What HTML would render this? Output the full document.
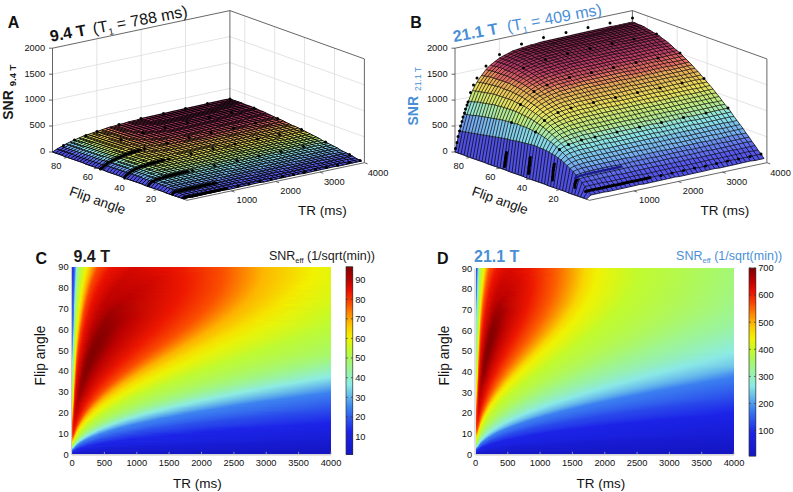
<!DOCTYPE html><html><head><meta charset="utf-8"><style>*{margin:0;padding:0}
body{width:793px;height:492px;overflow:hidden;background:#fff;position:relative;font-family:"Liberation Sans",sans-serif}
.hm,.cb{position:absolute;overflow:hidden}
.hm i{position:absolute;left:0;width:100%;height:1px;display:block}
svg{position:absolute;left:0;top:0}
text{font-family:"Liberation Sans",sans-serif}
</style></head><body><div class="hm" style="left:72px;top:267px;width:259px;height:187px"><i style="top:0px;background:linear-gradient(90deg,#1c24e8 0.2%,#253fea 0.6%,#356eee 1.0%,#5aaaec 1.4%,#8dece0 1.7%,#a4f872 2.5%,#c2fa2b 4.1%,#f2f100 5.6%,#fdad00 7.5%,#f94200 10.2%,#ea0f00 15.6%,#d60900 24.5%,#ed1700 41.9%,#fb4f00 58.1%,#fdb900 74.3%,#f0f202 94.0%,#e4f40c 99.8%)"></i><i style="top:1px;background:linear-gradient(90deg,#1d25e8 0.2%,#2640ea 0.6%,#3670ee 1.0%,#5daeec 1.4%,#8eecdb 1.7%,#a5f86e 2.5%,#d1f81c 4.4%,#f3ee00 5.6%,#fea700 7.5%,#fa4600 9.8%,#eb1100 14.9%,#d40800 23.7%,#ed1600 41.9%,#fb4f00 58.1%,#fdb900 74.3%,#f0f202 94.0%,#e4f40c 99.8%)"></i><i style="top:2px;background:linear-gradient(90deg,#1d26e8 0.2%,#2641eb 0.6%,#3671ef 1.0%,#60b2eb 1.4%,#8fedd7 1.7%,#a6f86b 2.5%,#d4f71a 4.4%,#f4eb00 5.6%,#fea100 7.5%,#f94200 9.8%,#ea0f00 14.9%,#d30800 23.4%,#ed1700 42.3%,#fb4e00 58.1%,#fdb900 74.3%,#f0f202 94.0%,#e4f40c 99.8%)"></i><i style="top:3px;background:linear-gradient(90deg,#1d26e8 0.2%,#2742eb 0.6%,#3773ef 1.0%,#64b6eb 1.4%,#90edd3 1.7%,#9cf497 2.1%,#a7f869 2.5%,#d6f718 4.4%,#f0f202 5.2%,#fdad00 7.1%,#fa4700 9.5%,#ec1200 14.1%,#d20800 22.6%,#e70e00 38.0%,#fb4e00 58.1%,#fdb700 73.9%,#f1f201 93.2%,#e4f40c 99.8%)"></i><i style="top:4px;background:linear-gradient(90deg,#1d27e8 0.2%,#2743eb 0.6%,#3774ef 1.0%,#67baeb 1.4%,#91eece 1.7%,#9df493 2.1%,#a8f867 2.5%,#d9f615 4.4%,#f2f100 5.2%,#fea800 7.1%,#f94300 9.5%,#eb0f00 14.1%,#d10700 22.2%,#e50d00 37.6%,#fb4e00 58.1%,#fdb700 73.9%,#f1f201 93.2%,#e4f40c 99.8%)"></i><i style="top:5px;background:linear-gradient(90deg,#1e28e8 0.2%,#2745eb 0.6%,#3876ef 1.0%,#6abeea 1.4%,#92eeca 1.7%,#9ef58e 2.1%,#a9f865 2.5%,#cdf820 4.1%,#f3ef00 5.2%,#fdb500 6.8%,#fa4900 9.1%,#ed1600 12.9%,#d10700 21.4%,#e10c00 36.1%,#f12600 47.3%,#fb4e00 58.1%,#fdb700 73.9%,#f1f201 93.2%,#e4f40c 99.8%)"></i><i style="top:6px;background:linear-gradient(90deg,#1e29e9 0.2%,#2846eb 0.6%,#3877ef 1.0%,#6dc2ea 1.4%,#93efc6 1.7%,#9ff589 2.1%,#aaf863 2.5%,#cff81d 4.1%,#f3ec00 5.2%,#fdaf00 6.8%,#f94400 9.1%,#ea0f00 13.7%,#cf0700 21.4%,#e00c00 36.1%,#f12600 47.3%,#fb4e00 58.1%,#fdb800 73.9%,#f1f201 93.2%,#e4f40c 99.8%)"></i><i style="top:7px;background:linear-gradient(90deg,#1e2ae9 0.2%,#2847eb 0.6%,#3979ef 1.0%,#70c7e9 1.4%,#94efc1 1.7%,#a0f684 2.1%,#abf861 2.5%,#d2f71b 4.1%,#f4e900 5.2%,#fea900 6.8%,#fa4c00 8.7%,#ef1d00 11.8%,#e10c00 14.9%,#cd0600 23.7%,#ed1600 42.7%,#fb4e00 58.1%,#fdb800 73.9%,#f1f201 93.2%,#e4f40c 99.8%)"></i><i style="top:8px;background:linear-gradient(90deg,#1f2be9 0.2%,#2848eb 0.6%,#397aef 1.0%,#74cbe9 1.4%,#95efbd 1.7%,#a1f680 2.1%,#acf85e 2.5%,#d5f719 4.1%,#f1f201 4.8%,#fdb800 6.4%,#fa4600 8.7%,#eb0f00 12.9%,#ce0600 20.3%,#da0a00 33.8%,#ee1b00 44.2%,#fb4e00 58.1%,#fdb800 73.9%,#f1f201 93.2%,#e4f40c 99.8%)"></i><i style="top:9px;background:linear-gradient(90deg,#1f2ce9 0.2%,#2949eb 0.6%,#3a7cef 1.0%,#77cfe9 1.4%,#96f0b8 1.7%,#a2f77b 2.1%,#b5f948 2.9%,#d7f717 4.1%,#f2f100 4.8%,#fdb200 6.4%,#f94200 8.7%,#e90f00 12.9%,#cd0600 20.3%,#da0a00 34.2%,#ef1c00 44.6%,#fb4e00 58.1%,#fdb600 73.6%,#f2f100 92.1%,#e3f40c 99.8%)"></i><i style="top:10px;background:linear-gradient(90deg,#1f2de9 0.2%,#294aeb 0.6%,#3a7df0 1.0%,#7ad4e8 1.4%,#96f0b4 1.7%,#a3f776 2.1%,#bffa32 3.3%,#f3ee00 4.8%,#fdac00 6.4%,#fa4a00 8.3%,#ed1600 11.8%,#cc0600 19.9%,#d80900 33.4%,#ee1b00 44.2%,#fb4f00 58.1%,#fdb700 73.6%,#f2f200 92.5%,#e3f50d 99.8%)"></i><i style="top:11px;background:linear-gradient(90deg,#202de9 0.2%,#2a4ceb 0.6%,#3b7ff0 1.0%,#7dd8e8 1.4%,#97f1af 1.7%,#a4f871 2.1%,#ccf820 3.7%,#f4eb00 4.8%,#fea600 6.4%,#f94400 8.3%,#eb1000 12.2%,#cc0600 19.1%,#d40800 31.9%,#ee1a00 43.8%,#fb4f00 58.1%,#fdb800 73.6%,#f1f200 92.5%,#e3f50d 99.8%)"></i><i style="top:12px;background:linear-gradient(90deg,#202ee9 0.2%,#2a4dec 0.6%,#3b80f0 1.0%,#81dce7 1.4%,#98f1ab 1.7%,#a5f86d 2.1%,#cff81e 3.7%,#eef304 4.4%,#fdb600 6.0%,#fb4e00 7.9%,#f22800 9.8%,#e30d00 12.9%,#c90500 20.3%,#da0a00 34.6%,#ef1c00 44.6%,#fb5000 58.1%,#fdb800 73.6%,#f0f201 92.9%,#e2f50d 99.8%)"></i><i style="top:13px;background:linear-gradient(90deg,#202fe9 0.2%,#2b4eec 0.6%,#3c82f0 1.0%,#84e1e7 1.4%,#a6f86b 2.1%,#d1f81c 3.7%,#f1f201 4.4%,#fdb000 6.0%,#fa4800 7.9%,#eb0f00 11.8%,#cb0500 18.3%,#d00700 30.3%,#ee1800 43.4%,#fb5000 58.1%,#fdb900 73.6%,#f0f202 92.9%,#e2f50e 99.8%)"></i><i style="top:14px;background:linear-gradient(90deg,#2030e9 0.2%,#2b4fec 0.6%,#3f86f0 1.0%,#88e5e7 1.4%,#9af2a1 1.7%,#a7f869 2.1%,#c3fa29 3.3%,#f2f100 4.4%,#fdaa00 6.0%,#f94300 7.9%,#e90e00 11.8%,#c90500 18.3%,#d00700 30.3%,#ee1800 43.4%,#fb4e00 57.7%,#fdb500 72.8%,#f3ee00 89.8%,#e2f50e 99.8%)"></i><i style="top:15px;background:linear-gradient(90deg,#2131e9 0.2%,#2b51ec 0.6%,#4289ef 1.0%,#8beae6 1.4%,#9bf39d 1.7%,#a8f867 2.1%,#c5fa27 3.3%,#f3ee00 4.4%,#fea500 6.0%,#fb4e00 7.5%,#f02100 9.8%,#e00c00 12.5%,#c60400 19.9%,#d90900 34.2%,#ee1b00 44.2%,#fb4f00 57.7%,#fdb600 72.8%,#f2f000 90.5%,#e1f50e 99.8%)"></i><i style="top:16px;background:linear-gradient(90deg,#2132e9 0.2%,#2c52ec 0.6%,#458def 1.0%,#8debe3 1.4%,#9cf398 1.7%,#a9f864 2.1%,#d9f615 3.7%,#f4eb00 4.4%,#fe9f00 6.0%,#fa4700 7.5%,#eb1000 11.0%,#c80500 17.6%,#cd0600 29.2%,#ee1800 43.4%,#fb5000 57.7%,#fdb700 72.8%,#f2f200 91.3%,#e1f50f 99.8%)"></i><i style="top:17px;background:linear-gradient(90deg,#2133e9 0.2%,#2c53ec 0.6%,#4891ef 1.0%,#8eecdf 1.4%,#9df493 1.7%,#aaf862 2.1%,#dcf613 3.7%,#f4e800 4.4%,#fdb000 5.6%,#f94300 7.5%,#ea0f00 11.0%,#c80400 17.2%,#cb0500 28.4%,#ee1900 43.4%,#fb4d00 57.3%,#fdb600 72.4%,#f3f000 89.8%,#e0f50f 99.8%)"></i><i style="top:18px;background:linear-gradient(90deg,#2234e9 0.2%,#2d54ec 0.6%,#4b95ee 1.0%,#8eecda 1.4%,#9ef48e 1.7%,#abf860 2.1%,#ccf820 3.3%,#eff303 4.1%,#fdaa00 5.6%,#fb4e00 7.1%,#f12400 9.1%,#e40d00 11.4%,#c50400 18.0%,#ce0600 29.9%,#ee1900 43.4%,#fb4f00 57.3%,#fdb500 72.0%,#f4eb00 87.8%,#e0f50f 99.8%)"></i><i style="top:19px;background:linear-gradient(90deg,#2235ea 0.2%,#2d56ec 0.6%,#4e99ee 1.0%,#8fedd6 1.4%,#9ff58a 1.7%,#acf85e 2.1%,#cff81e 3.3%,#f2f200 4.1%,#fea400 5.6%,#fa4700 7.1%,#ec1200 10.2%,#c70400 16.4%,#c70400 26.8%,#ed1800 43.1%,#fb5000 57.3%,#fdb600 72.0%,#f3f000 89.4%,#dff510 99.8%)"></i><i style="top:20px;background:linear-gradient(90deg,#2236ea 0.2%,#2d57ec 0.6%,#519ded 1.0%,#90edd2 1.4%,#a0f685 1.7%,#adf95c 2.1%,#d2f81c 3.3%,#f2f000 4.1%,#fe9f00 5.6%,#f94300 7.1%,#eb0f00 10.2%,#c70400 16.0%,#c60400 26.4%,#ed1800 43.1%,#fb4e00 56.9%,#fdb500 71.6%,#f4ec00 87.5%,#dff510 99.8%)"></i><i style="top:21px;background:linear-gradient(90deg,#2337ea 0.2%,#2e58ec 0.6%,#54a1ed 1.0%,#91eecd 1.4%,#a1f680 1.7%,#aef959 2.1%,#d4f719 3.3%,#f3ed00 4.1%,#fdb200 5.2%,#fb4f00 6.8%,#f22900 8.3%,#e50d00 10.6%,#c40300 16.8%,#c80500 28.0%,#ee1800 43.1%,#fb4f00 56.9%,#fdb600 71.6%,#f2f000 89.0%,#def511 99.8%)"></i><i style="top:22px;background:linear-gradient(90deg,#2338ea 0.2%,#2e59ed 0.6%,#57a5ed 1.0%,#92eec9 1.4%,#a2f77b 1.7%,#b9f93e 2.5%,#d7f717 3.3%,#f4ea00 4.1%,#fdac00 5.2%,#fa4900 6.8%,#eb1000 9.8%,#c50400 15.6%,#c40300 25.7%,#ed1700 42.7%,#fb4d00 56.6%,#fdb500 71.2%,#f3ee00 87.8%,#def511 99.8%)"></i><i style="top:23px;background:linear-gradient(90deg,#2339ea 0.2%,#2f5bed 0.6%,#5aa9ec 1.0%,#93efc4 1.4%,#a3f776 1.7%,#baf93c 2.5%,#ecf305 3.7%,#fcc000 4.8%,#f94300 6.8%,#e90e00 9.8%,#c50400 15.3%,#c20300 24.9%,#ed1800 42.7%,#fb4f00 56.6%,#fdb400 70.8%,#f4e900 85.5%,#ddf612 99.8%)"></i><i style="top:24px;background:linear-gradient(90deg,#243aea 0.2%,#2f5ced 0.6%,#5dadec 1.0%,#94efc0 1.4%,#a4f871 1.7%,#c8f924 2.9%,#eff303 3.7%,#fdbc00 4.8%,#fb5200 6.4%,#f63800 7.1%,#e70e00 9.8%,#c30300 15.6%,#c30300 25.7%,#ed1800 42.7%,#fb4d00 56.2%,#fdb400 70.5%,#f5e700 84.7%,#e1f50f 97.5%,#dcf612 99.8%)"></i><i style="top:25px;background:linear-gradient(90deg,#243bea 0.2%,#305eed 0.6%,#60b2eb 1.0%,#95f0bb 1.4%,#a5f86d 1.7%,#caf922 2.9%,#f1f201 3.7%,#fdb600 4.8%,#fa4c00 6.4%,#ee1900 8.7%,#d40800 11.8%,#bd0100 18.7%,#d50800 33.0%,#ee1a00 43.1%,#fb4f00 56.2%,#fdb500 70.5%,#f3ee00 86.7%,#dcf613 99.8%)"></i><i style="top:26px;background:linear-gradient(90deg,#253cea 0.2%,#305fed 0.6%,#64b6eb 1.0%,#96f0b7 1.4%,#a6f86b 1.7%,#cdf820 2.9%,#f2f000 3.7%,#fdb000 4.8%,#fa4500 6.4%,#eb1100 9.1%,#c40300 14.5%,#bf0200 23.7%,#ed1800 42.3%,#fb4e00 55.8%,#fdb400 70.1%,#f4ea00 85.1%,#dbf614 99.8%)"></i><i style="top:27px;background:linear-gradient(90deg,#253dea 0.2%,#3160ed 0.6%,#67baeb 1.0%,#97f1b2 1.4%,#a7f869 1.7%,#d0f81d 2.9%,#f3ee00 3.7%,#feaa00 4.8%,#f94200 6.4%,#ea0f00 9.1%,#c40300 14.1%,#bd0100 23.0%,#ed1700 41.9%,#fb5000 55.8%,#fdb600 70.1%,#f2f000 87.1%,#daf614 99.8%)"></i><i style="top:28px;background:linear-gradient(90deg,#253fea 0.2%,#3162ed 0.6%,#6abeea 1.0%,#98f1ad 1.4%,#a8f867 1.7%,#d2f71b 2.9%,#f4ea00 3.7%,#fea400 4.8%,#fb5000 6.0%,#f32d00 7.1%,#e80e00 9.1%,#c20300 14.1%,#bd0100 23.0%,#ed1700 41.9%,#fb4e00 55.4%,#fdb300 69.3%,#f5e700 83.2%,#e2f50d 95.2%,#d9f615 99.8%)"></i><i style="top:29px;background:linear-gradient(90deg,#2640ea 0.2%,#3263ed 0.6%,#6dc3ea 1.0%,#99f2a9 1.4%,#a9f864 1.7%,#d5f719 2.9%,#f5e700 3.7%,#fe9e00 4.8%,#fa4900 6.0%,#eb0f00 8.7%,#c30300 13.7%,#bc0100 22.6%,#ed1700 41.5%,#fb4d00 55.0%,#fdb300 68.9%,#f5e400 82.0%,#e6f40a 92.9%,#d9f616 99.8%)"></i><i style="top:30px;background:linear-gradient(90deg,#2641eb 0.2%,#3264ee 0.6%,#71c7e9 1.0%,#9af2a4 1.4%,#aaf862 1.7%,#c2fa2b 2.5%,#ecf305 3.3%,#fdb600 4.4%,#f94400 6.0%,#e90e00 8.7%,#c10200 13.7%,#bc0100 22.6%,#ed1700 41.5%,#fb4f00 55.0%,#fdb500 68.9%,#f3ec00 84.4%,#d8f616 99.8%)"></i><i style="top:31px;background:linear-gradient(90deg,#2642eb 0.2%,#36e 0.6%,#74cbe9 1.0%,#9bf39f 1.4%,#abf860 1.7%,#c3fa28 2.5%,#eff303 3.3%,#fdb000 4.4%,#fb5600 5.6%,#f63700 6.4%,#e70e00 8.7%,#c00200 13.7%,#bb0100 22.6%,#ed1600 41.1%,#fb4e00 54.6%,#fdb400 68.5%,#f4ea00 83.2%,#d7f717 99.8%)"></i><i style="top:32px;background:linear-gradient(90deg,#2743eb 0.2%,#3367ee 0.6%,#77d0e9 1.0%,#9cf39a 1.4%,#acf85e 1.7%,#c5fa26 2.5%,#f2f200 3.3%,#fcc800 4.1%,#fb4f00 5.6%,#f32b00 6.8%,#e50d00 8.7%,#bf0200 13.7%,#ba0000 22.2%,#ed1700 41.1%,#fb4d00 54.2%,#fdb400 68.1%,#f4e900 82.4%,#d9f615 98.3%,#d6f718 99.8%)"></i><i style="top:33px;background:linear-gradient(90deg,#2744eb 0.2%,#3469ee 0.6%,#7bd4e8 1.0%,#9df495 1.4%,#adf95b 1.7%,#c8f924 2.5%,#f3f000 3.3%,#fea400 4.4%,#fa4900 5.6%,#ec1200 7.9%,#c00200 12.9%,#b80000 20.7%,#ed1600 40.7%,#fb5000 54.2%,#fdb400 67.8%,#f4e800 81.7%,#dff510 94.8%,#d5f719 99.8%)"></i><i style="top:34px;background:linear-gradient(90deg,#2846eb 0.2%,#346aee 0.6%,#7ed9e8 1.0%,#9ef491 1.4%,#aef959 1.7%,#cbf922 2.5%,#f3ed00 3.3%,#fe9e00 4.4%,#f94300 5.6%,#eb0f00 7.9%,#c10200 12.5%,#b50000 19.5%,#ed1700 40.7%,#fb4f00 53.9%,#fdb400 67.4%,#f5e700 80.9%,#e3f50d 92.5%,#d4f719 99.8%)"></i><i style="top:35px;background:linear-gradient(90deg,#2847eb 0.2%,#356cee 0.6%,#82dde7 1.0%,#9ff58c 1.4%,#aff957 1.7%,#e5f40b 2.9%,#f4e900 3.3%,#fe9800 4.4%,#f84000 5.6%,#e90e00 7.9%,#c00200 12.5%,#b30000 19.1%,#ed1700 40.3%,#fb4e00 53.5%,#fdb400 67.0%,#f5e600 80.1%,#e5f40b 90.9%,#d3f71a 99.8%)"></i><i style="top:36px;background:linear-gradient(90deg,#2848eb 0.2%,#356dee 0.6%,#85e2e7 1.0%,#a0f587 1.4%,#b0f954 1.7%,#e8f409 2.9%,#facf00 3.7%,#fb5100 5.2%,#f22900 6.4%,#e70e00 7.9%,#be0200 12.5%,#b00000 18.7%,#ed1600 40.0%,#fb4d00 53.1%,#fdb400 66.6%,#f5e600 79.7%,#e4f40b 90.5%,#d2f71b 99.8%)"></i><i style="top:37px;background:linear-gradient(90deg,#2949eb 0.2%,#366fee 0.6%,#89e7e6 1.0%,#a1f682 1.4%,#b1f952 1.7%,#d3f71b 2.5%,#ebf306 2.9%,#fbcb00 3.7%,#fa4a00 5.2%,#eb0f00 7.5%,#c10200 11.8%,#ae0000 18.3%,#ed1700 40.0%,#fb5000 53.1%,#fdb600 66.6%,#f3f000 82.8%,#d1f81c 99.8%)"></i><i style="top:38px;background:linear-gradient(90deg,#294aeb 0.2%,#3670ef 0.6%,#8cebe6 1.0%,#a2f67d 1.4%,#b2f950 1.7%,#d5f718 2.5%,#edf304 2.9%,#fcc800 3.7%,#f94400 5.2%,#e90e00 7.5%,#bf0200 11.8%,#ac0000 18.0%,#ed1600 39.6%,#fb5000 52.7%,#fdb600 66.2%,#f2f000 82.4%,#d0f81d 99.8%)"></i><i style="top:39px;background:linear-gradient(90deg,#2a4ceb 0.2%,#3772ef 0.6%,#8dece1 1.0%,#a3f778 1.4%,#c0fa2e 2.1%,#f0f202 2.9%,#fcc300 3.7%,#fc5b00 4.8%,#f94100 5.2%,#e60e00 7.5%,#be0100 11.8%,#a00 17.6%,#ed1600 39.2%,#fb4f00 52.3%,#fdb400 65.4%,#f4e800 79.0%,#e0f510 91.3%,#cff81e 99.8%)"></i><i style="top:40px;background:linear-gradient(90deg,#2a4dec 0.2%,#3773ef 0.6%,#8eecdd 1.0%,#a4f872 1.4%,#c1fa2c 2.1%,#f2f100 2.9%,#fdbe00 3.7%,#fb5400 4.8%,#f53300 5.6%,#e40d00 7.5%,#bd0100 11.8%,#a80000 17.2%,#ed1500 38.8%,#fb4f00 51.9%,#fdb400 65.1%,#f4e800 78.6%,#def511 91.3%,#cef81f 99.8%)"></i><i style="top:41px;background:linear-gradient(90deg,#2b4eec 0.2%,#3875ef 0.6%,#8fecd8 1.0%,#a5f86e 1.4%,#c2fa29 2.1%,#f3ef00 2.9%,#fdb800 3.7%,#fb4d00 4.8%,#ef1c00 6.4%,#dc0b00 7.9%,#ad0000 14.1%,#a00 18.7%,#ed1600 38.8%,#fb4e00 51.5%,#fdb400 64.7%,#f4ea00 78.6%,#d0f81d 98.3%,#cdf820 99.8%)"></i><i style="top:42px;background:linear-gradient(90deg,#2b4fec 0.2%,#3877ef 0.6%,#90edd4 1.0%,#a6f86b 1.4%,#c4fa27 2.1%,#f4eb00 2.9%,#ff8e00 4.1%,#fa4600 4.8%,#ec1100 6.8%,#be0200 11.0%,#a40000 16.4%,#ec1400 38.0%,#fb4e00 51.2%,#fdb500 64.3%,#f4ea00 78.2%,#ccf921 99.8%)"></i><i style="top:43px;background:linear-gradient(90deg,#2b51ec 0.2%,#3978ef 0.6%,#91edcf 1.0%,#a7f869 1.4%,#c7f925 2.1%,#f4e800 2.9%,#fdac00 3.7%,#f94200 4.8%,#eb0f00 6.8%,#bf0200 10.6%,#a20000 16.0%,#ec1400 37.6%,#fb4e00 50.8%,#fdb200 63.5%,#f6e200 75.1%,#e8f408 85.1%,#caf922 99.8%)"></i><i style="top:44px;background:linear-gradient(90deg,#2c52ec 0.2%,#397aef 0.6%,#92eeca 1.0%,#a8f867 1.4%,#caf922 2.1%,#e6f40a 2.5%,#fbca00 3.3%,#fb5a00 4.4%,#f83f00 4.8%,#e90e00 6.8%,#be0100 10.6%,#a10000 15.6%,#ec1300 37.3%,#fb4e00 50.4%,#fdb300 63.1%,#f5e400 75.1%,#e7f40a 85.1%,#c9f923 99.8%)"></i><i style="top:45px;background:linear-gradient(90deg,#2c53ec 0.2%,#3a7bef 0.6%,#93eec6 1.0%,#a9f865 1.4%,#cdf820 2.1%,#e9f408 2.5%,#fcc600 3.3%,#fb5300 4.4%,#f43000 5.2%,#e60e00 6.8%,#bc0100 10.6%,#9f0000 15.3%,#b50000 20.7%,#ed1800 38.0%,#fb4e00 50.0%,#fdb300 62.7%,#f5e700 75.5%,#e3f50d 86.3%,#c8f924 99.8%)"></i><i style="top:46px;background:linear-gradient(90deg,#2d55ec 0.2%,#3a7df0 0.6%,#94efc1 1.0%,#aaf862 1.4%,#cff81e 2.1%,#ebf306 2.5%,#fcc100 3.3%,#fa4c00 4.4%,#ee1800 6.0%,#ce0600 8.3%,#9e0000 14.9%,#b20000 20.3%,#ed1700 37.6%,#fb4e00 49.6%,#fdb100 62.0%,#f6e000 72.8%,#e9f307 82.8%,#c7f925 99.8%)"></i><i style="top:47px;background:linear-gradient(90deg,#2d56ec 0.2%,#3b7ff0 0.6%,#95f0bc 1.0%,#abf860 1.4%,#d2f71b 2.1%,#eef303 2.5%,#fdbc00 3.3%,#fa4500 4.4%,#e90e00 6.4%,#be0200 9.8%,#9c0000 14.9%,#b30000 20.3%,#ed1700 37.3%,#fb4e00 49.2%,#fdb200 61.6%,#f6e100 72.8%,#e9f408 82.4%,#c5fa26 99.8%)"></i><i style="top:48px;background:linear-gradient(90deg,#2e58ec 0.2%,#3b81f0 0.6%,#96f0b7 1.0%,#acf85e 1.4%,#d5f719 2.1%,#f1f201 2.5%,#fdb600 3.3%,#f94200 4.4%,#e70e00 6.4%,#bd0100 9.8%,#9b0000 14.5%,#ad0000 19.5%,#ed1700 36.9%,#fb4e00 48.8%,#fdb300 61.2%,#f6e300 72.8%,#e7f409 82.4%,#c4fa27 99.8%)"></i><i style="top:49px;background:linear-gradient(90deg,#2e59ed 0.2%,#3c83f0 0.6%,#97f1b2 1.0%,#adf95b 1.4%,#d8f616 2.1%,#f2f000 2.5%,#ff8600 3.7%,#fc5c00 4.1%,#f83f00 4.4%,#eb1100 6.0%,#be0200 9.5%,#9a0000 14.1%,#ab0000 19.1%,#ec1300 35.7%,#fb4e00 48.5%,#fdb300 60.8%,#f5e500 72.8%,#e5f40b 82.8%,#c3fa28 99.8%)"></i><i style="top:50px;background:linear-gradient(90deg,#2f5aed 0.2%,#4087f0 0.6%,#98f1ae 1.0%,#aef959 1.4%,#daf614 2.1%,#f3ed00 2.5%,#fea900 3.3%,#fb5500 4.1%,#f42e00 4.8%,#ea0f00 6.0%,#bd0100 9.5%,#900 13.7%,#a60000 18.3%,#c30300 24.1%,#ed1800 36.5%,#fb4f00 48.1%,#fdb400 60.4%,#f4e800 73.2%,#ddf612 85.9%,#c2fa2a 99.8%)"></i><i style="top:51px;background:linear-gradient(90deg,#2f5ced 0.2%,#438bef 0.6%,#99f2a9 1.0%,#aff956 1.4%,#c0fa2f 1.7%,#f4ea00 2.5%,#fea300 3.3%,#fb4e00 4.1%,#f02000 5.2%,#e00c00 6.4%,#9a0000 12.9%,#9f0000 17.2%,#be0200 22.6%,#ed1800 36.1%,#fb4f00 47.7%,#fdb200 59.7%,#f6e300 70.8%,#e7f409 80.5%,#c2fa2b 99.8%)"></i><i style="top:52px;background:linear-gradient(90deg,#305ded 0.2%,#468fef 0.6%,#9af2a4 1.0%,#b0f954 1.4%,#c1fa2d 1.7%,#e0f50f 2.1%,#f5e600 2.5%,#fcc800 2.9%,#fa4700 4.1%,#ec1200 5.6%,#bd0100 9.1%,#970000 13.3%,#a40000 18.0%,#c00200 23.0%,#ed1700 35.7%,#fb4f00 47.3%,#fdb300 59.3%,#f5e500 70.8%,#e6f40a 80.5%,#c1fa2c 99.8%)"></i><i style="top:53px;background:linear-gradient(90deg,#305fed 0.2%,#4993ee 0.6%,#9bf39e 1.0%,#b1f951 1.4%,#c2fa2a 1.7%,#e3f50d 2.1%,#f6e300 2.5%,#fcc300 2.9%,#f94200 4.1%,#eb1000 5.6%,#bf0200 8.7%,#960000 12.9%,#a20000 17.6%,#bf0200 22.6%,#ed1700 35.3%,#fb5000 46.9%,#fdb400 58.9%,#f4e900 71.6%,#d4f719 87.8%,#c1fa2e 99.8%)"></i><i style="top:54px;background:linear-gradient(90deg,#3160ed 0.2%,#4c98ee 0.6%,#9cf399 1.0%,#b2f94f 1.4%,#c4fa27 1.7%,#e6f40a 2.1%,#f7df00 2.5%,#fdbd00 2.9%,#fc6100 3.7%,#f83f00 4.1%,#e90f00 5.6%,#bd0100 8.7%,#950000 12.5%,#9d0000 16.8%,#bd0100 21.8%,#ee1900 35.3%,#fb5000 46.5%,#fdb500 58.5%,#f3ee00 72.4%,#c0fa2f 99.8%)"></i><i style="top:55px;background:linear-gradient(90deg,#3162ed 0.2%,#509cee 0.6%,#9df494 1.0%,#b3f94c 1.4%,#c7f925 1.7%,#e9f408 2.1%,#fdb700 2.9%,#fb5a00 3.7%,#f73c00 4.1%,#e70e00 5.6%,#bc0100 8.7%,#940000 12.5%,#9e0000 16.8%,#be0200 21.8%,#ee1900 34.9%,#fb4d00 45.8%,#fdb100 57.3%,#f7df00 67.4%,#e9f408 77.0%,#bffa31 99.8%)"></i><i style="top:56px;background:linear-gradient(90deg,#3263ed 0.2%,#53a0ed 0.6%,#9ef48f 1.0%,#b5f94a 1.4%,#c9f923 1.7%,#ecf305 2.1%,#fdb100 2.9%,#fb5300 3.7%,#f32b00 4.4%,#e50d00 5.6%,#ba0000 8.7%,#930000 12.2%,#9c0000 16.4%,#bd0100 21.4%,#ee1800 34.6%,#fb4e00 45.4%,#fdb200 56.9%,#f6e100 67.4%,#e8f408 76.6%,#bffa31 99.4%,#bffa32 99.8%)"></i><i style="top:57px;background:linear-gradient(90deg,#3265ee 0.2%,#57a5ed 0.6%,#9ff58a 1.0%,#b6f947 1.4%,#eff303 2.1%,#fdab00 2.9%,#fa4b00 3.7%,#eb1000 5.2%,#bc0100 8.3%,#930000 11.8%,#970000 15.6%,#be0200 21.4%,#ee1800 34.2%,#fb4f00 45.0%,#fdb300 56.6%,#f5e500 67.8%,#e6f40a 77.0%,#bffa32 99.0%,#befa34 99.8%)"></i><i style="top:58px;background:linear-gradient(90deg,#36e 0.2%,#5aa9ec 0.6%,#a0f684 1.0%,#b7f945 1.4%,#f1f200 2.1%,#fea400 2.9%,#fa4500 3.7%,#e90e00 5.2%,#bb0100 8.3%,#910000 11.8%,#970000 15.6%,#be0100 21.0%,#ee1800 33.8%,#fb4f00 44.6%,#fdb200 55.8%,#f6e000 65.8%,#e9f408 75.1%,#bffa32 97.9%,#bdfa35 99.8%)"></i><i style="top:59px;background:linear-gradient(90deg,#3368ee 0.2%,#5daeec 0.6%,#a1f67f 1.0%,#b8f942 1.4%,#f3f000 2.1%,#fe9e00 2.9%,#f94100 3.7%,#e70e00 5.2%,#b90000 8.3%,#910000 11.4%,#960000 15.3%,#bd0100 20.7%,#ed1800 33.4%,#fb5000 44.2%,#fdb300 55.4%,#f5e400 66.2%,#e7f409 75.1%,#bffa32 97.1%,#bdfa37 99.8%)"></i><i style="top:60px;background:linear-gradient(90deg,#3469ee 0.2%,#61b3eb 0.6%,#a3f779 1.0%,#b9f93f 1.4%,#d5f719 1.7%,#f3ed00 2.1%,#fcc900 2.5%,#fc6400 3.3%,#f83e00 3.7%,#ec1300 4.8%,#bb0100 7.9%,#920000 11.0%,#940000 14.9%,#be0100 20.7%,#ed1800 33.0%,#fb4d00 43.4%,#fdb100 54.6%,#f6df00 64.3%,#eaf307 73.2%,#bffa32 95.9%,#bcfa38 99.8%)"></i><i style="top:61px;background:linear-gradient(90deg,#346bee 0.2%,#65b7eb 0.6%,#a4f774 1.0%,#baf93d 1.4%,#d8f616 1.7%,#f4e900 2.1%,#fcc400 2.5%,#fc5c00 3.3%,#f73b00 3.7%,#eb1000 4.8%,#be0100 7.5%,#900000 11.0%,#940000 14.9%,#bd0100 20.3%,#ed1800 32.6%,#fb4e00 43.1%,#fdb300 54.2%,#f5e500 65.1%,#e6f40a 73.9%,#bffa32 95.2%,#bbf93a 99.8%)"></i><i style="top:62px;background:linear-gradient(90deg,#356dee 0.2%,#68bcea 0.6%,#a5f86e 1.0%,#bbf93a 1.4%,#dbf614 1.7%,#f5e500 2.1%,#fcbf00 2.5%,#fb5500 3.3%,#f63800 3.7%,#ea0f00 4.8%,#bc0100 7.5%,#900000 10.6%,#900000 14.1%,#bd0100 19.9%,#ed1800 32.2%,#fb4f00 42.7%,#fdb100 53.5%,#f6e000 63.1%,#e9f408 72.0%,#bffa32 94.0%,#bbf93b 99.8%)"></i><i style="top:63px;background:linear-gradient(90deg,#356eee 0.2%,#6cc1ea 0.6%,#a6f86c 1.0%,#bcfa37 1.4%,#def511 1.7%,#f6e100 2.1%,#fdb900 2.5%,#fb4d00 3.3%,#ed1700 4.4%,#c30300 6.8%,#8e0000 10.6%,#900000 14.1%,#bd0100 19.9%,#ed1800 31.9%,#fb5000 42.3%,#fdb300 53.1%,#f5e500 63.9%,#e5f40b 72.8%,#bffa32 93.2%,#baf93d 99.8%)"></i><i style="top:64px;background:linear-gradient(90deg,#3670ee 0.2%,#6fc6ea 0.6%,#a7f869 1.0%,#befa35 1.4%,#e1f50f 1.7%,#f7de00 2.1%,#fe7a00 2.9%,#fa4600 3.3%,#ec1400 4.4%,#bd0100 7.1%,#8f0000 10.2%,#8f0000 13.7%,#bd0100 19.5%,#ed1800 31.5%,#fb4d00 41.5%,#fdb200 52.3%,#f6e100 62.0%,#e9f307 70.5%,#bffa31 92.1%,#b9f93f 99.8%)"></i><i style="top:65px;background:linear-gradient(90deg,#3772ef 0.2%,#73cae9 0.6%,#a8f867 1.0%,#bffa32 1.4%,#e4f40c 1.7%,#f8da00 2.1%,#f94200 3.3%,#ec1200 4.4%,#bc0100 7.1%,#8d0000 10.2%,#8f0000 13.7%,#bc0100 19.1%,#ed1800 31.1%,#fb4e00 41.1%,#fdb300 51.9%,#f5e500 62.4%,#e5f40b 71.2%,#bffa32 91.3%,#b9f940 99.8%)"></i><i style="top:66px;background:linear-gradient(90deg,#3773ef 0.2%,#77cfe9 0.6%,#a9f864 1.0%,#c0fa2f 1.4%,#e7f40a 1.7%,#f9d600 2.1%,#fd6b00 2.9%,#f83f00 3.3%,#eb0f00 4.4%,#be0200 6.8%,#8e0000 9.8%,#8d0000 13.3%,#bc0100 18.7%,#ed1800 30.7%,#fb5000 40.7%,#fdb200 51.2%,#f6e300 61.2%,#e7f409 69.7%,#bffa31 90.2%,#b8f942 99.8%)"></i><i style="top:67px;background:linear-gradient(90deg,#3875ef 0.2%,#7bd4e8 0.6%,#aaf862 1.0%,#c1fa2c 1.4%,#eaf307 1.7%,#fad200 2.1%,#fc6300 2.9%,#f73c00 3.3%,#e90e00 4.4%,#bd0100 6.8%,#8c0000 9.8%,#8e0000 13.3%,#bd0100 18.7%,#ed1800 30.3%,#fb5100 40.3%,#fdb400 50.8%,#f5e700 61.6%,#e1f50e 71.2%,#befa33 90.2%,#b7f944 99.8%)"></i><i style="top:68px;background:linear-gradient(90deg,#3877ef 0.2%,#7fdae8 0.6%,#abf85f 1.0%,#c2fa2a 1.4%,#edf304 1.7%,#face00 2.1%,#fc5c00 2.9%,#f63900 3.3%,#e60e00 4.4%,#bb0100 6.8%,#8d0000 9.5%,#8a0000 12.5%,#bc0100 18.3%,#ed1800 29.9%,#fb4e00 39.6%,#fdaf00 49.6%,#f7dd00 58.1%,#eaf307 67.0%,#bffa32 88.2%,#b6f946 99.8%)"></i><i style="top:69px;background:linear-gradient(90deg,#3979ef 0.2%,#83dfe7 0.6%,#acf85d 1.0%,#c4fa27 1.4%,#f0f202 1.7%,#fbcb00 2.1%,#fb5400 2.9%,#f63600 3.3%,#ec1400 4.1%,#b40000 7.1%,#8f0000 9.1%,#890000 12.2%,#bd0100 18.3%,#ee1800 29.5%,#fb4f00 39.2%,#fdb100 49.2%,#f6e100 58.5%,#e9f408 66.6%,#bffa31 87.1%,#b6f947 99.8%)"></i><i style="top:70px;background:linear-gradient(90deg,#397bef 0.2%,#87e4e7 0.6%,#aef95a 1.0%,#c7f924 1.4%,#f2f100 1.7%,#fcc600 2.1%,#fa4c00 2.9%,#f02100 3.7%,#e10c00 4.4%,#910000 8.7%,#860000 11.4%,#ae0000 16.0%,#ed1600 28.8%,#fa4c00 38.4%,#fdb000 48.5%,#f7de00 56.9%,#eaf307 65.4%,#bffa32 86.3%,#b5f949 99.8%)"></i><i style="top:71px;background:linear-gradient(90deg,#3a7cf0 0.2%,#8be9e6 0.6%,#aff957 1.0%,#caf922 1.4%,#f3ee00 1.7%,#fcc000 2.1%,#fa4500 2.9%,#eb0f00 4.1%,#bb0100 6.4%,#8b0000 9.1%,#8a0000 12.2%,#bc0100 17.6%,#ee1800 28.8%,#fb4e00 38.0%,#fdb200 48.1%,#f6e000 56.9%,#e9f408 65.1%,#bffa31 85.1%,#b4f94b 99.8%)"></i><i style="top:72px;background:linear-gradient(90deg,#3b7ef0 0.2%,#8debe3 0.6%,#b0f955 1.0%,#cdf81f 1.4%,#f4ea00 1.7%,#fdbb00 2.1%,#f94100 2.9%,#e80e00 4.1%,#970000 7.9%,#840000 10.2%,#9c0000 14.1%,#bd0100 17.6%,#ee1900 28.4%,#fb5000 37.6%,#fdb100 47.3%,#f7df00 55.8%,#eaf307 63.9%,#bffa31 84.0%,#b3f94d 99.8%)"></i><i style="top:73px;background:linear-gradient(90deg,#3b80f0 0.2%,#8eecde 0.6%,#b1f952 1.0%,#d0f81d 1.4%,#f5e600 1.7%,#fdb400 2.1%,#fd7100 2.5%,#f83e00 2.9%,#e60d00 4.1%,#940000 7.9%,#830000 10.2%,#9e0000 14.1%,#bc0100 17.2%,#ee1900 28.0%,#fa4d00 36.9%,#fdb000 46.5%,#f7dd00 54.6%,#eaf307 63.1%,#bffa32 83.2%,#b2f94f 99.8%)"></i><i style="top:74px;background:linear-gradient(90deg,#3c82f0 0.2%,#8fecd8 0.6%,#b2f94f 1.0%,#d3f71a 1.4%,#f6e200 1.7%,#fdad00 2.1%,#fd6a00 2.5%,#f73b00 2.9%,#ed1500 3.7%,#bc0100 6.0%,#8c0000 8.3%,#850000 11.0%,#be0100 17.2%,#ee1900 27.6%,#fb4e00 36.5%,#fdb200 46.1%,#f6e100 55.0%,#e9f408 62.7%,#bffa31 82.0%,#b2f951 99.8%)"></i><i style="top:75px;background:linear-gradient(90deg,#4087f0 0.2%,#90edd3 0.6%,#b3f94d 1.0%,#d7f717 1.4%,#f7de00 1.7%,#fc6200 2.5%,#f63800 2.9%,#ec1200 3.7%,#a70000 6.8%,#870000 8.7%,#8b0000 11.8%,#bd0100 16.8%,#ee1900 27.2%,#fb5000 36.1%,#fdb400 45.8%,#f4e800 55.8%,#e0f510 65.1%,#befa34 82.0%,#b1f953 99.8%)"></i><i style="top:76px;background:linear-gradient(90deg,#438cef 0.2%,#91eece 0.6%,#b5f94a 1.0%,#daf615 1.4%,#f8da00 1.7%,#fb5a00 2.5%,#f53500 2.9%,#eb0f00 3.7%,#be0100 5.6%,#800 8.3%,#860000 11.0%,#bc0100 16.4%,#ed1700 26.4%,#fa4d00 35.3%,#fdaf00 44.6%,#f7dc00 52.3%,#ebf306 60.4%,#bffa31 79.7%,#b0f955 99.8%)"></i><i style="top:77px;background:linear-gradient(90deg,#4790ef 0.2%,#92eec8 0.6%,#b6f947 1.0%,#ddf612 1.4%,#f9d600 1.7%,#fb5200 2.5%,#f43100 2.9%,#e90e00 3.7%,#bc0100 5.6%,#8a0000 7.9%,#850000 10.6%,#be0100 16.4%,#ed1700 26.1%,#fb4f00 34.9%,#fdb200 44.2%,#f6e100 52.7%,#e9f408 60.0%,#bffa32 79.0%,#aff957 99.8%)"></i><i style="top:78px;background:linear-gradient(90deg,#4b95ee 0.2%,#93efc3 0.6%,#b7f944 1.0%,#e0f50f 1.4%,#fad200 1.7%,#fa4a00 2.5%,#ee1a00 3.3%,#da0a00 4.1%,#800 7.9%,#860000 10.6%,#bd0100 16.0%,#ed1700 25.7%,#fb5100 34.6%,#fdb100 43.4%,#f7de00 51.2%,#eaf307 58.9%,#bffa31 77.8%,#aef959 99.8%)"></i><i style="top:79px;background:linear-gradient(90deg,#4e9aee 0.2%,#94efbe 0.6%,#b8f941 1.0%,#e3f50d 1.4%,#face00 1.7%,#f94300 2.5%,#ed1700 3.3%,#c60400 4.8%,#870000 7.9%,#870000 10.6%,#bd0100 15.6%,#ed1700 25.3%,#fb4d00 33.8%,#fdb000 42.7%,#f7dc00 50.0%,#ebf306 57.7%,#bffa31 76.6%,#adf95b 99.8%)"></i><i style="top:80px;background:linear-gradient(90deg,#529fed 0.2%,#96f0b8 0.6%,#b9f93e 1.0%,#e7f40a 1.4%,#fbca00 1.7%,#f84000 2.5%,#ec1400 3.3%,#bd0100 5.2%,#890000 7.5%,#830000 9.8%,#be0100 15.6%,#ed1800 24.9%,#fb4f00 33.4%,#fdb200 42.3%,#f6e100 50.4%,#e9f408 57.7%,#bffa32 75.9%,#acf85d 99.8%)"></i><i style="top:81px;background:linear-gradient(90deg,#56a4ed 0.2%,#97f1b2 0.6%,#bbf93b 1.0%,#eaf307 1.4%,#fcc500 1.7%,#fe7900 2.1%,#f73d00 2.5%,#ec1200 3.3%,#bc0100 5.2%,#870000 7.5%,#860000 10.2%,#bb0100 14.9%,#ed1800 24.5%,#fa4c00 32.6%,#fdb100 41.5%,#f7df00 49.2%,#eaf307 56.6%,#bffa32 74.7%,#acf85f 99.8%)"></i><i style="top:82px;background:linear-gradient(90deg,#5aa9ec 0.2%,#98f1ac 0.6%,#bcfa38 1.0%,#edf304 1.4%,#fcbf00 1.7%,#fd7000 2.1%,#f73900 2.5%,#eb0f00 3.3%,#980000 6.4%,#810000 8.3%,#930000 11.4%,#b00 14.5%,#ed1800 24.1%,#fb4e00 32.2%,#fdb000 40.7%,#f7dd00 48.1%,#ebf306 55.4%,#bffa31 73.6%,#abf861 99.8%)"></i><i style="top:83px;background:linear-gradient(90deg,#5eaeec 0.2%,#99f2a7 0.6%,#bdfa35 1.0%,#f0f201 1.4%,#fdb900 1.7%,#fc6800 2.1%,#f63600 2.5%,#e80e00 3.3%,#950000 6.4%,#800000 8.3%,#960000 11.4%,#bc0100 14.5%,#ed1800 23.7%,#fb5000 31.9%,#fdb200 40.3%,#f6e200 48.5%,#e8f409 55.4%,#bffa32 72.8%,#aaf863 99.8%)"></i><i style="top:84px;background:linear-gradient(90deg,#62b3eb 0.2%,#9af3a1 0.6%,#bffa32 1.0%,#f2f000 1.4%,#fdb200 1.7%,#fc6000 2.1%,#f53300 2.5%,#e50d00 3.3%,#920000 6.4%,#800000 8.3%,#900 11.4%,#bb0100 14.1%,#ee1800 23.4%,#fb4d00 31.1%,#fdb100 39.6%,#f7df00 46.9%,#eaf307 53.9%,#bffa31 71.2%,#a9f865 99.8%)"></i><i style="top:85px;background:linear-gradient(90deg,#66b9eb 0.2%,#9cf39b 0.6%,#c0fa2f 1.0%,#f3ed00 1.4%,#fdaa00 1.7%,#fb5700 2.1%,#f42f00 2.5%,#e30d00 3.3%,#900000 6.4%,#800000 8.3%,#9c0000 11.4%,#bd0100 14.1%,#ee1900 23.0%,#fb4f00 30.7%,#fdb000 38.8%,#f7dd00 45.8%,#ebf306 52.7%,#bffa31 70.1%,#a8f867 99.8%)"></i><i style="top:86px;background:linear-gradient(90deg,#6abeea 0.2%,#9df495 0.6%,#c1fa2c 1.0%,#f4e900 1.4%,#fea300 1.7%,#fb4f00 2.1%,#f32c00 2.5%,#ed1600 2.9%,#ba0000 4.8%,#8d0000 6.4%,#800000 8.3%,#a50000 11.8%,#be0200 14.1%,#ee1900 22.6%,#fb5100 30.3%,#fdb300 38.4%,#f5e400 46.5%,#e6f40b 53.5%,#bffa32 69.3%,#a7f869 99.8%)"></i><i style="top:87px;background:linear-gradient(90deg,#6ec4ea 0.2%,#9ef48f 0.6%,#c3fa29 1.0%,#f5e400 1.4%,#fe9b00 1.7%,#fa4700 2.1%,#ec1200 2.9%,#bf0200 4.4%,#8b0000 6.4%,#810000 8.3%,#a90000 11.8%,#c00200 14.1%,#ee1900 22.2%,#fb4e00 29.5%,#fdb200 37.6%,#f6e100 45.0%,#e9f408 51.5%,#bffa31 68.1%,#a6f86b 99.8%)"></i><i style="top:88px;background:linear-gradient(90deg,#72c9e9 0.2%,#a0f588 0.6%,#c5fa26 1.0%,#f6e000 1.4%,#ff9400 1.7%,#f94200 2.1%,#eb0f00 2.9%,#bd0100 4.4%,#890000 6.4%,#810000 8.3%,#ad0000 11.8%,#eb1100 20.7%,#fb5000 29.2%,#fdb000 36.9%,#f7dd00 43.4%,#eaf307 50.4%,#bffa31 67.0%,#a5f86e 99.8%)"></i><i style="top:89px;background:linear-gradient(90deg,#77cfe9 0.2%,#a1f682 0.6%,#c8f923 1.0%,#f7dc00 1.4%,#ff8c00 1.7%,#f83e00 2.1%,#e90e00 2.9%,#960000 5.6%,#810000 7.1%,#920000 9.8%,#bc0100 12.9%,#ed1700 21.0%,#fa4c00 28.4%,#fdaf00 36.1%,#f8db00 42.3%,#ebf306 49.2%,#bffa31 65.8%,#a4f872 99.8%)"></i><i style="top:90px;background:linear-gradient(90deg,#7bd5e8 0.2%,#a2f77c 0.6%,#ccf820 1.0%,#f8d800 1.4%,#fe8400 1.7%,#f73b00 2.1%,#e60e00 2.9%,#930000 5.6%,#800000 7.1%,#950000 9.8%,#bb0100 12.5%,#ed1700 20.7%,#fb4f00 28.0%,#fdae00 35.3%,#f8da00 41.5%,#ebf306 48.5%,#bffa31 64.7%,#a3f777 99.8%)"></i><i style="top:91px;background:linear-gradient(90deg,#80dbe8 0.2%,#a4f775 0.6%,#cff81e 1.0%,#f9d300 1.4%,#fe7b00 1.7%,#f63700 2.1%,#e30d00 2.9%,#910000 5.6%,#810000 7.5%,#a50000 10.6%,#c00200 12.9%,#ed1700 20.3%,#fb5100 27.6%,#fdb100 34.9%,#f6e000 41.9%,#e9f307 48.1%,#bffa32 63.9%,#a2f67d 99.8%)"></i><i style="top:92px;background:linear-gradient(90deg,#84e1e7 0.2%,#a5f86e 0.6%,#d3f71b 1.0%,#facf00 1.4%,#fd7200 1.7%,#f53400 2.1%,#ee1900 2.5%,#d20800 3.3%,#a50000 4.8%,#830000 6.4%,#8b0000 8.7%,#bc0100 12.2%,#ed1700 19.9%,#fb4d00 26.8%,#fdaf00 34.2%,#f7dc00 40.3%,#eaf306 46.9%,#bffa32 62.7%,#a2f67e 98.6%,#a1f682 99.8%)"></i><i style="top:93px;background:linear-gradient(90deg,#89e7e6 0.2%,#a6f86b 0.6%,#d6f718 1.0%,#fbca00 1.4%,#fd6900 1.7%,#f43100 2.1%,#ed1600 2.5%,#bc0100 4.1%,#8c0000 5.6%,#820000 7.5%,#ad0000 10.6%,#ec1100 18.7%,#fb4f00 26.4%,#fdae00 33.4%,#f8da00 39.2%,#ecf306 45.8%,#bffa32 61.6%,#a2f67f 97.1%,#a0f587 99.8%)"></i><i style="top:94px;background:linear-gradient(90deg,#8cebe4 0.2%,#a7f868 0.6%,#daf615 1.0%,#fcc500 1.4%,#fc6000 1.7%,#f32d00 2.1%,#ec1300 2.5%,#ad0000 4.4%,#8a0000 5.6%,#830000 7.5%,#bd0100 11.8%,#ed1700 19.1%,#fb5200 26.1%,#fdb100 33.0%,#f7de00 39.2%,#eaf307 45.4%,#bffa31 60.4%,#a2f67e 95.2%,#9ff58d 99.8%)"></i><i style="top:95px;background:linear-gradient(90deg,#8eecde 0.2%,#a9f865 0.6%,#ddf612 1.0%,#fcbf00 1.4%,#fb5700 1.7%,#f22a00 2.1%,#eb0f00 2.5%,#c10200 3.7%,#800 5.6%,#850000 7.5%,#bc0100 11.4%,#ed1700 18.7%,#fb4e00 25.3%,#fdb000 32.2%,#f7dc00 38.0%,#ebf306 44.2%,#bffa31 59.3%,#a2f67e 93.6%,#9df492 99.8%)"></i><i style="top:96px;background:linear-gradient(90deg,#8fecd8 0.2%,#aaf862 0.6%,#e1f50f 1.0%,#fdb700 1.4%,#fb4f00 1.7%,#f12600 2.1%,#e90e00 2.5%,#bf0200 3.7%,#8d0000 5.2%,#810000 6.8%,#a40000 9.5%,#be0200 11.4%,#ed1700 18.3%,#fb5000 24.9%,#fdae00 31.5%,#f7dc00 37.3%,#ebf306 43.4%,#bffa31 58.1%,#a2f67f 92.1%,#9cf398 99.8%)"></i><i style="top:97px;background:linear-gradient(90deg,#90edd2 0.2%,#abf85f 0.6%,#e4f40c 1.0%,#fdaf00 1.4%,#fa4600 1.7%,#f02300 2.1%,#e60d00 2.5%,#940000 4.8%,#810000 6.4%,#900 8.7%,#ba0000 10.6%,#ed1700 18.0%,#fa4b00 24.1%,#fdad00 30.7%,#f8d900 36.1%,#ecf305 42.3%,#bffa31 56.9%,#a2f67e 90.2%,#9bf39d 99.8%)"></i><i style="top:98px;background:linear-gradient(90deg,#91eecc 0.2%,#adf95c 0.6%,#e8f408 1.0%,#fea700 1.4%,#f94100 1.7%,#f02000 2.1%,#e30d00 2.5%,#920000 4.8%,#820000 6.4%,#9d0000 8.7%,#bc0100 10.6%,#ed1800 17.6%,#fb4e00 23.7%,#fdb000 30.3%,#f7db00 35.7%,#ecf305 41.5%,#bffa31 55.8%,#a2f67e 88.6%,#9af2a3 99.8%)"></i><i style="top:99px;background:linear-gradient(90deg,#93eec6 0.2%,#aef959 0.6%,#ecf305 1.0%,#fe9f00 1.4%,#f83d00 1.7%,#ef1c00 2.1%,#d00700 2.9%,#800 5.2%,#850000 6.8%,#be0100 10.6%,#ed1800 17.2%,#fb5000 23.4%,#fdae00 29.5%,#f8d900 34.6%,#ebf306 40.7%,#bffa32 55.0%,#a2f67e 87.1%,#99f2a8 99.8%)"></i><i style="top:100px;background:linear-gradient(90deg,#94efbf 0.2%,#aff956 0.6%,#f0f202 1.0%,#fe9700 1.4%,#f73a00 1.7%,#ee1900 2.1%,#ce0600 2.9%,#8d0000 4.8%,#840000 6.4%,#ae0000 9.1%,#ed1800 16.8%,#fa4b00 22.6%,#fdac00 28.8%,#f8d800 33.8%,#ebf306 40.0%,#bffa31 53.9%,#a1f67f 85.5%,#98f1ae 99.8%)"></i><i style="top:101px;background:linear-gradient(90deg,#95f0b9 0.2%,#b1f953 0.6%,#f2f100 1.0%,#ff8f00 1.4%,#f63600 1.7%,#ed1500 2.1%,#c00200 3.3%,#8c0000 4.8%,#850000 6.4%,#bf0200 10.2%,#ed1800 16.4%,#fb4d00 22.2%,#fdaf00 28.4%,#f7dd00 33.8%,#ebf306 39.2%,#bffa31 52.7%,#a2f67e 83.6%,#96f0b4 99.8%)"></i><i style="top:102px;background:linear-gradient(90deg,#97f1b2 0.2%,#b2f94f 0.6%,#f3ed00 1.0%,#ff8600 1.4%,#f53200 1.7%,#ec1200 2.1%,#b30000 3.7%,#8a0000 4.8%,#870000 6.4%,#be0100 9.8%,#ed1800 16.0%,#fb5000 21.8%,#fdad00 27.6%,#f8d800 32.2%,#ecf305 38.0%,#bffa31 51.5%,#a2f67e 82.0%,#95f0ba 99.8%)"></i><i style="top:103px;background:linear-gradient(90deg,#98f1ac 0.2%,#b4f94c 0.6%,#f4e800 1.0%,#fe7c00 1.4%,#f42f00 1.7%,#eb0f00 2.1%,#9c0000 4.1%,#850000 5.2%,#940000 7.1%,#bd0100 9.5%,#ed1700 15.6%,#fa4a00 21.0%,#fdab00 26.8%,#f8d700 31.5%,#ecf305 37.3%,#bffa31 50.4%,#a2f67f 80.5%,#94efbf 99.8%)"></i><i style="top:104px;background:linear-gradient(90deg,#9af2a5 0.2%,#b5f949 0.6%,#f5e300 1.0%,#fd7300 1.4%,#f32b00 1.7%,#e80e00 2.1%,#900 4.1%,#850000 5.2%,#970000 7.1%,#bb0100 9.1%,#ed1700 15.3%,#fa4c00 20.7%,#fdae00 26.4%,#f7dc00 31.5%,#ecf305 36.5%,#bffa30 49.2%,#a2f67d 78.6%,#93efc5 99.8%)"></i><i style="top:105px;background:linear-gradient(90deg,#9bf39e 0.2%,#b6f945 0.6%,#f7df00 1.0%,#fd6900 1.4%,#f22800 1.7%,#e50d00 2.1%,#970000 4.1%,#850000 5.2%,#9b0000 7.1%,#ba0000 8.7%,#ed1700 14.9%,#fb4f00 20.3%,#fdac00 25.7%,#f8d900 30.3%,#ebf306 35.7%,#bffa31 48.5%,#a2f67e 77.0%,#92eecb 99.8%)"></i><i style="top:106px;background:linear-gradient(90deg,#9df497 0.2%,#b8f942 0.6%,#f8da00 1.0%,#fc5f00 1.4%,#f12400 1.7%,#e20c00 2.1%,#940000 4.1%,#860000 5.2%,#a00000 7.1%,#bf0200 9.1%,#ed1700 14.5%,#fb5100 19.9%,#fdaf00 25.3%,#f7db00 29.9%,#ebf306 34.9%,#bffa31 47.3%,#a2f67e 75.5%,#90edd1 99.8%)"></i><i style="top:107px;background:linear-gradient(90deg,#9ef490 0.2%,#baf93e 0.6%,#f9d500 1.0%,#fb5600 1.4%,#f02000 1.7%,#df0c00 2.1%,#920000 4.1%,#870000 5.2%,#a40000 7.1%,#be0200 8.7%,#ed1700 14.1%,#fa4b00 19.1%,#fdad00 24.5%,#f8d800 28.8%,#ebf306 34.2%,#bffa31 46.1%,#a2f67f 73.9%,#8fedd7 99.8%)"></i><i style="top:108px;background:linear-gradient(90deg,#a0f588 0.2%,#bbf93b 0.6%,#fad000 1.0%,#fa4c00 1.4%,#ef1d00 1.7%,#dd0b00 2.1%,#900000 4.1%,#800 5.2%,#c00200 8.7%,#ed1600 13.7%,#fa4d00 18.7%,#fdaa00 23.7%,#f8d800 28.0%,#edf304 33.0%,#bffa31 45.0%,#a1f67f 72.4%,#8eecdd 99.8%)"></i><i style="top:109px;background:linear-gradient(90deg,#a1f681 0.2%,#bdfa37 0.6%,#fbcb00 1.0%,#f94300 1.4%,#ee1900 1.7%,#c80500 2.5%,#8f0000 4.1%,#890000 5.2%,#bb0100 7.9%,#ed1600 13.3%,#fb4e00 18.3%,#fdad00 23.4%,#f8da00 27.6%,#ebf306 32.6%,#bffa31 44.2%,#a2f67d 70.5%,#8dece1 99.0%,#8debe3 99.8%)"></i><i style="top:110px;background:linear-gradient(90deg,#a3f779 0.2%,#befa33 0.6%,#fcc500 1.0%,#f83f00 1.4%,#ed1600 1.7%,#ba0000 2.9%,#8e0000 4.1%,#8b0000 5.2%,#bd0100 7.9%,#ed1600 12.9%,#fb5000 18.0%,#fdb100 23.0%,#f7df00 27.6%,#ebf306 31.9%,#bffa31 43.1%,#a2f67e 68.9%,#8debe2 97.1%,#89e8e6 99.8%)"></i><i style="top:111px;background:linear-gradient(90deg,#a4f871 0.2%,#c0fa2f 0.6%,#fdbe00 1.0%,#f73b00 1.4%,#ec1200 1.7%,#a40000 3.3%,#8d0000 4.1%,#8e0000 5.2%,#bc0100 7.5%,#ed1500 12.5%,#fa4900 17.2%,#fdae00 22.2%,#f8d800 26.1%,#edf305 30.7%,#bffa31 41.9%,#a2f67e 67.4%,#8dece1 94.8%,#85e1e7 99.8%)"></i><i style="top:112px;background:linear-gradient(90deg,#a6f86c 0.2%,#c1fa2c 0.6%,#fdb500 1.0%,#f63800 1.4%,#eb0f00 1.7%,#c20300 2.5%,#930000 3.7%,#8c0000 4.8%,#be0200 7.5%,#ee1900 12.5%,#fa4b00 16.8%,#fdaa00 21.4%,#f8d800 25.3%,#edf305 29.9%,#bffa30 40.7%,#a2f67e 65.8%,#8debe2 92.9%,#80dbe8 99.8%)"></i><i style="top:113px;background:linear-gradient(90deg,#a7f869 0.2%,#c3fa28 0.6%,#fdac00 1.0%,#f53400 1.4%,#e80e00 1.7%,#c00200 2.5%,#920000 3.7%,#8e0000 4.8%,#bc0100 7.1%,#ee1900 12.2%,#fa4d00 16.4%,#fdad00 21.0%,#f8da00 24.9%,#edf305 29.2%,#bffa31 40.0%,#a2f67e 64.3%,#8debe2 90.5%,#7bd4e8 99.8%)"></i><i style="top:114px;background:linear-gradient(90deg,#a9f865 0.2%,#c7f924 0.6%,#fea300 1.0%,#f43000 1.4%,#e50d00 1.7%,#9c0000 3.3%,#8d0000 4.4%,#bf0200 7.1%,#ee1800 11.8%,#fb4e00 16.0%,#fdb000 20.7%,#f7dc00 24.5%,#eaf306 28.8%,#bffa31 38.8%,#a2f67f 62.7%,#8debe2 88.6%,#75cde9 99.8%)"></i><i style="top:115px;background:linear-gradient(90deg,#aaf862 0.2%,#cbf921 0.6%,#fe9a00 1.0%,#f32c00 1.4%,#e20c00 1.7%,#9a0000 3.3%,#8f0000 4.4%,#bd0100 6.8%,#ed1800 11.4%,#fb5000 15.6%,#fdad00 19.9%,#f8d800 23.4%,#edf305 27.6%,#c0fa30 37.6%,#a2f67f 61.2%,#8debe2 86.3%,#70c7e9 99.8%)"></i><i style="top:116px;background:linear-gradient(90deg,#acf85e 0.2%,#d0f81d 0.6%,#ff9100 1.0%,#f22800 1.4%,#df0b00 1.7%,#980000 3.3%,#910000 4.4%,#bb0100 6.4%,#ed1700 11.0%,#fb5100 15.3%,#fdb000 19.5%,#f8da00 23.0%,#edf304 26.8%,#bffa31 36.9%,#a2f67f 59.7%,#8debe3 84.4%,#6bc0ea 99.8%)"></i><i style="top:117px;background:linear-gradient(90deg,#adf95a 0.2%,#d4f71a 0.6%,#ff8700 1.0%,#f12400 1.4%,#dc0a00 1.7%,#970000 3.3%,#940000 4.4%,#bd0100 6.4%,#ed1600 10.6%,#fa4800 14.5%,#fdac00 18.7%,#f8d900 22.2%,#edf304 26.1%,#bffa30 35.7%,#a2f67f 58.1%,#8debe2 82.0%,#66b9eb 99.8%)"></i><i style="top:118px;background:linear-gradient(90deg,#aff956 0.2%,#d8f616 0.6%,#fe7c00 1.0%,#f02000 1.4%,#d90a00 1.7%,#960000 3.3%,#970000 4.4%,#bb0100 6.0%,#ed1500 10.2%,#fa4900 14.1%,#fea700 18.0%,#f9d400 21.0%,#edf304 25.3%,#bffa31 34.9%,#a2f67f 56.6%,#8debe3 80.1%,#61b3eb 99.8%)"></i><i style="top:119px;background:linear-gradient(90deg,#b1f953 0.2%,#ddf612 0.6%,#fd7100 1.0%,#ef1c00 1.4%,#d70900 1.7%,#950000 3.3%,#9b0000 4.4%,#bd0100 6.0%,#ec1400 9.8%,#fa4a00 13.7%,#feaa00 17.6%,#f9d600 20.7%,#eef304 24.5%,#bffa30 33.8%,#a2f67f 55.0%,#8debe2 77.8%,#5cacec 99.8%)"></i><i style="top:120px;background:linear-gradient(90deg,#b2f94f 0.2%,#e1f50e 0.6%,#fc6600 1.0%,#ee1800 1.4%,#c10200 2.1%,#950000 3.3%,#9f0000 4.4%,#bb0100 5.6%,#ee1800 9.8%,#fa4b00 13.3%,#fdad00 17.2%,#f8d800 20.3%,#ebf306 24.1%,#bffa31 33.0%,#a2f67e 53.5%,#8debe3 75.9%,#57a5ed 99.8%)"></i><i style="top:121px;background:linear-gradient(90deg,#b4f94b 0.2%,#e5f40b 0.6%,#fc5b00 1.0%,#ed1500 1.4%,#bf0200 2.1%,#9d0000 2.9%,#960000 3.7%,#c30300 6.0%,#ed1700 9.5%,#fa4c00 12.9%,#fea700 16.4%,#f9d300 19.1%,#ecf305 23.4%,#bffa30 31.9%,#a2f67e 51.9%,#8debe2 73.6%,#519eed 99.8%)"></i><i style="top:122px;background:linear-gradient(90deg,#b6f947 0.2%,#eaf307 0.6%,#fb5000 1.0%,#ec1100 1.4%,#be0100 2.1%,#9c0000 2.9%,#980000 3.7%,#c00200 5.6%,#ed1600 9.1%,#fa4c00 12.5%,#feaa00 16.0%,#f9d500 18.7%,#ecf305 22.6%,#bffa31 31.1%,#a2f67e 50.4%,#8dece1 71.2%,#4c97ee 99.8%)"></i><i style="top:123px;background:linear-gradient(90deg,#b8f942 0.2%,#eff303 0.6%,#fa4600 1.0%,#e90f00 1.4%,#cd0600 1.7%,#9c0000 2.9%,#9b0000 3.7%,#c30300 5.6%,#ed1500 8.7%,#fa4d00 12.2%,#fdad00 15.6%,#f7db00 18.7%,#edf304 21.8%,#c0fa30 29.9%,#a2f67d 48.8%,#8dece1 69.3%,#4790ef 99.8%)"></i><i style="top:124px;background:linear-gradient(90deg,#b9f93e 0.2%,#f2f100 0.6%,#f84000 1.0%,#e60e00 1.4%,#bb0100 2.1%,#9c0000 2.9%,#9e0000 3.7%,#c00200 5.2%,#ee1900 8.7%,#fa4d00 11.8%,#fea600 14.9%,#f9d500 17.6%,#eef304 21.0%,#bffa31 29.2%,#a1f67f 47.7%,#8debe3 67.8%,#4189ef 99.8%)"></i><i style="top:125px;background:linear-gradient(90deg,#bbf93a 0.2%,#f3ec00 0.6%,#f73c00 1.0%,#e30d00 1.4%,#ba0000 2.1%,#9c0000 2.9%,#ae0000 4.1%,#ed1800 8.3%,#fa4d00 11.4%,#fea800 14.5%,#f8d700 17.2%,#ebf306 20.7%,#bffa31 28.4%,#a2f67e 46.1%,#8debe2 65.4%,#3d83f0 99.4%,#3c82f0 99.8%)"></i><i style="top:126px;background:linear-gradient(90deg,#bdfa36 0.2%,#f5e600 0.6%,#f63700 1.0%,#e00c00 1.4%,#a50000 2.5%,#9f0000 3.3%,#d20800 6.0%,#ed1600 7.9%,#fa4d00 11.0%,#fdab00 14.1%,#f8d900 16.8%,#ecf305 19.9%,#c0fa30 27.2%,#a2f67e 44.6%,#8debe2 63.5%,#3d83f0 96.3%,#3b7ff0 99.8%)"></i><i style="top:127px;background:linear-gradient(90deg,#bffa31 0.2%,#f6e000 0.6%,#f53300 1.0%,#dd0b00 1.4%,#a40000 2.5%,#a30000 3.3%,#c30300 4.8%,#ec1400 7.5%,#fa4c00 10.6%,#fdad00 13.7%,#f9d600 16.0%,#edf304 19.1%,#bffa31 26.4%,#a1f67f 43.4%,#8debe2 61.6%,#3d84f0 93.2%,#3a7cef 99.8%)"></i><i style="top:128px;background:linear-gradient(90deg,#c1fa2d 0.2%,#f8da00 0.6%,#f42f00 1.0%,#da0a00 1.4%,#a40000 2.5%,#a70000 3.3%,#ec1200 7.1%,#fa4c00 10.2%,#fdaf00 13.3%,#f8d800 15.6%,#eef303 18.3%,#c0fa2f 25.3%,#a2f67e 41.9%,#8debe2 59.7%,#3e84f0 90.2%,#3979ef 99.8%)"></i><i style="top:129px;background:linear-gradient(90deg,#c3fa28 0.2%,#f9d400 0.6%,#f22a00 1.0%,#d80900 1.4%,#a50000 2.5%,#ab0000 3.3%,#ed1700 7.1%,#fa4b00 9.8%,#fea700 12.5%,#f9d500 14.9%,#ecf305 18.0%,#c0fa2f 24.5%,#a2f67d 40.3%,#8dece0 57.3%,#3c82f0 88.2%,#3876ef 99.8%)"></i><i style="top:130px;background:linear-gradient(90deg,#c8f924 0.2%,#fbce00 0.6%,#f12600 1.0%,#d50800 1.4%,#a60000 2.5%,#ec1400 6.8%,#fa4a00 9.5%,#fea900 12.2%,#fad200 14.1%,#edf304 17.2%,#c0fa30 23.7%,#a2f67e 39.2%,#8debe2 55.8%,#3d84f0 84.7%,#3773ef 99.8%)"></i><i style="top:131px;background:linear-gradient(90deg,#cdf820 0.2%,#fcc800 0.6%,#f02200 1.0%,#d30800 1.4%,#a70000 2.5%,#ec1200 6.4%,#fa4800 9.1%,#fdaa00 11.8%,#f9d300 13.7%,#eff303 16.4%,#bffa30 23.0%,#a2f67d 37.6%,#8dece0 53.5%,#3c82f0 82.8%,#3670ee 99.8%)"></i><i style="top:132px;background:linear-gradient(90deg,#d2f81c 0.2%,#fcbf00 0.6%,#ef1e00 1.0%,#d00700 1.4%,#b00000 2.1%,#a00 2.5%,#ed1700 6.4%,#fa4600 8.7%,#fdac00 11.4%,#f9d500 13.3%,#edf304 16.0%,#bffa31 22.2%,#a2f67e 36.5%,#8dece1 51.9%,#3c82f0 79.7%,#356dee 99.8%)"></i><i style="top:133px;background:linear-gradient(90deg,#d7f717 0.2%,#fdb500 0.6%,#ee1a00 1.0%,#ce0600 1.4%,#b00000 2.1%,#b50000 2.9%,#ec1400 6.0%,#f94400 8.3%,#fdad00 11.0%,#f7dd00 13.3%,#ebf306 15.6%,#bffa31 21.4%,#a1f67f 35.3%,#8debe3 50.4%,#3f85f0 75.9%,#346aee 99.8%)"></i><i style="top:134px;background:linear-gradient(90deg,#dcf613 0.2%,#feaa00 0.6%,#ed1600 1.0%,#cc0600 1.4%,#b10000 2.1%,#cc0600 4.1%,#ee1a00 6.0%,#f94300 7.9%,#fdae00 10.6%,#f8d900 12.5%,#edf305 14.9%,#bffa31 20.7%,#a2f67d 33.8%,#8dece0 48.1%,#3c82f0 74.3%,#3367ee 99.8%)"></i><i style="top:135px;background:linear-gradient(90deg,#e1f50e 0.2%,#fe9f00 0.6%,#ec1200 1.0%,#ca0500 1.4%,#b20000 2.1%,#e10c00 4.8%,#f94100 7.5%,#fdaf00 10.2%,#f8da00 12.2%,#ebf306 14.5%,#bffa31 19.9%,#a2f67e 32.6%,#8dece1 46.5%,#3c82f0 71.6%,#3264ed 99.8%)"></i><i style="top:136px;background:linear-gradient(90deg,#e6f40a 0.2%,#ff9400 0.6%,#ea0f00 1.0%,#c80500 1.4%,#b50000 2.1%,#ec1300 5.2%,#fa4d00 7.5%,#fdb000 9.8%,#f7dc00 11.8%,#edf304 13.7%,#bffa31 19.1%,#a2f67f 31.5%,#8debe2 45.0%,#3e85f0 68.1%,#3160ed 99.8%)"></i><i style="top:137px;background:linear-gradient(90deg,#ecf305 0.2%,#f80 0.6%,#e70e00 1.0%,#c70400 1.4%,#b70000 2.1%,#ea0f00 4.8%,#fa4900 7.1%,#fea200 9.1%,#fad000 10.6%,#f0f202 12.9%,#c0fa2e 18.0%,#a1f67f 30.3%,#8dece1 43.1%,#3d83f0 66.2%,#305ded 99.8%)"></i><i style="top:138px;background:linear-gradient(90deg,#f1f201 0.2%,#fe7b00 0.6%,#e40d00 1.0%,#c50400 1.4%,#b90000 2.1%,#ec1400 4.8%,#fa4500 6.8%,#fea200 8.7%,#fad100 10.2%,#eef304 12.5%,#bffa31 17.6%,#a1f680 29.2%,#8debe2 41.5%,#3d83f0 63.5%,#2f5aed 99.8%)"></i><i style="top:139px;background:linear-gradient(90deg,#f3ed00 0.2%,#fd6e00 0.6%,#e10c00 1.0%,#c40300 1.4%,#ba0000 2.1%,#eb0f00 4.4%,#f94200 6.4%,#fdb100 8.7%,#f6e000 10.6%,#ecf305 12.2%,#bffa30 16.8%,#a1f680 28.0%,#8debe2 40.0%,#3f86f0 60.4%,#2e57ec 99.8%)"></i><i style="top:140px;background:linear-gradient(90deg,#f5e600 0.2%,#fc6100 0.6%,#de0b00 1.0%,#c30300 1.4%,#bc0100 2.1%,#ed1500 4.4%,#fb5000 6.4%,#fdb100 8.3%,#f8da00 9.8%,#eff202 11.4%,#c0fa30 16.0%,#a2f67c 26.4%,#8eecde 37.6%,#6ec4ea 45.0%,#3b7ff0 60.4%,#2c54ec 99.8%)"></i><i style="top:141px;background:linear-gradient(90deg,#f6e000 0.2%,#fb5500 0.6%,#db0a00 1.0%,#c30300 1.4%,#be0100 2.1%,#eb1000 4.1%,#fa4a00 6.0%,#fe9f00 7.5%,#fbcb00 8.7%,#eef304 11.0%,#c0fa2f 15.3%,#a2f77c 25.3%,#8eecde 36.1%,#70c7e9 42.7%,#3b80f0 57.7%,#2b51ec 99.8%)"></i><i style="top:142px;background:linear-gradient(90deg,#f8d900 0.2%,#fa4800 0.6%,#d90a00 1.0%,#c20300 1.4%,#c00200 2.1%,#ed1600 4.1%,#f94400 5.6%,#fe9d00 7.1%,#fbcb00 8.3%,#f2f200 10.2%,#c0fa2e 14.5%,#a1f67f 24.5%,#8dece1 34.9%,#3d83f0 53.9%,#2b4eec 98.6%,#2a4eec 99.8%)"></i><i style="top:143px;background:linear-gradient(90deg,#fad200 0.2%,#f94100 0.6%,#d70900 1.0%,#c20300 1.4%,#c30300 2.1%,#eb1000 3.7%,#f84000 5.2%,#fdad00 7.1%,#f7dd00 8.7%,#ebf306 10.2%,#bffa31 14.1%,#a2f67f 23.4%,#8dece1 33.4%,#3d83f0 51.5%,#2b4eec 94.8%,#294aeb 99.8%)"></i><i style="top:144px;background:linear-gradient(90deg,#fbca00 0.2%,#f73c00 0.6%,#d50800 1.0%,#c20300 1.4%,#c60400 2.1%,#ed1700 3.7%,#fb4d00 5.2%,#fdab00 6.8%,#f9d400 7.9%,#eff202 9.5%,#c0fa30 13.3%,#a2f67d 22.2%,#8dece1 31.9%,#3d83f0 49.2%,#2b4eec 90.5%,#2847eb 99.8%)"></i><i style="top:145px;background:linear-gradient(90deg,#fcc100 0.2%,#f63700 0.6%,#d30800 1.0%,#c30300 1.4%,#d40800 2.5%,#eb1000 3.3%,#fa4400 4.8%,#fea800 6.4%,#f9d400 7.5%,#eef303 9.1%,#c0fa2e 12.5%,#a1f681 21.4%,#8debe3 30.7%,#4087f0 46.1%,#2d57ec 77.4%,#2744eb 99.8%)"></i><i style="top:146px;background:linear-gradient(90deg,#fdb600 0.2%,#f53200 0.6%,#d20700 1.0%,#c40300 1.4%,#d80900 2.5%,#f12500 3.7%,#f84000 4.4%,#fdb900 6.4%,#f2f000 8.3%,#bffa31 12.2%,#a3f77a 19.9%,#8eecdc 28.4%,#7fdae8 31.5%,#3c82f0 45.0%,#2a4dec 84.0%,#2641ea 99.8%)"></i><i style="top:147px;background:linear-gradient(90deg,#feaa00 0.2%,#f32e00 0.6%,#d10700 1.0%,#c50400 1.4%,#dd0b00 2.5%,#ef1e00 3.3%,#fa4d00 4.4%,#fea000 5.6%,#f9d300 6.8%,#ecf305 8.3%,#c0fa2f 11.4%,#a2f67d 19.1%,#8eecde 27.2%,#6cc1ea 33.0%,#3b7ff0 44.2%,#294aeb 82.8%,#253dea 99.8%)"></i><i style="top:148px;background:linear-gradient(90deg,#fe9e00 0.2%,#f22900 0.6%,#d00700 1.0%,#c60400 1.4%,#ed1600 2.9%,#f94300 4.1%,#fdb200 5.6%,#f7de00 6.8%,#ebf306 7.9%,#bffa31 11.0%,#a3f77a 18.0%,#8eecdc 25.7%,#7dd7e8 28.8%,#3c82f0 40.7%,#2a4dec 76.3%,#243aea 99.8%)"></i><i style="top:149px;background:linear-gradient(90deg,#ff9100 0.2%,#f12500 0.6%,#d00700 1.0%,#c80500 1.4%,#e90e00 2.5%,#f73d00 3.7%,#fdad00 5.2%,#f7dd00 6.4%,#eaf307 7.5%,#c0fa2f 10.2%,#a2f67d 17.2%,#8eecde 24.5%,#70c6ea 29.2%,#3b80f0 39.6%,#294beb 74.3%,#2337ea 99.8%)"></i><i style="top:150px;background:linear-gradient(90deg,#fe8400 0.2%,#f02100 0.6%,#d00700 1.0%,#cb0500 1.4%,#ec1400 2.5%,#fa4600 3.7%,#fea700 4.8%,#facf00 5.6%,#f2f200 6.8%,#c1fa2c 9.5%,#a1f67f 16.4%,#8decdf 23.4%,#3c83f0 36.5%,#2a4eec 67.8%,#2234e9 99.8%)"></i><i style="top:151px;background:linear-gradient(90deg,#fd7700 0.2%,#ef1e00 0.6%,#d00700 1.0%,#ce0600 1.4%,#e60e00 2.1%,#f83e00 3.3%,#fdba00 4.8%,#f2f200 6.4%,#c1fa2e 9.1%,#a1f681 15.6%,#8dece1 22.2%,#3c82f0 34.6%,#2a4eec 64.3%,#2131e9 99.8%)"></i><i style="top:152px;background:linear-gradient(90deg,#fd6900 0.2%,#ee1a00 0.6%,#d10700 1.0%,#dd0b00 1.7%,#ec1100 2.1%,#fa4b00 3.3%,#fdb300 4.4%,#f5e600 5.6%,#e9f408 6.4%,#c0fa30 8.7%,#a2f67c 14.5%,#8eecdd 20.7%,#7ad4e8 23.4%,#3c81f0 33.0%,#2a4ceb 62.0%,#202ee9 99.8%)"></i><i style="top:153px;background:linear-gradient(90deg,#fc5c00 0.2%,#ed1700 0.6%,#d20800 1.0%,#e30c00 1.7%,#f83f00 2.9%,#fdaa00 4.1%,#f9d600 4.8%,#f2f100 5.6%,#c1fa2c 7.9%,#a2f67e 13.7%,#8eecdd 19.5%,#75cde9 22.6%,#3b80f0 31.5%,#2a4beb 59.3%,#1f2ae9 99.8%)"></i><i style="top:154px;background:linear-gradient(90deg,#fb5000 0.2%,#ed1500 0.6%,#d40800 1.0%,#e90e00 1.7%,#fb4f00 2.9%,#fea000 3.7%,#fad200 4.4%,#f3f000 5.2%,#c1fa2d 7.5%,#a2f67f 12.9%,#8eecdd 18.3%,#74cbe9 21.4%,#3b80f0 29.5%,#2a4ceb 55.4%,#1d27e8 99.8%)"></i><i style="top:155px;background:linear-gradient(90deg,#fa4500 0.2%,#ec1300 0.6%,#d70900 1.0%,#ed1500 1.7%,#f83f00 2.5%,#fdb500 3.7%,#f3ee00 4.8%,#c0fa2f 7.1%,#a1f67f 12.2%,#8eecdd 17.2%,#76cee9 19.9%,#3c81f0 27.6%,#2a4ceb 51.9%,#1c24e8 99.8%)"></i><i style="top:156px;background:linear-gradient(90deg,#f84000 0.2%,#ec1200 0.6%,#da0a00 1.0%,#e40d00 1.4%,#f53300 2.1%,#fb4f00 2.5%,#fea900 3.3%,#fcc900 3.7%,#f4ec00 4.4%,#bffa31 6.8%,#a1f67f 11.4%,#8debe2 16.4%,#3e84f0 25.3%,#2c51ec 45.4%,#1d26e8 90.5%,#1c23e7 99.8%)"></i><i style="top:157px;background:linear-gradient(90deg,#f73c00 0.2%,#eb1100 0.6%,#dd0b00 1.0%,#eb0f00 1.4%,#f83d00 2.1%,#fcbf00 3.3%,#f4e800 4.1%,#d6f718 5.2%,#bffa32 6.4%,#a1f67f 10.6%,#8dece0 15.3%,#3d83f0 23.7%,#2b50ec 43.4%,#1d25e8 87.1%,#1c22e6 99.8%)"></i><i style="top:158px;background:linear-gradient(90deg,#f63800 0.2%,#eb1000 0.6%,#e20c00 1.0%,#ed1700 1.4%,#fa4d00 2.1%,#fdb000 2.9%,#f5e300 3.7%,#f0f202 4.1%,#c2fa2a 5.6%,#a2f67e 9.8%,#8eecde 14.1%,#5fb0ec 18.3%,#3b7ff0 23.0%,#294beb 43.4%,#1c23e8 85.9%,#1b22e5 99.8%)"></i><i style="top:159px;background:linear-gradient(90deg,#f53500 0.2%,#ec1100 0.6%,#e70e00 1.0%,#f73a00 1.7%,#fcc700 2.9%,#f2f100 3.7%,#c2fa2b 5.2%,#a2f77b 9.1%,#8eecdb 12.9%,#7ed9e8 14.5%,#3d83f0 20.7%,#2b4fec 38.0%,#1c24e8 76.3%,#1b21e4 99.8%)"></i><i style="top:160px;background:linear-gradient(90deg,#f53200 0.2%,#ec1200 0.6%,#ec1100 1.0%,#fa4500 1.7%,#fe8400 2.1%,#fdb700 2.5%,#f3ec00 3.3%,#c2fa2b 4.8%,#a3f778 8.3%,#8fedd6 11.8%,#86e3e7 12.9%,#4188ef 18.7%,#2e5aed 30.7%,#1f2ce9 60.8%,#1b21e2 99.8%)"></i><i style="top:161px;background:linear-gradient(90deg,#f43100 0.2%,#ed1500 0.6%,#ee1900 1.0%,#f53400 1.4%,#fc6100 1.7%,#fe9f00 2.1%,#fbcc00 2.5%,#ecf305 3.3%,#c2fa2b 4.4%,#a1f681 7.9%,#8debe2 11.4%,#3e85f0 17.6%,#2c53ec 31.1%,#1d27e8 62.0%,#1b21e1 99.8%)"></i><i style="top:162px;background:linear-gradient(90deg,#f43000 0.2%,#ed1800 0.6%,#f02200 1.0%,#f83f00 1.4%,#fdba00 2.1%,#f1f201 2.9%,#c2fa2a 4.1%,#a2f77b 7.1%,#8eecdb 10.2%,#7fdae8 11.4%,#3c82f0 16.4%,#2a4eec 30.7%,#1c23e8 62.0%,#1a20e0 99.8%)"></i><i style="top:163px;background:linear-gradient(90deg,#f43000 0.2%,#ef1c00 0.6%,#f32b00 1.0%,#fb5400 1.4%,#fe9d00 1.7%,#facf00 2.1%,#f4eb00 2.5%,#c3fa28 3.7%,#a0f684 6.8%,#8eecdd 9.5%,#7cd6e8 10.6%,#3e85f0 14.9%,#2c54ec 26.1%,#1e28e8 51.9%,#1a20df 99.8%)"></i><i style="top:164px;background:linear-gradient(90deg,#f43000 0.2%,#f02200 0.6%,#f63600 1.0%,#fdba00 1.7%,#f6e000 2.1%,#ebf306 2.5%,#c5fa26 3.3%,#a2f77b 6.0%,#8eecde 8.7%,#6bc0ea 10.6%,#3b80f0 14.1%,#2a4ceb 26.4%,#1c23e8 53.1%,#1a1fdd 99.8%)"></i><i style="top:165px;background:linear-gradient(90deg,#f53300 0.2%,#f22900 0.6%,#f94200 1.0%,#ff9400 1.4%,#fad000 1.7%,#f2f000 2.1%,#c9f923 2.9%,#a5f86f 5.2%,#90edd2 7.5%,#89e7e6 8.3%,#4791ef 11.8%,#3878ef 14.1%,#2745eb 26.8%,#1c23e7 51.2%,#191fdc 99.8%)"></i><i style="top:166px;background:linear-gradient(90deg,#f63600 0.2%,#f43100 0.6%,#fc5f00 1.0%,#fdb300 1.4%,#f6e200 1.7%,#e5f40b 2.1%,#bffa30 2.9%,#a3f775 4.8%,#91edcf 6.8%,#89e7e6 7.5%,#428aef 11.0%,#3160ed 16.8%,#2132e9 33.0%,#1b22e5 52.3%,#191edb 99.8%)"></i><i style="top:167px;background:linear-gradient(90deg,#f73b00 0.2%,#f73a00 0.6%,#fbcd00 1.4%,#f0f201 1.7%,#c1fa2c 2.5%,#a2f77b 4.4%,#8eecda 6.4%,#7fdae8 7.1%,#3d84f0 10.2%,#2b50ec 18.7%,#1d25e8 37.6%,#191eda 99.8%)"></i><i style="top:168px;background:linear-gradient(90deg,#f94100 0.2%,#fa4700 0.6%,#fea400 1.0%,#f6e100 1.4%,#e0f50f 1.7%,#c6fa26 2.1%,#a1f681 4.1%,#8fedd6 5.6%,#8cebe6 6.0%,#4790ef 8.7%,#3875ef 10.6%,#2743eb 20.3%,#1c23e7 38.0%,#191ed8 99.8%)"></i><i style="top:169px;background:linear-gradient(90deg,#fb5100 0.2%,#fc6700 0.6%,#fcc500 1.0%,#f0f202 1.4%,#cff81d 1.7%,#b4f94a 2.5%,#a6f86b 3.3%,#91eecd 4.8%,#8dece1 5.2%,#438bef 7.9%,#3266ee 11.4%,#2235ea 22.6%,#1b22e5 36.9%,#181dd7 99.8%)"></i><i style="top:170px;background:linear-gradient(90deg,#fd6a00 0.2%,#ff8a00 0.6%,#f7db00 1.0%,#def511 1.4%,#c1fa2d 1.7%,#a6f86b 2.9%,#8fedd7 4.4%,#87e5e7 4.8%,#4a94ee 6.8%,#3877ef 8.3%,#2743eb 16.0%,#1c23e7 30.3%,#181dd6 99.8%)"></i><i style="top:171px;background:linear-gradient(90deg,#f80 0.2%,#fdad00 0.6%,#f2f100 1.0%,#cbf921 1.4%,#a6f86b 2.5%,#92eec9 3.7%,#8debe1 4.1%,#3e84f0 6.4%,#2c53ec 11.4%,#1d27e8 23.0%,#181cd5 99.8%)"></i><i style="top:172px;background:linear-gradient(90deg,#fea700 0.2%,#fbcd00 0.6%,#dff510 1.0%,#befa33 1.4%,#a7f868 2.1%,#90edd0 3.3%,#88e5e7 3.7%,#4892ee 5.2%,#3a7cef 6.0%,#2949eb 11.4%,#1c23e8 22.2%,#181cd3 99.8%)"></i><i style="top:173px;background:linear-gradient(90deg,#fcc800 0.2%,#f5e500 0.6%,#caf922 1.0%,#a9f864 1.7%,#8fedd7 2.9%,#80dbe7 3.3%,#3c82f0 4.8%,#2b4fec 9.1%,#1c24e8 18.3%,#171cd3 91.7%,#171bd2 99.8%)"></i><i style="top:174px;background:linear-gradient(90deg,#f7df00 0.2%,#e8f409 0.6%,#bdfa37 1.0%,#a1f683 1.7%,#8eecdd 2.5%,#4f9bee 3.7%,#3e85f0 4.1%,#2d54ec 7.1%,#1e28e8 14.5%,#171cd3 79.3%,#171bd1 99.8%)"></i><i style="top:175px;background:linear-gradient(90deg,#edf304 0.2%,#d1f81c 0.6%,#b3f94d 1.0%,#a4f774 1.4%,#97f1b1 1.7%,#8dece1 2.1%,#448cef 3.3%,#356cee 4.4%,#243bea 8.7%,#1c22e6 15.3%,#171bd1 78.6%,#171ad0 99.8%)"></i><i style="top:176px;background:linear-gradient(90deg,#d5f719 0.2%,#befa33 0.6%,#a9f865 1.0%,#8dece1 1.7%,#509cee 2.5%,#3b80f0 2.9%,#2a4ceb 5.6%,#1c23e8 11.4%,#171cd3 55.8%,#161ace 99.8%)"></i><i style="top:177px;background:linear-gradient(90deg,#bffa30 0.2%,#b3f94e 0.6%,#8eecdc 1.4%,#4791ef 2.1%,#356eee 2.9%,#253eea 5.6%,#1c22e6 10.2%,#171bd2 52.7%,#161acd 99.8%)"></i><i style="top:178px;background:linear-gradient(90deg,#b3f94c 0.2%,#a7f86a 0.6%,#91eecd 1.0%,#68bceb 1.4%,#4087f0 1.7%,#2f5bed 2.9%,#1f2de9 6.0%,#1b21e2 10.2%,#171acf 58.9%,#1619cc 99.8%)"></i><i style="top:179px;background:linear-gradient(90deg,#a6f86b 0.2%,#99f2a9 0.6%,#6ec3ea 1.0%,#3c81f0 1.4%,#2c52ec 2.5%,#1d27e8 5.2%,#171cd3 28.4%,#1619cb 99.8%)"></i><i style="top:180px;background:linear-gradient(90deg,#96f0b4 0.2%,#82dee7 0.6%,#3c81f0 1.0%,#2d56ec 1.7%,#1e2ae9 3.7%,#181dd7 13.3%,#1518c9 99.8%)"></i><i style="top:181px;background:linear-gradient(90deg,#72c9e9 0.2%,#458def 0.6%,#3264ed 1.0%,#2133e9 2.1%,#1c22e6 3.3%,#171bd2 17.2%,#1518c8 99.8%)"></i><i style="top:182px;background:linear-gradient(90deg,#3979ef 0.2%,#2133e9 1.4%,#1c22e6 2.1%,#171bd2 11.4%,#1517c7 99.8%)"></i><i style="top:183px;background:linear-gradient(90deg,#2b50ec 0.2%,#1e28e8 1.0%,#171cd3 6.0%,#1517c6 89.4%,#1517c5 99.8%)"></i><i style="top:184px;background:linear-gradient(90deg,#1d27e8 0.2%,#171bd2 3.3%,#1417c5 55.4%,#1416c4 99.8%)"></i><i style="top:185px;background:linear-gradient(90deg,#191ed9 0.2%,#1518c9 5.2%,#1416c3 99.8%)"></i><i style="top:186px;background:linear-gradient(90deg,#1518c9 0.2%,#1416c3 99.8%)"></i></div><div class="hm" style="left:475.5px;top:268px;width:258px;height:186px"><i style="top:0px;background:linear-gradient(90deg,#2e59ed 0.2%,#4892ee 0.6%,#95f0b9 1.0%,#a3f777 1.4%,#b3f94c 1.7%,#cff81e 2.5%,#f4e800 3.3%,#fd6b00 4.8%,#fa4500 5.6%,#ec1200 8.3%,#d90900 13.4%,#ed1600 20.7%,#fc5c00 30.8%,#f9d700 42.1%,#eff303 47.1%,#c1fa2d 62.2%,#a3f777 99.8%)"></i><i style="top:1px;background:linear-gradient(90deg,#2f5aed 0.2%,#4c98ee 0.6%,#96f0b5 1.0%,#a4f775 1.4%,#b4f94a 1.7%,#d1f81c 2.5%,#e8f408 2.9%,#f5e400 3.3%,#fe8000 4.5%,#fb4f00 5.2%,#ee1a00 7.6%,#df0b00 9.9%,#da0a00 15.3%,#ed1800 21.1%,#fc5c00 30.8%,#f9d700 42.1%,#eff303 47.1%,#c1fa2d 62.2%,#a3f777 99.8%)"></i><i style="top:2px;background:linear-gradient(90deg,#2f5ced 0.2%,#519ded 0.6%,#97f1b2 1.0%,#a4f872 1.4%,#b5f949 1.7%,#d4f71a 2.5%,#ebf306 2.9%,#f6df00 3.3%,#fe7b00 4.5%,#fa4c00 5.2%,#ed1800 7.6%,#d80900 11.0%,#e10c00 17.6%,#f12600 23.4%,#fc6000 31.2%,#f9d700 42.1%,#eef303 47.1%,#c1fa2d 62.2%,#a3f777 99.8%)"></i><i style="top:3px;background:linear-gradient(90deg,#305ded 0.2%,#55a2ed 0.6%,#98f1ae 1.0%,#a5f870 1.4%,#b6f947 1.7%,#d6f718 2.5%,#edf304 2.9%,#fdb700 3.7%,#fd7500 4.5%,#fa4800 5.2%,#ed1500 7.6%,#d50800 12.2%,#ed1700 21.1%,#fc5b00 30.8%,#f8d700 42.1%,#eef303 47.1%,#c1fa2d 62.2%,#a3f777 99.8%)"></i><i style="top:4px;background:linear-gradient(90deg,#305fed 0.2%,#59a8ec 0.6%,#98f1ab 1.0%,#a6f86d 1.4%,#b7f945 1.7%,#d9f615 2.5%,#f0f202 2.9%,#ff8d00 4.1%,#fb5500 4.8%,#f02000 6.8%,#e20c00 8.7%,#d40800 13.4%,#ed1600 21.1%,#fc5b00 30.8%,#f8d700 42.1%,#eef303 47.1%,#c1fa2d 62.2%,#a3f778 99.8%)"></i><i style="top:5px;background:linear-gradient(90deg,#3160ed 0.2%,#5dadec 0.6%,#99f2a7 1.0%,#a7f86a 1.4%,#b8f943 1.7%,#c3fa29 2.1%,#f2f200 2.9%,#f80 4.1%,#fb5100 4.8%,#ef1d00 6.8%,#e00c00 8.7%,#d30800 13.4%,#ed1600 21.1%,#fc5b00 30.8%,#f8d700 42.1%,#f0f202 46.7%,#c1fa2d 62.2%,#a3f778 99.8%)"></i><i style="top:6px;background:linear-gradient(90deg,#3162ed 0.2%,#61b3eb 0.6%,#9af2a4 1.0%,#a8f867 1.4%,#b8f941 1.7%,#c4fa27 2.1%,#f3ef00 2.9%,#fe8200 4.1%,#fb4d00 4.8%,#ec1400 7.2%,#d20700 11.4%,#e40d00 18.8%,#fb4f00 29.7%,#f8d700 42.1%,#f0f202 46.7%,#c1fa2d 62.2%,#a3f778 99.8%)"></i><i style="top:7px;background:linear-gradient(90deg,#3263ed 0.2%,#65b8eb 0.6%,#9bf3a0 1.0%,#aaf863 1.4%,#c5fa26 2.1%,#f4ec00 2.9%,#fe7d00 4.1%,#fa4a00 4.8%,#ec1200 7.2%,#d00700 11.4%,#e40d00 18.8%,#fa4900 28.9%,#f8d700 42.1%,#eff202 46.7%,#c1fa2d 62.2%,#a3f778 99.8%)"></i><i style="top:8px;background:linear-gradient(90deg,#3265ee 0.2%,#69beea 0.6%,#9bf39d 1.0%,#abf860 1.4%,#c8f924 2.1%,#f5e700 2.9%,#fe7700 4.1%,#fa4600 4.8%,#eb0f00 7.2%,#d00700 11.0%,#df0c00 18.0%,#f02100 23.1%,#fc6000 31.2%,#f9d500 41.7%,#eff202 46.7%,#c1fa2d 62.2%,#a3f778 99.8%)"></i><i style="top:9px;background:linear-gradient(90deg,#36e 0.2%,#6ec3ea 0.6%,#9cf39b 1.0%,#acf85d 1.4%,#caf922 2.1%,#e6f40b 2.5%,#f6e300 2.9%,#fd7100 4.1%,#fb5400 4.5%,#ee1b00 6.4%,#dc0a00 8.3%,#ce0600 13.0%,#ed1700 21.5%,#fc5c00 30.8%,#f9d500 41.7%,#eff303 46.7%,#c1fa2d 61.8%,#a3f778 99.8%)"></i><i style="top:10px;background:linear-gradient(90deg,#3368ee 0.2%,#70c7e9 0.6%,#9cf398 1.0%,#aef95a 1.4%,#cdf820 2.1%,#e8f408 2.5%,#f7de00 2.9%,#fd6c00 4.1%,#f84000 4.8%,#eb1100 6.8%,#ce0600 10.7%,#db0a00 17.2%,#ee1c00 22.3%,#fc6100 31.2%,#f9d600 41.7%,#eff303 46.7%,#c1fa2d 61.8%,#a3f779 99.8%)"></i><i style="top:11px;background:linear-gradient(90deg,#346aee 0.2%,#72c9e9 0.6%,#9df496 1.0%,#aff957 1.4%,#cff81d 2.1%,#ebf306 2.5%,#f8da00 2.9%,#fc6600 4.1%,#f83e00 4.8%,#ea0f00 6.8%,#cd0600 10.3%,#d70900 16.5%,#ee1900 21.9%,#fc5c00 30.8%,#f9d600 41.7%,#eef303 46.7%,#c1fa2d 61.8%,#a3f779 99.8%)"></i><i style="top:12px;background:linear-gradient(90deg,#346bee 0.2%,#74cce9 0.6%,#9df493 1.0%,#b0f955 1.4%,#d2f71b 2.1%,#edf304 2.5%,#f9d500 2.9%,#fc6100 4.1%,#f73b00 4.8%,#e80e00 6.8%,#cc0600 10.3%,#d60900 16.5%,#ee1900 21.9%,#fc5d00 30.8%,#f9d700 41.7%,#f0f202 46.3%,#c1fa2d 61.8%,#a3f779 99.8%)"></i><i style="top:13px;background:linear-gradient(90deg,#356dee 0.2%,#76cfe9 0.6%,#9ef491 1.0%,#b0f953 1.4%,#d5f719 2.1%,#f0f202 2.5%,#fad100 2.9%,#fe7d00 3.7%,#fa4500 4.5%,#eb1100 6.4%,#cc0600 9.9%,#d20800 15.7%,#ee1900 21.9%,#fc5d00 30.8%,#f9d400 41.3%,#eff202 46.3%,#c1fa2d 61.4%,#a3f77a 99.8%)"></i><i style="top:14px;background:linear-gradient(90deg,#356eee 0.2%,#78d1e8 0.6%,#9ef48e 1.0%,#b1f952 1.4%,#d7f717 2.1%,#f2f200 2.5%,#fe7700 3.7%,#fb5600 4.1%,#ef1f00 5.6%,#e40d00 6.8%,#c90500 10.3%,#d70900 16.9%,#ee1900 21.9%,#fc5e00 30.8%,#f9d500 41.3%,#eff303 46.3%,#c1fa2d 61.4%,#a3f77a 99.8%)"></i><i style="top:15px;background:linear-gradient(90deg,#3670ee 0.2%,#7ad4e8 0.6%,#9ff58c 1.0%,#b2f950 1.4%,#daf615 2.1%,#f3ef00 2.5%,#fd7100 3.7%,#fb5100 4.1%,#ef1d00 5.6%,#dd0b00 7.2%,#c70400 11.0%,#df0b00 18.4%,#f12400 23.4%,#fc6400 31.2%,#f9d500 41.3%,#eff303 46.3%,#c1fa2d 61.4%,#a2f77a 99.8%)"></i><i style="top:16px;background:linear-gradient(90deg,#3672ef 0.2%,#7cd6e8 0.6%,#9ff58a 1.0%,#b3f94e 1.4%,#c1fa2d 1.7%,#f4ec00 2.5%,#fd6c00 3.7%,#fb4e00 4.1%,#ec1100 6.0%,#c90500 9.5%,#cf0700 15.3%,#ee1900 21.9%,#fc6000 30.8%,#f9d600 41.3%,#f0f202 45.9%,#c1fa2d 61.0%,#a2f77b 99.8%)"></i><i style="top:17px;background:linear-gradient(90deg,#3773ef 0.2%,#7ed9e8 0.6%,#a0f587 1.0%,#b4f94c 1.4%,#c2fa2b 1.7%,#f5e700 2.5%,#fc6600 3.7%,#fa4a00 4.1%,#eb0f00 6.0%,#c90500 9.1%,#cc0600 14.5%,#ed1700 21.5%,#fc6000 30.8%,#f9d400 40.9%,#eff202 45.9%,#c1fa2d 61.0%,#a2f77b 99.8%)"></i><i style="top:18px;background:linear-gradient(90deg,#3875ef 0.2%,#80dce7 0.6%,#a0f684 1.0%,#b4f94a 1.4%,#c3fa29 1.7%,#e1f50e 2.1%,#f6e300 2.5%,#fc6100 3.7%,#f63700 4.5%,#e90e00 6.0%,#c80400 9.1%,#cb0500 14.5%,#ed1700 21.5%,#fc6100 30.8%,#f9d500 40.9%,#eff303 45.9%,#c1fa2d 60.7%,#a2f77c 99.8%)"></i><i style="top:19px;background:linear-gradient(90deg,#3877ef 0.2%,#83dfe7 0.6%,#a1f682 1.0%,#b5f948 1.4%,#c4fa27 1.7%,#e4f40c 2.1%,#f7de00 2.5%,#fc5b00 3.7%,#f53500 4.5%,#e70e00 6.0%,#c70400 9.1%,#cb0500 14.5%,#ed1700 21.5%,#fc5d00 30.4%,#f9d600 40.9%,#f0f202 45.5%,#c1fa2d 60.7%,#a2f67c 99.8%)"></i><i style="top:20px;background:linear-gradient(90deg,#3978ef 0.2%,#85e1e7 0.6%,#a1f67f 1.0%,#b6f946 1.4%,#c5fa26 1.7%,#e6f40a 2.1%,#f8da00 2.5%,#fe7b00 3.3%,#fb5600 3.7%,#ee1a00 5.2%,#d80900 6.8%,#c20300 10.3%,#d80900 17.2%,#ee1a00 21.9%,#fc5e00 30.4%,#f9d700 40.9%,#eff202 45.5%,#c1fa2d 60.7%,#a2f67d 99.8%)"></i><i style="top:21px;background:linear-gradient(90deg,#397aef 0.2%,#87e4e7 0.6%,#a2f67d 1.0%,#b7f944 1.4%,#c8f924 1.7%,#e9f408 2.1%,#f9d500 2.5%,#fd7600 3.3%,#fb5100 3.7%,#ed1700 5.2%,#ce0600 7.6%,#c10300 11.8%,#ed1700 21.5%,#fc6000 30.4%,#f9d500 40.5%,#eff303 45.5%,#c1fa2d 60.3%,#a2f67d 99.8%)"></i><i style="top:22px;background:linear-gradient(90deg,#3a7cef 0.2%,#89e7e6 0.6%,#a2f77a 1.0%,#b8f942 1.4%,#caf922 1.7%,#ecf305 2.1%,#fad100 2.5%,#fd7000 3.3%,#fb4e00 3.7%,#ed1500 5.2%,#c60400 8.3%,#c50400 13.4%,#ed1800 21.5%,#fc6100 30.4%,#f9d600 40.5%,#f0f202 45.2%,#c1fa2d 60.3%,#a2f67e 99.8%)"></i><i style="top:23px;background:linear-gradient(90deg,#3a7df0 0.2%,#8beae6 0.6%,#a3f778 1.0%,#b9f940 1.4%,#cdf820 1.7%,#eef303 2.1%,#fbcc00 2.5%,#ff9500 2.9%,#fa4a00 3.7%,#ec1200 5.2%,#c50400 8.3%,#c50300 13.4%,#ee1800 21.5%,#fc5d00 30.0%,#f9d400 40.1%,#eff303 45.2%,#c1fa2d 59.9%,#a2f67e 99.8%)"></i><i style="top:24px;background:linear-gradient(90deg,#3b7ff0 0.2%,#8cebe4 0.6%,#a4f775 1.0%,#b9f93e 1.4%,#f1f201 2.1%,#fcc700 2.5%,#ff9000 2.9%,#fc6500 3.3%,#fa4600 3.7%,#eb1000 5.2%,#c60400 7.9%,#c10300 12.6%,#ed1600 21.1%,#fc5f00 30.0%,#f9d500 40.1%,#eef303 45.2%,#c1fa2d 59.9%,#a2f67f 99.8%)"></i><i style="top:25px;background:linear-gradient(90deg,#3c81f0 0.2%,#8dece1 0.6%,#a4f872 1.0%,#baf93c 1.4%,#f2f100 2.1%,#ff8b00 2.9%,#fc5f00 3.3%,#f53300 4.1%,#ea0f00 5.2%,#c50300 7.9%,#c10200 12.6%,#ed1600 21.1%,#fc6000 30.0%,#f9d600 40.1%,#eff202 44.8%,#c1fa2d 59.5%,#a1f67f 99.8%)"></i><i style="top:26px;background:linear-gradient(90deg,#3d84f0 0.2%,#8eecde 0.6%,#a5f870 1.0%,#bbf93a 1.4%,#f3ee00 2.1%,#fe8500 2.9%,#fb5900 3.3%,#f43000 4.1%,#e70e00 5.2%,#c30300 7.9%,#c10200 12.6%,#ed1700 21.1%,#fc6200 30.0%,#f9d400 39.7%,#eff303 44.8%,#c1fa2d 59.1%,#a1f680 99.8%)"></i><i style="top:27px;background:linear-gradient(90deg,#4189ef 0.2%,#8eecda 0.6%,#a6f86d 1.0%,#bcfa38 1.4%,#f4ea00 2.1%,#fe7f00 2.9%,#fb5400 3.3%,#ef1f00 4.5%,#dd0b00 5.6%,#be0200 8.7%,#c70400 14.1%,#ed1700 21.1%,#fc5e00 29.7%,#f9d600 39.7%,#eff202 44.4%,#c1fa2d 59.1%,#a1f681 99.8%)"></i><i style="top:28px;background:linear-gradient(90deg,#458eef 0.2%,#8fedd7 0.6%,#a7f86a 1.0%,#bdfa36 1.4%,#daf615 1.7%,#f5e500 2.1%,#fe7900 2.9%,#fb5000 3.3%,#eb1000 4.8%,#c30300 7.6%,#bd0100 11.8%,#ed1500 20.7%,#fc6000 29.7%,#f9d400 39.3%,#eff303 44.4%,#c1fa2d 58.7%,#a1f681 99.8%)"></i><i style="top:29px;background:linear-gradient(90deg,#4a94ee 0.2%,#90edd4 0.6%,#a8f867 1.0%,#befa34 1.4%,#dcf612 1.7%,#f6e100 2.1%,#fd7400 2.9%,#fa4d00 3.3%,#ea0f00 4.8%,#c50400 7.2%,#b90000 10.7%,#ed1500 20.7%,#fc6200 29.7%,#f9d500 39.3%,#eff202 44.0%,#c1fa2d 58.3%,#a1f682 99.8%)"></i><i style="top:30px;background:linear-gradient(90deg,#4e99ee 0.2%,#91edd0 0.6%,#aaf863 1.0%,#bffa32 1.4%,#dff510 1.7%,#f7dc00 2.1%,#fd6e00 2.9%,#fa4900 3.3%,#ed1700 4.5%,#cc0600 6.4%,#b60000 10.3%,#ed1600 20.7%,#fc5e00 29.3%,#f8d700 39.3%,#eff303 44.0%,#c1fa2d 58.3%,#a1f683 99.8%)"></i><i style="top:31px;background:linear-gradient(90deg,#529fed 0.2%,#91eecd 0.6%,#abf860 1.0%,#c0fa30 1.4%,#e1f50e 1.7%,#f8d800 2.1%,#fe9a00 2.5%,#fc6800 2.9%,#fa4500 3.3%,#ed1500 4.5%,#c20300 7.2%,#b40000 10.3%,#ed1700 20.7%,#fc6000 29.3%,#f9d500 39.0%,#eff202 43.6%,#c1fa2d 57.9%,#a1f684 99.8%)"></i><i style="top:32px;background:linear-gradient(90deg,#56a4ed 0.2%,#92eec9 0.6%,#acf85d 1.0%,#c0fa2e 1.4%,#e4f40c 1.7%,#f9d300 2.1%,#ff9400 2.5%,#fc6300 2.9%,#f94200 3.3%,#ec1200 4.5%,#c00200 7.2%,#b20000 10.3%,#ed1500 20.3%,#fc6200 29.3%,#f9d700 39.0%,#eef303 43.6%,#c1fa2d 57.6%,#a0f684 99.8%)"></i><i style="top:33px;background:linear-gradient(90deg,#5aaaec 0.2%,#93eec6 0.6%,#aef95a 1.0%,#c1fa2c 1.4%,#e7f40a 1.7%,#face00 2.1%,#ff8f00 2.5%,#fc5d00 2.9%,#f32d00 3.7%,#eb1000 4.5%,#c20300 6.8%,#af0000 9.9%,#ed1500 20.3%,#fc5f00 28.9%,#f9d500 38.6%,#eff202 43.2%,#c1fa2d 57.6%,#a0f585 99.8%)"></i><i style="top:34px;background:linear-gradient(90deg,#5fafec 0.2%,#93efc2 0.6%,#aff957 1.0%,#c2fa2a 1.4%,#e9f307 1.7%,#fcca00 2.1%,#ff8a00 2.5%,#fb5700 2.9%,#f22a00 3.7%,#e90f00 4.5%,#c10200 6.8%,#ad0000 9.5%,#ed1600 20.3%,#fc6100 28.9%,#f8d700 38.6%,#eef303 43.2%,#c1fa2d 57.2%,#a0f586 99.8%)"></i><i style="top:35px;background:linear-gradient(90deg,#63b5eb 0.2%,#94efbf 0.6%,#b0f955 1.0%,#c3fa28 1.4%,#ecf305 1.7%,#fcc400 2.1%,#fe8400 2.5%,#fb5200 2.9%,#ed1800 4.1%,#ce0600 5.6%,#ab0000 9.1%,#ec1400 20.0%,#fc5e00 28.5%,#f9d500 38.2%,#eff303 42.8%,#c1fa2d 56.8%,#a0f587 99.8%)"></i><i style="top:36px;background:linear-gradient(90deg,#67bbeb 0.2%,#95f0bb 0.6%,#b1f953 1.0%,#c5fa27 1.4%,#eff303 1.7%,#fdbd00 2.1%,#fe7e00 2.5%,#fb4f00 2.9%,#ed1500 4.1%,#be0200 6.8%,#a80000 9.1%,#ed1500 20.0%,#fc6000 28.5%,#f9d400 37.8%,#eff202 42.4%,#c1fa2d 56.4%,#a0f588 99.8%)"></i><i style="top:37px;background:linear-gradient(90deg,#6cc1ea 0.2%,#96f0b8 0.6%,#b1f951 1.0%,#c7f925 1.4%,#f1f201 1.7%,#fe7800 2.5%,#fa4b00 2.9%,#ec1300 4.1%,#c00200 6.4%,#a60000 9.1%,#ed1600 20.0%,#fc6300 28.5%,#f9d600 37.8%,#eef303 42.4%,#c1fa2d 56.4%,#9ff589 99.8%)"></i><i style="top:38px;background:linear-gradient(90deg,#70c6ea 0.2%,#96f0b4 0.6%,#b2f94f 1.0%,#c9f923 1.4%,#f2f000 1.7%,#fd7200 2.5%,#fa4700 2.9%,#eb1000 4.1%,#bf0200 6.4%,#a50000 8.7%,#b70000 11.4%,#ed1700 20.0%,#fc6000 28.1%,#f9d400 37.4%,#eff303 42.1%,#c1fa2d 56.0%,#9ff58a 99.8%)"></i><i style="top:39px;background:linear-gradient(90deg,#72c8e9 0.2%,#97f1b0 0.6%,#b3f94d 1.0%,#ccf820 1.4%,#f3ed00 1.7%,#fd6d00 2.5%,#f94400 2.9%,#ea0f00 4.1%,#c20300 6.0%,#a30000 8.7%,#ed1500 19.6%,#fc6200 28.1%,#f9d600 37.4%,#f0f202 41.7%,#c1fa2d 55.6%,#9ff58b 99.8%)"></i><i style="top:40px;background:linear-gradient(90deg,#74cbe9 0.2%,#98f1ad 0.6%,#b4f94b 1.0%,#cff81e 1.4%,#f4e800 1.7%,#fc6700 2.5%,#f94100 2.9%,#e70e00 4.1%,#c00200 6.0%,#a20000 8.3%,#b10000 11.0%,#ed1600 19.6%,#fc6000 27.7%,#f9d500 37.0%,#f0f202 41.3%,#c1fa2d 55.2%,#9ff58c 99.8%)"></i><i style="top:41px;background:linear-gradient(90deg,#76cee9 0.2%,#99f2a9 0.6%,#b5f949 1.0%,#d1f81c 1.4%,#f5e400 1.7%,#fe9c00 2.1%,#fc6100 2.5%,#f83e00 2.9%,#ed1700 3.7%,#ca0500 5.2%,#9f0000 8.3%,#b10000 11.0%,#ed1700 19.6%,#fc6200 27.7%,#f9d400 36.6%,#eff303 41.3%,#c1fa2d 54.8%,#9ff58c 99.4%,#9ff58d 99.8%)"></i><i style="top:42px;background:linear-gradient(90deg,#78d1e9 0.2%,#9af2a5 0.6%,#b6f947 1.0%,#d4f71a 1.4%,#f6df00 1.7%,#ff9600 2.1%,#fc5b00 2.5%,#f12600 3.3%,#e30d00 4.1%,#a20000 7.6%,#a40000 9.9%,#c50400 13.4%,#ed1800 19.6%,#fc5f00 27.3%,#f9d600 36.6%,#eff202 40.9%,#c1fa2d 54.5%,#9ff58c 99.0%,#9ef58e 99.8%)"></i><i style="top:43px;background:linear-gradient(90deg,#7ad3e8 0.2%,#9af2a1 0.6%,#b6f945 1.0%,#d7f717 1.4%,#f8da00 1.7%,#ff9100 2.1%,#fb5600 2.5%,#f12300 3.3%,#e10c00 4.1%,#a00000 7.6%,#a30000 9.9%,#c60400 13.4%,#ed1600 19.2%,#fc6200 27.3%,#f9d500 36.2%,#f0f202 40.5%,#c1fa2d 54.1%,#9ff58c 98.3%,#9ef48f 99.8%)"></i><i style="top:44px;background:linear-gradient(90deg,#7cd6e8 0.2%,#9bf39e 0.6%,#b7f943 1.0%,#d9f615 1.4%,#f9d600 1.7%,#ff8b00 2.1%,#fb5100 2.5%,#eb1000 3.7%,#bf0200 5.6%,#9b0000 7.9%,#a70000 10.3%,#c60400 13.4%,#ed1700 19.2%,#fc6000 26.9%,#f9d400 35.9%,#f0f201 40.1%,#c1fa2d 53.7%,#9ff58c 97.5%,#9ef490 99.8%)"></i><i style="top:45px;background:linear-gradient(90deg,#7ed9e8 0.2%,#9cf39b 0.6%,#b8f941 1.0%,#dcf613 1.4%,#fad100 1.7%,#ff8500 2.1%,#fb4d00 2.5%,#e90e00 3.7%,#a40000 6.8%,#900 8.7%,#c70400 13.4%,#ee1900 19.2%,#fc6300 26.9%,#f9d600 35.9%,#eff202 40.1%,#c1fa2d 53.3%,#9ff58c 97.1%,#9ef491 99.8%)"></i><i style="top:46px;background:linear-gradient(90deg,#80dce7 0.2%,#9cf399 0.6%,#b9f93f 1.0%,#dff511 1.4%,#fbcc00 1.7%,#fe8000 2.1%,#fa4a00 2.5%,#ee1b00 3.3%,#db0a00 4.1%,#9c0000 7.2%,#9e0000 9.5%,#c20300 12.6%,#ed1600 18.8%,#fc6000 26.6%,#f9d500 35.5%,#f0f202 39.7%,#c1fa2d 52.9%,#9ff58c 96.3%,#9ef492 99.8%)"></i><i style="top:47px;background:linear-gradient(90deg,#83dfe7 0.2%,#9df496 0.6%,#baf93d 1.0%,#e1f50e 1.4%,#fcc700 1.7%,#fe7a00 2.1%,#fa4600 2.5%,#ee1900 3.3%,#cf0700 4.5%,#900 7.2%,#9e0000 9.5%,#c00200 12.2%,#ed1800 18.8%,#fc6300 26.6%,#f9d400 35.1%,#f0f202 39.3%,#c1fa2d 52.5%,#9ff58c 95.5%,#9df493 99.8%)"></i><i style="top:48px;background:linear-gradient(90deg,#85e2e7 0.2%,#9df493 0.6%,#bbf93b 1.0%,#e4f40c 1.4%,#fcc100 1.7%,#fd7400 2.1%,#f94300 2.5%,#ed1600 3.3%,#b70000 5.6%,#970000 7.2%,#9e0000 9.5%,#c10200 12.2%,#ed1600 18.4%,#fc6100 26.2%,#f9d600 35.1%,#eff303 39.3%,#c1fa2d 52.1%,#9ff58c 94.8%,#9df494 99.8%)"></i><i style="top:49px;background:linear-gradient(90deg,#87e5e7 0.2%,#bcfa39 1.0%,#e7f40a 1.4%,#fdba00 1.7%,#fd6e00 2.1%,#f84000 2.5%,#ec1300 3.3%,#a80000 6.0%,#930000 7.6%,#a30000 9.9%,#c10200 12.2%,#ed1700 18.4%,#fc5e00 25.8%,#f9d500 34.7%,#eff303 39.0%,#c1fa2d 51.7%,#9ff58c 94.4%,#9df495 99.8%)"></i><i style="top:50px;background:linear-gradient(90deg,#89e8e6 0.2%,#bdfa37 1.0%,#e9f307 1.4%,#fdb300 1.7%,#fc6800 2.1%,#f83d00 2.5%,#eb1100 3.3%,#9c0000 6.4%,#930000 8.3%,#c50400 12.6%,#ee1900 18.4%,#fc6200 25.8%,#f9d400 34.3%,#eff202 38.6%,#c1fa2d 51.4%,#9ff58c 93.2%,#9df497 99.8%)"></i><i style="top:51px;background:linear-gradient(90deg,#8cebe6 0.2%,#befa35 1.0%,#ecf305 1.4%,#fdac00 1.7%,#fc6200 2.1%,#f73a00 2.5%,#ea0f00 3.3%,#c00200 4.8%,#940000 6.8%,#960000 8.7%,#c00200 11.8%,#ed1700 18.0%,#fc5f00 25.4%,#f9d400 33.9%,#f0f202 38.2%,#c1fa2d 51.0%,#9ff58c 92.8%,#9cf398 99.8%)"></i><i style="top:52px;background:linear-gradient(90deg,#8debe3 0.2%,#9ff589 0.6%,#bffa32 1.0%,#eff303 1.4%,#fea500 1.7%,#fc5c00 2.1%,#f63700 2.5%,#e80e00 3.3%,#970000 6.4%,#920000 8.3%,#c10200 11.8%,#ee1800 18.0%,#fc6300 25.4%,#f9d600 33.9%,#f0f202 37.8%,#c1fa2d 50.6%,#9ff58c 92.1%,#9cf399 99.8%)"></i><i style="top:53px;background:linear-gradient(90deg,#8dece0 0.2%,#a0f586 0.6%,#bffa30 1.0%,#f2f200 1.4%,#fe9f00 1.7%,#fb5600 2.1%,#ef1c00 2.9%,#d80900 3.7%,#940000 6.4%,#920000 8.3%,#c10300 11.8%,#ed1600 17.6%,#fc6000 25.0%,#f9d600 33.5%,#f0f202 37.4%,#c1fa2d 50.2%,#9ff58c 91.3%,#9cf39a 99.8%)"></i><i style="top:54px;background:linear-gradient(90deg,#8eecdc 0.2%,#a1f683 0.6%,#c0fa2e 1.0%,#f3f000 1.4%,#fe9800 1.7%,#fb5100 2.1%,#ee1900 2.9%,#d60900 3.7%,#920000 6.4%,#920000 8.3%,#c20300 11.8%,#ed1800 17.6%,#fc5e00 24.6%,#f9d500 33.1%,#eff303 37.4%,#c1fa2d 49.8%,#9ff58c 90.5%,#9bf39c 99.8%)"></i><i style="top:55px;background:linear-gradient(90deg,#8fecd8 0.2%,#a1f681 0.6%,#c1fa2c 1.0%,#f3ec00 1.4%,#ff9200 1.7%,#fb4e00 2.1%,#ed1700 2.9%,#c10200 4.5%,#900000 6.4%,#920000 8.3%,#c00200 11.4%,#ed1600 17.2%,#fc6200 24.6%,#f9d400 32.8%,#eff303 37.0%,#c1fa2d 49.4%,#9ff58c 89.7%,#9bf39d 99.8%)"></i><i style="top:56px;background:linear-gradient(90deg,#90edd5 0.2%,#a2f67e 0.6%,#c2fa2a 1.0%,#f5e700 1.4%,#ff8d00 1.7%,#fa4a00 2.1%,#ec1400 2.9%,#a60000 5.2%,#8b0000 6.8%,#9d0000 9.1%,#be0200 11.0%,#ed1800 17.2%,#fc6000 24.2%,#f9d300 32.4%,#eff303 36.6%,#c1fa2d 49.0%,#9ff58c 89.0%,#9bf39f 99.8%)"></i><i style="top:57px;background:linear-gradient(90deg,#90edd1 0.2%,#a2f77b 0.6%,#c3fa28 1.0%,#f6e200 1.4%,#ff8700 1.7%,#fa4600 2.1%,#ec1100 2.9%,#a20000 5.2%,#8a0000 6.8%,#9f0000 9.1%,#c20300 11.4%,#ed1600 16.9%,#fc6400 24.2%,#f9d600 32.4%,#eff202 36.2%,#c1fa2d 48.6%,#9ff58d 88.6%,#9af3a1 99.8%)"></i><i style="top:58px;background:linear-gradient(90deg,#91eecd 0.2%,#a3f778 0.6%,#c5fa26 1.0%,#f7de00 1.4%,#fe8100 1.7%,#f94300 2.1%,#eb0f00 2.9%,#950000 5.6%,#890000 7.2%,#a70000 9.5%,#c30300 11.4%,#ed1800 16.9%,#fc6100 23.8%,#f9d600 32.0%,#eff202 35.9%,#c1fa2c 47.9%,#9ff58c 87.4%,#9af2a3 99.8%)"></i><i style="top:59px;background:linear-gradient(90deg,#92eeca 0.2%,#a3f775 0.6%,#c8f924 1.0%,#f8d900 1.4%,#fe7b00 1.7%,#f84000 2.1%,#e80e00 2.9%,#920000 5.6%,#890000 7.2%,#b20000 9.9%,#ed1600 16.5%,#fc5f00 23.4%,#f9d500 31.6%,#f0f202 35.5%,#c1fa2d 47.5%,#9ff58c 86.6%,#9af2a5 99.8%)"></i><i style="top:60px;background:linear-gradient(90deg,#93eec6 0.2%,#a4f872 0.6%,#caf922 1.0%,#f9d400 1.4%,#fd7400 1.7%,#f73d00 2.1%,#e60d00 2.9%,#900000 5.6%,#800 7.2%,#b40000 9.9%,#ed1800 16.5%,#fc6300 23.4%,#f9d400 31.2%,#f0f202 35.1%,#c1fa2d 47.1%,#9ff58c 85.9%,#99f2a7 99.8%)"></i><i style="top:61px;background:linear-gradient(90deg,#93efc2 0.2%,#a5f870 0.6%,#cdf81f 1.0%,#facf00 1.4%,#fd6e00 1.7%,#f73a00 2.1%,#ef1d00 2.5%,#d40800 3.3%,#8e0000 5.6%,#800 7.2%,#c30300 11.0%,#ed1600 16.1%,#fc6100 23.1%,#f9d400 30.8%,#f0f202 34.7%,#c1fa2d 46.7%,#9ff58c 85.1%,#99f2aa 99.8%)"></i><i style="top:62px;background:linear-gradient(90deg,#94efbe 0.2%,#a6f86c 0.6%,#d0f81d 1.0%,#fcca00 1.4%,#fc6800 1.7%,#f63600 2.1%,#ee1a00 2.5%,#d20800 3.3%,#8b0000 5.6%,#800 7.2%,#c10200 10.7%,#ed1800 16.1%,#fc5f00 22.7%,#f9d300 30.4%,#f0f202 34.3%,#c1fa2c 45.9%,#9ff58c 84.3%,#98f1ac 99.8%)"></i><i style="top:63px;background:linear-gradient(90deg,#95f0ba 0.2%,#a7f869 0.6%,#d3f71b 1.0%,#fcc400 1.4%,#fc6200 1.7%,#f53300 2.1%,#ed1700 2.5%,#c50400 3.7%,#900000 5.2%,#860000 6.8%,#a00 9.1%,#c20300 10.7%,#ed1600 15.7%,#fc6400 22.7%,#f9d700 30.4%,#f0f202 33.9%,#c1fa2c 45.5%,#9ff58d 83.5%,#98f1ae 99.8%)"></i><i style="top:64px;background:linear-gradient(90deg,#96f0b6 0.2%,#a9f865 0.6%,#d6f718 1.0%,#fdbc00 1.4%,#fc5c00 1.7%,#f43000 2.1%,#ed1500 2.5%,#a60000 4.5%,#800 5.6%,#890000 7.2%,#c00200 10.3%,#ed1800 15.7%,#fc6200 22.3%,#f9d600 30.0%,#f0f202 33.5%,#c1fa2d 45.2%,#9ff58c 82.4%,#97f1b0 99.8%)"></i><i style="top:65px;background:linear-gradient(90deg,#97f1b2 0.2%,#aaf862 0.6%,#d8f616 1.0%,#fdb500 1.4%,#fb5600 1.7%,#f32d00 2.1%,#ec1200 2.5%,#a20000 4.5%,#860000 5.6%,#8f0000 7.6%,#bd0100 9.9%,#ed1600 15.3%,#fc6000 21.9%,#f9d600 29.7%,#f0f202 33.1%,#c1fa2d 44.8%,#9ff58c 81.6%,#97f1b3 99.8%)"></i><i style="top:66px;background:linear-gradient(90deg,#98f1ae 0.2%,#acf85e 0.6%,#dbf613 1.0%,#fdae00 1.4%,#fb5100 1.7%,#eb0f00 2.5%,#920000 4.8%,#830000 6.0%,#980000 7.9%,#bf0200 9.9%,#ed1800 15.3%,#fc6400 21.9%,#f9d500 29.3%,#f0f201 32.8%,#c1fa2c 44.0%,#9ff58c 80.8%,#96f0b5 99.8%)"></i><i style="top:67px;background:linear-gradient(90deg,#98f1aa 0.2%,#adf95b 0.6%,#def511 1.0%,#fea700 1.4%,#fa4d00 1.7%,#f22700 2.1%,#e90e00 2.5%,#900000 4.8%,#840000 6.4%,#ab0000 8.7%,#c30300 10.3%,#ed1600 14.9%,#fc6200 21.5%,#f9d500 28.9%,#f0f201 32.4%,#c1fa2c 43.6%,#9ff58c 80.0%,#96f0b8 99.8%)"></i><i style="top:68px;background:linear-gradient(90deg,#99f2a6 0.2%,#aff957 0.6%,#e1f50e 1.0%,#fea000 1.4%,#fa4900 1.7%,#f12500 2.1%,#e60e00 2.5%,#8d0000 4.8%,#840000 6.4%,#ae0000 8.7%,#d40800 11.8%,#ed1800 14.9%,#fc6000 21.1%,#f9d400 28.5%,#f0f201 32.0%,#c1fa2d 43.2%,#9ff58d 79.3%,#95f0ba 99.8%)"></i><i style="top:69px;background:linear-gradient(90deg,#9af2a2 0.2%,#b0f955 0.6%,#e4f40c 1.0%,#fe9800 1.4%,#fa4500 1.7%,#f02200 2.1%,#e40d00 2.5%,#bb0100 3.7%,#8b0000 4.8%,#840000 6.4%,#bf0200 9.5%,#ed1600 14.5%,#fc5e00 20.7%,#f9d400 28.1%,#f0f201 31.6%,#c1fa2d 42.8%,#9ff58d 78.5%,#95efbd 99.8%)"></i><i style="top:70px;background:linear-gradient(90deg,#9bf39e 0.2%,#b1f953 0.6%,#e7f409 1.0%,#ff9200 1.4%,#f94200 1.7%,#ef1f00 2.1%,#e20c00 2.5%,#930000 4.5%,#810000 5.6%,#980000 7.6%,#c00200 9.5%,#ee1800 14.5%,#fc6300 20.7%,#f9d400 27.7%,#f0f201 31.2%,#c1fa2c 42.1%,#9ff58c 77.3%,#94efbf 99.8%)"></i><i style="top:71px;background:linear-gradient(90deg,#9cf39b 0.2%,#b2f951 0.6%,#eaf307 1.0%,#ff8d00 1.4%,#f83f00 1.7%,#ee1c00 2.1%,#ce0600 2.9%,#870000 4.8%,#860000 6.4%,#c10300 9.5%,#ed1600 14.1%,#fc6100 20.3%,#f9d300 27.3%,#f0f201 30.8%,#c1fa2d 41.7%,#9ff58c 76.6%,#94efc2 99.8%)"></i><i style="top:72px;background:linear-gradient(90deg,#9cf398 0.2%,#b2f94f 0.6%,#edf304 1.0%,#ff8600 1.4%,#f73c00 1.7%,#ee1900 2.1%,#cc0600 2.9%,#8e0000 4.5%,#810000 5.6%,#9d0000 7.6%,#bf0200 9.1%,#ee1900 14.1%,#fc5f00 20.0%,#f9d300 26.9%,#f0f202 30.4%,#c1fa2d 41.3%,#9ff58d 75.8%,#93efc4 99.8%)"></i><i style="top:73px;background:linear-gradient(90deg,#9df495 0.2%,#b3f94c 0.6%,#f0f202 1.0%,#fe8000 1.4%,#f63800 1.7%,#ed1600 2.1%,#be0200 3.3%,#8b0000 4.5%,#810000 5.6%,#a00000 7.6%,#c00200 9.1%,#ed1700 13.8%,#fc5d00 19.6%,#f9d300 26.6%,#f0f202 30.0%,#c1fa2c 40.5%,#9ff58c 74.6%,#92eec7 99.8%)"></i><i style="top:74px;background:linear-gradient(90deg,#9df492 0.2%,#b4f94a 0.6%,#f2f100 1.0%,#fe7900 1.4%,#f53500 1.7%,#ec1300 2.1%,#a70000 3.7%,#830000 4.8%,#8a0000 6.4%,#be0100 8.7%,#ee1900 13.8%,#fc6300 19.6%,#f8d700 26.6%,#f0f202 29.7%,#c1fa2d 40.1%,#9ff58c 73.8%,#92eeca 99.8%)"></i><i style="top:75px;background:linear-gradient(90deg,#9ef48f 0.2%,#b5f948 0.6%,#f3ee00 1.0%,#fd7300 1.4%,#f53200 1.7%,#eb1000 2.1%,#bb0100 3.3%,#920000 4.1%,#800000 5.2%,#9c0000 7.2%,#bf0200 8.7%,#ed1700 13.4%,#fc6100 19.2%,#f9d700 26.2%,#f0f202 29.3%,#c1fa2d 39.7%,#9ff58d 73.1%,#91eecc 99.8%)"></i><i style="top:76px;background:linear-gradient(90deg,#9ff58d 0.2%,#b6f946 0.6%,#f4e900 1.0%,#fd6c00 1.4%,#f42f00 1.7%,#ea0f00 2.1%,#900000 4.1%,#800000 5.2%,#9f0000 7.2%,#c10200 8.7%,#ee1a00 13.4%,#fc5f00 18.8%,#f9d600 25.8%,#f0f202 28.9%,#c1fa2c 39.0%,#9ff58c 71.9%,#91edcf 99.8%)"></i><i style="top:77px;background:linear-gradient(90deg,#9ff58a 0.2%,#b7f943 0.6%,#f5e400 1.0%,#fc6600 1.4%,#f32c00 1.7%,#e70e00 2.1%,#8d0000 4.1%,#800000 5.2%,#a20000 7.2%,#be0200 8.3%,#ed1700 13.0%,#fc6400 18.8%,#f9d600 25.4%,#f0f202 28.5%,#c1fa2d 38.6%,#9ff58d 71.1%,#90edd2 99.8%)"></i><i style="top:78px;background:linear-gradient(90deg,#a0f587 0.2%,#b8f941 0.6%,#f7df00 1.0%,#fc5f00 1.4%,#f22900 1.7%,#e50d00 2.1%,#8b0000 4.1%,#810000 5.2%,#a60000 7.2%,#c00200 8.3%,#ed1500 12.6%,#fc6200 18.4%,#f9d600 25.0%,#f0f202 28.1%,#c1fa2d 38.2%,#9ff58d 70.3%,#90edd5 99.8%)"></i><i style="top:79px;background:linear-gradient(90deg,#a1f683 0.2%,#b9f93e 0.6%,#f8d900 1.0%,#fb5900 1.4%,#f12600 1.7%,#e20c00 2.1%,#890000 4.1%,#810000 5.2%,#a00 7.2%,#c60400 8.7%,#ed1800 12.6%,#fc6000 18.0%,#f9d600 24.6%,#eff202 27.7%,#c1fa2c 37.4%,#9ff58c 69.2%,#8fedd8 99.8%)"></i><i style="top:80px;background:linear-gradient(90deg,#a1f680 0.2%,#baf93c 0.6%,#f9d400 1.0%,#fb5300 1.4%,#f02300 1.7%,#e00c00 2.1%,#800 4.1%,#820000 5.2%,#ae0000 7.2%,#c70400 8.7%,#ee1b00 12.6%,#fc5e00 17.6%,#f9d600 24.2%,#eff202 27.3%,#c1fa2d 37.0%,#9ff58d 68.4%,#8eecda 99.8%)"></i><i style="top:81px;background:linear-gradient(90deg,#a2f67d 0.2%,#bbf93a 0.6%,#facf00 1.0%,#fb4f00 1.4%,#f02000 1.7%,#de0b00 2.1%,#910000 3.7%,#800000 4.8%,#9b0000 6.4%,#c00200 7.9%,#ee1800 12.2%,#fc6400 17.6%,#f9d500 23.8%,#eff202 26.9%,#c1fa2d 36.6%,#9ef58d 67.6%,#8eecdd 99.8%)"></i><i style="top:82px;background:linear-gradient(90deg,#a2f77a 0.2%,#bcfa37 0.6%,#fcc900 1.0%,#fa4a00 1.4%,#ef1d00 1.7%,#db0a00 2.1%,#bb0100 2.9%,#8f0000 3.7%,#810000 4.8%,#a00 6.8%,#c70400 8.3%,#ed1600 11.8%,#fc6200 17.2%,#f9d500 23.4%,#eff303 26.6%,#c1fa2d 35.9%,#9ff58d 66.5%,#8dece0 99.8%)"></i><i style="top:83px;background:linear-gradient(90deg,#a3f777 0.2%,#bdfa35 0.6%,#fcc200 1.0%,#fa4600 1.4%,#ee1a00 1.7%,#c70400 2.5%,#8d0000 3.7%,#820000 4.8%,#ae0000 6.8%,#c40300 7.9%,#ee1900 11.8%,#fc6000 16.9%,#f9d500 23.1%,#eff303 26.2%,#c1fa2d 35.5%,#9ff58d 65.7%,#8debe3 99.8%)"></i><i style="top:84px;background:linear-gradient(90deg,#a4f774 0.2%,#bffa32 0.6%,#fdba00 1.0%,#f94300 1.4%,#ed1700 1.7%,#c50400 2.5%,#8b0000 3.7%,#830000 4.8%,#c10200 7.6%,#ed1600 11.4%,#fc5e00 16.5%,#f9d500 22.7%,#eff303 25.8%,#c1fa2c 34.7%,#9ff58d 64.5%,#8cebe6 99.8%)"></i><i style="top:85px;background:linear-gradient(90deg,#a5f870 0.2%,#c0fa30 0.6%,#fdb200 1.0%,#f83f00 1.4%,#ec1400 1.7%,#af0000 2.9%,#890000 3.7%,#840000 4.8%,#be0200 7.2%,#ec1400 11.0%,#fc6500 16.5%,#f9d500 22.3%,#f1f201 25.0%,#c1fa2d 34.3%,#9ff58d 63.8%,#8ae8e6 99.8%)"></i><i style="top:86px;background:linear-gradient(90deg,#a6f86d 0.2%,#c1fa2d 0.6%,#fdab00 1.0%,#f73c00 1.4%,#eb1100 1.7%,#950000 3.3%,#820000 4.1%,#8d0000 5.2%,#c00200 7.2%,#ed1700 11.0%,#fc6200 16.1%,#f9d500 21.9%,#f1f201 24.6%,#c1fa2c 33.5%,#9ff58d 62.6%,#8ae8e6 98.3%,#88e6e7 99.8%)"></i><i style="top:87px;background:linear-gradient(90deg,#a7f869 0.2%,#c2fa2b 0.6%,#fea300 1.0%,#f63900 1.4%,#ea0f00 1.7%,#920000 3.3%,#820000 4.1%,#8f0000 5.2%,#c20300 7.2%,#ec1400 10.7%,#fc6000 15.7%,#f9d500 21.5%,#f1f201 24.2%,#c1fa2d 33.1%,#9ff58d 61.8%,#8ae9e6 96.7%,#86e3e7 99.8%)"></i><i style="top:88px;background:linear-gradient(90deg,#a9f865 0.2%,#c3fa28 0.6%,#fe9b00 1.0%,#f53500 1.4%,#e70e00 1.7%,#900000 3.3%,#820000 4.1%,#920000 5.2%,#bf0200 6.8%,#ed1700 10.7%,#fc5e00 15.3%,#f9d400 21.1%,#f0f201 23.8%,#c1fa2d 32.8%,#9ff58c 60.7%,#8ae9e6 95.2%,#84e0e7 99.8%)"></i><i style="top:89px;background:linear-gradient(90deg,#abf861 0.2%,#c5fa27 0.6%,#ff9400 1.0%,#f53200 1.4%,#e50d00 1.7%,#8e0000 3.3%,#830000 4.1%,#a10000 5.6%,#c00200 6.8%,#ed1500 10.3%,#fc6500 15.3%,#f9d400 20.7%,#f0f202 23.4%,#c1fa2c 32.0%,#9ff58c 59.5%,#8ae9e6 93.6%,#82dee7 99.8%)"></i><i style="top:90px;background:linear-gradient(90deg,#acf85d 0.2%,#c8f924 0.6%,#ff8e00 1.0%,#f42f00 1.4%,#e20c00 1.7%,#bb0100 2.5%,#9e0000 2.9%,#850000 3.7%,#8f0000 4.8%,#c20300 6.8%,#ed1800 10.3%,#fc6200 14.9%,#f9d400 20.3%,#f0f202 23.1%,#c1fa2d 31.6%,#9ff58c 58.7%,#8ae8e6 92.4%,#80dbe8 99.8%)"></i><i style="top:91px;background:linear-gradient(90deg,#aef959 0.2%,#cbf921 0.6%,#ff8700 1.0%,#f32b00 1.4%,#e00c00 1.7%,#8b0000 3.3%,#850000 4.1%,#a00 5.6%,#c40300 6.8%,#ed1500 9.9%,#fc6000 14.5%,#f9d400 20.0%,#f0f202 22.7%,#c1fa2c 30.8%,#9ff58c 57.6%,#8ae8e6 90.9%,#7ed8e8 99.8%)"></i><i style="top:92px;background:linear-gradient(90deg,#aff956 0.2%,#cef81f 0.6%,#fe8000 1.0%,#f22800 1.4%,#de0b00 1.7%,#900 2.9%,#850000 3.7%,#950000 4.8%,#c10200 6.4%,#ee1800 9.9%,#fc5d00 14.1%,#f9d400 19.6%,#eff202 22.3%,#c1fa2d 30.4%,#9ff58c 56.8%,#8ae8e6 89.3%,#7bd5e8 99.8%)"></i><i style="top:93px;background:linear-gradient(90deg,#b0f953 0.2%,#d1f81c 0.6%,#fe7900 1.0%,#f12500 1.4%,#db0a00 1.7%,#960000 2.9%,#850000 3.7%,#900 4.8%,#be0100 6.0%,#ed1500 9.5%,#fc6500 14.1%,#f9d400 19.2%,#eff202 21.9%,#c1fa2d 30.0%,#9ff58d 56.0%,#8ae8e6 87.8%,#79d2e8 99.8%)"></i><i style="top:94px;background:linear-gradient(90deg,#b2f951 0.2%,#d5f719 0.6%,#fd7100 1.0%,#f02200 1.4%,#d90a00 1.7%,#940000 2.9%,#860000 3.7%,#9c0000 4.8%,#c00200 6.0%,#ee1900 9.5%,#fc6200 13.8%,#f9d300 18.8%,#eff303 21.5%,#c1fa2c 29.3%,#9ff58c 54.8%,#8ae8e6 86.2%,#77d0e9 99.8%)"></i><i style="top:95px;background:linear-gradient(90deg,#b3f94e 0.2%,#d8f616 0.6%,#fd6a00 1.0%,#ef1f00 1.4%,#d70900 1.7%,#930000 2.9%,#870000 3.7%,#a10000 4.8%,#c20300 6.0%,#ed1600 9.1%,#fc5f00 13.4%,#f9d300 18.4%,#eff303 21.1%,#c1fa2d 28.9%,#9ff58d 54.1%,#8ae9e6 84.7%,#75cde9 99.8%)"></i><i style="top:96px;background:linear-gradient(90deg,#b4f94c 0.2%,#dbf613 0.6%,#fc6300 1.0%,#ee1b00 1.4%,#d50800 1.7%,#910000 2.9%,#800 3.7%,#a50000 4.8%,#c40300 6.0%,#ee1900 9.1%,#fc5c00 13.0%,#f9d300 18.0%,#eef303 20.7%,#c1fa2c 28.1%,#9ff58c 52.9%,#8ae9e6 83.1%,#73cae9 99.8%)"></i><i style="top:97px;background:linear-gradient(90deg,#b5f949 0.2%,#dff511 0.6%,#fc5c00 1.0%,#ee1800 1.4%,#bf0200 2.1%,#900000 2.9%,#8a0000 3.7%,#c00200 5.6%,#ed1600 8.7%,#fc6400 13.0%,#f9d300 17.6%,#f1f200 20.0%,#c1fa2d 27.7%,#9ff58d 52.1%,#8ae9e6 81.6%,#70c7e9 99.8%)"></i><i style="top:98px;background:linear-gradient(90deg,#b6f947 0.2%,#e2f50e 0.6%,#fb5500 1.0%,#ed1500 1.4%,#bd0100 2.1%,#8f0000 2.9%,#8c0000 3.7%,#c20300 5.6%,#ee1900 8.7%,#fc6100 12.6%,#fad200 17.2%,#f1f201 19.6%,#c1fa2c 26.9%,#9ff58c 51.0%,#8ae8e6 80.4%,#6dc2ea 99.8%)"></i><i style="top:99px;background:linear-gradient(90deg,#b7f944 0.2%,#e5f40b 0.6%,#fb5000 1.0%,#ec1200 1.4%,#9e0000 2.5%,#8a0000 3.3%,#a50000 4.5%,#c40300 5.6%,#ed1600 8.3%,#fc5e00 12.2%,#fad200 16.9%,#f1f201 19.2%,#c1fa2c 26.6%,#9ff58d 50.2%,#8ae8e6 78.9%,#68bcea 99.8%)"></i><i style="top:100px;background:linear-gradient(90deg,#b8f941 0.2%,#e9f408 0.6%,#fa4b00 1.0%,#eb0f00 1.4%,#cc0600 1.7%,#9c0000 2.5%,#8c0000 3.3%,#a90000 4.5%,#c00200 5.2%,#ee1a00 8.3%,#fc6600 12.2%,#fad200 16.5%,#f1f201 18.8%,#c1fa2d 26.2%,#9ff58c 49.0%,#8ae8e6 77.3%,#63b5eb 99.8%)"></i><i style="top:101px;background:linear-gradient(90deg,#b9f93e 0.2%,#ecf305 0.6%,#fa4700 1.0%,#e80e00 1.4%,#9a0000 2.5%,#8d0000 3.3%,#c30300 5.2%,#ed1600 7.9%,#fc6300 11.8%,#fad100 16.1%,#f1f201 18.4%,#c1fa2c 25.4%,#9ff58d 48.3%,#8ae9e6 75.8%,#63b5eb 97.9%,#5eaeec 99.8%)"></i><i style="top:102px;background:linear-gradient(90deg,#bbf93c 0.2%,#f0f202 0.6%,#f94300 1.0%,#e60d00 1.4%,#900 2.5%,#8f0000 3.3%,#c50400 5.2%,#ee1a00 7.9%,#fc5f00 11.4%,#fad100 15.7%,#f1f201 18.0%,#c1fa2d 25.0%,#9ff58c 47.1%,#8ae9e6 74.2%,#63b5eb 95.9%,#59a8ec 99.8%)"></i><i style="top:103px;background:linear-gradient(90deg,#bcfa39 0.2%,#f2f100 0.6%,#f83f00 1.0%,#e30d00 1.4%,#980000 2.5%,#920000 3.3%,#c10200 4.8%,#ed1600 7.6%,#fc5c00 11.0%,#fad000 15.3%,#f0f201 17.6%,#c2fa2b 24.2%,#9ff58d 46.3%,#8ae9e6 72.7%,#63b5eb 94.0%,#54a1ed 99.8%)"></i><i style="top:104px;background:linear-gradient(90deg,#bdfa36 0.2%,#f3ed00 0.6%,#f73c00 1.0%,#e10c00 1.4%,#970000 2.5%,#940000 3.3%,#c30300 4.8%,#ee1a00 7.6%,#fc6400 11.0%,#facf00 14.9%,#f0f201 17.2%,#c1fa2c 23.8%,#9ef58d 45.5%,#8ae8e6 71.5%,#62b4eb 92.4%,#4e9aee 99.8%)"></i><i style="top:105px;background:linear-gradient(90deg,#befa33 0.2%,#f5e600 0.6%,#f63800 1.0%,#de0b00 1.4%,#960000 2.5%,#970000 3.3%,#c50400 4.8%,#ed1600 7.2%,#fc6000 10.7%,#facf00 14.5%,#f0f202 16.9%,#c1fa2d 23.4%,#9ff58d 44.4%,#8ae8e6 70.0%,#63b6eb 90.1%,#4993ee 99.8%)"></i><i style="top:106px;background:linear-gradient(90deg,#bffa30 0.2%,#f6e000 0.6%,#f53400 1.0%,#dc0b00 1.4%,#960000 2.5%,#9b0000 3.3%,#c10200 4.5%,#ee1a00 7.2%,#fc5c00 10.3%,#f9d500 14.5%,#f0f202 16.5%,#c1fa2c 22.7%,#9ef58d 43.6%,#8ae8e6 68.4%,#62b4eb 88.6%,#448cef 99.8%)"></i><i style="top:107px;background:linear-gradient(90deg,#c1fa2e 0.2%,#f8da00 0.6%,#f43100 1.0%,#da0a00 1.4%,#a60000 2.1%,#970000 2.5%,#9e0000 3.3%,#c30300 4.5%,#ed1500 6.8%,#fc6500 10.3%,#f9d500 14.1%,#f0f202 16.1%,#c1fa2c 22.3%,#9ff58d 42.4%,#8ae9e6 66.9%,#63b5eb 86.6%,#3f85f0 99.8%)"></i><i style="top:108px;background:linear-gradient(90deg,#c2fa2b 0.2%,#f9d400 0.6%,#f32d00 1.0%,#d80900 1.4%,#a50000 2.1%,#970000 2.5%,#a30000 3.3%,#c60400 4.5%,#ee1900 6.8%,#fc6000 9.9%,#f9d400 13.8%,#f0f202 15.7%,#c1fa2d 21.9%,#9ff58d 41.7%,#8ae8e6 65.7%,#63b5eb 84.7%,#3c81f0 99.8%)"></i><i style="top:109px;background:linear-gradient(90deg,#c3fa28 0.2%,#fbcd00 0.6%,#f22a00 1.0%,#d50900 1.4%,#a30000 2.1%,#980000 2.5%,#a70000 3.3%,#c10200 4.1%,#ed1500 6.4%,#fc5c00 9.5%,#f9d300 13.4%,#f0f202 15.3%,#c1fa2c 21.1%,#9ff58c 40.5%,#8ae8e6 64.1%,#63b5eb 82.8%,#3b7ff0 99.0%,#3b7ef0 99.8%)"></i><i style="top:110px;background:linear-gradient(90deg,#c6fa26 0.2%,#fcc600 0.6%,#f12600 1.0%,#d30800 1.4%,#a20000 2.1%,#9a0000 2.5%,#ac0000 3.3%,#cb0500 4.5%,#ee1900 6.4%,#fc6500 9.5%,#fad200 13.0%,#f0f202 14.9%,#c1fa2d 20.7%,#9ff58d 39.7%,#8ae9e6 62.6%,#63b6eb 80.8%,#3b7ff0 96.7%,#3a7cef 99.8%)"></i><i style="top:111px;background:linear-gradient(90deg,#c9f923 0.2%,#fdbd00 0.6%,#f02300 1.0%,#d10700 1.4%,#a20000 2.1%,#9c0000 2.5%,#d60900 4.8%,#ef1d00 6.4%,#fc6000 9.1%,#fad100 12.6%,#f0f202 14.5%,#c2fa2b 20.0%,#9ff58c 38.6%,#8ae9e6 61.0%,#64b6eb 78.9%,#3b7ff0 94.8%,#397aef 99.8%)"></i><i style="top:112px;background:linear-gradient(90deg,#cdf81f 0.2%,#fdb400 0.6%,#f02000 1.0%,#cf0700 1.4%,#a20000 2.1%,#9e0000 2.5%,#d90a00 4.8%,#ee1800 6.0%,#fb5b00 8.7%,#fad000 12.2%,#f0f202 14.1%,#c1fa2c 19.6%,#9ff58d 37.8%,#8ae8e6 59.9%,#63b5eb 77.3%,#3b7ff0 92.4%,#3877ef 99.8%)"></i><i style="top:113px;background:linear-gradient(90deg,#d1f81c 0.2%,#fdab00 0.6%,#ef1c00 1.0%,#ce0600 1.4%,#a20000 2.1%,#a10000 2.5%,#cb0500 4.1%,#ef1d00 6.0%,#fc6400 8.7%,#face00 11.8%,#f0f201 13.8%,#c1fa2c 19.2%,#9ff58d 37.0%,#8ae8e6 58.3%,#63b5eb 75.4%,#3b7ff0 90.1%,#3775ef 99.8%)"></i><i style="top:114px;background:linear-gradient(90deg,#d5f719 0.2%,#fea200 0.6%,#ee1900 1.0%,#cc0600 1.4%,#a30000 2.1%,#a40000 2.5%,#d70900 4.5%,#ed1700 5.6%,#fc5e00 8.3%,#fbcd00 11.4%,#f0f201 13.4%,#c1fa2d 18.8%,#9ef58e 36.2%,#8ae9e6 56.8%,#63b6eb 73.4%,#3b7ff0 88.2%,#3772ef 99.8%)"></i><i style="top:115px;background:linear-gradient(90deg,#d8f616 0.2%,#fe9900 0.6%,#ed1600 1.0%,#ca0500 1.4%,#a40000 2.1%,#b60000 2.9%,#ec1100 5.2%,#fb5800 7.9%,#f9d500 11.4%,#f1f201 13.0%,#c2fa2b 18.0%,#9ff58d 35.1%,#8ae8e6 55.6%,#63b5eb 71.9%,#3b7ff0 85.9%,#3670ee 99.8%)"></i><i style="top:116px;background:linear-gradient(90deg,#dcf612 0.2%,#ff9100 0.6%,#ec1300 1.0%,#c90500 1.4%,#a60000 2.1%,#ed1600 5.2%,#fc6200 7.9%,#f9d300 11.0%,#f1f201 12.6%,#c1fa2c 17.6%,#9ef58d 34.3%,#8ae9e6 54.1%,#63b5eb 70.0%,#3b7ff0 83.9%,#356dee 99.8%)"></i><i style="top:117px;background:linear-gradient(90deg,#e0f50f 0.2%,#ff8a00 0.6%,#eb1000 1.0%,#c70400 1.4%,#a80000 2.1%,#eb1000 4.8%,#fc5b00 7.6%,#fad100 10.7%,#f1f201 12.2%,#c1fa2d 17.2%,#9ef58e 33.5%,#8ae8e6 52.9%,#62b4eb 68.4%,#3b7ff0 81.6%,#346bee 99.8%)"></i><i style="top:118px;background:linear-gradient(90deg,#e4f40c 0.2%,#fe8100 0.6%,#e90e00 1.0%,#c60400 1.4%,#ab0000 2.1%,#ec1400 4.8%,#fc6600 7.6%,#facf00 10.3%,#f2f200 11.8%,#c2fa2b 16.5%,#9ff58d 32.4%,#8ae8e6 51.4%,#63b5eb 66.5%,#3b7ff0 79.7%,#3368ee 99.8%)"></i><i style="top:119px;background:linear-gradient(90deg,#e8f408 0.2%,#fe7900 0.6%,#e70e00 1.0%,#c50400 1.4%,#b30000 1.7%,#ae0000 2.1%,#e90e00 4.5%,#fc5f00 7.2%,#fbcd00 9.9%,#f2f200 11.4%,#c2fa2b 16.1%,#9ff58d 31.6%,#8be9e6 49.8%,#64b6eb 64.5%,#3b7ff0 77.3%,#3266ee 99.8%)"></i><i style="top:120px;background:linear-gradient(90deg,#ecf305 0.2%,#fd7100 0.6%,#e40d00 1.0%,#c40300 1.4%,#b40000 1.7%,#b20000 2.1%,#ec1200 4.5%,#fb5700 6.8%,#fbcb00 9.5%,#f2f100 11.0%,#c1fa2c 15.7%,#9ff58c 30.4%,#8ae8e6 48.6%,#63b5eb 63.0%,#3b7ff0 75.4%,#3263ed 99.8%)"></i><i style="top:121px;background:linear-gradient(90deg,#f0f202 0.2%,#fc6900 0.6%,#e20c00 1.0%,#c30300 1.4%,#b50000 1.7%,#c70400 2.9%,#ed1600 4.5%,#fc6100 6.8%,#f9d300 9.5%,#eef303 11.0%,#c1fa2d 15.3%,#9ff58c 29.7%,#8be9e6 47.1%,#64b6eb 61.0%,#3b80f0 73.1%,#3160ed 99.8%)"></i><i style="top:122px;background:linear-gradient(90deg,#f2f000 0.2%,#fc6100 0.6%,#e00c00 1.0%,#c20300 1.4%,#b70000 1.7%,#e00c00 3.7%,#f22700 4.8%,#fb5900 6.4%,#fad100 9.1%,#eff303 10.7%,#c1fa2d 14.9%,#9ff58d 28.9%,#8ae9e6 45.9%,#63b5eb 59.5%,#3b7ff0 71.1%,#305eed 99.8%)"></i><i style="top:123px;background:linear-gradient(90deg,#f4ea00 0.2%,#fb5900 0.6%,#dd0b00 1.0%,#c20300 1.4%,#b90000 1.7%,#d80900 3.3%,#f02000 4.5%,#fc6400 6.4%,#fbce00 8.7%,#eff202 10.3%,#c2fa2b 14.1%,#9ff58b 27.7%,#8ae8e6 44.8%,#64b7eb 57.6%,#3b7ff0 69.2%,#2f5bed 99.8%)"></i><i style="top:124px;background:linear-gradient(90deg,#f6e300 0.2%,#fb5200 0.6%,#db0a00 1.0%,#c10200 1.4%,#be0200 2.1%,#ee1900 4.1%,#fb5b00 6.0%,#fbca00 8.3%,#f0f201 9.9%,#c2fa2b 13.8%,#9ff58b 26.9%,#8ae9e6 43.2%,#64b6eb 56.0%,#3b7ff0 67.2%,#2e59ed 99.8%)"></i><i style="top:125px;background:linear-gradient(90deg,#f7dc00 0.2%,#fa4d00 0.6%,#da0a00 1.0%,#c10200 1.4%,#c00200 2.1%,#eb1000 3.7%,#fc6600 6.0%,#f9d300 8.3%,#f1f201 9.5%,#c1fa2c 13.4%,#9ff58b 26.2%,#8ae8e6 42.1%,#63b5eb 54.5%,#3b7ff0 65.3%,#2d56ec 99.8%)"></i><i style="top:126px;background:linear-gradient(90deg,#f9d500 0.2%,#fa4800 0.6%,#d80900 1.0%,#c10200 1.4%,#c30300 2.1%,#ed1500 3.7%,#fc5c00 5.6%,#fad000 7.9%,#f2f200 9.1%,#c1fa2c 13.0%,#9ff58c 25.4%,#8ae8e6 40.9%,#63b5eb 52.9%,#3b7ff0 63.4%,#2c53ec 99.8%)"></i><i style="top:127px;background:linear-gradient(90deg,#fbce00 0.2%,#f94300 0.6%,#d60900 1.0%,#c10200 1.4%,#c50400 2.1%,#e80e00 3.3%,#fb5200 5.2%,#fbcc00 7.6%,#f2f000 8.7%,#c1fa2d 12.6%,#9ff58c 24.6%,#8be9e6 39.3%,#62b4eb 51.4%,#3b7ff0 61.4%,#2b51ec 99.8%)"></i><i style="top:128px;background:linear-gradient(90deg,#fcc600 0.2%,#f83f00 0.6%,#d50800 1.0%,#c10300 1.4%,#c80400 2.1%,#ec1100 3.3%,#fc5d00 5.2%,#fcc800 7.2%,#f3ef00 8.3%,#c1fa2d 12.2%,#9ff58c 23.8%,#8ae9e6 38.2%,#64b6eb 49.4%,#3b7ff0 59.5%,#2b4eec 99.8%)"></i><i style="top:129px;background:linear-gradient(90deg,#fdbc00 0.2%,#f73b00 0.6%,#d30800 1.0%,#c20300 1.4%,#cb0500 2.1%,#ed1600 3.3%,#fb5200 4.8%,#fad100 7.2%,#f0f202 8.3%,#c2fa29 11.4%,#9ff58c 23.1%,#8ae8e6 37.0%,#64b6eb 47.9%,#3b7ff0 57.6%,#2a4beb 99.8%)"></i><i style="top:130px;background:linear-gradient(90deg,#fdb100 0.2%,#f63800 0.6%,#d20800 1.0%,#c30300 1.4%,#ce0600 2.1%,#e80e00 2.9%,#fc5c00 4.8%,#fbcd00 6.8%,#f1f201 7.9%,#c2fa29 11.0%,#9ff58a 21.9%,#8ae8e6 35.9%,#63b6eb 46.3%,#3b7ff0 55.6%,#2949eb 99.8%)"></i><i style="top:131px;background:linear-gradient(90deg,#fea700 0.2%,#f53400 0.6%,#d10700 1.0%,#c40300 1.4%,#df0b00 2.5%,#f02100 3.3%,#fb5100 4.5%,#fcc700 6.4%,#f2f100 7.6%,#c2fa2a 10.7%,#9ff58a 21.1%,#8beae6 34.3%,#63b6eb 44.8%,#3b7ff0 53.7%,#2949eb 96.7%,#2846eb 99.8%)"></i><i style="top:132px;background:linear-gradient(90deg,#fe9d00 0.2%,#f43100 0.6%,#d10700 1.0%,#c50400 1.4%,#ed1700 2.9%,#fc5b00 4.5%,#fad100 6.4%,#f3ef00 7.2%,#c2fa2a 10.3%,#9ff58c 20.7%,#8beae6 33.1%,#64b6eb 43.2%,#3b80f0 51.7%,#2949eb 93.2%,#2743eb 99.8%)"></i><i style="top:133px;background:linear-gradient(90deg,#ff9400 0.2%,#f32d00 0.6%,#d00700 1.0%,#c60400 1.4%,#e70e00 2.5%,#fb4f00 4.1%,#fbcb00 6.0%,#eff202 7.2%,#c2fa2a 9.9%,#9ff589 19.6%,#8be9e6 32.0%,#64b6eb 41.7%,#3b7ff0 50.2%,#2948eb 90.5%,#2641ea 99.8%)"></i><i style="top:134px;background:linear-gradient(90deg,#ff8c00 0.2%,#f22a00 0.6%,#d00700 1.0%,#c80400 1.4%,#eb1000 2.5%,#fb5900 4.1%,#fcc300 5.6%,#f2f200 6.8%,#c2fa2a 9.5%,#9ff58c 19.2%,#8be9e6 30.8%,#64b7eb 40.1%,#3b7ff0 48.3%,#2949eb 87.0%,#253eea 99.8%)"></i><i style="top:135px;background:linear-gradient(90deg,#fe8300 0.2%,#f12700 0.6%,#d00700 1.0%,#ca0500 1.4%,#ed1600 2.5%,#fa4c00 3.7%,#facf00 5.6%,#f3f000 6.4%,#c2fa29 9.1%,#9ff58c 18.4%,#8beae6 29.7%,#65b7eb 38.6%,#3b80f0 46.3%,#2949eb 83.5%,#243bea 99.8%)"></i><i style="top:136px;background:linear-gradient(90deg,#fe7b00 0.2%,#f12400 0.6%,#d00700 1.0%,#cc0600 1.4%,#e60d00 2.1%,#fb5500 3.7%,#fcc800 5.2%,#f4ec00 6.0%,#c2fa29 8.7%,#9ff58b 17.6%,#8beae6 28.5%,#63b5eb 37.4%,#3b7ff0 44.8%,#2949eb 80.8%,#2338ea 99.8%)"></i><i style="top:137px;background:linear-gradient(90deg,#fd7200 0.2%,#f02100 0.6%,#d00700 1.0%,#cf0700 1.4%,#eb0f00 2.1%,#fc6300 3.7%,#f9d300 5.2%,#f1f201 6.0%,#c3fa29 8.3%,#9ff58a 16.9%,#8beae6 27.3%,#63b6eb 35.9%,#3b80f0 42.8%,#2949eb 77.3%,#2236ea 99.8%)"></i><i style="top:138px;background:linear-gradient(90deg,#fd6a00 0.2%,#ef1e00 0.6%,#d10700 1.0%,#d20700 1.4%,#ec1400 2.1%,#fb5100 3.3%,#fbcb00 4.8%,#f3f000 5.6%,#c3fa28 7.9%,#9ff58a 16.1%,#8ae8e6 26.6%,#65b7eb 34.3%,#3b80f0 41.3%,#2949eb 74.6%,#2133e9 99.8%)"></i><i style="top:139px;background:linear-gradient(90deg,#fc6200 0.2%,#ef1c00 0.6%,#d20800 1.0%,#e30d00 1.7%,#f94300 2.9%,#f9d700 4.8%,#eef304 5.6%,#c1fa2e 7.9%,#9ff58c 15.7%,#8ae9e6 25.4%,#63b5eb 33.1%,#3b7ff0 39.7%,#2948eb 71.9%,#2030e9 99.8%)"></i><i style="top:140px;background:linear-gradient(90deg,#fb5a00 0.2%,#ee1a00 0.6%,#d40800 1.0%,#e80e00 1.7%,#fa4c00 2.9%,#fbcd00 4.5%,#f1f200 5.2%,#c1fa2d 7.6%,#9ff58b 14.9%,#8be9e6 24.2%,#64b7eb 31.6%,#3b7ff0 38.2%,#2948eb 69.2%,#1f2de9 99.8%)"></i><i style="top:141px;background:linear-gradient(90deg,#fb5300 0.2%,#ed1800 0.6%,#d50800 1.0%,#ec1100 1.7%,#fb5600 2.9%,#fcc000 4.1%,#f3ee00 4.8%,#c1fa2c 7.2%,#9ff58a 14.1%,#8ceae6 23.1%,#63b5eb 30.4%,#3b80f0 36.2%,#2949eb 65.7%,#1f2be9 99.8%)"></i><i style="top:142px;background:linear-gradient(90deg,#fb4e00 0.2%,#ed1600 0.6%,#d70900 1.0%,#ed1700 1.7%,#fa4500 2.5%,#facf00 4.1%,#eff303 4.8%,#c2fa2b 6.8%,#9ff58d 13.8%,#8ae9e6 22.3%,#65b8eb 28.9%,#3b80f0 34.7%,#2949eb 62.6%,#1e28e8 99.8%)"></i><i style="top:143px;background:linear-gradient(90deg,#fa4900 0.2%,#ed1500 0.6%,#da0a00 1.0%,#e40d00 1.4%,#fb4e00 2.5%,#fcc000 3.7%,#f2f100 4.5%,#c2fa2a 6.4%,#9ff58b 13.0%,#8beae6 21.1%,#64b6eb 27.7%,#3b80f0 33.1%,#2949eb 59.9%,#1d25e8 99.8%)"></i><i style="top:144px;background:linear-gradient(90deg,#fa4500 0.2%,#ec1400 0.6%,#dc0b00 1.0%,#e90e00 1.4%,#fb5b00 2.5%,#facf00 3.7%,#f4e800 4.1%,#d5f719 5.2%,#bdfa37 6.8%,#9ef58e 12.6%,#8ae8e6 20.3%,#63b5eb 26.6%,#3b7ff0 32.0%,#2948eb 57.9%,#1c23e8 99.8%)"></i><i style="top:145px;background:linear-gradient(90deg,#f94200 0.2%,#ec1400 0.6%,#df0b00 1.0%,#ec1300 1.4%,#fa4500 2.1%,#fcbe00 3.3%,#f2f200 4.1%,#c4fa27 5.6%,#9ff58b 11.8%,#8beae6 19.2%,#62b4eb 25.4%,#3b7ff0 30.4%,#2948eb 55.2%,#1c23e7 99.4%,#1c22e7 99.8%)"></i><i style="top:146px;background:linear-gradient(90deg,#f83f00 0.2%,#ec1300 0.6%,#e30d00 1.0%,#ee1900 1.4%,#fb4f00 2.1%,#facf00 3.3%,#f4ea00 3.7%,#c6fa26 5.2%,#9ff589 11.0%,#8ae8e6 18.4%,#61b3eb 24.2%,#3b7ff0 28.9%,#2948eb 52.5%,#1c23e7 94.8%,#1b22e6 99.8%)"></i><i style="top:147px;background:linear-gradient(90deg,#f73d00 0.2%,#ec1400 0.6%,#e70e00 1.0%,#f73b00 1.7%,#fc5d00 2.1%,#fdba00 2.9%,#f7dc00 3.3%,#f0f201 3.7%,#c2fa2b 5.2%,#9ff58b 10.7%,#8cebe6 17.2%,#65b8eb 22.7%,#3b80f0 27.3%,#2949eb 49.4%,#1c23e7 89.7%,#1b22e5 99.8%)"></i><i style="top:148px;background:linear-gradient(90deg,#f73a00 0.2%,#ec1400 0.6%,#eb0f00 1.0%,#f94300 1.7%,#fbcc00 2.9%,#f4eb00 3.3%,#c3fa28 4.8%,#a0f588 9.9%,#8beae6 16.5%,#65b8eb 21.5%,#3b7ff0 26.2%,#2948eb 47.5%,#1c23e7 85.9%,#1b22e4 99.8%)"></i><i style="top:149px;background:linear-gradient(90deg,#f63800 0.2%,#ed1600 0.6%,#ed1500 1.0%,#fb4e00 1.7%,#fdb200 2.5%,#f8db00 2.9%,#f0f202 3.3%,#c5fa26 4.5%,#a0f684 9.1%,#8ae9e6 15.7%,#66b9eb 20.3%,#3b80f0 24.6%,#2949eb 44.8%,#1c23e7 81.2%,#1b21e3 99.8%)"></i><i style="top:150px;background:linear-gradient(90deg,#f63700 0.2%,#ed1700 0.6%,#ee1b00 1.0%,#fc5c00 1.7%,#fcc700 2.5%,#f4e900 2.9%,#c9f923 4.1%,#a0f586 8.7%,#8cebe5 14.5%,#67baeb 19.2%,#3b7ff0 23.4%,#2948eb 42.8%,#1c23e7 76.9%,#1b21e2 99.8%)"></i><i style="top:151px;background:linear-gradient(90deg,#f63600 0.2%,#ee1900 0.6%,#f02100 1.0%,#f83f00 1.4%,#f9d700 2.5%,#f0f202 2.9%,#c3fa29 4.1%,#a0f588 8.3%,#8cebe5 13.8%,#63b5eb 18.4%,#3b80f0 21.9%,#294aeb 39.7%,#1c23e7 72.3%,#1b21e1 99.8%)"></i><i style="top:152px;background:linear-gradient(90deg,#f53500 0.2%,#ef1c00 0.6%,#f22800 1.0%,#fa4900 1.4%,#fdbc00 2.1%,#f5e600 2.5%,#d5f718 3.3%,#c0fa30 4.1%,#9ef491 8.3%,#8cebe6 13.0%,#64b7eb 17.2%,#3b80f0 20.7%,#2949eb 37.8%,#1c23e7 68.4%,#1a20e0 99.8%)"></i><i style="top:153px;background:linear-gradient(90deg,#f53500 0.2%,#f02000 0.6%,#f43000 1.0%,#fb5500 1.4%,#facf00 2.1%,#f1f201 2.5%,#c1fa2c 3.7%,#9ff58c 7.6%,#8cebe5 12.2%,#66baeb 16.1%,#3b80f0 19.6%,#2948eb 35.9%,#1c23e7 64.9%,#1a20df 99.8%)"></i><i style="top:154px;background:linear-gradient(90deg,#f63600 0.2%,#f12400 0.6%,#f63800 1.0%,#fc6800 1.4%,#f6e000 2.1%,#e8f409 2.5%,#c4fa27 3.3%,#9ef58e 7.2%,#8cebe5 11.4%,#63b5eb 15.3%,#3b7ff0 18.4%,#2949eb 33.5%,#1c23e7 60.7%,#1a20de 99.8%)"></i><i style="top:155px;background:linear-gradient(90deg,#f63700 0.2%,#f22900 0.6%,#f94100 1.0%,#fcc200 1.7%,#f3f000 2.1%,#caf922 2.9%,#a2f67e 6.0%,#8cebe4 10.7%,#66baeb 14.1%,#3b80f0 17.2%,#2949eb 31.6%,#1c23e7 57.2%,#1a1fde 99.8%)"></i><i style="top:156px;background:linear-gradient(90deg,#f63900 0.2%,#f42e00 0.6%,#fa4c00 1.0%,#f9d500 1.7%,#eaf307 2.1%,#c3fa29 2.9%,#a0f588 6.0%,#8debe3 9.9%,#64b6eb 13.4%,#3b80f0 16.1%,#2949eb 29.3%,#1c23e7 53.3%,#1a1fdd 99.8%)"></i><i style="top:157px;background:linear-gradient(90deg,#f73b00 0.2%,#f53500 0.6%,#fc5b00 1.0%,#fea800 1.4%,#f5e700 1.7%,#c9f923 2.5%,#a2f67e 5.2%,#8ae9e6 9.5%,#69bdea 12.2%,#3b80f0 14.9%,#2949eb 27.3%,#1c23e7 49.8%,#191fdc 99.8%)"></i><i style="top:158px;background:linear-gradient(90deg,#f83f00 0.2%,#f73c00 0.6%,#fd7000 1.0%,#fcc200 1.4%,#eff202 1.7%,#c2fa2a 2.5%,#9ff589 5.2%,#8cebe6 8.7%,#67bbeb 11.4%,#3c81f0 13.8%,#294beb 25.0%,#1c23e7 45.9%,#191edb 99.8%)"></i><i style="top:159px;background:linear-gradient(90deg,#f94300 0.2%,#f94400 0.6%,#ff8600 1.0%,#f8d700 1.4%,#e4f40c 1.7%,#caf922 2.1%,#a2f67d 4.5%,#8debe3 7.9%,#66b9eb 10.7%,#3b80f0 13.0%,#2949eb 23.8%,#1c23e7 43.2%,#191eda 99.8%)"></i><i style="top:160px;background:linear-gradient(90deg,#fa4900 0.2%,#fb4f00 0.6%,#fe9d00 1.0%,#f4eb00 1.4%,#c2fa2a 2.1%,#9ff589 4.5%,#8ae9e6 7.6%,#65b8eb 9.9%,#3c81f0 11.8%,#294beb 21.5%,#1c23e7 39.7%,#191ed9 99.8%)"></i><i style="top:161px;background:linear-gradient(90deg,#fb5100 0.2%,#fc5f00 0.6%,#fdb900 1.0%,#ecf305 1.4%,#cdf820 1.7%,#a7f868 3.3%,#8cebe4 6.8%,#65b8eb 9.1%,#3b80f0 11.0%,#2949eb 20.3%,#1c23e7 37.0%,#191dd8 99.8%)"></i><i style="top:162px;background:linear-gradient(90deg,#fc5d00 0.2%,#fd7400 0.6%,#fad200 1.0%,#e0f510 1.4%,#c3fa29 1.7%,#a0f586 3.7%,#8ae8e6 6.4%,#66b9eb 8.3%,#3d83f0 9.9%,#2a4dec 17.6%,#1c23e7 33.1%,#181dd7 99.8%)"></i><i style="top:163px;background:linear-gradient(90deg,#fd6e00 0.2%,#ff8b00 0.6%,#f4e800 1.0%,#d3f71a 1.4%,#b5f948 2.1%,#9df493 3.7%,#8debe2 5.6%,#68bceb 7.6%,#3c82f0 9.1%,#2a4ceb 16.5%,#1c23e7 30.8%,#181dd6 99.8%)"></i><i style="top:164px;background:linear-gradient(90deg,#fe8000 0.2%,#fea300 0.6%,#edf305 1.0%,#c6fa26 1.4%,#a1f680 2.9%,#8cebe6 5.2%,#5eaeec 7.2%,#3c81f0 8.3%,#294aeb 15.3%,#1c23e7 28.1%,#181cd5 99.8%)"></i><i style="top:165px;background:linear-gradient(90deg,#ff9400 0.2%,#fcc100 0.6%,#dff510 1.0%,#c0fa30 1.4%,#9ef58e 2.9%,#8eecdb 4.5%,#80dbe7 5.2%,#62b4eb 6.4%,#3c81f0 7.6%,#2a4beb 13.8%,#1c23e7 25.4%,#181cd4 99.8%)"></i><i style="top:166px;background:linear-gradient(90deg,#fdad00 0.2%,#f8da00 0.6%,#d0f81d 1.0%,#b0f954 1.7%,#96f0b5 3.3%,#8eecdd 4.1%,#68bcea 5.6%,#3c82f0 6.8%,#2a4dec 12.2%,#1c23e7 23.1%,#181cd4 99.8%)"></i><i style="top:167px;background:linear-gradient(90deg,#fcca00 0.2%,#f2f100 0.6%,#c3fa28 1.0%,#a1f682 2.1%,#8dece0 3.7%,#70c7e9 4.8%,#3e85f0 6.0%,#2c52ec 10.3%,#1c23e8 20.0%,#171cd3 94.8%,#171bd3 99.8%)"></i><i style="top:168px;background:linear-gradient(90deg,#f6e100 0.2%,#e4f40c 0.6%,#bdfa35 1.0%,#9df493 2.1%,#8dece1 3.3%,#69beea 4.5%,#448cef 5.2%,#356cee 6.8%,#243aea 12.6%,#1b22e6 20.0%,#171bd2 99.8%)"></i><i style="top:169px;background:linear-gradient(90deg,#eff202 0.2%,#d4f719 0.6%,#b8f942 1.0%,#99f2a7 2.1%,#8dece1 2.9%,#62b3eb 4.1%,#3c81f0 4.8%,#2a4ceb 8.7%,#1c23e7 16.5%,#171bd2 81.6%,#171bd1 99.8%)"></i><i style="top:170px;background:linear-gradient(90deg,#e0f510 0.2%,#c4fa27 0.6%,#a2f67c 1.4%,#8dece0 2.5%,#72c8e9 3.3%,#438bef 4.1%,#36e 5.6%,#2234e9 10.7%,#1b22e5 16.1%,#171bd1 84.7%,#171ad0 99.8%)"></i><i style="top:171px;background:linear-gradient(90deg,#cef81e 0.2%,#bdfa36 0.6%,#9ef490 1.4%,#8eecdc 2.1%,#70c6ea 2.9%,#3c81f0 3.7%,#2a4beb 6.8%,#1c23e7 12.6%,#171bd2 62.2%,#171acf 99.8%)"></i><i style="top:172px;background:linear-gradient(90deg,#c1fa2d 0.2%,#b6f945 0.6%,#99f2a7 1.4%,#90edd5 1.7%,#81dce7 2.1%,#6ec3ea 2.5%,#4d98ee 2.9%,#3a7df0 3.3%,#2949eb 6.0%,#1c23e7 11.0%,#171bd2 55.2%,#161ace 99.8%)"></i><i style="top:173px;background:linear-gradient(90deg,#baf93d 0.2%,#aff956 0.6%,#92eec7 1.4%,#84e0e7 1.7%,#6dc3ea 2.1%,#4791ef 2.5%,#3979ef 2.9%,#2848eb 5.2%,#1c23e7 9.5%,#171bd2 47.9%,#161acd 99.8%)"></i><i style="top:174px;background:linear-gradient(90deg,#b2f94f 0.2%,#a4f872 0.6%,#8be9e6 1.4%,#70c6ea 1.7%,#448def 2.1%,#3469ee 2.9%,#2236ea 5.6%,#1c22e6 8.3%,#171bd2 43.2%,#1619cc 99.8%)"></i><i style="top:175px;background:linear-gradient(90deg,#a8f868 0.2%,#9ff58d 0.6%,#90edd5 1.0%,#74cce9 1.4%,#448cef 1.7%,#3265ee 2.5%,#2233e9 4.8%,#1b22e5 7.2%,#171bd1 38.2%,#1619cb 99.8%)"></i><i style="top:176px;background:linear-gradient(90deg,#a0f586 0.2%,#98f1ae 0.6%,#7ed9e8 1.0%,#4993ee 1.4%,#3671ef 1.7%,#263fea 3.3%,#1c22e6 5.6%,#171bd2 29.3%,#1619ca 99.8%)"></i><i style="top:177px;background:linear-gradient(90deg,#99f2a9 0.2%,#8eecdb 0.6%,#58a6ed 1.0%,#3671ef 1.4%,#2641eb 2.5%,#1c22e6 4.5%,#171bd2 23.4%,#1518c9 99.8%)"></i><i style="top:178px;background:linear-gradient(90deg,#8eecda 0.2%,#75cde9 0.6%,#3774ef 1.0%,#2848eb 1.7%,#1c23e7 3.3%,#171bd2 17.2%,#1518c8 99.8%)"></i><i style="top:179px;background:linear-gradient(90deg,#71c8e9 0.2%,#3b7ff0 0.6%,#2f5aed 1.0%,#2133e9 1.7%,#1c22e6 2.5%,#171bd2 13.4%,#1518c7 99.8%)"></i><i style="top:180px;background:linear-gradient(90deg,#3978ef 0.2%,#1f2be9 1.4%,#1a20e0 2.5%,#161ace 16.1%,#1517c6 99.8%)"></i><i style="top:181px;background:linear-gradient(90deg,#2c53ec 0.2%,#1c24e8 1.0%,#181cd3 5.2%,#1517c6 75.8%,#1517c6 99.8%)"></i><i style="top:182px;background:linear-gradient(90deg,#202ee9 0.2%,#1a20e0 1.0%,#161acd 7.2%,#1417c5 99.8%)"></i><i style="top:183px;background:linear-gradient(90deg,#1a20df 0.2%,#1619cd 4.1%,#1416c4 99.8%)"></i><i style="top:184px;background:linear-gradient(90deg,#181cd3 0.2%,#1517c6 8.7%,#1416c3 99.8%)"></i><i style="top:185px;background:linear-gradient(90deg,#1518c7 0.2%,#1416c3 99.8%)"></i></div><div class="cb" style="left:346px;top:266.5px;width:6.7px;height:188px;background:linear-gradient(0deg,#1416c3 0.0%,#1518c8 1.6%,#1619cc 3.1%,#171bd1 4.7%,#181cd6 6.2%,#191eda 7.8%,#1a20df 9.4%,#1b21e3 10.9%,#1c23e8 12.5%,#202fe9 14.1%,#243bea 15.6%,#2847eb 17.2%,#2c52ec 18.8%,#305eed 20.3%,#346aee 21.9%,#3876ef 23.4%,#3c82f0 25.0%,#468fef 26.6%,#509cee 28.1%,#5aa9ec 29.7%,#64b6eb 31.2%,#6ec4ea 32.8%,#78d1e8 34.4%,#82dee7 35.9%,#8cebe6 37.5%,#8fedd7 39.1%,#92eec8 40.6%,#95f0b9 42.2%,#98f2aa 43.8%,#9cf39b 45.3%,#9ff58c 46.9%,#a2f67d 48.4%,#a5f86e 50.0%,#acf85c 51.6%,#b4f94b 53.1%,#bcfa3a 54.7%,#c3fa28 56.2%,#cff81e 57.8%,#daf614 59.4%,#e6f40a 60.9%,#f2f200 62.5%,#f4e800 64.1%,#f7dd00 65.6%,#fad200 67.2%,#fcc800 68.8%,#fdb900 70.3%,#feaa00 71.9%,#fe9b00 73.4%,#ff8c00 75.0%,#fe7a00 76.6%,#fc6900 78.1%,#fb5800 79.7%,#fa4600 81.2%,#f63800 82.8%,#f22a00 84.4%,#ef1d00 85.9%,#eb0f00 87.5%,#de0b00 89.1%,#d20800 90.6%,#c60400 92.2%,#b90000 93.8%,#ab0000 95.3%,#9c0000 96.9%,#8e0000 98.4%,#800000 100.0%)"></div><div class="cb" style="left:749px;top:268px;width:6.8px;height:188.3px;background:linear-gradient(0deg,#1416c3 0.0%,#1518c8 1.6%,#1619cc 3.1%,#171bd1 4.7%,#181cd6 6.2%,#191eda 7.8%,#1a20df 9.4%,#1b21e3 10.9%,#1c23e8 12.5%,#202fe9 14.1%,#243bea 15.6%,#2847eb 17.2%,#2c52ec 18.8%,#305eed 20.3%,#346aee 21.9%,#3876ef 23.4%,#3c82f0 25.0%,#468fef 26.6%,#509cee 28.1%,#5aa9ec 29.7%,#64b6eb 31.2%,#6ec4ea 32.8%,#78d1e8 34.4%,#82dee7 35.9%,#8cebe6 37.5%,#8fedd7 39.1%,#92eec8 40.6%,#95f0b9 42.2%,#98f2aa 43.8%,#9cf39b 45.3%,#9ff58c 46.9%,#a2f67d 48.4%,#a5f86e 50.0%,#acf85c 51.6%,#b4f94b 53.1%,#bcfa3a 54.7%,#c3fa28 56.2%,#cff81e 57.8%,#daf614 59.4%,#e6f40a 60.9%,#f2f200 62.5%,#f4e800 64.1%,#f7dd00 65.6%,#fad200 67.2%,#fcc800 68.8%,#fdb900 70.3%,#feaa00 71.9%,#fe9b00 73.4%,#ff8c00 75.0%,#fe7a00 76.6%,#fc6900 78.1%,#fb5800 79.7%,#fa4600 81.2%,#f63800 82.8%,#f22a00 84.4%,#ef1d00 85.9%,#eb0f00 87.5%,#de0b00 89.1%,#d20800 90.6%,#c60400 92.2%,#b90000 93.8%,#ab0000 95.3%,#9c0000 96.9%,#8e0000 98.4%,#800000 100.0%)"></div><svg width="793" height="492" viewBox="0 0 793 492"><path fill="none" stroke="#dcdcdc" stroke-width=".8" d="M96.8 142.6L96.8 38.8M141.2 133.2L141.2 29.4M185.5 123.8L185.5 20M52.5 126L229.9 88.4L364.4 136.8M52.5 100.1L229.9 62.5L364.4 110.8M52.5 74.2L229.9 36.5L364.4 84.8M334.5 152L334.5 48.2M304.6 141.2L304.6 37.4M274.7 130.5L274.7 26.7M244.8 119.8L244.8 16"/><path fill="none" stroke="#404040" stroke-width=".8" d="M52.5 48.2 229.9 10.6 364.4 58.9M52.5 152L52.5 48.2M229.9 114.4L229.9 10.6M364.4 162.7L364.4 58.9M52.5 152 187 200.3 364.4 162.7"/><path fill="none" stroke="#dcdcdc" stroke-width=".8" d="M499.4 142.6L499.4 38.8M543.7 133.2L543.7 29.4M588 123.8L588 20M455 126L632.4 88.4L766.9 136.8M455 100.1L632.4 62.5L766.9 110.8M455 74.2L632.4 36.5L766.9 84.8M737 152L737 48.2M707.1 141.2L707.1 37.4M677.2 130.5L677.2 26.7M647.3 119.8L647.3 16"/><path fill="none" stroke="#404040" stroke-width=".8" d="M455 48.2 632.4 10.6 766.9 58.9M455 152L455 48.2M632.4 114.4L632.4 10.6M766.9 162.7L766.9 58.9M455 152 589.5 200.3 766.9 162.7"/><g transform="scale(.5)" stroke-width=".6"><path fill="#5050e1" stroke="#5050e1" d="M368 398l9-3-6-3-9+4zM362 396l9-4-6-3-9+5zM356 394l9-5-6-3-9+6zM350 392l9-6-6-3-9+7zM344 390l9-7-6-3-9+8zM338 388l9-8-6-3-9+9zM332 386l9-9-6-2-9+8zM326 383l9-8-6-3-9+9zM320 381l9-9-6-2-9+9zM314 379l9-9-6-3-9+10zM308 377l9-10-6-2-9+10zM302 375l9-10-6-2-9+10zM296 373l9-10-6-2-9+10zM290 371l9-10-6-2-9+9zM284 368l9-9-6-2-9+9zM278 366l9-9-6-3-9+10zM272 364l9-10-6-2-9+10zM266 362l9-10-6-2-9+10zM260 360l9-10-6-2-9+10zM254 358l9-10-6-2-9+10zM248 356l9-10-6-2-9+9zM242 353l9-9-6-2-8+9zM237 351l8-9-6-2-8+9zM231 349l8-9-6-2-8+9zM225 347l8-9-6-2-8+9zM219 345l8-9-6-2-8+9zM213 343l8-9-6-2-8+8zM207 340l8-8-5-1-9+7zM201 338l9-7-6-2-9+7zM195 336l9-7-6-2-9+7zM189 334l9-7-6-2-9+7zM183 332l9-7-6-2-9+7zM177 330l9-7-6-2-9+7zM171 328l9-7-6-2-9+6zM165 325l9-6-6-2-9+6zM159 323l9-6-6-2-9+6zM153 321l9-6-6-2-9+6zM147 319l9-6-6-2-9+6zM141 317l9-6-6-3-9+7zM135 315l9-7-6-2-9+7zM129 313l9-7-6-2-9+6zM123 310l9-6-6-2-9+6zM117 308l9-6-6-2-9+6zM111 306l9-6-6-2-9+6z"/><path fill="#5252e3" stroke="#5252e3" d="M377 395l9-1-6-4-9+2zM386 394l9-2-6-4-9+2zM395 392l9-2-6-3-9+1zM404 390l8-2-6-3-8+2zM412 388l9-2-6-3-9+2zM421 386l9-2-6-3-9+2zM430 384l9-2-6-3-9+2zM439 382l9-2-6-3-9+2zM448 380l9-1-6-4-9+2zM457 379l9-2-6-4-9+2zM466 377l8-2-6-3-8+1zM474 375l9-2-6-3-9+2zM483 373l9-2-6-3-9+2zM492 371l9-2-6-3-9+2zM501 369l9-2-6-3-9+2zM510 367l9-2-6-3-9+2zM519 365l9-1-6-4-9+2zM528 364l9-2-6-4-9+2zM537 362l8-2-6-3-8+1zM545 360l9-2-6-3-9+2zM554 358l9-2-6-3-9+2zM563 356l9-2-6-3-9+2zM572 354l9-2-6-3-9+2zM581 352l9-2-6-3-9+2zM590 350l9-2-6-3-9+2zM599 348l9-1-6-4-9+2zM608 347l8-2-6-4-8+2zM616 345l9-2-6-3-9+1zM625 343l9-2-6-3-9+2zM634 341l9-2-6-3-9+2zM643 339l9-2-6-3-9+2zM652 337l9-2-6-3-9+2zM661 335l9-2-6-3-9+2zM670 333l8-1-6-4-8+2zM678 332l9-2-6-4-9+2zM687 330l9-2-6-3-9+1zM696 328l9-2-6-3-9+2zM705 326l9-2-6-3-9+2zM714 324l9-2-6-3-9+2z"/><path fill="#5657e7" stroke="#5657e7" d="M371 392l9-2-6-3-9+2zM380 390l9-2-6-3-9+2zM389 388l9-1-6-4-9+2zM398 387l8-2-6-4-8+2zM406 385l9-2-6-3-9+1zM415 383l9-2-6-3-9+2zM424 381l9-2-6-3-9+2zM433 379l9-2-6-3-9+2zM442 377l9-2-6-3-9+2zM451 375l9-2-6-3-9+2zM460 373l8-1-5-4-9+2zM468 372l9-2-6-4-8+2zM477 370l9-2-6-3-9+1zM486 368l9-2-6-3-9+2zM495 366l9-2-6-3-9+2zM504 364l9-2-6-3-9+2zM513 362l9-2-6-3-9+2zM522 360l9-2-6-3-9+2zM531 358l8-1-6-4-8+2zM539 357l9-2-6-4-9+2zM548 355l9-2-6-3-9+1zM557 353l9-2-6-3-9+2zM566 351l9-2-6-3-9+2zM575 349l9-2-6-3-9+2zM584 347l9-2-6-3-9+2zM593 345l9-2-6-3-9+2zM602 343l8-2-6-3-8+2zM610 341l9-1-6-4-9+2zM619 340l9-2-6-4-9+2zM628 338l9-2-6-3-9+1zM637 336l9-2-6-3-9+2zM646 334l9-2-6-3-9+2zM655 332l9-2-6-3-9+2zM664 330l8-2-5-3-9+2zM672 328l9-2-6-3-8+2zM681 326l9-1-6-4-9+2zM690 325l9-2-6-4-9+2zM699 323l9-2-6-3-9+1zM708 321l9-2-6-3-9+2z"/><path fill="#585ae9" stroke="#585ae9" d="M365 389l9-2-6-3-9+2zM374 387l9-2-6-3-9+2zM383 385l9-2-6-3-9+2zM392 383l8-2-6-3-8+2zM400 381l9-1-6-4-9+2zM409 380l9-2-6-3-9+1zM418 378l9-2-6-3-9+2zM427 376l9-2-6-3-9+2zM436 374l9-2-6-3-9+2zM445 372l9-2-6-3-9+2zM454 370l9-2-6-3-9+2zM463 368l8-2-6-3-8+2zM471 366l9-1-6-4-9+2zM480 365l9-2-6-4-9+2zM489 363l9-2-6-3-9+1zM498 361l9-2-6-3-9+2zM507 359l9-2-6-3-9+2zM516 357l9-2-6-3-9+2zM525 355l8-2-6-3-8+2zM533 353l9-2-6-3-9+2zM542 351l9-1-6-4-9+2zM551 350l9-2-6-4-9+2zM560 348l9-2-6-3-9+1zM569 346l9-2-6-3-9+2zM578 344l9-2-6-3-9+2zM587 342l9-2-6-3-9+2zM596 340l8-2-6-3-8+2zM604 338l9-2-6-3-9+2zM613 336l9-2-6-3-9+2zM622 334l9-1-6-4-9+2zM631 333l9-2-6-4-9+2zM640 331l9-2-6-3-9+1zM649 329l9-2-6-3-9+2zM658 327l9-2-6-3-9+2zM667 325l8-2-6-3-8+2zM675 323l9-2-6-3-9+2zM684 321l9-2-6-3-9+2zM693 319l9-1-6-4-9+2zM702 318l9-2-6-4-9+2z"/><path fill="#5a5ceb" stroke="#5a5ceb" d="M359 386l9-2-6-3-9+2zM138 306l9-5-6-2-9+5zM132 304l9-5-6-2-9+5zM126 302l9-5-6-2-9+5zM120 300l9-5-6-2-9+5zM368 384l9-2-6-3-9+2zM377 382l9-2-6-3-9+2z"/><path fill="#606dec" stroke="#606dec" d="M353 383l9-2-6-3-9+2zM174 319l9-6-6-2-9+6zM168 317l9-6-6-2-9+6zM162 315l9-6-6-2-9+6zM156 313l9-6-6-2-9+6zM150 311l9-6-6-2-9+5zM144 308l9-5-6-2-9+5zM386 380l8-2-6-3-8+2zM394 378l9-2-6-3-9+2zM403 376l9-1-6-4-9+2zM412 375l9-2-6-4-9+2zM421 373l9-2-6-3-9+1zM430 371l9-2-6-3-9+2zM439 369l9-2-6-3-9+2zM448 367l9-2-6-3-9+2zM457 365l8-2-6-3-8+2zM465 363l9-2-6-3-9+2zM474 361l9-2-6-3-9+2zM483 359l9-1-6-4-9+2zM492 358l9-2-6-4-9+2zM501 356l9-2-6-3-9+1zM510 354l9-2-6-3-9+2zM519 352l8-2-5-3-9+2zM527 350l9-2-6-3-8+2zM536 348l9-2-6-3-9+2zM545 346l9-2-6-3-9+2zM554 344l9-1-6-4-9+2zM563 343l9-2-6-4-9+2zM572 341l9-2-6-3-9+1zM581 339l9-2-6-3-9+2zM590 337l8-2-6-3-8+2zM598 335l9-2-6-3-9+2zM607 333l9-2-6-3-9+2zM616 331l9-2-6-3-9+2zM625 329l9-2-6-3-9+2zM634 327l9-1-6-4-9+2zM643 326l9-2-6-4-9+2zM652 324l9-2-6-3-9+1zM661 322l8-2-6-3-8+2zM669 320l9-2-6-3-9+2zM678 318l9-2-6-3-9+2zM687 316l9-2-6-3-9+2zM696 314l9-2-6-3-9+2z"/><path fill="#657ded" stroke="#657ded" d="M347 380l9-2-6-3-9+2zM204 329l8-7-6-1-8+6zM198 327l8-6-6-2-8+6zM192 325l8-6-6-2-8+6zM186 323l8-6-6-2-8+6zM180 321l8-6-5-2-9+6zM362 381l9-2-6-3-9+2zM371 379l9-2-6-3-9+2zM380 377l8-2-6-3-8+2zM388 375l9-2-6-3-9+2zM397 373l9-2-6-3-9+2zM406 371l9-2-6-3-9+2zM415 369l9-1-6-4-9+2zM424 368l9-2-6-4-9+2zM433 366l9-2-6-3-9+1zM442 364l9-2-6-3-9+2zM451 362l8-2-6-3-8+2zM459 360l9-2-6-3-9+2zM468 358l9-2-6-3-9+2zM477 356l9-2-6-3-9+2zM486 354l9-2-6-3-9+2zM495 352l9-1-6-4-9+2zM504 351l9-2-6-4-9+2zM513 349l9-2-6-3-9+1zM522 347l8-2-6-3-8+2zM530 345l9-2-6-3-9+2zM539 343l9-2-6-3-9+2zM548 341l9-2-6-3-9+2zM557 339l9-2-6-3-9+2zM566 337l9-1-6-4-9+2zM575 336l9-2-6-4-9+2zM584 334l8-2-6-3-8+1zM592 332l9-2-6-3-9+2zM601 330l9-2-6-3-9+2zM610 328l9-2-6-3-9+2zM619 326l9-2-6-3-9+2zM628 324l9-2-6-3-9+2zM637 322l9-2-6-3-9+2zM646 320l9-1-6-4-9+2zM655 319l8-2-6-3-8+1zM663 317l9-2-6-3-9+2zM672 315l9-2-6-3-9+2zM681 313l9-2-6-3-9+2zM690 311l9-2-6-3-9+2z"/><path fill="#6b8eee" stroke="#6b8eee" d="M341 377l9-2-6-3-9+3zM233 338l9-6-6-2-9+6zM227 336l9-6-6-2-9+6zM221 334l9-6-6-2-9+6zM215 332l9-6-6-2-8+7zM210 331l8-7-6-2-8+7zM356 378l9-2-6-3-9+2zM365 376l9-2-6-3-9+2zM374 374l8-2-5-3-9+2zM382 372l9-2-6-3-8+2zM391 370l9-2-6-3-9+2zM400 368l9-2-6-3-9+2zM409 366l9-2-6-3-9+2zM418 364l9-2-6-3-9+2zM427 362l9-1-6-4-9+2zM436 361l9-2-6-4-9+2zM445 359l8-2-6-3-8+1zM453 357l9-2-6-3-9+2zM462 355l9-2-6-3-9+2zM471 353l9-2-6-3-9+2zM480 351l9-2-6-3-9+2zM489 349l9-2-6-3-9+2zM498 347l9-2-6-3-9+2zM507 345l9-1-6-4-9+2zM516 344l8-2-6-3-8+1zM524 342l9-2-6-3-9+2zM533 340l9-2-6-3-9+2zM542 338l9-2-6-3-9+2zM551 336l9-2-6-3-9+2zM560 334l9-2-6-3-9+2zM569 332l9-2-6-3-9+2zM578 330l8-1-5-4-9+2zM586 329l9-2-6-4-8+2zM595 327l9-2-6-3-9+1zM604 325l9-2-6-3-9+2zM613 323l9-2-6-3-9+2zM622 321l9-2-6-3-9+2zM631 319l9-2-6-3-9+2zM640 317l9-2-6-3-9+2zM649 315l8-1-6-4-8+2zM657 314l9-2-6-4-9+2zM666 312l9-2-6-3-9+1zM675 310l9-2-6-3-9+2zM684 308l9-2-6-3-9+2z"/><path fill="#709eef" stroke="#709eef" d="M335 375l9-3-6-3-9+3zM329 372l9-3-6-3-9+4zM263 348l9-5-6-2-9+5zM257 346l9-5-6-2-9+5zM251 344l9-5-6-3-9+6zM245 342l9-6-6-2-9+6zM239 340l9-6-6-2-9+6zM350 375l9-2-6-3-9+2zM129 295l9-5-6-2-9+5zM359 373l9-2-6-3-9+2zM368 371l9-2-6-3-9+2zM377 369l8-2-6-3-8+2zM385 367l9-2-6-3-9+2z"/><path fill="#76aff0" stroke="#76aff0" d="M323 370l9-4-6-2-9+3zM317 367l9-3-6-3-9+4zM311 365l9-4-6-2-9+4zM305 363l9-4-6-3-9+5zM299 361l9-5-6-2-9+5zM293 359l9-5-6-2-9+5zM287 357l9-5-6-3-9+5zM281 354l9-5-6-2-9+5zM275 352l9-5-6-2-9+5zM269 350l9-5-6-2-9+5zM344 372l9-2-6-3-9+2zM153 303l8-5-5-2-9+5zM147 301l9-5-6-2-9+5zM141 299l9-5-6-2-9+5zM135 297l9-5-6-2-9+5zM353 370l9-2-6-3-9+2zM362 368l9-2-6-3-9+2zM394 365l9-2-6-3-9+2zM403 363l9-2-6-3-9+2zM412 361l9-2-6-3-9+2zM421 359l9-2-6-3-9+2zM430 357l9-2-6-3-9+2zM439 355l8-1-6-4-8+2zM447 354l9-2-6-3-9+1zM456 352l9-2-6-3-9+2zM465 350l9-2-6-3-9+2zM474 348l9-2-6-3-9+2zM483 346l9-2-6-3-9+2zM492 344l9-2-6-3-9+2zM501 342l9-2-6-3-9+2zM510 340l8-1-6-4-8+2zM518 339l9-2-6-4-9+2zM527 337l9-2-6-3-9+1zM536 335l9-2-6-3-9+2zM545 333l9-2-6-3-9+2zM554 331l9-2-6-3-9+2zM563 329l9-2-6-3-9+2zM572 327l9-2-6-3-9+2zM581 325l8-2-6-3-8+2zM589 323l9-1-6-4-9+2zM598 322l9-2-6-4-9+2zM607 320l9-2-6-3-9+1zM616 318l9-2-6-3-9+2zM625 316l9-2-6-3-9+2zM634 314l9-2-6-3-9+2zM643 312l8-2-6-3-8+2zM651 310l9-2-6-3-9+2zM660 308l9-1-6-4-9+2zM669 307l9-2-6-4-9+2zM678 305l9-2-6-3-9+1z"/><path fill="#7abaee" stroke="#7abaee" d="M338 369l9-2-6-3-9+2zM332 366l9-2-6-3-9+3zM177 311l8-5-6-2-8+5zM171 309l8-5-6-2-8+5zM165 307l8-5-6-2-8+5zM159 305l8-5-6-2-8+5zM347 367l9-2-6-3-9+2zM371 366l8-2-6-3-8+2zM379 364l9-2-6-3-9+2zM388 362l9-2-6-3-9+2zM397 360l9-2-6-3-9+2zM406 358l9-2-6-3-9+2zM415 356l9-2-6-3-9+2zM424 354l9-2-6-3-9+2zM433 352l8-2-5-3-9+2zM441 350l9-1-6-4-8+2zM450 349l9-2-6-4-9+2zM459 347l9-2-6-3-9+1zM468 345l9-2-6-3-9+2zM477 343l9-2-6-3-9+2zM486 341l9-2-6-3-9+2zM495 339l9-2-6-3-9+2zM504 337l8-2-6-3-8+2zM512 335l9-2-6-3-9+2zM521 333l9-1-6-4-9+2zM530 332l9-2-6-4-9+2zM539 330l9-2-6-3-9+1zM548 328l9-2-6-3-9+2zM557 326l9-2-6-3-9+2zM566 324l9-2-6-3-9+2zM575 322l8-2-6-3-8+2zM583 320l9-2-6-3-9+2zM592 318l9-2-6-3-9+2zM601 316l9-1-6-4-9+2zM610 315l9-2-6-3-9+1zM619 313l9-2-6-3-9+2zM628 311l9-2-6-3-9+2zM637 309l8-2-5-3-9+2zM645 307l9-2-6-3-8+2zM654 305l9-2-6-3-9+2zM663 303l9-2-6-3-9+2zM672 301l9-1-6-4-9+2z"/><path fill="#7fc4ec" stroke="#7fc4ec" d="M326 364l9-3-6-3-9+3zM200 319l9-6-6-1-9+5zM194 317l9-5-6-2-9+5zM188 315l9-5-6-2-8+5zM183 313l8-5-6-2-8+5zM341 364l9-2-6-3-9+2zM356 365l9-2-6-3-9+2zM365 363l8-2-6-3-8+2zM373 361l9-2-6-3-9+2zM382 359l9-2-6-3-9+2zM391 357l9-2-6-3-9+2zM400 355l9-2-6-3-9+2zM409 353l9-2-6-3-9+2zM418 351l9-2-6-3-9+2zM427 349l9-2-6-3-9+2zM436 347l8-2-6-3-8+2zM444 345l9-2-6-3-9+2zM453 343l9-1-6-4-9+2zM462 342l9-2-6-3-9+1zM471 340l9-2-6-3-9+2zM480 338l9-2-6-3-9+2zM489 336l9-2-6-3-9+2zM498 334l8-2-6-3-8+2zM506 332l9-2-6-3-9+2zM515 330l9-2-6-3-9+2zM524 328l9-2-6-3-9+2zM533 326l9-1-6-4-9+2zM542 325l9-2-6-3-9+1zM551 323l9-2-6-3-9+2zM560 321l9-2-6-3-9+2zM569 319l8-2-6-3-8+2zM577 317l9-2-6-3-9+2zM586 315l9-2-6-3-9+2zM595 313l9-2-6-3-9+2zM604 311l9-1-6-4-9+2zM613 310l9-2-6-4-9+2zM622 308l9-2-6-3-9+1zM631 306l9-2-6-3-9+2zM640 304l8-2-6-3-8+2zM648 302l9-2-6-3-9+2zM657 300l9-2-6-3-9+2zM666 298l9-2-6-3-9+2z"/><path fill="#83cfea" stroke="#83cfea" d="M320 361l9-3-6-2-9+3zM314 359l9-3-6-3-9+3zM308 356l9-3-6-2-9+3zM230 328l9-4-6-3-9+5zM224 326l9-5-6-2-9+5zM218 324l9-5-6-2-9+5zM212 322l9-5-6-2-9+6zM206 321l9-6-6-2-9+6zM335 361l9-2-6-3-9+2zM144 292l8-4-6-2-8+4zM138 290l8-4-6-2-8+4zM350 362l9-2-6-3-9+2zM359 360l8-2-6-3-8+2zM367 358l9-2-6-3-9+2zM376 356l9-2-6-3-9+2zM385 354l9-2-6-3-9+2zM394 352l9-2-6-3-9+2zM403 350l9-2-6-3-9+2zM412 348l9-2-6-3-9+2z"/><path fill="#88d9e8" stroke="#88d9e8" d="M302 354l9-3-6-3-9+4zM296 352l9-4-6-2-9+3zM290 349l9-3-6-3-9+4zM284 347l9-4-6-2-9+4zM278 345l9-4-6-2-9+4zM272 343l9-4-6-3-9+5zM266 341l9-5-6-2-9+5zM260 339l9-5-6-2-9+4zM254 336l9-4-6-2-9+4zM248 334l9-4-6-2-9+4zM242 332l9-4-6-2-9+4zM236 330l9-4-6-2-9+4zM329 358l9-2-6-3-9+3zM323 356l9-3-6-3-9+3zM161 298l9-5-6-1-8+4zM156 296l8-4-6-2-8+4zM150 294l8-4-6-2-8+4zM344 359l9-2-6-3-9+2zM338 356l9-2-6-3-9+2zM353 357l8-2-6-3-8+2zM361 355l9-2-6-3-9+2zM370 353l9-2-6-3-9+2zM379 351l9-2-6-3-9+2zM421 346l9-2-6-3-9+2zM430 344l8-2-6-3-8+2zM438 342l9-2-6-3-9+2zM447 340l9-2-6-3-9+2zM456 338l9-1-6-4-9+2zM465 337l9-2-6-4-9+2zM474 335l9-2-6-3-9+1zM483 333l9-2-6-3-9+2zM492 331l8-2-5-3-9+2zM500 329l9-2-6-3-8+2zM509 327l9-2-6-3-9+2zM518 325l9-2-6-3-9+2zM527 323l9-2-6-3-9+2zM536 321l9-1-6-4-9+2zM545 320l9-2-6-4-9+2zM554 318l9-2-6-3-9+1zM563 316l8-2-6-3-8+2zM571 314l9-2-6-3-9+2zM580 312l9-2-6-3-9+2zM589 310l9-2-6-3-9+2zM598 308l9-2-6-3-9+2zM607 306l9-2-6-3-9+2zM616 304l9-1-6-4-9+2zM625 303l9-2-6-3-9+1zM634 301l8-2-6-3-8+2zM642 299l9-2-6-3-9+2zM651 297l9-2-6-3-9+2zM660 295l9-2-6-3-9+2z"/><path fill="#8ce4e6" stroke="#8ce4e6" d="M317 353l9-3-6-2-9+3zM185 306l9-5-6-2-9+5zM179 304l9-5-6-2-9+5zM173 302l9-5-6-2-9+5zM167 300l9-5-6-2-9+5zM332 353l9-2-6-3-9+2zM347 354l8-2-5-3-9+2zM355 352l9-2-6-3-8+2zM364 350l9-2-6-3-9+2zM388 349l9-2-6-3-9+2zM397 347l9-2-6-3-9+2zM406 345l9-2-6-3-9+2zM415 343l9-2-6-3-9+2zM424 341l8-2-6-3-8+2zM432 339l9-2-6-3-9+2zM441 337l9-2-6-3-9+2zM450 335l9-2-6-3-9+2zM459 333l9-2-6-3-9+2zM468 331l9-1-6-4-9+2zM477 330l9-2-6-3-9+1zM486 328l9-2-6-3-9+2zM495 326l8-2-6-3-8+2zM503 324l9-2-6-3-9+2zM512 322l9-2-6-3-9+2zM521 320l9-2-6-3-9+2zM530 318l9-2-6-3-9+2zM539 316l9-2-6-3-9+2zM548 314l9-1-6-4-9+2zM557 313l8-2-6-3-8+1zM565 311l9-2-6-3-9+2zM574 309l9-2-6-3-9+2zM583 307l9-2-6-3-9+2zM592 305l9-2-6-3-9+2zM601 303l9-2-6-3-9+2zM610 301l9-2-6-3-9+2zM619 299l9-1-6-4-9+2zM628 298l8-2-6-4-8+2zM636 296l9-2-6-3-9+1zM645 294l9-2-6-3-9+2zM654 292l9-2-6-3-9+2z"/><path fill="#96e5d2" stroke="#96e5d2" d="M311 351l9-3-6-3-9+3zM305 348l9-3-6-2-9+3zM299 346l9-3-6-3-9+3zM209 313l9-4-6-2-9+5zM203 312l9-5-6-2-9+5zM197 310l9-5-6-2-9+5zM191 308l9-5-6-2-9+5zM326 350l9-2-6-3-9+3zM146 286l9-4-6-2-9+4zM341 351l9-2-6-3-9+2zM350 349l8-2-6-3-8+2zM358 347l9-2-6-3-9+2zM373 348l9-2-6-3-9+2zM382 346l9-2-6-3-9+2zM391 344l9-2-6-3-9+2zM400 342l9-2-6-3-9+2zM409 340l9-2-6-3-9+2zM418 338l8-2-6-3-8+2zM426 336l9-2-6-3-9+2zM435 334l9-2-6-3-9+2zM444 332l9-2-6-3-9+2zM453 330l9-2-6-3-9+2zM462 328l9-2-6-3-9+2zM471 326l9-1-6-4-9+2zM480 325l9-2-6-3-9+1zM489 323l8-2-6-3-8+2zM497 321l9-2-6-3-9+2zM506 319l9-2-6-3-9+2zM515 317l9-2-6-3-9+2zM524 315l9-2-6-3-9+2zM533 313l9-2-6-3-9+2zM542 311l9-2-6-3-9+2zM551 309l8-1-5-4-9+2zM559 308l9-2-6-3-8+1zM568 306l9-2-6-3-9+2zM577 304l9-2-6-3-9+2zM586 302l9-2-6-3-9+2zM595 300l9-2-6-3-9+2zM604 298l9-2-6-3-9+2zM613 296l9-2-6-3-9+2zM622 294l8-2-6-3-8+2zM630 292l9-1-6-4-9+2zM639 291l9-2-6-3-9+1zM648 289l9-2-6-3-9+2z"/><path fill="#a0e7be" stroke="#a0e7be" d="M293 343l9-3-6-2-9+3zM287 341l9-3-6-3-9+4zM281 339l9-4-6-2-9+3zM275 336l9-3-6-2-9+3zM269 334l9-3-6-3-9+4zM263 332l9-4-6-2-9+4zM257 330l9-4-6-2-9+4zM251 328l9-4-6-2-9+4zM245 326l9-4-6-3-9+5zM239 324l9-5-6-2-9+4zM233 321l9-4-6-2-9+4zM227 319l9-4-6-2-9+4zM221 317l9-4-6-2-9+4zM215 315l9-4-6-2-9+4zM320 348l9-3-6-2-9+2zM314 345l9-2-6-3-9+3zM164 292l9-5-6-2-9+5zM158 290l9-5-6-1-9+4zM152 288l9-4-6-2-9+4zM335 348l9-2-6-3-9+2zM329 345l9-2-6-3-9+3zM344 346l8-2-6-3-8+2zM352 344l9-2-6-3-9+2zM367 345l9-2-6-3-9+2zM376 343l9-2-6-3-9+2zM385 341l9-2-6-3-9+2zM394 339l9-2-6-3-9+2zM403 337l9-2-6-3-9+2zM412 335l8-2-6-3-8+2zM420 333l9-2-6-3-9+2zM429 331l9-2-6-3-9+2zM438 329l9-2-6-3-9+2zM447 327l9-2-6-3-9+2zM456 325l9-2-6-3-9+2zM465 323l9-2-6-3-9+2zM474 321l9-1-6-4-9+2z"/><path fill="#aae8aa" stroke="#aae8aa" d="M308 343l9-3-6-3-9+3zM302 340l9-3-6-2-9+3zM188 299l9-4-6-2-9+4zM182 297l9-4-6-2-9+4zM176 295l9-4-6-2-9+4zM170 293l9-4-6-2-9+5zM323 343l9-3-6-2-9+2zM338 343l8-2-6-3-8+2zM346 341l9-2-6-3-9+2zM361 342l9-2-6-3-9+2zM370 340l9-2-6-3-9+2zM379 338l9-2-6-3-9+2zM388 336l9-2-6-3-9+2zM397 334l9-2-6-3-9+2zM406 332l8-2-5-3-9+2zM414 330l9-2-6-3-8+2zM483 320l8-2-6-3-8+1zM491 318l9-2-6-3-9+2zM500 316l9-2-6-3-9+2zM509 314l9-2-6-3-9+2zM518 312l9-2-6-3-9+2zM527 310l9-2-6-3-9+2zM536 308l9-2-6-3-9+2zM545 306l9-2-6-3-9+2zM554 304l8-1-6-4-8+2zM562 303l9-2-6-3-9+1zM571 301l9-2-6-3-9+2zM580 299l9-2-6-3-9+2zM589 297l9-2-6-3-9+2zM598 295l9-2-6-3-9+2zM607 293l9-2-6-3-9+2zM616 291l8-2-5-3-9+2zM624 289l9-2-6-3-8+2zM633 287l9-1-6-4-9+2zM642 286l9-2-6-3-9+1z"/><path fill="#b4ea96" stroke="#b4ea96" d="M296 338l9-3-6-3-9+3zM290 335l9-3-6-2-9+3zM284 333l9-3-6-3-9+4zM212 307l9-4-6-2-9+4zM206 305l9-4-6-2-9+4zM200 303l9-4-6-2-9+4zM194 301l9-4-6-2-9+4zM317 340l9-2-6-3-9+2zM311 337l9-2-6-3-9+3zM155 282l9-4-6-2-9+4zM332 340l8-2-6-3-8+3zM340 338l9-2-6-3-9+2zM355 339l9-2-6-3-9+2zM364 337l9-2-6-3-9+2zM373 335l9-2-6-3-9+2zM382 333l9-2-6-3-9+2zM391 331l9-2-6-3-9+2zM423 328l9-2-6-3-9+2zM432 326l9-2-6-3-9+2zM441 324l9-2-6-3-9+2zM450 322l9-2-6-3-9+2zM459 320l9-2-6-3-9+2zM468 318l9-2-6-3-9+2zM477 316l8-1-6-4-8+2zM485 315l9-2-6-3-9+1zM494 313l9-2-6-3-9+2zM503 311l9-2-6-3-9+2zM512 309l9-2-6-3-9+2zM521 307l9-2-6-3-9+2zM530 305l9-2-6-3-9+2zM539 303l9-2-6-3-9+2zM548 301l8-2-6-3-8+2zM556 299l9-1-6-4-9+2zM565 298l9-2-6-3-9+1zM574 296l9-2-6-3-9+2zM583 294l9-2-6-3-9+2zM592 292l9-2-6-3-9+2zM601 290l9-2-6-3-9+2zM610 288l9-2-6-3-9+2zM619 286l8-2-6-3-8+2zM627 284l9-2-6-3-9+2zM636 282l9-1-6-4-9+2z"/><path fill="#beeb82" stroke="#beeb82" d="M278 331l9-4-6-2-9+3zM272 328l9-3-6-2-9+3zM266 326l9-3-6-3-9+4zM260 324l9-4-6-2-9+4zM254 322l9-4-6-2-9+3zM248 319l9-3-6-2-9+3zM242 317l9-3-6-2-9+3zM236 315l9-3-6-3-9+4zM230 313l9-4-6-2-9+4zM224 311l9-4-6-2-9+4zM218 309l9-4-6-2-9+4zM305 335l9-3-6-2-9+2zM299 332l9-2-6-3-9+3zM173 287l9-3-6-2-9+3zM167 285l9-3-6-2-9+4zM161 284l9-4-6-2-9+4zM326 338l8-3-6-3-8+3zM320 335l8-3-5-2-9+2zM334 335l9-2-6-3-9+2zM349 336l9-2-6-3-9+2zM358 334l9-2-6-3-9+2zM367 332l9-2-6-3-9+2zM376 330l9-2-6-3-9+2zM385 328l9-2-6-3-9+2zM400 329l9-2-6-3-9+2zM409 327l8-2-6-3-8+2zM417 325l9-2-6-3-9+2zM426 323l9-2-6-3-9+2zM435 321l9-2-6-3-9+2zM444 319l9-2-6-3-9+2zM453 317l9-2-6-3-9+2zM462 315l9-2-6-3-9+2zM471 313l8-2-6-3-8+2zM479 311l9-1-6-4-9+2zM488 310l9-2-6-3-9+1zM497 308l9-2-6-3-9+2zM506 306l9-2-6-3-9+2zM515 304l9-2-6-3-9+2zM524 302l9-2-6-3-9+2zM533 300l9-2-6-3-9+2zM542 298l8-2-6-3-8+2zM550 296l9-2-6-3-9+2zM559 294l9-1-6-4-9+2zM568 293l9-2-6-3-9+1zM577 291l9-2-6-3-9+2zM586 289l9-2-6-3-9+2zM595 287l9-2-6-3-9+2zM604 285l9-2-6-3-9+2zM613 283l8-2-6-3-8+2zM621 281l9-2-6-3-9+2zM630 279l9-2-6-3-9+2z"/><path fill="#c7e97a" stroke="#c7e97a" d="M293 330l9-3-6-2-9+2zM287 327l9-2-6-3-9+3zM197 295l9-4-6-2-9+4zM191 293l9-4-6-2-9+4zM185 291l9-4-6-2-9+4zM179 289l9-4-6-1-9+3zM314 332l9-2-6-3-9+3zM308 330l9-3-6-2-9+2zM328 332l9-2-6-3-8+3zM343 333l9-2-6-3-9+2zM337 330l9-2-6-3-9+2zM352 331l9-2-6-3-9+2zM361 329l9-2-6-3-9+2zM370 327l9-2-6-3-9+2zM379 325l9-2-6-3-9+2zM394 326l9-2-6-3-9+2zM403 324l8-2-6-3-8+2zM411 322l9-2-6-3-9+2zM420 320l9-2-6-3-9+2zM429 318l9-2-6-3-9+2zM438 316l9-2-6-3-9+2zM447 314l9-2-6-3-9+2zM456 312l9-2-6-3-9+2zM465 310l8-2-5-3-9+2zM473 308l9-2-6-3-8+2zM482 306l9-1-6-3-9+1zM491 305l9-2-6-3-9+2zM500 303l9-2-6-3-9+2zM509 301l9-2-6-3-9+2zM518 299l9-2-6-3-9+2zM527 297l9-2-6-3-9+2zM536 295l8-2-6-3-8+2zM544 293l9-2-6-3-9+2zM553 291l9-2-6-3-9+2zM562 289l9-1-6-3-9+1zM571 288l9-2-6-3-9+2zM580 286l9-2-6-3-9+2zM589 284l9-2-6-3-9+2zM598 282l9-2-6-3-9+2zM607 280l8-2-6-3-8+2zM615 278l9-2-6-3-9+2zM624 276l9-2-6-3-9+2z"/><path fill="#d0e773" stroke="#d0e773" d="M281 325l9-3-6-2-9+3zM275 323l9-3-6-3-9+3zM269 320l9-3-6-2-9+3zM263 318l9-3-6-2-9+3zM257 316l9-3-6-3-9+4zM251 314l9-4-6-2-9+4zM245 312l9-4-6-2-9+3zM239 309l9-3-6-2-9+3zM233 307l9-3-6-2-9+3zM227 305l9-3-6-2-9+3zM221 303l9-3-6-3-9+4zM215 301l9-4-6-2-9+4zM209 299l9-4-6-2-9+4zM203 297l9-4-6-2-9+4zM302 327l9-2-6-3-9+3zM296 325l9-3-6-3-9+3zM176 282l9-4-6-2-9+4zM170 280l9-4-6-2-9+4zM164 278l9-4-6-2-9+4zM323 330l8-3-6-2-8+2zM317 327l8-2-6-3-8+3zM331 327l9-2-6-2-9+2zM346 328l9-2-6-3-9+2zM355 326l9-2-6-3-9+2zM364 324l9-2-6-3-9+2zM373 322l9-2-6-3-9+2zM388 323l9-2-6-3-9+2zM397 321l8-2-6-3-8+2zM405 319l9-2-6-3-9+2zM414 317l9-2-6-3-9+2zM423 315l9-2-6-3-9+2zM432 313l9-2-6-3-9+2zM441 311l9-2-6-3-9+2zM450 309l9-2-6-3-9+2zM459 307l9-2-6-3-9+2zM468 305l8-2-6-3-8+2zM476 303l9-1-6-3-9+1zM485 302l9-2-6-3-9+2zM494 300l9-2-6-3-9+2zM503 298l9-2-6-3-9+2zM512 296l9-2-6-3-9+2zM521 294l9-2-6-3-9+2zM530 292l8-2-6-3-8+2zM538 290l9-2-6-3-9+2zM547 288l9-2-6-3-9+2zM556 286l9-1-6-4-9+2zM565 285l9-2-6-3-9+1zM574 283l9-2-6-3-9+2zM583 281l9-2-6-3-9+2zM592 279l9-2-6-3-9+2zM601 277l8-2-6-3-8+2zM609 275l9-2-6-3-9+2zM618 273l9-2-6-3-9+2z"/><path fill="#dae46b" stroke="#dae46b" d="M290 322l9-3-6-2-9+3zM284 320l9-3-6-3-9+3zM278 317l9-3-6-2-9+3zM200 289l9-3-6-2-9+3zM194 287l9-3-6-2-9+3zM188 285l9-3-6-2-9+4zM182 284l9-4-6-2-9+4zM311 325l8-3-6-3-8+3zM305 322l8-3-6-2-8+2zM325 325l9-2-6-3-9+2zM340 325l9-2-6-3-9+3zM334 323l9-3-6-2-9+2zM349 323l9-2-6-3-9+2zM358 321l9-2-6-3-9+2zM367 319l9-2-6-3-9+2zM382 320l9-2-6-3-9+2zM391 318l8-2-6-3-8+2zM399 316l9-2-6-3-9+2zM408 314l9-2-6-3-9+2zM417 312l9-2-6-3-9+2zM426 310l9-2-6-3-9+2zM435 308l9-2-6-3-9+2zM444 306l9-2-6-3-9+2zM453 304l9-2-6-3-9+2zM462 302l8-2-6-3-8+2zM470 300l9-1-6-3-9+1zM479 299l9-2-6-3-9+2zM488 297l9-2-6-3-9+2zM497 295l9-2-6-3-9+2z"/><path fill="#e3e264" stroke="#e3e264" d="M272 315l9-3-6-2-9+3zM266 313l9-3-6-3-9+3zM260 310l9-3-6-2-9+3zM254 308l9-3-6-2-9+3zM248 306l9-3-6-2-9+3zM242 304l9-3-6-3-9+4zM236 302l9-4-6-2-9+4zM230 300l9-4-6-2-9+3zM224 297l9-3-6-2-9+3zM218 295l9-3-6-2-9+3zM212 293l9-3-6-2-9+3zM206 291l9-3-6-2-9+3zM299 319l8-2-6-3-8+3zM293 317l8-3-5-2-9+2zM179 276l9-3-6-2-9+3zM173 274l9-3-6-2-9+3zM319 322l9-2-6-3-9+2zM313 319l9-2-6-2-9+2zM328 320l9-2-6-3-9+2zM343 320l9-2-6-3-9+3zM337 318l9-3-6-2-9+2zM352 318l9-2-6-3-9+2zM361 316l9-2-6-3-9+2zM376 317l9-2-6-3-9+2zM385 315l8-2-6-3-8+2zM393 313l9-2-6-3-9+2zM402 311l9-2-6-3-9+2zM411 309l9-2-6-3-9+2zM420 307l9-2-6-3-9+2zM429 305l9-2-6-3-9+2zM438 303l9-2-6-3-9+2zM447 301l9-2-6-3-9+2zM456 299l8-2-6-3-8+2zM464 297l9-1-6-3-9+1zM506 293l9-2-6-3-9+2zM515 291l9-2-6-3-9+2zM524 289l8-2-5-3-9+2zM532 287l9-2-6-3-8+2zM541 285l9-2-6-3-9+2zM550 283l9-2-6-3-9+2zM559 281l9-1-6-3-9+1zM568 280l9-2-6-3-9+2zM577 278l9-2-6-3-9+2zM586 276l9-2-6-3-9+2zM595 274l8-2-6-3-8+2zM603 272l9-2-6-3-9+2zM612 270l9-2-6-3-9+2z"/><path fill="#ece05c" stroke="#ece05c" d="M287 314l9-2-6-3-9+3zM281 312l9-3-6-2-9+3zM275 310l9-3-6-2-9+2zM203 284l9-3-6-2-9+3zM197 282l9-3-6-2-9+3zM191 280l9-3-6-2-9+3zM185 278l9-3-6-2-9+3zM307 317l9-2-6-3-9+2zM301 314l9-2-6-3-8+3zM322 317l9-2-6-3-9+3zM316 315l9-3-6-2-9+2zM331 315l9-2-6-3-9+2zM346 315l9-2-6-2-9+2zM355 313l9-2-6-3-9+3zM370 314l9-2-6-3-9+2zM364 311l9-2-6-3-9+2zM379 312l8-2-5-3-9+2zM387 310l9-2-6-3-8+2zM396 308l9-2-6-3-9+2zM405 306l9-2-6-3-9+2zM414 304l9-2-6-3-9+2zM423 302l9-2-6-3-9+2zM432 300l9-2-6-3-9+2zM441 298l9-2-6-3-9+2zM450 296l8-2-6-2-8+1zM473 296l9-2-6-3-9+2zM482 294l9-2-6-3-9+2zM491 292l9-2-6-3-9+2zM500 290l9-2-6-3-9+2zM509 288l9-2-6-3-9+2zM518 286l9-2-6-3-9+2zM527 284l8-2-6-3-8+2zM535 282l9-2-6-3-9+2zM544 280l9-2-6-3-9+2zM553 278l9-1-6-3-9+1zM562 277l9-2-6-3-9+2zM571 275l9-2-6-3-9+2zM580 273l9-2-6-3-9+2zM589 271l8-2-5-3-9+2zM597 269l9-2-6-3-8+2zM606 267l9-2-6-3-9+2z"/><path fill="#ebd55c" stroke="#ebd55c" d="M269 307l9-2-6-3-9+3zM263 305l9-3-6-2-9+3zM257 303l9-3-6-2-9+3zM251 301l9-3-6-3-9+3zM245 298l9-3-6-2-9+3zM239 296l9-3-6-2-9+3zM233 294l9-3-6-2-9+3zM227 292l9-3-6-2-9+3zM221 290l9-3-6-2-9+3zM215 288l9-3-6-2-9+3zM209 286l9-3-6-2-9+3zM296 312l8-3-6-2-8+2zM290 309l8-2-6-3-8+3zM284 307l8-3-6-2-8+3zM188 273l9-3-6-2-9+3zM182 271l9-3-6-2-9+3zM310 312l9-2-6-3-9+2zM304 309l9-2-6-3-9+3zM325 312l9-2-6-3-9+3zM319 310l9-3-6-2-9+2zM340 313l9-2-6-3-9+2zM334 310l9-2-6-3-9+2zM349 311l9-3-6-2-9+2zM358 308l9-2-6-2-9+2zM373 309l9-2-6-3-9+2zM367 306l9-2-6-2-9+2zM382 307l8-2-6-3-8+2zM390 305l9-2-6-3-9+2zM399 303l9-2-6-3-9+2zM408 301l9-2-6-3-9+2zM417 299l9-2-6-3-9+2zM426 297l9-2-6-3-9+2zM435 295l9-2-6-2-9+1zM444 293l8-1-6-3-8+2zM458 294l9-1-6-3-9+2zM467 293l9-2-6-3-9+2zM476 291l9-2-6-3-9+2zM485 289l9-2-6-3-9+2zM494 287l9-2-6-3-9+2zM503 285l9-2-6-3-9+2zM512 283l9-2-6-3-9+2zM521 281l8-2-6-3-8+2zM529 279l9-2-6-3-9+2zM538 277l9-2-6-2-9+1zM547 275l9-1-6-3-9+2zM556 274l9-2-6-3-9+2zM565 272l9-2-6-3-9+2zM574 270l9-2-6-3-9+2zM583 268l9-2-6-3-9+2zM592 266l8-2-6-3-8+2zM600 264l9-2-6-3-9+2z"/><path fill="#eaca5b" stroke="#eaca5b" d="M278 305l8-3-6-2-8+2zM272 302l8-2-6-3-8+3zM266 300l8-3-5-2-9+3zM260 298l9-3-6-2-9+2zM254 295l9-2-6-3-9+3zM230 287l9-3-6-2-9+3zM224 285l9-3-6-2-9+3zM218 283l9-3-6-2-9+3zM212 281l9-3-6-3-9+4zM206 279l9-4-6-2-9+4zM200 277l9-4-6-2-9+4zM194 275l9-4-6-1-9+3zM298 307l9-3-6-2-9+2zM292 304l9-2-6-3-9+3zM313 307l9-2-6-3-9+2zM328 307l9-2-6-3-9+3zM343 308l9-2-6-3-9+2zM337 305l9-2-6-3-9+2zM352 306l9-2-6-3-9+2zM361 304l9-2-6-3-9+2zM376 304l8-2-6-2-8+2zM370 302l8-2-6-3-8+2zM384 302l9-2-6-2-9+2zM393 300l9-2-6-2-9+2zM402 298l9-2-6-2-9+2zM411 296l9-2-6-2-9+2zM420 294l9-2-6-2-9+2zM429 292l9-1-6-3-9+2zM438 291l8-2-5-3-9+2zM452 292l9-2-6-3-9+2zM461 290l9-2-6-3-9+2zM470 288l9-2-6-3-9+2zM479 286l9-2-6-3-9+2zM488 284l9-2-6-3-9+2zM497 282l9-2-6-3-9+2zM506 280l9-2-6-3-9+2zM515 278l8-2-6-3-8+2zM523 276l9-2-6-3-9+2zM532 274l9-1-6-3-9+1zM541 273l9-2-6-3-9+2zM550 271l9-2-6-3-9+2zM559 269l9-2-6-3-9+2zM568 267l9-2-6-3-9+2zM577 265l9-2-6-3-9+2zM586 263l8-2-6-3-8+2zM594 261l9-2-6-3-9+2z"/><path fill="#e8be5b" stroke="#e8be5b" d="M248 293l9-3-6-2-9+3zM242 291l9-3-6-2-9+3zM236 289l9-3-6-2-9+3zM286 302l9-3-6-2-9+3zM280 300l9-3-6-2-9+2zM274 297l9-2-6-3-8+3zM269 295l8-3-6-2-8+3zM209 273l9-3-6-2-9+3zM203 271l9-3-6-2-9+4zM197 270l9-4-6-1-9+3zM191 268l9-3-6-2-9+3zM307 304l9-2-6-2-9+2zM301 302l9-2-6-3-9+2zM295 299l9-2-6-2-9+2zM322 305l9-3-6-2-9+2zM316 302l9-2-6-3-9+3zM331 302l9-2-6-2-9+2zM346 303l9-2-6-3-9+2zM340 300l9-2-6-3-9+3zM355 301l9-2-6-3-9+2zM364 299l8-2-6-3-8+2zM378 300l9-2-6-3-9+2zM372 297l9-2-6-3-9+2zM387 298l9-2-6-3-9+2zM396 296l9-2-6-3-9+2zM405 294l9-2-6-3-9+2zM414 292l9-2-6-3-9+2zM423 290l9-2-6-3-9+2zM432 288l9-2-6-3-9+2zM446 289l9-2-6-3-8+2zM441 286l8-2-6-3-8+2zM455 287l9-2-6-3-9+2zM464 285l9-2-6-3-9+2zM473 283l9-2-6-3-9+2zM482 281l9-2-6-3-9+2zM491 279l9-2-6-3-9+2zM500 277l9-2-6-3-9+2zM509 275l8-2-6-3-8+2zM517 273l9-2-6-2-9+1zM526 271l9-1-6-3-9+2zM535 270l9-2-6-3-9+2zM544 268l9-2-6-3-9+2zM553 266l9-2-6-3-9+2zM562 264l9-2-6-3-9+2zM571 262l9-2-6-3-9+2zM580 260l8-2-6-3-8+2zM588 258l9-2-6-3-9+2z"/><path fill="#e7b35a" stroke="#e7b35a" d="M263 293l8-3-6-2-8+2zM257 290l8-2-6-3-8+3zM251 288l8-3-6-2-8+3zM245 286l8-3-6-2-8+3zM239 284l8-3-5-2-9+3zM233 282l9-3-6-2-9+3zM227 280l9-3-6-2-9+3zM221 278l9-3-6-2-9+2zM215 275l9-2-6-3-9+3zM289 297l9-2-6-3-9+3zM283 295l9-3-6-2-9+2zM277 292l9-2-6-3-9+3zM206 266l9-2-6-2-9+3zM200 265l9-3-6-2-9+3zM310 300l9-3-6-2-9+2zM304 297l9-2-6-3-9+3zM325 300l9-2-6-3-9+2zM319 297l9-2-6-3-9+3zM334 298l9-3-6-2-9+2zM349 298l9-2-6-3-9+2zM343 295l9-2-6-2-9+2zM358 296l8-2-6-3-8+2zM366 294l9-2-6-3-9+2zM381 295l9-2-6-3-9+2zM375 292l9-2-6-3-9+2zM390 293l9-2-6-3-9+2zM399 291l9-2-6-3-9+2zM408 289l9-2-6-3-9+2zM417 287l9-2-6-3-9+2zM426 285l9-2-6-3-9+2zM435 283l8-2-6-3-8+2zM449 284l9-2-6-3-9+2zM443 281l9-2-6-3-9+2zM458 282l9-2-6-3-9+2zM452 279l9-2-6-3-9+2zM467 280l9-2-6-3-9+2zM476 278l9-2-6-3-9+2zM485 276l9-2-6-3-9+2zM494 274l9-2-6-3-9+2zM503 272l8-2-5-2-9+1zM511 270l9-1-6-3-8+2zM520 269l9-2-6-3-9+2zM529 267l9-2-6-3-9+2zM538 265l9-2-6-3-9+2zM547 263l9-2-6-3-9+2zM556 261l9-2-6-3-9+2zM565 259l9-2-6-3-9+2zM574 257l8-2-6-3-8+2zM582 255l9-2-6-2-9+1z"/><path fill="#e6a85a" stroke="#e6a85a" d="M271 290l9-3-6-2-9+3zM265 288l9-3-6-2-9+2zM259 285l9-2-6-3-9+3zM253 283l9-3-6-2-9+3zM247 281l9-3-6-2-8+3zM242 279l8-3-6-2-8+3zM236 277l8-3-6-2-8+3zM230 275l8-3-6-2-8+3zM224 273l8-3-6-2-8+2zM218 270l8-2-5-2-9+2zM212 268l9-2-6-2-9+2zM298 295l9-3-6-2-9+2zM292 292l9-2-6-3-9+3zM286 290l9-3-6-2-9+2zM313 295l9-3-6-2-9+2zM307 292l9-2-6-3-9+3zM328 295l9-2-6-3-9+2zM322 292l9-2-6-2-9+2zM337 293l9-2-6-3-9+2zM352 293l8-2-5-2-9+2zM346 291l9-2-6-3-9+2zM360 291l9-2-6-2-8+2zM369 289l9-2-6-3-9+3zM384 290l9-2-6-3-9+2zM378 287l9-2-6-3-9+2zM393 288l9-2-6-3-9+2zM402 286l9-2-6-3-9+2zM411 284l9-2-6-3-9+2zM420 282l9-2-6-3-9+2zM429 280l8-2-6-3-8+2zM437 278l9-2-6-3-9+2zM446 276l9-2-6-3-9+2zM461 277l9-2-6-3-9+2zM455 274l9-2-6-2-9+1zM470 275l9-2-6-3-9+2zM464 272l9-2-6-2-9+2zM479 273l9-2-6-2-9+1zM488 271l9-2-6-2-9+2zM497 269l9-1-6-3-9+2zM506 268l8-2-6-3-8+2zM514 266l9-2-6-3-9+2zM523 264l9-2-6-3-9+2zM532 262l9-2-6-3-9+2zM541 260l9-2-6-3-9+2zM550 258l9-2-6-3-9+2zM559 256l9-2-6-3-9+2zM568 254l8-2-6-2-8+1zM576 252l9-1-6-3-9+2z"/><path fill="#e28a5e" stroke="#e28a5e" d="M280 287l9-2-6-2-9+2zM274 285l9-2-6-3-9+3zM268 283l9-3-6-2-9+2zM262 280l9-2-6-2-9+2zM256 278l9-2-6-3-9+3zM250 276l9-3-6-2-9+3zM244 274l9-3-6-2-9+3zM238 272l9-3-6-2-9+3zM232 270l9-3-6-2-9+3zM226 268l9-3-6-2-8+3zM221 266l8-3-6-2-8+3zM215 264l8-3-6-2-8+3zM209 262l8-3-6-2-8+3zM301 290l9-3-6-2-9+2zM295 287l9-2-6-2-9+2zM289 285l9-2-6-3-9+3zM316 290l9-2-6-3-9+2zM310 287l9-2-6-2-9+2zM331 290l9-2-6-2-9+2zM325 288l9-2-6-3-9+2zM340 288l9-2-6-3-9+3zM355 289l8-2-6-3-8+2zM349 286l8-2-6-3-8+2zM363 287l9-3-6-2-9+2zM372 284l9-2-6-2-9+2zM387 285l9-2-6-3-9+2zM381 282l9-2-6-2-9+2zM396 283l9-2-6-3-9+2zM390 280l9-2-6-2-9+2zM405 281l9-2-6-2-9+1zM414 279l9-2-6-2-9+2zM423 277l8-2-6-2-8+2zM431 275l9-2-6-2-9+2zM440 273l9-2-6-2-9+2zM449 271l9-1-6-3-9+2zM458 270l9-2-6-3-9+2zM473 270l9-1-6-3-9+2zM467 268l9-2-6-3-9+2zM482 269l9-2-6-3-9+2zM476 266l9-2-6-3-9+2zM491 267l9-2-6-3-9+2zM485 264l9-2-6-3-9+2zM500 265l8-2-6-3-8+2zM494 262l8-2-6-3-8+2zM508 263l9-2-6-3-9+2zM517 261l9-2-6-3-9+2zM526 259l9-2-6-3-9+2zM535 257l9-2-6-3-9+2zM544 255l9-2-6-2-9+1zM553 253l9-2-6-2-9+2zM562 251l8-1-5-3-9+2zM570 250l9-2-6-3-8+2z"/><path fill="#de6c62" stroke="#de6c62" d="M283 283l9-3-6-2-9+2zM277 280l9-2-6-3-9+3zM271 278l9-3-6-2-9+3zM265 276l9-3-6-2-9+2zM259 273l9-2-6-2-9+2zM253 271l9-2-6-2-9+2zM247 269l9-2-6-3-9+3zM241 267l9-3-6-2-9+3zM235 265l9-3-6-2-9+3zM229 263l9-3-6-2-9+3zM223 261l9-3-6-2-9+3zM217 259l9-3-6-2-9+3zM304 285l9-2-6-3-9+3zM298 283l9-3-6-2-9+2zM292 280l9-2-6-3-9+3zM286 278l9-3-6-2-9+2zM319 285l9-2-6-3-9+3zM313 283l9-3-6-2-9+2zM307 280l9-2-6-2-9+2zM334 286l9-3-6-2-9+2zM328 283l9-2-6-3-9+2zM343 283l8-2-6-2-8+2zM337 281l8-2-6-3-8+2zM357 284l9-2-6-3-9+2zM351 281l9-2-6-2-9+2zM366 282l9-2-6-3-9+2zM360 279l9-2-6-2-9+2zM375 280l9-2-6-3-9+2zM384 278l9-2-6-3-9+2zM399 278l9-1-6-3-9+2zM393 276l9-2-6-3-9+2zM408 277l9-2-6-3-9+2zM402 274l9-2-6-3-9+2zM417 275l8-2-5-3-9+2zM425 273l9-2-6-3-8+2zM434 271l9-2-6-3-9+2zM443 269l9-2-6-3-9+2zM452 267l9-2-6-3-9+2zM461 265l9-2-6-3-9+2zM470 263l9-2-6-3-9+2zM479 261l9-2-6-3-9+2zM488 259l8-2-6-3-8+2zM502 260l9-2-6-3-9+2zM496 257l9-2-6-2-9+1zM511 258l9-2-6-3-9+2zM505 255l9-2-6-2-9+2zM520 256l9-2-6-2-9+1zM514 253l9-1-6-3-9+2zM529 254l9-2-6-2-9+2zM523 252l9-2-6-3-9+2zM538 252l9-1-6-3-9+2zM532 250l9-2-6-3-9+2zM547 251l9-2-6-3-9+2zM541 248l9-2-6-3-9+2zM556 249l9-2-6-3-9+2zM550 246l9-2-6-3-9+2zM565 247l8-2-6-3-8+2zM559 244l8-2-6-3-8+2z"/><path fill="#d25d63" stroke="#d25d63" d="M280 275l9-2-6-2-9+2zM274 273l9-2-6-2-9+2zM268 271l9-2-6-3-9+3zM262 269l9-3-6-2-9+3zM256 267l9-3-6-2-9+2zM250 264l9-2-6-2-9+2zM244 262l9-2-6-2-9+2zM238 260l9-2-6-2-9+2zM232 258l9-2-6-2-9+2zM226 256l9-2-6-2-9+2zM301 278l9-2-6-3-9+2zM295 275l9-2-6-2-9+2zM289 273l9-2-6-3-9+3zM322 280l9-2-6-2-9+2zM316 278l9-2-6-3-9+3zM310 276l9-3-6-2-9+2zM331 278l8-2-5-2-9+2zM325 276l9-2-6-3-9+2zM345 279l9-2-6-3-9+2zM339 276l9-2-6-3-8+3zM354 277l9-2-6-3-9+2zM369 277l9-2-6-3-9+3zM363 275l9-3-6-2-9+2zM378 275l9-2-6-3-9+2zM372 272l9-2-6-2-9+2zM387 273l9-2-6-3-9+2zM396 271l9-2-6-3-9+2zM411 272l9-2-6-3-9+2zM405 269l9-2-6-2-9+1zM420 270l8-2-6-3-8+2zM414 267l8-2-6-2-8+2zM428 268l9-2-6-3-9+2zM422 265l9-2-6-2-9+2zM437 266l9-2-6-3-9+2zM446 264l9-2-6-3-9+2zM455 262l9-2-6-3-9+2zM464 260l9-2-6-2-9+1zM473 258l9-2-6-2-9+2zM482 256l8-2-6-2-8+2zM490 254l9-1-6-3-9+2zM499 253l9-2-6-3-9+2zM508 251l9-2-6-3-9+2zM517 249l9-2-6-3-9+2zM526 247l9-2-6-3-9+2zM535 245l9-2-6-3-9+2zM544 243l9-2-6-3-9+2zM553 241l8-2-6-2-8+1z"/><path fill="#c74e64" stroke="#c74e64" d="M283 271l9-3-6-2-9+3zM277 269l9-3-6-2-9+2zM271 266l9-2-6-2-9+2zM265 264l9-2-6-3-9+3zM259 262l9-3-6-2-9+3zM253 260l9-3-6-2-9+3zM247 258l9-3-6-2-9+3zM241 256l9-3-6-2-9+3zM235 254l9-3-6-2-9+3zM304 273l9-2-6-2-9+2zM298 271l9-2-6-3-9+2zM292 268l9-2-6-2-9+2zM286 266l9-2-6-2-9+2zM280 264l9-2-6-3-9+3zM244 251l9-2-6-2-9+2zM319 273l9-2-6-2-9+2zM313 271l9-2-6-3-9+3zM307 269l9-3-6-2-9+2zM334 274l8-3-6-2-8+2zM328 271l8-2-6-2-8+2zM322 269l8-2-6-3-8+2zM348 274l9-2-6-3-9+2zM342 271l9-2-6-2-9+2zM336 269l9-2-6-3-9+3zM357 272l9-2-6-3-9+2zM351 269l9-2-6-2-9+2zM366 270l9-2-6-3-9+2zM381 270l9-2-6-2-9+2zM375 268l9-2-6-3-9+2zM390 268l9-2-6-2-9+2zM384 266l9-2-6-3-9+2zM399 266l9-1-6-3-9+2zM393 264l9-2-6-3-9+2zM408 265l8-2-6-3-8+2zM416 263l9-2-6-3-9+2zM431 263l9-2-6-2-9+2zM425 261l9-2-6-3-9+2zM440 261l9-2-6-2-9+2zM434 259l9-2-6-3-9+2zM449 259l9-2-6-2-9+2zM443 257l9-2-6-3-9+2zM458 257l9-1-6-3-9+2zM452 255l9-2-6-3-9+2zM467 256l9-2-6-3-9+2zM461 253l9-2-6-3-9+2zM476 254l8-2-5-3-9+2zM484 252l9-2-6-3-8+2zM493 250l9-2-6-3-9+2zM502 248l9-2-6-3-9+2zM511 246l9-2-6-3-9+2zM520 244l9-2-6-2-9+1zM529 242l9-2-6-2-9+2zM538 240l9-2-6-2-9+2zM547 238l8-1-6-3-8+2z"/><path fill="#bb3f66" stroke="#bb3f66" d="M274 262l9-3-6-2-9+2zM268 259l9-2-6-2-9+2zM262 257l9-2-6-2-9+2zM256 255l9-2-6-2-9+2zM250 253l9-2-6-2-9+2zM301 266l9-2-6-2-9+2zM295 264l9-2-6-3-9+3zM289 262l9-3-6-2-9+2zM283 259l9-2-6-2-9+2zM277 257l9-2-6-2-9+2zM271 255l9-2-6-3-9+3zM265 253l9-3-6-2-9+3zM259 251l9-3-6-2-9+3zM253 249l9-3-6-2-9+3zM316 266l8-2-6-2-8+2zM310 264l8-2-6-3-8+3zM304 262l8-3-5-2-9+2zM330 267l9-3-6-2-9+2zM324 264l9-2-6-2-9+2zM318 262l9-2-6-3-9+2zM345 267l9-2-6-3-9+2zM339 264l9-2-6-2-9+2zM360 267l9-2-6-2-9+2zM354 265l9-2-6-3-9+2zM348 262l9-2-6-2-9+2zM369 265l9-2-6-2-9+2zM363 263l9-2-6-3-9+2zM378 263l9-2-6-2-9+2zM372 261l9-2-6-3-9+2zM387 261l9-2-6-2-9+2zM402 262l8-2-6-3-8+2zM396 259l8-2-6-2-8+2zM410 260l9-2-6-3-9+2zM404 257l9-2-6-2-9+2zM419 258l9-2-6-3-9+2zM413 255l9-2-6-2-9+2zM428 256l9-2-6-3-9+2zM437 254l9-2-6-2-9+1zM446 252l9-2-6-2-9+2zM455 250l9-2-6-2-9+2zM470 251l9-2-6-3-9+2zM464 248l9-2-6-2-9+2zM479 249l8-2-6-3-8+2zM473 246l8-2-6-2-8+2zM487 247l9-2-6-2-9+1zM481 244l9-1-6-3-9+2zM496 245l9-2-6-2-9+2zM490 243l9-2-6-3-9+2zM505 243l9-2-6-2-9+2zM499 241l9-2-6-3-9+2zM514 241l9-1-6-3-9+2zM508 239l9-2-6-3-9+2zM523 240l9-2-6-3-9+2zM517 237l9-2-6-3-9+2zM532 238l9-2-6-3-9+2zM526 235l9-2-6-3-9+2zM541 236l8-2-6-3-8+2zM535 233l8-2-5-2-9+1z"/><path fill="#af3862" stroke="#af3862" d="M298 259l9-2-6-2-9+2zM292 257l9-2-6-2-9+2zM286 255l9-2-6-3-9+3zM280 253l9-3-6-2-9+2zM274 250l9-2-6-2-9+2zM268 248l9-2-6-2-9+2zM262 246l9-2-6-2-9+2zM312 259l9-2-6-2-8+2zM307 257l8-2-6-2-8+2zM301 255l8-2-6-3-8+3zM295 253l8-3-6-2-8+2zM289 250l8-2-6-2-8+2zM283 248l8-2-6-2-8+2zM277 246l8-2-5-2-9+2zM271 244l9-2-6-2-9+2zM333 262l9-2-6-3-9+3zM327 260l9-3-6-2-9+2zM321 257l9-2-6-2-9+2zM315 255l9-2-6-3-9+3zM342 260l9-2-6-3-9+2zM336 257l9-2-6-2-9+2zM330 255l9-2-6-2-9+2zM357 260l9-2-6-2-9+2zM351 258l9-2-6-3-9+2zM345 255l9-2-6-2-9+2zM366 258l9-2-6-2-9+2zM360 256l9-2-6-3-9+2zM381 259l9-2-6-3-9+2zM375 256l9-2-6-2-9+2zM369 254l9-2-6-3-9+2zM390 257l8-2-5-3-9+2zM384 254l9-2-6-2-9+2zM398 255l9-2-6-3-8+2zM393 252l8-2-6-2-8+2zM407 253l9-2-6-3-9+2zM401 250l9-2-6-2-9+2zM422 253l9-2-6-2-9+2zM416 251l9-2-6-3-9+2zM431 251l9-1-6-3-9+2zM425 249l9-2-6-3-9+2zM440 250l9-2-6-3-9+2zM434 247l9-2-6-3-9+2zM449 248l9-2-6-3-9+2zM443 245l9-2-6-2-9+1zM458 246l9-2-6-3-9+2zM452 243l9-2-6-2-9+2zM467 244l8-2-6-3-8+2zM461 241l8-2-6-2-8+2zM475 242l9-2-6-3-9+2zM469 239l9-2-6-2-9+2zM484 240l9-2-6-3-9+2zM478 237l9-2-6-2-9+2zM493 238l9-2-6-2-9+1zM502 236l9-2-6-2-9+2zM511 234l9-2-6-2-9+2zM520 232l9-2-6-2-9+2zM529 230l9-1-6-3-9+2z"/><path fill="#a2335d" stroke="#a2335d" d="M309 253l9-3-6-2-9+2zM303 250l9-2-6-2-9+2zM297 248l9-2-6-2-9+2zM291 246l9-2-6-2-9+2zM285 244l9-2-6-2-8+2zM280 242l8-2-6-3-8+3zM324 253l9-2-6-3-9+2zM318 250l9-2-6-2-9+2zM312 248l9-2-6-2-9+2zM306 246l9-2-6-2-9+2zM300 244l9-2-6-3-9+3zM294 242l9-3-6-2-9+3zM288 240l9-3-6-2-9+2zM339 253l9-2-6-2-9+2zM333 251l9-2-6-3-9+2zM327 248l9-2-6-2-9+2zM321 246l9-2-6-2-9+2zM315 244l9-2-6-2-9+2zM354 253l9-2-6-2-9+2zM348 251l9-2-6-2-9+2zM342 249l9-2-6-3-9+2zM336 246l9-2-6-2-9+2zM363 251l9-2-6-2-9+2zM357 249l9-2-6-2-9+2zM351 247l9-2-6-3-9+2zM378 252l9-2-6-3-9+2zM372 249l9-2-6-2-9+2zM366 247l9-2-6-3-9+3zM387 250l8-2-6-3-8+2zM381 247l8-2-6-2-8+2zM395 248l9-2-6-3-9+2zM389 245l9-2-6-2-9+2zM410 248l9-2-6-2-9+2zM404 246l9-2-6-3-9+2zM398 243l9-2-6-2-9+2zM419 246l9-2-6-2-9+2zM413 244l9-2-6-3-9+2zM428 244l9-2-6-2-9+2zM422 242l9-2-6-3-9+2zM437 242l9-1-6-3-9+2zM431 240l9-2-6-2-9+1zM446 241l9-2-6-3-9+2zM440 238l9-2-6-2-9+2zM455 239l8-2-6-3-8+2zM449 236l8-2-5-2-9+2zM463 237l9-2-6-3-9+2zM457 234l9-2-6-2-8+2zM472 235l9-2-6-3-9+2zM466 232l9-2-6-2-9+2zM487 235l9-1-6-3-9+2zM481 233l9-2-6-3-9+2zM496 234l9-2-6-3-9+2zM490 231l9-2-6-2-9+1zM505 232l9-2-6-3-9+2zM499 229l9-2-6-2-9+2zM514 230l9-2-6-3-9+2zM508 227l9-2-6-2-9+2zM523 228l9-2-6-3-9+2zM517 225l9-2-6-2-9+2z"/><path fill="#962e58" stroke="#962e58" d="M309 242l9-2-6-3-9+2zM303 239l9-2-6-2-9+2zM297 237l9-2-6-2-9+2zM330 244l9-2-6-2-9+2zM324 242l9-2-6-3-9+3zM318 240l9-3-6-2-9+2zM312 237l9-2-6-2-9+2zM306 235l9-2-6-2-9+2zM345 244l9-2-6-2-9+2zM339 242l9-2-6-2-9+2zM333 240l9-2-6-3-9+2zM327 237l9-2-6-2-9+2zM321 235l9-2-6-2-9+2zM315 233l9-2-6-2-9+2zM360 245l9-3-6-2-9+2zM354 242l9-2-6-2-9+2zM348 240l9-2-6-2-9+2zM342 238l9-2-6-3-9+2zM336 235l9-2-6-2-9+2zM330 233l9-2-6-2-9+2zM324 231l9-2-6-2-9+2zM375 245l8-2-6-3-8+2zM369 242l8-2-6-2-8+2zM363 240l8-2-5-2-9+2zM357 238l9-2-6-2-9+2zM351 236l9-2-6-3-9+2zM383 243l9-2-6-2-9+1zM377 240l9-1-6-3-9+2zM371 238l9-2-6-2-8+2zM366 236l8-2-6-2-8+2zM392 241l9-2-6-2-9+2zM386 239l9-2-6-3-9+2zM380 236l9-2-6-2-9+2zM407 241l9-2-6-2-9+2zM401 239l9-2-6-2-9+2zM395 237l9-2-6-3-9+2zM389 234l9-2-6-2-9+2zM416 239l9-2-6-2-9+2zM410 237l9-2-6-2-9+2zM404 235l9-2-6-3-9+2zM425 237l9-1-6-3-9+2zM419 235l9-2-6-2-9+2zM413 233l9-2-6-3-9+2zM434 236l9-2-6-3-9+2zM428 233l9-2-6-2-9+2zM422 231l9-2-6-3-9+2zM443 234l9-2-6-3-9+2zM437 231l9-2-6-2-9+2zM452 232l8-2-6-3-8+2zM446 229l8-2-6-2-8+2zM460 230l9-2-6-3-9+2zM454 227l9-2-6-2-9+2zM475 230l9-2-6-2-9+2zM469 228l9-2-6-3-9+2zM463 225l9-2-6-2-9+2zM484 228l9-1-6-3-9+2zM478 226l9-2-6-2-9+1zM472 223l9-1-6-3-9+2zM493 227l9-2-6-3-9+2zM487 224l9-2-6-2-9+2zM481 222l9-2-6-3-9+2zM502 225l9-2-6-3-9+2zM496 222l9-2-6-2-9+2zM490 220l9-2-6-3-9+2zM511 223l9-2-6-3-9+2zM505 220l9-2-6-2-9+2zM499 218l9-2-6-3-9+2z"/><path fill="#8a2953" stroke="#8a2953" d="M345 233l9-2-6-2-9+2zM339 231l9-2-6-2-9+2zM333 229l9-2-6-2-9+2zM360 234l8-2-6-3-8+2zM354 231l8-2-6-2-8+2zM348 229l8-2-6-2-8+2zM342 227l8-2-6-2-8+2zM374 234l9-2-6-2-9+2zM368 232l9-2-6-3-9+2zM362 229l9-2-6-2-9+2zM356 227l9-2-6-2-9+2zM350 225l9-2-6-2-9+2zM383 232l9-2-6-2-9+2zM377 230l9-2-6-3-9+2zM371 227l9-2-6-2-9+2zM365 225l9-2-6-2-9+2zM359 223l9-2-6-2-9+2zM398 232l9-2-6-2-9+2zM392 230l9-2-6-2-9+2zM386 228l9-2-6-3-9+2zM380 225l9-2-6-2-9+2zM374 223l9-2-6-2-9+2zM368 221l9-2-6-2-9+2zM407 230l9-2-6-2-9+2zM401 228l9-2-6-2-9+2zM395 226l9-2-6-3-9+2zM389 223l9-2-6-2-9+2zM383 221l9-2-6-2-9+2zM377 219l9-2-6-2-9+2zM416 228l9-2-6-2-9+2zM410 226l9-2-6-2-9+2zM404 224l9-2-6-3-9+2zM398 221l9-2-6-2-9+2zM392 219l9-2-6-2-9+2zM386 217l9-2-6-2-9+2zM431 229l9-2-6-3-9+2zM425 226l9-2-6-2-9+2zM419 224l9-2-6-2-9+2zM413 222l9-2-6-2-9+1zM407 219l9-1-6-3-9+2zM440 227l8-2-6-2-8+1zM434 224l8-1-6-3-8+2zM428 222l8-2-6-2-8+2zM422 220l8-2-5-2-9+2zM416 218l9-2-6-3-9+2zM448 225l9-2-6-2-9+2zM442 223l9-2-6-3-9+2zM436 220l9-2-6-2-9+2zM430 218l9-2-6-2-8+2zM457 223l9-2-6-2-9+2zM451 221l9-2-6-3-9+2zM445 218l9-2-6-2-9+2zM439 216l9-2-6-2-9+2zM466 221l9-2-6-2-9+2zM460 219l9-2-6-3-9+2zM454 216l9-2-6-2-9+2zM475 219l9-2-6-2-9+2zM469 217l9-2-6-2-9+1zM463 214l9-1-6-3-9+2zM484 217l9-2-6-2-9+2zM478 215l9-2-6-2-9+2zM472 213l9-2-6-3-9+2zM493 215l9-2-6-2-9+2zM487 213l9-2-6-2-9+2zM481 211l9-2-6-3-9+2z"/><path fill="#7d244e" stroke="#7d244e" d="M401 217l9-2-6-2-9+2zM395 215l9-2-6-2-9+2zM410 215l9-2-6-2-9+2zM404 213l9-2-6-2-9+2zM425 216l8-2-6-3-8+2zM419 213l8-2-6-2-8+2zM413 211l8-2-6-2-8+2zM433 214l9-2-6-2-9+1zM427 211l9-1-6-3-9+2zM421 209l9-2-6-2-9+2zM448 214l9-2-6-2-9+2zM442 212l9-2-6-2-9+2zM436 210l9-2-6-3-9+2zM430 207l9-2-6-2-9+2zM457 212l9-2-6-2-9+2zM451 210l9-2-6-2-9+2zM445 208l9-2-6-2-9+1zM439 205l9-1-6-3-9+2zM466 210l9-2-6-2-9+2zM460 208l9-2-6-2-9+2zM454 206l9-2-6-2-9+2zM448 204l9-2-6-3-9+2zM475 208l9-2-6-2-9+2zM469 206l9-2-6-2-9+2zM463 204l9-2-6-2-9+2zM457 202l9-2-6-2-9+1z"/></g><path transform="scale(.5)" fill="none" stroke="#000" stroke-opacity="1" stroke-width="1.8" d="M368 398l-6-2-6-2-6-2-6-2-6-2-6-2-6-3-6-2-6-2-6-2-6-2-6-2-6-2-6-3-6-2-6-2-6-2-6-2-6-2-6-2-6-3-5-2-6-2-6-2-6-2-6-2-6-3-6-2-6-2-6-2-6-2-6-2-6-2-6-3-6-2-6-2-6-2-6-2-6-2-6-2-6-3-6-2-6-2-6-2M377 395l-6-3-6-3-6-3-6-3-6-3-6-3-6-2-6-3-6-2-6-3-6-2-6-2-6-2-6-2-6-2-6-3-6-2-6-2-6-2-6-2-6-2-6-2-6-2-6-2-6-2-6-2-6-2-5-1-6-2-6-2-6-2-6-2-6-2-6-2-6-2-6-2-6-2-6-2-6-3-6-2-6-2-6-2-6-2-6-2M386 394l-6-4-6-3-6-3-6-3-6-3-6-3-6-3-6-3-6-3-6-2-6-3-6-2-6-3-6-2-6-2-6-3-6-2-6-2-6-2-6-2-6-2-6-3-6-2-6-2-6-2-6-2-6-2-6-2-6-2-6-1-6-2-6-2-6-2-5-2-6-2-6-2-6-2-6-2-6-2-6-2-6-2-6-2-6-2-6-2M395 392l-6-4-6-3-6-3-6-3-6-3-6-3-6-3-6-3-6-3-6-3-6-3-6-2-6-3-6-2-6-3-6-2-6-3-6-2-6-2-6-3-6-2-6-2-6-2-6-2-6-2-6-2-6-3-6-2-6-2-6-2-6-2-6-1-6-2-6-2-6-2-6-2-6-2-6-2-6-2-5-2-6-2-6-2-6-2-6-2M404 390l-6-3-6-4-6-3-6-3-6-3-6-3-6-3-6-3-6-3-6-3-6-3-6-3-6-3-6-2-6-3-6-2-6-3-6-2-6-3-6-2-6-2-6-3-6-2-6-2-6-2-6-3-6-2-6-2-6-2-6-2-6-2-6-2-6-2-6-2-6-2-6-2-6-2-6-2-6-2-6-1-6-2-6-2-6-2-6-2M412 388l-6-3-6-4-6-3-6-3-6-3-5-3-6-3-6-3-6-3-6-3-6-3-6-3-6-3-6-3-6-2-6-3-6-3-6-2-6-3-6-2-6-3-6-2-6-2-6-3-6-2-6-2-6-2-6-2-6-3-6-2-6-2-6-2-6-2-6-2-6-2-6-2-6-2-6-2-6-2-6-2-6-2-6-1-6-2-6-2M421 386l-6-3-6-3-6-4-6-3-6-3-6-3-6-3-6-3-6-3-6-3-6-3-5-3-6-3-6-3-6-3-6-2-6-3-6-3-6-2-6-3-6-2-6-3-6-2-6-3-6-2-6-2-6-3-6-2-6-2-6-2-6-2-6-2-6-3-6-2-6-2-6-2-6-2-6-2-6-2-6-1-6-2-6-2-6-2-6-2M430 384l-6-3-6-3-6-3-6-4-6-3-6-3-6-3-6-3-6-3-6-3-6-3-6-3-6-3-6-3-6-3-6-3-6-3-5-2-6-3-6-2-6-3-6-3-6-2-6-3-6-2-6-2-6-3-6-2-6-2-6-2-6-3-6-2-6-2-6-2-6-2-6-2-6-2-6-2-6-2-6-2-6-2-6-2-6-2-6-2M439 382l-6-3-6-3-6-3-6-4-6-3-6-3-6-3-6-3-6-3-6-3-6-3-6-3-6-3-6-3-6-3-6-3-6-3-6-3-6-2-6-3-6-3-6-2-6-3-5-2-6-3-6-2-6-2-6-3-6-2-6-2-6-3-6-2-6-2-6-2-6-2-6-2-6-2-6-2-6-2-6-2-6-2-6-2-6-2-6-2M448 380l-6-3-6-3-6-3-6-3-6-4-6-3-6-3-6-3-6-3-6-3-6-3-6-3-6-3-6-3-6-3-6-3-6-3-6-3-6-2-6-3-6-3-6-2-6-3-6-3-6-2-6-3-6-2-6-2-6-3-5-2-6-2-6-3-6-2-6-2-6-2-6-2-6-2-6-2-6-3-6-2-6-2-6-1-6-2-6-2M457 379l-6-4-6-3-6-3-6-3-6-4-6-3-6-3-6-3-6-3-6-3-6-3-6-3-6-3-6-3-6-3-6-3-6-3-6-3-6-3-6-2-6-3-6-3-6-2-6-3-6-3-6-2-6-3-6-2-6-2-6-3-6-2-6-2-6-3-6-2-6-2-5-2-6-2-6-2-6-2-6-3-6-2-6-2-6-1-6-2M466 377l-6-4-6-3-6-3-6-3-6-3-6-4-6-3-6-3-6-3-6-3-6-3-6-3-6-3-6-3-6-3-6-3-6-3-6-3-6-3-6-3-6-2-6-3-6-3-6-2-6-3-6-2-6-3-6-2-6-3-6-2-6-3-6-2-6-2-6-3-6-2-6-2-6-2-6-2-6-2-6-2-5-2-6-2-6-2-6-2M474 375l-6-3-5-4-6-3-6-3-6-3-6-4-6-3-6-3-6-3-6-3-6-3-6-3-6-3-6-3-6-3-6-3-6-3-6-3-6-3-6-3-6-2-6-3-6-3-6-3-6-2-6-3-6-2-6-3-6-2-6-3-6-2-6-2-6-3-6-2-6-2-6-3-6-2-6-2-6-2-6-2-6-2-6-2-6-2-6-2M483 373l-6-3-6-4-6-3-6-3-6-3-6-3-6-4-5-3-6-3-6-3-6-3-6-3-6-3-6-3-6-3-6-3-6-3-6-3-6-3-6-3-6-3-6-2-6-3-6-3-6-2-6-3-6-3-6-2-6-3-6-2-6-2-6-3-6-2-6-3-6-2-6-2-6-2-6-2-6-3-6-2-6-2-6-2-6-2-6-2M492 371l-6-3-6-3-6-4-6-3-6-3-6-3-6-3-6-4-6-3-6-3-6-3-6-3-6-3-5-3-6-3-6-3-6-3-6-3-6-3-6-3-6-3-6-2-6-3-6-3-6-3-6-2-6-3-6-2-6-3-6-2-6-3-6-2-6-3-6-2-6-2-6-2-6-3-6-2-6-2-6-2-6-2-6-2-6-2-6-2M501 369l-6-3-6-3-6-4-6-3-6-3-6-3-6-3-6-4-6-3-6-3-6-3-6-3-6-3-6-3-6-3-6-3-6-3-6-3-6-3-5-3-6-3-6-2-6-3-6-3-6-3-6-2-6-3-6-2-6-3-6-3-6-2-6-2-6-3-6-2-6-3-6-2-6-2-6-2-6-3-6-2-6-2-6-2-6-2-6-2M510 367l-6-3-6-3-6-3-6-4-6-3-6-3-6-3-6-3-6-4-6-3-6-3-6-3-6-3-6-3-6-3-6-3-6-3-6-3-6-3-6-3-6-3-6-2-6-3-6-3-6-3-5-2-6-3-6-3-6-2-6-3-6-2-6-3-6-2-6-2-6-3-6-2-6-2-6-3-6-2-6-2-6-2-6-2-6-2-6-2M519 365l-6-3-6-3-6-3-6-4-6-3-6-3-6-3-6-3-6-3-6-4-6-3-6-3-6-3-6-3-6-3-6-3-6-3-6-3-6-3-6-3-6-3-6-2-6-3-6-3-6-3-6-2-6-3-6-3-6-2-6-3-5-2-6-3-6-2-6-3-6-2-6-2-6-3-6-2-6-2-6-2-6-3-6-2-6-2-6-2M528 364l-6-4-6-3-6-3-6-3-6-4-6-3-6-3-6-3-6-3-6-4-6-3-6-3-6-3-6-3-6-3-6-3-6-3-6-3-6-3-6-3-6-3-6-2-6-3-6-3-6-3-6-3-6-2-6-3-6-2-6-3-6-3-6-2-6-2-6-3-6-2-6-3-5-2-6-2-6-2-6-3-6-2-6-2-6-2-6-2M537 362l-6-4-6-3-6-3-6-3-6-4-6-3-6-3-6-3-6-3-6-3-6-4-6-3-6-3-6-3-6-3-6-3-6-3-6-3-6-3-6-3-6-3-6-2-6-3-6-3-6-3-6-3-6-2-6-3-6-2-6-3-6-3-6-2-6-3-6-2-6-2-6-3-6-2-6-2-6-3-6-2-6-2-6-2-5-2-6-2M545 360l-6-3-6-4-6-3-5-3-6-3-6-4-6-3-6-3-6-3-6-3-6-3-6-4-6-3-6-3-6-3-6-3-6-3-6-3-6-3-6-3-6-3-6-2-6-3-6-3-6-3-6-3-6-2-6-3-6-3-6-2-6-3-6-2-6-3-6-2-6-3-6-2-6-2-6-3-6-2-6-2-6-2-6-2-6-2-6-3M554 358l-6-3-6-4-6-3-6-3-6-3-6-3-6-4-6-3-6-3-5-3-6-3-6-3-6-4-6-3-6-3-6-3-6-3-6-3-6-3-6-3-6-3-6-2-6-3-6-3-6-3-6-3-6-2-6-3-6-3-6-2-6-3-6-2-6-3-6-2-6-3-6-2-6-2-6-3-6-2-6-2-6-2-6-3-6-2-6-2M563 356l-6-3-6-3-6-4-6-3-6-3-6-3-6-4-6-3-6-3-6-3-6-3-6-3-6-3-6-4-6-3-5-3-6-3-6-3-6-3-6-3-6-2-6-3-6-3-6-3-6-3-6-2-6-3-6-3-6-3-6-2-6-3-6-2-6-3-6-2-6-3-6-2-6-2-6-3-6-2-6-2-6-2-6-3-6-2-6-2M572 354l-6-3-6-3-6-4-6-3-6-3-6-3-6-3-6-4-6-3-6-3-6-3-6-3-6-3-6-3-6-4-6-3-6-3-6-3-6-3-6-2-6-3-5-3-6-3-6-3-6-3-6-2-6-3-6-3-6-3-6-2-6-3-6-2-6-3-6-2-6-3-6-2-6-2-6-3-6-2-6-2-6-3-6-2-6-2-6-2M581 352l-6-3-6-3-6-3-6-4-6-3-6-3-6-3-6-4-6-3-6-3-6-3-6-3-6-3-6-3-6-3-6-3-6-3-6-3-6-3-6-3-6-3-6-3-6-3-6-3-6-3-6-2-5-3-6-3-6-2-6-3-6-3-6-2-6-3-6-2-6-3-6-2-6-2-6-3-6-2-6-2-6-3-6-2-6-2-6-2M590 350l-6-3-6-3-6-3-6-4-6-3-6-3-6-3-6-3-6-4-6-3-6-3-6-3-6-3-6-3-6-3-6-3-6-3-6-3-6-3-6-3-6-3-6-3-6-3-6-3-6-3-6-2-6-3-6-3-6-2-6-3-6-3-6-2-5-3-6-2-6-3-6-2-6-3-6-2-6-2-6-2-6-3-6-2-6-2-6-2M599 348l-6-3-6-3-6-3-6-3-6-4-6-3-6-3-6-3-6-3-6-4-6-3-6-3-6-3-6-3-6-3-6-3-6-3-6-3-6-3-6-3-6-3-6-3-6-3-6-3-6-3-6-2-6-3-6-3-6-2-6-3-6-3-6-2-6-3-6-2-6-3-6-2-6-3-6-2-5-2-6-2-6-3-6-2-6-2-6-2M608 347l-6-4-6-3-6-3-6-3-6-4-6-3-6-3-6-3-6-3-6-4-6-3-6-3-6-3-6-3-6-3-6-3-6-3-6-3-6-3-6-3-6-3-6-3-6-3-6-3-6-2-6-3-6-3-6-3-6-2-6-3-6-3-6-2-6-3-6-2-6-3-6-2-6-2-6-3-6-2-6-2-6-3-6-2-6-2-6-2M616 345l-6-4-6-3-6-3-6-3-6-3-5-4-6-3-6-3-6-3-6-3-6-4-6-3-6-3-6-3-6-3-6-3-6-3-6-3-6-3-6-3-6-3-6-3-6-3-6-3-6-2-6-3-6-3-6-3-6-2-6-3-6-3-6-2-6-3-6-2-6-3-6-2-6-2-6-3-6-2-6-2-6-3-6-2-6-2-6-2M625 343l-6-3-6-4-6-3-6-3-6-3-6-4-6-3-6-3-6-3-6-3-6-3-5-4-6-3-6-3-6-3-6-3-6-3-6-3-6-3-6-3-6-3-6-3-6-3-6-2-6-3-6-3-6-3-6-3-6-2-6-3-6-2-6-3-6-3-6-2-6-3-6-2-6-2-6-3-6-2-6-2-6-3-6-2-6-2-6-2M634 341l-6-3-6-4-6-3-6-3-6-3-6-3-6-4-6-3-6-3-6-3-6-3-6-3-6-4-6-3-6-3-6-3-6-3-5-3-6-3-6-3-6-3-6-3-6-3-6-2-6-3-6-3-6-3-6-2-6-3-6-3-6-2-6-3-6-3-6-2-6-3-6-2-6-2-6-3-6-2-6-2-6-3-6-2-6-2-6-2M643 339l-6-3-6-3-6-4-6-3-6-3-6-3-6-4-6-3-6-3-6-3-6-3-6-3-6-3-6-4-6-3-6-3-6-3-6-3-6-3-6-3-6-3-6-3-5-2-6-3-6-3-6-3-6-3-6-2-6-3-6-3-6-2-6-3-6-2-6-3-6-2-6-3-6-2-6-3-6-2-6-2-6-3-6-2-6-2-6-2M652 337l-6-3-6-3-6-4-6-3-6-3-6-3-6-3-6-4-6-3-6-3-6-3-6-3-6-3-6-3-6-4-6-3-6-3-6-3-6-3-6-3-6-3-6-2-6-3-6-3-6-3-6-3-6-3-6-2-5-3-6-3-6-2-6-3-6-2-6-3-6-2-6-3-6-2-6-3-6-2-6-2-6-3-6-2-6-2-6-2M661 335l-6-3-6-3-6-3-6-4-6-3-6-3-6-3-6-3-6-4-6-3-6-3-6-3-6-3-6-3-6-3-6-3-6-4-6-3-6-3-6-2-6-3-6-3-6-3-6-3-6-3-6-3-6-2-6-3-6-3-6-3-6-2-6-3-6-2-6-3-5-2-6-3-6-2-6-3-6-2-6-2-6-2-6-3-6-2-6-2M670 333l-6-3-6-3-6-3-6-4-6-3-6-3-6-3-6-3-6-4-6-3-6-3-6-3-6-3-6-3-6-3-6-3-6-3-6-3-6-3-6-3-6-3-6-3-6-3-6-3-6-3-6-3-6-2-6-3-6-3-6-2-6-3-6-3-6-2-6-3-6-2-6-3-6-2-6-2-6-3-6-2-5-2-6-3-6-2-6-2M678 332l-6-4-5-3-6-3-6-3-6-4-6-3-6-3-6-3-6-3-6-4-6-3-6-3-6-3-6-3-6-3-6-3-6-3-6-3-6-3-6-3-6-3-6-3-6-3-6-3-6-3-6-2-6-3-6-3-6-3-6-2-6-3-6-3-6-2-6-3-6-2-6-3-6-2-6-2-6-3-6-2-6-2-6-3-6-2-6-2M687 330l-6-4-6-3-6-3-6-3-6-3-6-4-6-3-5-3-6-3-6-3-6-4-6-3-6-3-6-3-6-3-6-3-6-3-6-3-6-3-6-3-6-3-6-3-6-3-6-3-6-3-6-2-6-3-6-3-6-3-6-2-6-3-6-2-6-3-6-3-6-2-6-3-6-2-6-2-6-3-6-2-6-2-6-2-6-3-6-2M696 328l-6-3-6-4-6-3-6-3-6-3-6-4-6-3-6-3-6-3-6-3-6-4-6-3-5-3-6-3-6-3-6-3-6-3-6-3-6-3-6-3-6-3-6-3-6-3-6-3-6-2-6-3-6-3-6-3-6-2-6-3-6-3-6-2-6-3-6-2-6-3-6-2-6-3-6-2-6-3-6-2-6-2-6-2-6-3-6-2M705 326l-6-3-6-4-6-3-6-3-6-3-6-3-6-4-6-3-6-3-6-3-6-3-6-4-6-3-6-3-6-3-6-3-6-3-6-3-5-3-6-3-6-3-6-3-6-3-6-3-6-2-6-3-6-3-6-3-6-2-6-3-6-3-6-2-6-3-6-2-6-3-6-2-6-3-6-2-6-2-6-3-6-2-6-2-6-2-6-3M714 324l-6-3-6-3-6-4-6-3-6-3-6-3-6-4-6-3-6-3-6-3-6-3-6-3-6-4-6-3-6-3-6-3-6-3-6-3-6-3-6-3-6-3-6-3-6-3-6-2-5-3-6-3-6-3-6-3-6-2-6-3-6-3-6-2-6-3-6-2-6-3-6-2-6-3-6-2-6-2-6-3-6-2-6-2-6-2-6-3M723 322l-6-3-6-3-6-4-6-3-6-3-6-3-6-3-6-4-6-3-6-3-6-3-6-3-6-3-6-4-6-3-6-3-6-3-6-3-6-3-6-3-6-3-6-3-6-2-6-3-6-3-6-3-6-3-6-2-6-3-6-3-5-2-6-3-6-3-6-2-6-3-6-2-6-3-6-2-6-2-6-3-6-2-6-2-6-2-6-2M368 398l9-3 9-1 9-2 9-2 8-2 9-2 9-2 9-2 9-2 9-1 9-2 8-2 9-2 9-2 9-2 9-2 9-2 9-1 9-2 8-2 9-2 9-2 9-2 9-2 9-2 9-2 9-1 8-2 9-2 9-2 9-2 9-2 9-2 9-2 8-1 9-2 9-2 9-2 9-2 9-2M362 396l9-4 9-2 9-2 9-1 8-2 9-2 9-2 9-2 9-2 9-2 9-2 8-1 9-2 9-2 9-2 9-2 9-2 9-2 9-2 8-1 9-2 9-2 9-2 9-2 9-2 9-2 9-2 8-2 9-1 9-2 9-2 9-2 9-2 9-2 8-2 9-2 9-1 9-2 9-2 9-2M356 394l9-5 9-2 9-2 9-2 8-2 9-1 9-2 9-2 9-2 9-2 9-2 9-2 8-2 9-1 9-2 9-2 9-2 9-2 9-2 8-2 9-2 9-1 9-2 9-2 9-2 9-2 9-2 8-2 9-2 9-2 9-1 9-2 9-2 9-2 9-2 8-2 9-2 9-2 9-1 9-2M350 392l9-6 9-2 9-2 9-2 8-2 9-2 9-1 9-2 9-2 9-2 9-2 9-2 8-2 9-2 9-2 9-1 9-2 9-2 9-2 8-2 9-2 9-2 9-2 9-1 9-2 9-2 9-2 8-2 9-2 9-2 9-2 9-2 9-1 9-2 9-2 8-2 9-2 9-2 9-2 9-2M344 390l9-7 9-2 9-2 9-2 8-2 9-2 9-2 9-2 9-1 9-2 9-2 9-2 8-2 9-2 9-2 9-2 9-2 9-1 9-2 9-2 8-2 9-2 9-2 9-2 9-2 9-1 9-2 8-2 9-2 9-2 9-2 9-2 9-2 9-2 9-1 8-2 9-2 9-2 9-2 9-2M338 388l9-8 9-2 9-2 9-2 8-2 9-2 9-2 9-2 9-2 9-2 9-1 9-2 8-2 9-2 9-2 9-2 9-2 9-2 9-2 9-1 8-2 9-2 9-2 9-2 9-2 9-2 9-2 8-1 9-2 9-2 9-2 9-2 9-2 9-2 9-2 8-1 9-2 9-2 9-2 9-2M332 386l9-9 9-2 9-2 9-2 9-2 8-2 9-2 9-2 9-2 9-2 9-2 9-2 8-1 9-2 9-2 9-2 9-2 9-2 9-2 9-2 8-1 9-2 9-2 9-2 9-2 9-2 9-2 9-2 8-2 9-1 9-2 9-2 9-2 9-2 9-2 8-2 9-2 9-1 9-2 9-2M326 383l9-8 9-3 9-2 9-2 9-2 8-2 9-2 9-2 9-2 9-2 9-2 9-2 8-2 9-1 9-2 9-2 9-2 9-2 9-2 9-2 8-2 9-2 9-1 9-2 9-2 9-2 9-2 9-2 8-2 9-2 9-2 9-1 9-2 9-2 9-2 8-2 9-2 9-2 9-2 9-1M320 381l9-9 9-3 9-2 9-2 9-2 8-2 9-2 9-2 9-2 9-2 9-2 9-2 9-2 8-2 9-2 9-1 9-2 9-2 9-2 9-2 8-2 9-2 9-2 9-2 9-1 9-2 9-2 9-2 8-2 9-2 9-2 9-2 9-1 9-2 9-2 9-2 8-2 9-2 9-2 9-2M314 379l9-9 9-4 9-2 9-2 9-2 8-2 9-2 9-2 9-2 9-2 9-2 9-2 9-2 8-2 9-2 9-2 9-1 9-2 9-2 9-2 8-2 9-2 9-2 9-2 9-2 9-1 9-2 9-2 8-2 9-2 9-2 9-2 9-2 9-2 9-1 9-2 8-2 9-2 9-2 9-2M308 377l9-10 9-3 9-3 9-2 9-2 8-2 9-2 9-2 9-2 9-2 9-2 9-2 9-2 8-2 9-2 9-2 9-2 9-2 9-1 9-2 9-2 8-2 9-2 9-2 9-2 9-2 9-2 9-1 8-2 9-2 9-2 9-2 9-2 9-2 9-2 9-1 8-2 9-2 9-2 9-2M302 375l9-10 9-4 9-3 9-2 9-2 8-2 9-2 9-2 9-2 9-2 9-2 9-2 9-2 8-2 9-2 9-2 9-2 9-2 9-2 9-1 9-2 8-2 9-2 9-2 9-2 9-2 9-2 9-2 8-1 9-2 9-2 9-2 9-2 9-2 9-2 9-2 8-2 9-1 9-2 9-2M296 373l9-10 9-4 9-3 9-3 9-2 9-2 8-2 9-2 9-2 9-2 9-2 9-2 9-2 8-2 9-2 9-2 9-2 9-2 9-2 9-2 9-1 8-2 9-2 9-2 9-2 9-2 9-2 9-2 9-2 8-1 9-2 9-2 9-2 9-2 9-2 9-2 8-2 9-2 9-1 9-2M290 371l9-10 9-5 9-3 9-3 9-2 9-2 8-2 9-2 9-2 9-2 9-2 9-2 9-2 8-2 9-2 9-2 9-2 9-2 9-2 9-2 9-2 8-1 9-2 9-2 9-2 9-2 9-2 9-2 9-2 8-2 9-1 9-2 9-2 9-2 9-2 9-2 9-2 8-2 9-2 9-1M284 368l9-9 9-5 9-3 9-3 9-3 9-2 8-2 9-2 9-2 9-2 9-2 9-2 9-2 9-2 8-2 9-2 9-2 9-2 9-2 9-2 9-2 8-2 9-1 9-2 9-2 9-2 9-2 9-2 9-2 8-2 9-2 9-1 9-2 9-2 9-2 9-2 9-2 8-2 9-2 9-2M278 366l9-9 9-5 9-4 9-3 9-2 9-3 8-2 9-2 9-2 9-2 9-2 9-2 9-2 9-2 8-2 9-2 9-2 9-2 9-2 9-2 9-2 8-2 9-2 9-1 9-2 9-2 9-2 9-2 9-2 8-2 9-2 9-2 9-1 9-2 9-2 9-2 9-2 8-2 9-2 9-2M272 364l9-10 9-5 9-3 9-3 9-3 9-2 8-3 9-2 9-2 9-2 9-2 9-2 9-2 9-2 8-2 9-2 9-2 9-2 9-2 9-2 9-2 9-2 8-2 9-1 9-2 9-2 9-2 9-2 9-2 8-2 9-2 9-2 9-1 9-2 9-2 9-2 9-2 8-2 9-2 9-2M266 362l9-10 9-5 9-4 9-3 9-3 9-2 8-3 9-2 9-2 9-2 9-2 9-2 9-2 9-2 8-2 9-2 9-2 9-2 9-2 9-2 9-2 9-2 8-2 9-1 9-2 9-2 9-2 9-2 9-2 8-2 9-2 9-2 9-2 9-1 9-2 9-2 9-2 8-2 9-2 9-2M260 360l9-10 9-5 9-4 9-3 9-3 9-3 9-2 8-3 9-2 9-2 9-2 9-2 9-2 9-2 8-2 9-2 9-2 9-2 9-2 9-2 9-2 9-2 8-2 9-1 9-2 9-2 9-2 9-2 9-2 9-2 8-2 9-2 9-2 9-1 9-2 9-2 9-2 8-2 9-2 9-2M254 358l9-10 9-5 9-4 9-4 9-3 9-2 9-3 8-2 9-2 9-3 9-2 9-2 9-2 9-2 8-2 9-2 9-2 9-2 9-2 9-2 9-2 9-2 8-2 9-1 9-2 9-2 9-2 9-2 9-2 9-2 8-2 9-2 9-2 9-1 9-2 9-2 9-2 9-2 8-2 9-2M248 356l9-10 9-5 9-5 9-3 9-3 9-3 9-2 8-3 9-2 9-2 9-3 9-2 9-2 9-2 9-2 8-2 9-2 9-2 9-2 9-2 9-2 9-2 8-1 9-2 9-2 9-2 9-2 9-2 9-2 9-2 8-2 9-2 9-1 9-2 9-2 9-2 9-2 9-2 8-2 9-2M242 353l9-9 9-5 9-5 9-3 9-4 9-2 9-3 8-3 9-2 9-2 9-2 9-2 9-3 9-2 9-2 8-2 9-2 9-2 9-2 9-2 9-2 9-1 8-2 9-2 9-2 9-2 9-2 9-2 9-2 9-2 8-2 9-2 9-1 9-2 9-2 9-2 9-2 9-2 8-2 9-2M237 351l8-9 9-6 9-4 9-4 9-3 9-3 9-3 8-2 9-2 9-3 9-2 9-2 9-2 9-2 9-2 8-2 9-2 9-2 9-2 9-2 9-2 9-2 9-2 8-2 9-2 9-2 9-2 9-2 9-2 9-2 8-2 9-1 9-2 9-2 9-2 9-2 9-2 9-2 8-2 9-2M231 349l8-9 9-6 9-4 9-4 9-3 9-3 9-3 8-3 9-2 9-2 9-3 9-2 9-2 9-2 9-2 8-2 9-2 9-2 9-2 9-2 9-2 9-2 9-2 8-2 9-2 9-2 9-2 9-2 9-2 9-2 9-1 8-2 9-2 9-2 9-2 9-2 9-2 9-2 8-2 9-1M225 347l8-9 9-6 9-4 9-4 9-4 9-3 9-3 9-2 8-3 9-2 9-2 9-3 9-2 9-2 9-2 8-2 9-2 9-2 9-2 9-2 9-2 9-2 9-2 8-2 9-2 9-2 9-2 9-2 9-1 9-2 9-2 8-2 9-2 9-2 9-2 9-2 9-2 9-2 8-1 9-2M219 345l8-9 9-6 9-4 9-4 9-4 9-3 9-3 9-3 8-2 9-3 9-2 9-2 9-2 9-3 9-2 8-2 9-2 9-2 9-2 9-2 9-2 9-2 9-2 8-2 9-2 9-2 9-1 9-2 9-2 9-2 9-2 8-2 9-2 9-2 9-2 9-2 9-1 9-2 9-2 8-2M213 343l8-9 9-6 9-4 9-5 9-3 9-3 9-3 9-3 8-3 9-2 9-2 9-3 9-2 9-2 9-2 9-2 8-2 9-3 9-2 9-2 9-2 9-1 9-2 8-2 9-2 9-2 9-2 9-2 9-2 9-2 9-2 8-2 9-2 9-2 9-1 9-2 9-2 9-2 9-2 8-2M207 340l8-8 9-6 9-5 9-4 9-3 9-4 9-3 9-2 8-3 9-3 9-2 9-2 9-3 9-2 9-2 9-2 8-2 9-2 9-2 9-2 9-2 9-2 9-2 9-2 8-2 9-2 9-2 9-2 9-2 9-2 9-2 8-2 9-1 9-2 9-2 9-2 9-2 9-2 9-2 8-2M201 338l9-7 8-7 9-5 9-4 9-3 9-4 9-3 9-3 8-2 9-3 9-2 9-3 9-2 9-2 9-2 9-3 8-2 9-2 9-2 9-2 9-2 9-2 9-2 9-2 8-2 9-2 9-2 9-2 9-2 9-1 9-2 8-2 9-2 9-2 9-2 9-2 9-2 9-2 9-2 8-1M195 336l9-7 8-7 9-5 9-4 9-4 9-3 9-3 9-3 8-3 9-2 9-3 9-2 9-3 9-2 9-2 9-2 8-2 9-2 9-2 9-3 9-2 9-2 9-2 9-1 8-2 9-2 9-2 9-2 9-2 9-2 9-2 9-2 8-2 9-2 9-2 9-2 9-1 9-2 9-2 8-2M189 334l9-7 8-6 9-6 9-4 9-4 9-3 9-3 9-3 9-3 8-3 9-2 9-3 9-2 9-2 9-3 9-2 8-2 9-2 9-2 9-2 9-2 9-2 9-2 9-2 8-2 9-2 9-2 9-2 9-2 9-2 9-2 9-2 8-2 9-1 9-2 9-2 9-2 9-2 9-2 8-2M183 332l9-7 8-6 9-6 9-4 9-4 9-3 9-4 9-3 9-2 8-3 9-3 9-2 9-2 9-3 9-2 9-2 9-2 8-3 9-2 9-2 9-2 9-2 9-2 9-2 8-2 9-2 9-2 9-2 9-1 9-2 9-2 9-2 8-2 9-2 9-2 9-2 9-2 9-2 9-2 9-1M177 330l9-7 8-6 9-5 9-5 9-4 9-3 9-4 9-3 9-3 8-2 9-3 9-2 9-3 9-2 9-2 9-3 9-2 8-2 9-2 9-2 9-2 9-2 9-2 9-2 8-2 9-2 9-2 9-2 9-2 9-2 9-2 9-2 8-2 9-2 9-2 9-1 9-2 9-2 9-2 9-2M171 328l9-7 8-6 9-5 9-5 9-4 9-4 9-3 9-3 9-3 8-3 9-2 9-3 9-2 9-3 9-2 9-2 9-2 8-2 9-3 9-2 9-2 9-2 9-2 9-2 9-2 8-2 9-2 9-2 9-2 9-2 9-1 9-2 8-2 9-2 9-2 9-2 9-2 9-2 9-2 9-2M165 325l9-6 9-6 8-5 9-5 9-4 9-4 9-3 9-3 9-3 8-3 9-3 9-2 9-3 9-2 9-2 9-2 9-3 8-2 9-2 9-2 9-2 9-2 9-2 9-2 9-2 8-2 9-2 9-2 9-2 9-2 9-2 9-2 8-2 9-2 9-2 9-2 9-1 9-2 9-2 9-2M159 323l9-6 9-6 8-5 9-5 9-4 9-4 9-3 9-3 9-3 8-3 9-3 9-2 9-3 9-2 9-3 9-2 9-2 8-2 9-2 9-3 9-2 9-2 9-2 9-2 9-2 8-2 9-2 9-2 9-2 9-2 9-1 9-2 9-2 8-2 9-2 9-2 9-2 9-2 9-2 9-2M153 321l9-6 9-6 8-5 9-5 9-4 9-4 9-3 9-3 9-3 9-3 8-3 9-3 9-2 9-2 9-3 9-2 9-2 8-3 9-2 9-2 9-2 9-2 9-2 9-2 9-2 8-2 9-2 9-2 9-2 9-2 9-2 9-2 9-2 8-2 9-2 9-2 9-1 9-2 9-2 9-2M147 319l9-6 9-6 8-5 9-5 9-4 9-4 9-3 9-3 9-3 9-3 8-3 9-3 9-2 9-3 9-2 9-2 9-3 9-2 8-2 9-2 9-2 9-2 9-2 9-2 9-3 8-2 9-1 9-2 9-2 9-2 9-2 9-2 9-2 8-2 9-2 9-2 9-2 9-2 9-2 9-2M141 317l9-6 9-6 8-5 9-5 9-4 9-4 9-3 9-3 9-3 9-3 8-3 9-3 9-2 9-3 9-2 9-3 9-2 9-2 8-2 9-3 9-2 9-2 9-2 9-2 9-2 8-2 9-2 9-2 9-2 9-2 9-2 9-2 9-2 8-1 9-2 9-2 9-2 9-2 9-2 9-2M135 315l9-7 9-5 8-5 9-5 9-4 9-4 9-3 9-3 9-4 9-2 8-3 9-3 9-3 9-2 9-3 9-2 9-2 9-2 8-3 9-2 9-2 9-2 9-2 9-2 9-2 9-2 8-2 9-2 9-2 9-2 9-2 9-2 9-2 8-2 9-2 9-2 9-2 9-1 9-2 9-2M129 313l9-7 9-5 9-5 8-4 9-5 9-3 9-4 9-3 9-4 9-3 8-2 9-3 9-3 9-2 9-3 9-2 9-2 9-3 8-2 9-2 9-2 9-2 9-2 9-2 9-2 9-2 8-2 9-2 9-2 9-2 9-2 9-2 9-2 8-2 9-2 9-2 9-2 9-2 9-2 9-2M123 310l9-6 9-5 9-5 8-4 9-5 9-3 9-4 9-3 9-4 9-3 9-2 8-3 9-3 9-2 9-3 9-2 9-3 9-2 8-2 9-2 9-2 9-2 9-3 9-2 9-2 9-2 8-2 9-2 9-2 9-2 9-2 9-2 9-1 9-2 8-2 9-2 9-2 9-2 9-2 9-2M117 308l9-6 9-5 9-5 8-4 9-4 9-4 9-4 9-3 9-3 9-4 9-2 8-3 9-3 9-2 9-3 9-2 9-3 9-2 8-2 9-2 9-3 9-2 9-2 9-2 9-2 9-2 8-2 9-2 9-2 9-2 9-2 9-2 9-2 9-2 8-2 9-1 9-2 9-2 9-2 9-2M111 306l9-6 9-5 9-5 8-4 9-4 9-4 9-4 9-3 9-3 9-3 9-3 8-3 9-3 9-2 9-3 9-2 9-3 9-2 9-2 8-2 9-3 9-2 9-2 9-2 9-2 9-2 8-2 9-2 9-2 9-2 9-2 9-2 9-2 9-2 8-2 9-2 9-2 9-1 9-2 9-2M105 304l9-6 9-5 9-5 8-4 9-4 9-4 9-4 9-3 9-3 9-3 9-3 8-3 9-3 9-2 9-3 9-2 9-3 9-2 9-2 8-3 9-2 9-2 9-2 9-2 9-2 9-2 8-2 9-2 9-2 9-2 9-2 9-2 9-2 9-2 8-2 9-2 9-2 9-2 9-2 9-1"/><path transform="scale(.5)" stroke="#000" stroke-width="6.2" stroke-linecap="round" d="M201 338h0M202 337h0M203 336h0M205 335h0M206 334h0M207 333h0M208 332h0M209 331h0M210 330h0M211 329h0M212 329h0M213 328h0M214 327h0M215 326h0M216 326h0M217 325h0M218 324h0M219 324h0M221 323h0M222 323h0M223 322h0M224 321h0M225 321h0M226 320h0M227 320h0M228 319h0M229 319h0M230 318h0M231 318h0M232 317h0M233 317h0M234 316h0M235 316h0M236 315h0M238 315h0M239 314h0M240 314h0M241 313h0M242 313h0M243 312h0M244 312h0M245 312h0M246 311h0M247 311h0M248 310h0M249 310h0M250 309h0M251 309h0M252 309h0M254 308h0M255 308h0M256 308h0M257 307h0M258 307h0M259 306h0M260 306h0M261 306h0M262 305h0M263 305h0M264 305h0M265 304h0M266 304h0M267 304h0M268 303h0M269 303h0M271 303h0M272 302h0M273 302h0M274 302h0M275 301h0M276 301h0M277 301h0M278 300h0M279 300h0M280 300h0M249 355h0M250 353h0M251 352h0M252 351h0M253 350h0M254 349h0M256 348h0M257 347h0M258 346h0M259 345h0M260 345h0M261 344h0M262 343h0M263 342h0M264 342h0M265 341h0M266 341h0M267 340h0M268 339h0M269 339h0M270 338h0M272 338h0M273 337h0M274 337h0M275 336h0M276 336h0M277 336h0M278 335h0M279 335h0M280 334h0M281 334h0M282 333h0M283 333h0M284 333h0M285 332h0M286 332h0M287 332h0M289 331h0M290 331h0M291 331h0M292 330h0M293 330h0M294 329h0M295 329h0M296 329h0M297 328h0M298 328h0M299 328h0M300 327h0M301 327h0M302 327h0M303 327h0M305 326h0M306 326h0M307 326h0M308 325h0M309 325h0M310 325h0M311 324h0M312 324h0M313 324h0M314 324h0M315 323h0M316 323h0M317 323h0M318 322h0M319 322h0M320 322h0M322 322h0M323 321h0M324 321h0M325 321h0M326 320h0M327 320h0M328 320h0M297 371h0M298 370h0M299 368h0M300 367h0M301 366h0M302 365h0M303 364h0M304 363h0M306 363h0M307 362h0M308 362h0M309 361h0M310 360h0M311 360h0M312 360h0M313 359h0M314 359h0M315 358h0M316 358h0M317 358h0M318 357h0M319 357h0M320 357h0M321 356h0M323 356h0M324 356h0M325 355h0M326 355h0M327 355h0M328 354h0M329 354h0M330 354h0M331 353h0M332 353h0M333 353h0M334 353h0M335 352h0M336 352h0M337 352h0M339 351h0M340 351h0M341 351h0M342 351h0M343 350h0M344 350h0M345 350h0M346 350h0M347 349h0M348 349h0M349 349h0M350 349h0M351 348h0M352 348h0M353 348h0M354 348h0M356 347h0M357 347h0M358 347h0M359 347h0M360 346h0M361 346h0M362 346h0M363 346h0M364 345h0M365 345h0M366 345h0M367 345h0M368 344h0M369 344h0M370 344h0M372 344h0M373 343h0M374 343h0M375 343h0M376 343h0M345 388h0M346 386h0M347 385h0M348 385h0M349 384h0M350 384h0M351 384h0M352 383h0M353 383h0M354 383h0M355 382h0M357 382h0M358 382h0M359 382h0M360 381h0M361 381h0M362 381h0M363 381h0M364 380h0M365 380h0M366 380h0M367 380h0M368 379h0M369 379h0M370 379h0M371 379h0M372 379h0M374 378h0M375 378h0M376 378h0M377 378h0M378 377h0M379 377h0M380 377h0M381 377h0M382 376h0M383 376h0M384 376h0M385 376h0M386 376h0M387 375h0M388 375h0M390 375h0M391 375h0M392 374h0M393 374h0M394 374h0M395 374h0M396 374h0M397 373h0M398 373h0M399 373h0M400 373h0M401 372h0M402 372h0M403 372h0M404 372h0M405 371h0M407 371h0M408 371h0M409 371h0M410 371h0M411 370h0M412 370h0M413 370h0M414 370h0M415 369h0M416 369h0M417 369h0M418 369h0M419 369h0M420 368h0M421 368h0M423 368h0M424 368h0M425 367h0M426 367h0M427 367h0M428 367h0M429 366h0M430 366h0M431 366h0M432 366h0M367 395h0M369 395h0M371 394h0M373 394h0M376 393h0M378 393h0M380 393h0M382 392h0M385 392h0M387 391h0M389 391h0M391 390h0M393 390h0M396 389h0M398 389h0M400 388h0M402 388h0M405 387h0M407 387h0M409 386h0M411 386h0M413 385h0M416 385h0M418 385h0M420 384h0M422 384h0M424 383h0M427 383h0M429 382h0M431 382h0M433 381h0M436 381h0M438 380h0M440 380h0M442 379h0M444 379h0M447 378h0M449 378h0M451 377h0M453 377h0M454 377h0M476 372h0M498 368h0M520 363h0M542 358h0M565 353h0M587 349h0M609 344h0M631 339h0M653 335h0M675 330h0M698 325h0M720 321h0M385 341h0M429 331h0M474 321h0M518 312h0M562 303h0M607 293h0M651 284h0M337 318h0M382 307h0M426 297h0M470 288h0M515 278h0M559 269h0M603 259h0M289 297h0M334 286h0M378 275h0M422 265h0M467 256h0M511 246h0M555 237h0M242 279h0M286 266h0M330 255h0M375 245h0M419 235h0M463 225h0M508 216h0M194 263h0M238 249h0M282 237h0M327 227h0M371 217h0M415 207h0M460 198h0M127 291h0M149 280h0M172 271h0M699 309h0M651 284h0M603 259h0M555 237h0M508 216h0"/><g transform="scale(.5)" stroke-width=".6"><path fill="#5050e1" stroke="#5050e1" d="M1173 398l9-8-6-8-9+14zM1167 396l9-14-6-9-9+21zM1161 394l9-21-6-8-9+27zM1155 392l9-27-6-7-9+32zM1149 390l9-32-6-8-9+38zM1143 388l9-38-6-7-9+43zM1137 386l9-43-6-6-9+46zM1131 383l9-46-6-6-9+50zM1125 381l9-50-6-6-9+54zM1119 379l9-54-6-5-9+57zM1113 377l9-57-6-4-9+59zM1107 375l9-59-6-5-9+62zM1101 373l9-62-6-3-9+63zM1095 371l9-63-6-4-9+64zM1089 368l9-64-6-3-9+65zM1083 366l9-65-6-3-9+66zM1077 364l9-66-6-2-9+66zM1071 362l9-66-6-3-9+67zM1065 360l9-67-6-2-9+67zM1059 358l9-67-6-2-9+67zM1053 356l9-67-6-1-9+65zM1047 353l9-65-6-2-8+65zM1042 351l8-65-6-1-8+64zM1036 349l8-64-6-2-8+64zM1030 347l8-64-6-1-8+63zM1024 345l8-63-6-1-8+62zM1018 343l8-62-6-1-8+60zM1012 340l8-60-5-2-9+60zM1006 338l9-60-6-1-9+59zM1000 336l9-59-6-1-9+58zM994 334l9-58-6-1-9+57zM988 332l9-57-6-1-9+56zM982 330l9-56-6-1-9+55zM976 328l9-55-6-1-9+53zM970 325l9-53-6-1-9+52zM964 323l9-52-6-1-9+51zM958 321l9-51-6-1-9+50zM952 319l9-50-6-1-9+49zM946 317l9-49-6-1-9+48zM940 315l9-48-6-1-9+47zM934 313l9-47-6-1-9+45zM928 310l9-45-6-1-9+44zM922 308l9-44-6-1-9+43zM916 306l9-43-6-1-9+42z"/><path fill="#5252e3" stroke="#5252e3" d="M1182 390l9-2-6-8-9+2zM1191 388l9-2-6-8-9+2zM1200 386l9-2-6-8-9+2zM1209 384l8-1-6-9-8+2zM1217 383l9-2-6-9-9+2zM1226 381l9-2-6-9-9+2zM1235 379l9-2-6-9-9+2zM1244 377l9-2-6-8-9+1zM1253 375l9-2-6-8-9+2zM1262 373l9-2-6-8-9+2zM1271 371l8-2-6-8-8+2zM1279 369l9-1-6-9-9+2zM1288 368l9-2-6-9-9+2zM1297 366l9-2-6-9-9+2zM1306 364l9-2-6-9-9+2zM1315 362l9-2-6-9-9+2zM1324 360l9-2-6-8-9+1zM1333 358l9-2-6-8-9+2zM1342 356l8-2-6-8-8+2zM1350 354l9-1-6-9-9+2zM1359 353l9-2-6-9-9+2zM1368 351l9-2-6-9-9+2zM1377 349l9-2-6-9-9+2zM1386 347l9-2-6-9-9+2zM1395 345l9-2-6-8-9+1zM1404 343l9-2-6-8-9+2zM1413 341l8-2-6-8-8+2zM1421 339l9-2-6-8-9+2zM1430 337l9-1-6-9-9+2zM1439 336l9-2-6-9-9+2zM1448 334l9-2-6-9-9+2zM1457 332l9-2-6-9-9+2zM1466 330l9-2-6-9-9+2zM1475 328l8-2-6-8-8+1zM1483 326l9-2-6-8-9+2zM1492 324l9-2-6-8-9+2zM1501 322l9-1-6-9-9+2zM1510 321l9-2-6-9-9+2zM1519 319l9-2-6-9-9+2z"/><path fill="#5657e7" stroke="#5657e7" d="M1176 382l9-2-6-9-9+2zM1185 380l9-2-6-9-9+2zM1194 378l9-2-6-9-9+2zM1203 376l8-2-6-9-8+2zM1211 374l9-2-6-8-9+1zM1220 372l9-2-6-8-9+2zM1229 370l9-2-6-8-9+2zM1238 368l9-1-6-9-9+2zM1247 367l9-2-6-9-9+2zM1256 365l9-2-6-9-9+2zM1265 363l8-2-5-9-9+2zM1273 361l9-2-6-9-8+2zM1282 359l9-2-6-8-9+1zM1291 357l9-2-6-8-9+2zM1300 355l9-2-6-8-9+2zM1309 353l9-2-6-8-9+2zM1318 351l9-1-6-9-9+2zM1327 350l9-2-6-9-9+2zM1336 348l8-2-6-9-8+2zM1344 346l9-2-6-9-9+2zM1353 344l9-2-6-9-9+2zM1362 342l9-2-6-8-9+1zM1371 340l9-2-6-8-9+2zM1380 338l9-2-6-8-9+2zM1389 336l9-1-6-9-9+2zM1398 335l9-2-6-9-9+2zM1407 333l8-2-6-9-8+2zM1415 331l9-2-6-9-9+2zM1424 329l9-2-6-9-9+2zM1433 327l9-2-6-8-9+1zM1442 325l9-2-6-8-9+2zM1451 323l9-2-6-8-9+2zM1460 321l9-2-6-8-9+2zM1469 319l8-1-5-9-9+2zM1477 318l9-2-6-9-8+2zM1486 316l9-2-6-9-9+2zM1495 314l9-2-6-9-9+2zM1504 312l9-2-6-8-9+1zM1513 310l9-2-6-8-9+2z"/><path fill="#585ae9" stroke="#585ae9" d="M1170 373l9-2-6-8-9+2zM1179 371l9-2-6-8-9+2zM1188 369l9-2-6-8-9+2zM1197 367l8-2-6-8-8+2zM1205 365l9-1-6-9-9+2zM1214 364l9-2-6-9-9+2zM1223 362l9-2-6-9-9+2zM1232 360l9-2-6-9-9+2zM1241 358l9-2-6-8-9+1zM1250 356l9-2-6-8-9+2zM1259 354l9-2-6-8-9+2zM1268 352l8-2-6-8-8+2zM1276 350l9-1-6-9-9+2zM1285 349l9-2-6-9-9+2zM1294 347l9-2-6-9-9+2zM1303 345l9-2-6-9-9+2zM1312 343l9-2-6-9-9+2zM1321 341l9-2-6-8-9+1zM1330 339l8-2-6-8-8+2zM1338 337l9-2-6-8-9+2zM1347 335l9-2-6-8-9+2zM1356 333l9-1-6-9-9+2zM1365 332l9-2-6-9-9+2zM1374 330l9-2-6-9-9+2zM1383 328l9-2-6-9-9+2zM1392 326l9-2-6-8-9+1zM1401 324l8-2-6-8-8+2zM1409 322l9-2-6-8-9+2zM1418 320l9-2-6-8-9+2zM1427 318l9-1-6-9-9+2zM1436 317l9-2-6-9-9+2zM1445 315l9-2-6-9-9+2zM1454 313l9-2-6-9-9+2zM1463 311l9-2-6-9-9+2zM1472 309l8-2-6-8-8+1zM1480 307l9-2-6-8-9+2zM1489 305l9-2-6-8-9+2zM1498 303l9-1-6-9-9+2zM1507 302l9-2-6-9-9+2z"/><path fill="#5a5ceb" stroke="#5a5ceb" d="M1164 365l9-2-6-8-9+3zM1173 363l9-2-6-8-9+2z"/><path fill="#657ded" stroke="#657ded" d="M1158 358l9-3-6-8-9+3zM1167 355l9-2-6-9-9+3zM1176 353l9-2-6-9-9+2zM1185 351l8-2-6-9-8+2zM1193 349l9-2-6-9-9+2zM1202 347l9-2-6-9-9+2zM1211 345l9-2-6-9-9+2zM1220 343l9-2-6-9-9+2zM1229 341l9-2-6-8-9+1zM1238 339l9-2-6-8-9+2zM1247 337l9-2-6-8-9+2zM1256 335l8-2-6-8-8+2zM1264 333l9-2-6-8-9+2zM1273 331l9-1-6-9-9+2zM1282 330l9-2-6-9-9+2zM1291 328l9-2-6-9-9+2zM1300 326l9-2-6-9-9+2zM1309 324l9-2-6-8-9+1zM1318 322l9-2-6-8-9+2zM1327 320l8-2-6-8-8+2zM1335 318l9-2-6-8-9+2zM1344 316l9-1-6-9-9+2zM1353 315l9-2-6-9-9+2zM1362 313l9-2-6-9-9+2zM1371 311l9-2-6-9-9+2zM1380 309l9-2-6-8-9+1zM1389 307l8-2-6-8-8+2zM1397 305l9-2-6-8-9+2zM1406 303l9-2-6-8-9+2zM1415 301l9-1-6-9-9+2zM1424 300l9-2-6-9-9+2zM1433 298l9-2-6-9-9+2zM1442 296l9-2-6-9-9+2zM1451 294l9-2-6-8-9+1zM1460 292l8-2-6-8-8+2zM1468 290l9-2-6-8-9+2zM1477 288l9-2-6-8-9+2zM1486 286l9-2-6-8-9+2zM1495 284l9-1-6-9-9+2z"/><path fill="#6b8eee" stroke="#6b8eee" d="M1152 350l9-3-6-8-9+4zM1161 347l9-3-6-8-9+3zM1170 344l9-2-6-8-9+2zM1179 342l8-2-5-8-9+2zM1187 340l9-2-6-8-8+2zM1196 338l9-2-6-8-9+2zM1205 336l9-2-6-8-9+2zM1214 334l9-2-6-8-9+2zM1223 332l9-1-6-9-9+2zM1232 331l9-2-6-9-9+2zM1241 329l9-2-6-9-9+2zM1250 327l8-2-6-9-8+2zM1258 325l9-2-6-8-9+1zM1267 323l9-2-6-8-9+2zM1276 321l9-2-6-8-9+2zM1285 319l9-2-6-8-9+2zM1294 317l9-2-6-8-9+2zM1303 315l9-1-6-9-9+2zM1312 314l9-2-6-9-9+2zM1321 312l8-2-6-9-8+2zM1329 310l9-2-6-8-9+1zM1338 308l9-2-6-8-9+2zM1347 306l9-2-6-8-9+2zM1356 304l9-2-6-8-9+2zM1365 302l9-2-6-8-9+2zM1374 300l9-1-6-9-9+2zM1383 299l8-2-5-9-9+2zM1391 297l9-2-6-9-8+2zM1400 295l9-2-6-9-9+2zM1409 293l9-2-6-8-9+1zM1418 291l9-2-6-8-9+2zM1427 289l9-2-6-8-9+2zM1436 287l9-2-6-8-9+2zM1445 285l9-1-6-9-9+2zM1454 284l8-2-6-9-8+2zM1462 282l9-2-6-9-9+2zM1471 280l9-2-6-9-9+2zM1480 278l9-2-6-8-9+1zM1489 276l9-2-6-8-9+2z"/><path fill="#709eef" stroke="#709eef" d="M1146 343l9-4-6-7-9+5zM937 265l9-34-6-1-9+34zM931 264l9-34-6-1-9+34zM925 263l9-34-6+0-9+33zM1155 339l9-3-6-7-9+3zM1164 336l9-2-6-8-9+3z"/><path fill="#76aff0" stroke="#76aff0" d="M1140 337l9-5-6-7-9+6zM961 269l9-35-6-1-9+35zM955 268l9-35-6-1-9+35zM949 267l9-35-6-1-9+35zM943 266l9-35-6+0-9+34zM1149 332l9-3-6-8-9+4zM1173 334l9-2-6-8-9+2zM1182 332l8-2-6-8-8+2zM1190 330l9-2-6-8-9+2zM1199 328l9-2-6-8-9+2zM1208 326l9-2-6-8-9+2zM1217 324l9-2-6-8-9+2zM1226 322l9-2-6-8-9+2zM1235 320l9-2-6-8-9+2zM1244 318l8-2-6-8-8+2zM1252 316l9-1-6-9-9+2zM1261 315l9-2-6-9-9+2zM1270 313l9-2-6-9-9+2zM1279 311l9-2-6-8-9+1zM1288 309l9-2-6-8-9+2zM1297 307l9-2-6-8-9+2zM1306 305l9-2-6-8-9+2zM1315 303l8-2-6-8-8+2zM1323 301l9-1-6-9-9+2zM1332 300l9-2-6-9-9+2zM1341 298l9-2-6-9-9+2zM1350 296l9-2-6-8-9+1zM1359 294l9-2-6-8-9+2zM1368 292l9-2-6-8-9+2zM1377 290l9-2-6-8-9+2zM1386 288l8-2-6-8-8+2zM1394 286l9-2-6-8-9+2zM1403 284l9-1-6-9-9+2zM1412 283l9-2-6-9-9+2zM1421 281l9-2-6-9-9+2zM1430 279l9-2-6-8-9+1zM1439 277l9-2-6-8-9+2zM1448 275l8-2-6-8-8+2zM1456 273l9-2-6-8-9+2zM1465 271l9-2-6-8-9+2zM1474 269l9-1-6-9-9+2zM1483 268l9-2-6-9-9+2z"/><path fill="#7abaee" stroke="#7abaee" d="M1134 331l9-6-6-7-9+7zM1128 325l9-7-6-7-9+9zM985 273l8-35-5-1-9+35zM979 272l9-35-6-1-9+35zM973 271l9-35-6-1-9+35zM967 270l9-35-6-1-9+35zM1143 325l9-4-6-7-9+4zM1158 329l9-3-6-8-9+3zM1167 326l9-2-6-8-9+2zM1176 324l8-2-6-8-8+2zM1184 322l9-2-6-8-9+2zM1193 320l9-2-6-8-9+2zM1202 318l9-2-6-8-9+2zM1211 316l9-2-6-8-9+2zM1220 314l9-2-6-8-9+2zM1229 312l9-2-6-8-9+2zM1238 310l8-2-5-8-9+2zM1246 308l9-2-6-8-8+2zM1255 306l9-2-6-8-9+2zM1264 304l9-2-6-8-9+2zM1273 302l9-1-6-9-9+2zM1282 301l9-2-6-9-9+2zM1291 299l9-2-6-9-9+2zM1300 297l9-2-6-8-9+1zM1309 295l8-2-6-8-8+2zM1317 293l9-2-6-8-9+2zM1326 291l9-2-6-8-9+2zM1335 289l9-2-6-8-9+2zM1344 287l9-1-6-9-9+2zM1353 286l9-2-6-9-9+2zM1362 284l9-2-6-9-9+2zM1371 282l9-2-6-8-9+1zM1380 280l8-2-6-8-8+2zM1388 278l9-2-6-8-9+2zM1397 276l9-2-6-8-9+2zM1406 274l9-2-6-8-9+2zM1415 272l9-2-6-8-9+2zM1424 270l9-1-6-9-9+2zM1433 269l9-2-6-9-9+2zM1442 267l8-2-5-8-9+1zM1450 265l9-2-6-8-8+2zM1459 263l9-2-6-8-9+2zM1468 261l9-2-6-8-9+2zM1477 259l9-2-6-8-9+2z"/><path fill="#7fc4ec" stroke="#7fc4ec" d="M1122 320l9-9-6-6-9+11zM1116 316l9-11-6-6-9+12zM1009 277l8-34-6-1-8+34zM1003 276l8-34-6-2-8+35zM997 275l8-35-6-1-8+35zM991 274l8-35-6-1-8+35zM1137 318l9-4-6-8-9+5zM1152 321l9-3-6-7-9+3zM1161 318l9-2-6-8-9+3zM1170 316l8-2-6-8-8+2zM1178 314l9-2-6-8-9+2zM1187 312l9-2-6-8-9+2zM1196 310l9-2-6-9-9+3zM1205 308l9-2-6-8-9+1zM1214 306l9-2-6-8-9+2zM1223 304l9-2-6-8-9+2zM1232 302l9-2-6-8-9+2zM1241 300l8-2-6-8-8+2zM1249 298l9-2-6-8-9+2zM1258 296l9-2-6-8-9+2zM1267 294l9-2-6-8-9+2zM1276 292l9-2-6-8-9+2zM1285 290l9-2-6-8-9+2zM1294 288l9-1-6-9-9+2zM1303 287l8-2-6-9-8+2zM1311 285l9-2-6-8-9+1zM1320 283l9-2-6-8-9+2zM1329 281l9-2-6-8-9+2zM1338 279l9-2-6-8-9+2zM1347 277l9-2-6-8-9+2zM1356 275l9-2-6-8-9+2zM1365 273l9-1-6-9-9+2zM1374 272l8-2-6-9-8+2zM1382 270l9-2-6-8-9+1zM1391 268l9-2-6-8-9+2zM1400 266l9-2-6-8-9+2zM1409 264l9-2-6-8-9+2zM1418 262l9-2-6-8-9+2zM1427 260l9-2-6-8-9+2zM1436 258l9-1-6-9-9+2zM1445 257l8-2-6-9-8+2zM1453 255l9-2-6-8-9+1zM1462 253l9-2-6-8-9+2zM1471 251l9-2-6-8-9+2z"/><path fill="#83cfea" stroke="#83cfea" d="M1110 311l9-12-6-5-9+14zM1104 308l9-14-6-6-9+16zM1098 304l9-16-6-4-9+17zM1038 283l9-30-6-2-9+31zM1032 282l9-31-6-3-9+33zM1026 281l9-33-6-1-9+33zM1020 280l9-33-6-2-8+33zM1015 278l8-33-6-2-8+34zM1131 311l9-5-6-6-9+5zM1146 314l9-3-6-8-9+3zM1155 311l9-3-6-8-9+3zM1164 308l8-2-6-8-8+2zM1172 306l9-2-6-8-9+2z"/><path fill="#88d9e8" stroke="#88d9e8" d="M1092 301l9-17-6-5-9+19zM1086 298l9-19-6-4-9+21zM1080 296l9-21-6-4-9+22zM1074 293l9-22-6-4-9+24zM1068 291l9-24-6-3-9+25zM1062 289l9-25-6-3-9+27zM1056 288l9-27-6-3-9+28zM1050 286l9-28-6-3-9+30zM1044 285l9-30-6-2-9+30zM1125 305l9-5-6-7-9+6zM1140 306l9-3-6-7-9+4zM1149 303l9-3-6-7-9+3zM1181 304l9-2-6-8-9+2zM1190 302l9-3-6-8-9+3zM1199 299l9-1-6-9-9+2zM1208 298l9-2-6-9-9+2zM1217 296l9-2-6-9-9+2zM1226 294l9-2-6-8-9+1zM1235 292l8-2-6-8-8+2zM1243 290l9-2-6-8-9+2zM1252 288l9-2-6-8-9+2zM1261 286l9-2-6-8-9+2zM1270 284l9-2-6-8-9+2zM1279 282l9-2-6-8-9+2zM1288 280l9-2-6-8-9+2zM1297 278l8-2-5-8-9+2zM1305 276l9-1-6-9-8+2zM1314 275l9-2-6-8-9+1zM1323 273l9-2-6-8-9+2zM1332 271l9-2-6-8-9+2zM1341 269l9-2-6-8-9+2zM1350 267l9-2-6-8-9+2zM1359 265l9-2-6-8-9+2zM1368 263l8-2-6-8-8+2zM1376 261l9-1-6-9-9+2zM1385 260l9-2-6-9-9+2zM1394 258l9-2-6-8-9+1zM1403 256l9-2-6-8-9+2zM1412 254l9-2-6-8-9+2zM1421 252l9-2-6-8-9+2zM1430 250l9-2-6-8-9+2zM1439 248l8-2-6-8-8+2zM1447 246l9-1-6-9-9+2zM1456 245l9-2-6-9-9+2zM1465 243l9-2-6-8-9+1z"/><path fill="#8ce4e6" stroke="#8ce4e6" d="M1119 299l9-6-6-6-9+7zM1134 300l9-4-6-7-9+4zM1143 296l9-3-6-7-9+3zM1158 300l8-2-6-8-8+3zM1166 298l9-2-6-8-9+2zM1175 296l9-2-6-8-9+2zM1184 294l9-3-6-7-9+2zM1193 291l9-2-6-7-9+2zM1202 289l9-2-6-8-9+3zM1211 287l9-2-6-8-9+2zM1220 285l9-1-6-8-9+1zM1229 284l8-2-6-8-8+2zM1237 282l9-2-6-8-9+2zM1246 280l9-2-6-8-9+2zM1255 278l9-2-6-8-9+2zM1264 276l9-2-6-8-9+2zM1273 274l9-2-6-8-9+2zM1282 272l9-2-6-8-9+2zM1291 270l9-2-6-8-9+2zM1300 268l8-2-6-8-8+2zM1308 266l9-1-6-9-9+2zM1317 265l9-2-6-8-9+1zM1326 263l9-2-6-8-9+2zM1335 261l9-2-6-8-9+2zM1344 259l9-2-6-8-9+2zM1353 257l9-2-6-8-9+2zM1362 255l8-2-6-8-8+2zM1370 253l9-2-6-8-9+2zM1379 251l9-2-6-8-9+2zM1388 249l9-1-6-8-9+1zM1397 248l9-2-6-8-9+2zM1406 246l9-2-6-8-9+2zM1415 244l9-2-6-8-9+2zM1424 242l9-2-6-8-9+2zM1433 240l8-2-6-8-8+2zM1441 238l9-2-6-8-9+2zM1450 236l9-2-6-8-9+2zM1459 234l9-1-6-9-9+2z"/><path fill="#96e5d2" stroke="#96e5d2" d="M1113 294l9-7-6-6-9+7zM1107 288l9-7-6-6-9+9zM946 231l9-27-6+0-9+26zM940 230l9-26-6-1-9+26zM934 229l9-26-6-1-9+27zM1128 293l9-4-6-7-9+5zM1152 293l8-3-5-7-9+3zM1160 290l9-2-6-8-8+3zM1169 288l9-2-6-8-9+2zM1178 286l9-2-6-8-9+2zM1187 284l9-2-6-8-9+2zM1196 282l9-3-6-7-9+2zM1205 279l9-2-6-7-9+2zM1214 277l9-1-6-8-9+2zM1223 276l8-2-6-8-8+2zM1231 274l9-2-6-8-9+2zM1240 272l9-2-6-8-9+2zM1249 270l9-2-6-8-9+2zM1258 268l9-2-6-8-9+2zM1267 266l9-2-6-8-9+2zM1276 264l9-2-6-8-9+2zM1285 262l9-2-6-8-9+2zM1294 260l8-2-6-8-8+2zM1302 258l9-2-6-8-9+2zM1311 256l9-1-6-8-9+1zM1320 255l9-2-6-8-9+2zM1329 253l9-2-6-8-9+2zM1338 251l9-2-6-8-9+2zM1347 249l9-2-6-8-9+2zM1356 247l8-2-5-8-9+2zM1364 245l9-2-6-8-8+2zM1373 243l9-2-6-8-9+2zM1382 241l9-1-6-8-9+1zM1391 240l9-2-6-8-9+2zM1400 238l9-2-6-8-9+2zM1409 236l9-2-6-8-9+2zM1418 234l9-2-6-8-9+2zM1427 232l8-2-6-8-8+2zM1435 230l9-2-6-8-9+2zM1444 228l9-2-6-8-9+2zM1453 226l9-2-6-8-9+2z"/><path fill="#a0e7be" stroke="#a0e7be" d="M1101 284l9-9-6-6-9+10zM964 233l8-26-6-1-8+26zM958 232l8-26-5-1-9+26zM952 231l9-26-6-1-9+27zM1122 287l9-5-6-7-9+6zM1137 289l9-3-6-8-9+4zM1146 286l9-3-6-8-9+3zM1155 283l8-3-6-7-8+2zM1163 280l9-2-6-8-9+3zM1172 278l9-2-6-8-9+2zM1181 276l9-2-6-8-9+2zM1190 274l9-2-6-8-9+2zM1199 272l9-2-6-8-9+2zM1208 270l9-2-6-8-9+2zM1217 268l8-2-6-8-8+2zM1225 266l9-2-6-8-9+2zM1234 264l9-2-6-8-9+2zM1243 262l9-2-6-8-9+2z"/><path fill="#aae8aa" stroke="#aae8aa" d="M1095 279l9-10-6-5-9+11zM1089 275l9-11-6-5-9+12zM1083 271l9-12-6-5-9+13zM988 237l8-25-6-2-8+26zM982 236l8-26-6-1-8+26zM976 235l8-26-6-1-8+26zM970 234l8-26-6-1-8+26zM1116 281l9-6-6-6-9+6zM1131 282l9-4-6-6-9+3zM1140 278l9-3-6-7-9+4zM1149 275l8-2-6-7-8+2zM1157 273l9-3-6-7-9+3zM1166 270l9-2-6-7-9+2zM1252 260l9-2-6-8-9+2zM1261 258l9-2-6-8-9+2zM1270 256l9-2-6-8-9+2zM1279 254l9-2-6-8-9+2zM1288 252l8-2-6-8-8+2zM1296 250l9-2-6-7-9+1zM1305 248l9-1-6-8-9+2zM1314 247l9-2-6-8-9+2zM1323 245l9-2-6-8-9+2zM1332 243l9-2-6-8-9+2zM1341 241l9-2-6-8-9+2zM1350 239l9-2-6-8-9+2zM1359 237l8-2-6-8-8+2zM1367 235l9-2-6-7-9+1zM1376 233l9-1-6-8-9+2zM1385 232l9-2-6-8-9+2zM1394 230l9-2-6-8-9+2zM1403 228l9-2-6-8-9+2zM1412 226l9-2-6-8-9+2zM1421 224l8-2-5-8-9+2zM1429 222l9-2-6-8-8+2zM1438 220l9-2-6-8-9+2zM1447 218l9-2-6-7-9+1z"/><path fill="#b4ea96" stroke="#b4ea96" d="M1077 267l9-13-6-4-9+14zM1071 264l9-14-6-4-9+15zM1065 261l9-15-6-4-9+16zM1059 258l9-16-6-4-9+17zM1053 255l9-17-6-3-9+18zM1023 245l9-22-6-2-9+22zM1017 243l9-22-6-2-9+23zM1011 242l9-23-6-2-9+23zM1005 240l9-23-6-2-9+24zM999 239l9-24-6-2-9+25zM993 238l9-25-6-1-8+25zM1110 275l9-6-6-6-9+6zM1104 269l9-6-6-6-9+7zM1125 275l9-3-6-7-9+4zM1119 269l9-4-6-7-9+5zM1134 272l9-4-6-7-9+4zM1143 268l8-2-6-8-8+3zM1151 266l9-3-6-7-9+2zM1175 268l9-2-6-8-9+3zM1184 266l9-2-6-8-9+2zM1193 264l9-2-6-8-9+2zM1202 262l9-2-6-8-9+2zM1211 260l8-2-5-8-9+2zM1219 258l9-2-6-8-8+2zM1228 256l9-2-6-8-9+2zM1237 254l9-2-6-8-9+2zM1246 252l9-2-6-8-9+2zM1255 250l9-2-6-8-9+2zM1264 248l9-2-6-7-9+1zM1273 246l9-2-6-7-9+2zM1282 244l8-2-6-7-8+2zM1290 242l9-1-6-8-9+2zM1299 241l9-2-6-8-9+2zM1308 239l9-2-6-8-9+2zM1317 237l9-2-6-8-9+2zM1326 235l9-2-6-8-9+2zM1335 233l9-2-6-8-9+2zM1344 231l9-2-6-7-9+1zM1353 229l8-2-6-7-8+2zM1361 227l9-1-6-8-9+2zM1370 226l9-2-6-8-9+2zM1379 224l9-2-6-8-9+2zM1388 222l9-2-6-8-9+2zM1397 220l9-2-6-8-9+2zM1406 218l9-2-6-8-9+2zM1415 216l9-2-6-8-9+2zM1424 214l8-2-6-7-8+1zM1432 212l9-2-6-7-9+2zM1441 210l9-1-6-8-9+2z"/><path fill="#beeb82" stroke="#beeb82" d="M1047 253l9-18-6-3-9+19zM1041 251l9-19-6-3-9+19zM1035 248l9-19-6-3-9+21zM1029 247l9-21-6-3-9+22zM1098 264l9-7-6-6-9+8zM1113 263l9-5-6-6-9+5zM1128 265l9-4-6-6-9+3zM1137 261l8-3-6-7-8+4zM1160 263l9-2-6-8-9+3zM1169 261l9-3-6-7-9+2zM1178 258l9-2-6-7-9+2zM1187 256l9-2-6-7-9+2zM1196 254l9-2-6-7-9+2zM1205 252l9-2-6-7-9+2zM1214 250l8-2-6-7-8+2zM1222 248l9-2-6-7-9+2zM1231 246l9-2-6-7-9+2zM1240 244l9-2-6-7-9+2zM1249 242l9-2-6-7-9+2zM1258 240l9-1-6-8-9+2zM1267 239l9-2-6-8-9+2zM1276 237l8-2-6-8-8+2zM1284 235l9-2-6-8-9+2zM1293 233l9-2-6-8-9+2zM1302 231l9-2-6-8-9+2zM1311 229l9-2-6-8-9+2zM1320 227l9-2-6-7-9+1zM1329 225l9-2-6-7-9+2zM1338 223l9-1-6-8-9+2zM1347 222l8-2-6-8-8+2zM1355 220l9-2-6-8-9+2zM1364 218l9-2-6-8-9+2zM1373 216l9-2-6-8-9+2zM1382 214l9-2-6-8-9+2zM1391 212l9-2-6-7-9+1zM1400 210l9-2-6-7-9+2zM1409 208l9-2-6-7-9+2zM1418 206l8-1-6-8-8+2zM1426 205l9-2-6-8-9+2zM1435 203l9-2-6-8-9+2z"/><path fill="#606dec" stroke="#606dec" d="M1182 361l9-2-6-8-9+2zM1191 359l8-2-6-8-8+2zM1199 357l9-2-6-8-9+2zM1208 355l9-2-6-8-9+2zM1217 353l9-2-6-8-9+2zM1226 351l9-2-6-8-9+2zM1235 349l9-1-6-9-9+2zM1244 348l9-2-6-9-9+2zM1253 346l9-2-6-9-9+2zM1262 344l8-2-6-9-8+2zM1270 342l9-2-6-9-9+2zM1279 340l9-2-6-8-9+1zM1288 338l9-2-6-8-9+2zM1297 336l9-2-6-8-9+2zM1306 334l9-2-6-8-9+2zM1315 332l9-1-6-9-9+2zM1324 331l8-2-5-9-9+2zM1332 329l9-2-6-9-8+2zM1341 327l9-2-6-9-9+2zM1350 325l9-2-6-8-9+1zM1359 323l9-2-6-8-9+2zM1368 321l9-2-6-8-9+2zM1377 319l9-2-6-8-9+2zM1386 317l9-1-6-9-9+2zM1395 316l8-2-6-9-8+2zM1403 314l9-2-6-9-9+2zM1412 312l9-2-6-9-9+2zM1421 310l9-2-6-8-9+1zM1430 308l9-2-6-8-9+2zM1439 306l9-2-6-8-9+2zM1448 304l9-2-6-8-9+2zM1457 302l9-2-6-8-9+2zM1466 300l8-1-6-9-8+2zM1474 299l9-2-6-9-9+2zM1483 297l9-2-6-9-9+2zM1492 295l9-2-6-9-9+2zM1501 293l9-2-6-8-9+1z"/><path fill="#c7e97a" stroke="#c7e97a" d="M1092 259l9-8-6-5-9+8zM1086 254l9-8-6-5-9+9zM949 204l8-21-6-1-8+21zM943 203l8-21-6-1-8+21zM1107 257l9-5-6-6-9+5zM1122 258l9-3-6-7-9+4zM1131 255l8-4-6-6-8+3zM1145 258l9-2-6-7-9+2zM1154 256l9-3-6-7-9+3zM1163 253l9-2-6-7-9+2zM1172 251l9-2-6-8-9+3zM1181 249l9-2-6-8-9+2zM1190 247l9-2-6-8-9+2zM1199 245l9-2-6-8-9+2zM1208 243l8-2-6-8-8+2zM1216 241l9-2-6-8-9+2zM1225 239l9-2-6-8-9+2zM1234 237l9-2-6-8-9+2zM1243 235l9-2-6-8-9+2zM1252 233l9-2-6-8-9+2zM1261 231l9-2-6-8-9+2zM1270 229l8-2-5-7-9+1zM1278 227l9-2-6-7-8+2zM1287 225l9-2-6-7-9+2zM1296 223l9-2-6-7-9+2zM1305 221l9-2-6-7-9+2zM1314 219l9-1-6-8-9+2zM1323 218l9-2-6-8-9+2zM1332 216l9-2-6-8-9+2zM1341 214l8-2-6-8-8+2zM1349 212l9-2-6-7-9+1zM1358 210l9-2-6-7-9+2zM1367 208l9-2-6-7-9+2zM1376 206l9-2-6-7-9+2zM1385 204l9-1-6-8-9+2zM1394 203l9-2-6-8-9+2zM1403 201l9-2-6-8-9+2zM1412 199l8-2-6-8-8+2zM1420 197l9-2-6-8-9+2zM1429 195l9-2-6-7-9+1z"/><path fill="#d0e773" stroke="#d0e773" d="M1080 250l9-9-6-5-9+10zM1074 246l9-10-6-5-9+11zM1068 242l9-11-6-4-9+11zM966 206l9-20-6-1-8+20zM961 205l8-20-6-1-8+20zM955 204l8-20-6-1-8+21zM1101 251l9-5-6-6-9+6zM1116 252l9-4-6-6-9+4zM1125 248l8-3-5-7-9+4zM1139 251l9-2-6-7-9+3zM1148 249l9-3-6-7-9+3zM1157 246l9-2-6-8-9+3zM1166 244l9-3-6-7-9+2zM1175 241l9-2-6-7-9+2zM1184 239l9-2-6-7-9+2zM1193 237l9-2-6-7-9+2zM1202 235l8-2-6-7-8+2zM1210 233l9-2-6-7-9+2zM1219 231l9-2-6-7-9+2zM1228 229l9-2-6-7-9+2zM1237 227l9-2-6-7-9+2zM1246 225l9-2-6-7-9+2zM1255 223l9-2-6-7-9+2zM1264 221l9-1-6-8-9+2zM1273 220l8-2-6-8-8+2zM1281 218l9-2-6-8-9+2zM1290 216l9-2-6-8-9+2zM1299 214l9-2-6-7-9+1zM1308 212l9-2-6-7-9+2zM1317 210l9-2-6-7-9+2zM1326 208l9-2-6-7-9+2zM1335 206l8-2-5-7-9+2zM1343 204l9-1-6-8-8+2zM1352 203l9-2-6-8-9+2zM1361 201l9-2-6-8-9+2zM1370 199l9-2-6-8-9+2zM1379 197l9-2-6-7-9+1zM1388 195l9-2-6-7-9+2zM1397 193l9-2-6-7-9+2zM1406 191l8-2-6-7-8+2zM1414 189l9-2-6-7-9+2zM1423 187l9-1-6-8-9+2z"/><path fill="#dae46b" stroke="#dae46b" d="M1062 238l9-11-6-4-9+12zM1056 235l9-12-6-4-9+13zM1050 232l9-13-6-4-9+14zM1044 229l9-14-6-3-9+14zM996 212l9-18-6-2-9+18zM990 210l9-18-6-2-9+19zM984 209l9-19-6-2-9+20zM978 208l9-20-6-1-9+20zM972 207l9-20-6-1-9+20zM1095 246l9-6-6-6-9+7zM1089 241l9-7-6-5-9+7zM1110 246l9-4-6-7-9+5zM1104 240l9-5-6-6-9+5zM1119 242l9-4-6-6-9+3zM1133 245l9-3-6-7-8+3zM1142 242l9-3-6-7-9+3zM1151 239l9-3-6-6-9+2zM1160 236l9-2-6-7-9+3zM1169 234l9-2-6-7-9+2zM1178 232l9-2-6-7-9+2zM1187 230l9-2-6-7-9+2zM1196 228l8-2-6-8-8+3zM1204 226l9-2-6-8-9+2zM1213 224l9-2-6-8-9+2zM1222 222l9-2-6-7-9+1zM1231 220l9-2-6-7-9+2zM1240 218l9-2-6-7-9+2zM1249 216l9-2-6-7-9+2zM1258 214l9-2-6-7-9+2zM1267 212l8-2-6-7-8+2zM1275 210l9-2-6-7-9+2z"/><path fill="#e3e264" stroke="#e3e264" d="M1038 226l9-14-6-3-9+14zM1032 223l9-14-6-3-9+15zM1026 221l9-15-6-3-9+16zM1020 219l9-16-6-3-9+17zM1014 217l9-17-6-2-9+17zM1008 215l9-17-6-2-9+17zM1002 213l9-17-6-2-9+18zM1083 236l9-7-6-5-9+7zM1077 231l9-7-6-5-9+8zM1098 234l9-5-6-5-9+5zM1113 235l9-3-6-7-9+4zM1128 238l8-3-6-7-8+4zM1122 232l8-4-6-6-8+3zM1136 235l9-3-6-7-9+3zM1145 232l9-2-6-7-9+2zM1154 230l9-3-6-7-9+3zM1163 227l9-2-6-7-9+2zM1172 225l9-2-6-7-9+2zM1181 223l9-2-6-7-9+2zM1190 221l8-3-6-7-8+3zM1198 218l9-2-6-7-9+2zM1284 208l9-2-6-7-9+2zM1293 206l9-1-6-8-9+2zM1302 205l9-2-6-8-9+2zM1311 203l9-2-6-8-9+2zM1320 201l9-2-6-7-9+1zM1329 199l9-2-6-7-9+2zM1338 197l8-2-6-7-8+2zM1346 195l9-2-6-7-9+2zM1355 193l9-2-6-7-9+2zM1364 191l9-2-6-7-9+2zM1373 189l9-1-6-8-9+2zM1382 188l9-2-6-8-9+2zM1391 186l9-2-6-7-9+1zM1400 184l8-2-6-7-8+2zM1408 182l9-2-6-7-9+2zM1417 180l9-2-6-7-9+2z"/><path fill="#ece05c" stroke="#ece05c" d="M1071 227l9-8-6-5-9+9zM1065 223l9-9-6-4-9+9zM951 182l9-17-6-1-9+17zM1092 229l9-5-6-6-9+6zM1107 229l9-4-6-6-9+5zM1116 225l8-3-6-6-8+3zM1130 228l9-3-6-6-9+3zM1139 225l9-2-6-7-9+3zM1148 223l9-3-6-7-9+3zM1157 220l9-2-6-7-9+2zM1166 218l9-2-6-7-9+2zM1175 216l9-2-6-7-9+2zM1207 216l9-2-6-7-9+2zM1216 214l9-1-6-8-9+2zM1225 213l9-2-6-8-9+2zM1234 211l9-2-6-7-9+1zM1243 209l9-2-6-7-9+2zM1252 207l9-2-6-7-9+2zM1261 205l8-2-6-7-8+2zM1269 203l9-2-6-7-9+2zM1278 201l9-2-6-7-9+2zM1287 199l9-2-6-7-9+2zM1296 197l9-2-6-7-9+2zM1305 195l9-2-6-7-9+2zM1314 193l9-1-6-8-9+2zM1323 192l9-2-6-7-9+1zM1332 190l8-2-6-7-8+2zM1340 188l9-2-6-7-9+2zM1349 186l9-2-6-7-9+2zM1358 184l9-2-6-7-9+2zM1367 182l9-2-6-7-9+2zM1376 180l9-2-6-7-9+2zM1385 178l9-1-6-8-9+2zM1394 177l8-2-5-8-9+2zM1402 175l9-2-6-7-8+1zM1411 173l9-2-6-7-9+2z"/><path fill="#ebd55c" stroke="#ebd55c" d="M1059 219l9-9-6-4-9+9zM1053 215l9-9-6-4-9+10zM1047 212l9-10-6-4-9+11zM1041 209l9-11-6-4-9+12zM981 187l9-15-6-2-9+16zM975 186l9-16-6-1-9+16zM969 185l9-16-6-2-9+17zM963 184l9-17-6-1-9+17zM957 183l9-17-6-1-9+17zM1086 224l9-6-6-5-9+6zM1080 219l9-6-6-5-9+6zM1101 224l9-5-6-5-9+4zM1095 218l9-4-6-6-9+5zM1110 219l8-3-6-6-8+4zM1124 222l9-3-6-7-9+4zM1133 219l9-3-6-6-9+2zM1142 216l9-3-6-6-9+3zM1151 213l9-2-6-7-9+3zM1160 211l9-2-6-7-9+2zM1169 209l9-2-6-7-9+2zM1184 214l8-3-5-6-9+2zM1192 211l9-2-6-7-8+3zM1201 209l9-2-6-7-9+2zM1210 207l9-2-6-7-9+2zM1219 205l9-2-6-7-9+2zM1228 203l9-1-6-7-9+1zM1237 202l9-2-6-7-9+2zM1246 200l9-2-6-7-9+2zM1255 198l8-2-6-7-8+2zM1263 196l9-2-6-7-9+2zM1272 194l9-2-6-7-9+2zM1281 192l9-2-6-7-9+2zM1290 190l9-2-6-7-9+2zM1299 188l9-2-6-7-9+2zM1308 186l9-2-6-7-9+2zM1317 184l9-1-6-7-9+1zM1326 183l8-2-6-7-8+2zM1334 181l9-2-6-7-9+2zM1343 179l9-2-6-7-9+2zM1352 177l9-2-6-7-9+2zM1361 175l9-2-6-7-9+2zM1370 173l9-2-6-7-9+2zM1379 171l9-2-6-7-9+2zM1388 169l9-2-6-7-9+2zM1397 167l8-1-6-7-8+1zM1405 166l9-2-6-7-9+2z"/><path fill="#eaca5b" stroke="#eaca5b" d="M1035 206l9-12-6-3-9+12zM1029 203l9-12-6-3-9+12zM1023 200l9-12-6-3-9+13zM1017 198l9-13-6-3-9+14zM1011 196l9-14-6-2-9+14zM1005 194l9-14-6-2-9+14zM999 192l9-14-6-3-9+15zM993 190l9-15-6-2-9+15zM987 188l9-15-6-1-9+15zM1074 214l9-6-6-5-9+7zM1068 210l9-7-6-5-9+8zM1089 213l9-5-6-5-9+5zM1104 214l8-4-6-6-8+4zM1118 216l9-4-6-6-9+4zM1112 210l9-4-6-6-9+4zM1127 212l9-2-6-7-9+3zM1136 210l9-3-6-6-9+2zM1145 207l9-3-6-6-9+3zM1154 204l9-2-6-6-9+2zM1163 202l9-2-6-7-9+3zM1178 207l9-2-6-7-9+2zM1187 205l8-3-6-6-8+2zM1195 202l9-2-6-6-9+2zM1204 200l9-2-6-6-9+2zM1213 198l9-2-6-6-9+2zM1222 196l9-1-6-7-9+2zM1231 195l9-2-6-7-9+2zM1240 193l9-2-6-7-9+2zM1249 191l8-2-6-7-8+2zM1257 189l9-2-6-7-9+2zM1266 187l9-2-6-7-9+2zM1275 185l9-2-6-7-9+2zM1284 183l9-2-6-7-9+2zM1293 181l9-2-6-7-9+2zM1302 179l9-2-6-6-9+1zM1311 177l9-1-6-7-9+2zM1320 176l8-2-6-7-8+2zM1328 174l9-2-6-7-9+2zM1337 172l9-2-6-7-9+2zM1346 170l9-2-6-7-9+2zM1355 168l9-2-6-7-9+2zM1364 166l9-2-6-7-9+2zM1373 164l9-2-6-7-9+2zM1382 162l9-2-6-6-9+1zM1391 160l8-1-6-7-8+2zM1399 159l9-2-6-7-9+2z"/><path fill="#e8be5b" stroke="#e8be5b" d="M1062 206l9-8-6-4-9+8zM1056 202l9-8-6-4-9+8zM1050 198l9-8-6-4-9+8zM960 165l9-13-6-1-9+13zM1083 208l9-5-6-6-9+6zM1077 203l9-6-6-5-9+6zM1098 208l8-4-5-6-9+5zM1092 203l9-5-6-5-9+4zM1106 204l9-4-6-5-8+3zM1121 206l9-3-6-6-9+3zM1130 203l9-2-6-7-9+3zM1139 201l9-3-6-6-9+2zM1148 198l9-2-6-7-9+3zM1157 196l9-3-6-6-9+2zM1172 200l9-2-6-7-9+2zM1166 193l9-2-6-6-9+2zM1181 198l8-2-6-7-8+2zM1189 196l9-2-6-7-9+2zM1198 194l9-2-6-7-9+2zM1207 192l9-2-6-7-9+2zM1216 190l9-2-6-7-9+2zM1225 188l9-2-6-7-9+2zM1234 186l9-2-6-7-9+2zM1243 184l8-2-5-7-9+2zM1251 182l9-2-6-7-8+2zM1260 180l9-2-6-7-9+2zM1269 178l9-2-6-6-9+1zM1278 176l9-2-6-6-9+2zM1287 174l9-2-6-6-9+2zM1296 172l9-1-6-7-9+2zM1305 171l9-2-6-7-9+2zM1314 169l8-2-6-7-8+2zM1322 167l9-2-6-7-9+2zM1331 165l9-2-6-7-9+2zM1340 163l9-2-6-7-9+2zM1349 161l9-2-6-6-9+1zM1358 159l9-2-6-6-9+2zM1367 157l9-2-6-6-9+2zM1376 155l9-1-6-7-9+2zM1385 154l8-2-6-7-8+2zM1393 152l9-2-6-7-9+2z"/><path fill="#e7b35a" stroke="#e7b35a" d="M1044 194l9-8-6-4-9+9zM1038 191l9-9-6-4-9+10zM1032 188l9-10-6-3-9+10zM1026 185l9-10-6-3-9+10zM1020 182l9-10-6-3-9+11zM1014 180l9-11-6-3-9+12zM996 173l9-11-6-2-9+12zM990 172l9-12-6-2-9+12zM984 170l9-12-6-2-9+13zM978 169l9-13-6-2-9+13zM972 167l9-13-6-1-9+13zM966 166l9-13-6-1-9+13zM1071 198l9-6-6-4-9+6zM1065 194l9-6-6-5-9+7zM1086 197l9-4-6-5-9+4zM1101 198l8-3-6-6-8+4zM1115 200l9-3-6-6-9+4zM1109 195l9-4-6-5-9+3zM1124 197l9-3-6-6-9+3zM1133 194l9-2-6-6-9+2zM1142 192l9-3-6-6-9+3zM1151 189l9-2-6-6-9+2zM1160 187l9-2-6-6-9+2zM1175 191l8-2-6-6-8+2zM1169 185l8-2-6-7-8+3zM1183 189l9-2-6-6-9+2zM1192 187l9-2-6-7-9+3zM1201 185l9-2-6-7-9+2zM1210 183l9-2-6-6-9+1zM1219 181l9-2-6-6-9+2zM1228 179l9-2-6-6-9+2zM1237 177l9-2-6-6-9+2zM1246 175l8-2-6-6-8+2zM1254 173l9-2-6-6-9+2zM1263 171l9-1-6-7-9+2zM1272 170l9-2-6-7-9+2zM1281 168l9-2-6-7-9+2zM1290 166l9-2-6-7-9+2zM1299 164l9-2-6-7-9+2zM1308 162l8-2-5-6-9+1zM1316 160l9-2-6-6-8+2zM1325 158l9-2-6-6-9+2zM1334 156l9-2-6-6-9+2zM1343 154l9-1-6-7-9+2zM1352 153l9-2-6-7-9+2zM1361 151l9-2-6-7-9+2zM1370 149l9-2-6-7-9+2zM1379 147l8-2-6-7-8+2zM1387 145l9-2-6-6-9+1z"/><path fill="#e6a85a" stroke="#e6a85a" d="M1008 178l9-12-6-2-9+11zM1002 175l9-11-6-2-9+11zM1059 190l9-7-6-4-9+7zM1053 186l9-7-6-4-9+7zM1047 182l9-7-6-4-9+7zM1080 192l9-4-6-5-9+5zM1074 188l9-5-6-5-9+5zM1095 193l8-4-6-5-8+4zM1089 188l8-4-6-6-8+5zM1103 189l9-3-6-6-9+4zM1118 191l9-3-6-6-9+4zM1112 186l9-4-6-5-9+3zM1127 188l9-2-6-6-9+2zM1136 186l9-3-6-6-9+3zM1145 183l9-2-6-6-9+2zM1154 181l9-2-6-7-9+3zM1163 179l8-3-6-6-8+2zM1177 183l9-2-6-7-9+2zM1171 176l9-2-6-6-9+2zM1186 181l9-3-6-6-9+2zM1180 174l9-2-6-6-9+2zM1195 178l9-2-6-6-9+2zM1204 176l9-1-6-7-9+2zM1213 175l9-2-6-7-9+2zM1222 173l9-2-6-7-9+2zM1231 171l9-2-6-7-9+2zM1240 169l8-2-6-7-8+2zM1248 167l9-2-6-6-9+1zM1257 165l9-2-6-6-9+2zM1266 163l9-2-6-6-9+2zM1275 161l9-2-6-6-9+2zM1284 159l9-2-6-6-9+2zM1293 157l9-2-6-6-9+2zM1302 155l9-1-6-7-9+2zM1311 154l8-2-6-7-8+2zM1319 152l9-2-6-7-9+2zM1328 150l9-2-6-7-9+2zM1337 148l9-2-6-6-9+1zM1346 146l9-2-6-6-9+2zM1355 144l9-2-6-6-9+2zM1364 142l9-2-6-6-9+2zM1373 140l8-2-6-6-8+2zM1381 138l9-1-6-7-9+2z"/><path fill="#e28a5e" stroke="#e28a5e" d="M1041 178l9-7-6-4-9+8zM1035 175l9-8-6-3-9+8zM1029 172l9-8-6-3-9+8zM1023 169l9-8-6-3-9+8zM987 156l9-10-6-2-9+10zM981 154l9-10-6-2-9+11zM975 153l9-11-6-1-9+11zM969 152l9-11-6-2-9+12zM1068 183l9-5-6-5-9+6zM1062 179l9-6-6-4-9+6zM1083 183l8-5-6-5-8+5zM1077 178l8-5-6-4-8+4zM1097 184l9-4-6-5-9+3zM1091 178l9-3-6-5-9+3zM1106 180l9-3-6-6-9+4zM1121 182l9-2-6-6-9+3zM1115 177l9-3-6-6-9+3zM1130 180l9-3-6-6-9+3zM1139 177l9-2-6-6-9+2zM1148 175l9-3-6-5-9+2zM1157 172l8-2-5-6-9+3zM1165 170l9-2-6-6-8+2zM1174 168l9-2-6-6-9+2zM1189 172l9-2-6-6-9+2zM1183 166l9-2-6-6-9+2zM1198 170l9-2-6-6-9+2zM1192 164l9-2-6-6-9+2zM1207 168l9-2-6-6-9+2zM1201 162l9-2-6-6-9+2zM1216 166l9-2-6-6-9+2zM1210 160l9-2-6-6-9+2zM1225 164l9-2-6-6-9+2zM1219 158l9-2-6-6-9+2zM1234 162l8-2-6-6-8+2zM1228 156l8-2-6-6-8+2zM1242 160l9-1-6-7-9+2zM1236 154l9-2-6-6-9+2zM1251 159l9-2-6-7-9+2zM1245 152l9-2-6-6-9+2zM1260 157l9-2-6-6-9+1zM1269 155l9-2-6-6-9+2zM1278 153l9-2-6-6-9+2zM1287 151l9-2-6-6-9+2zM1296 149l9-2-6-6-9+2zM1305 147l8-2-6-6-8+2zM1313 145l9-2-6-6-9+2zM1322 143l9-2-6-6-9+2zM1331 141l9-1-6-7-9+2zM1340 140l9-2-6-6-9+1zM1349 138l9-2-6-6-9+2zM1358 136l9-2-6-6-9+2zM1367 134l8-2-5-6-9+2zM1375 132l9-2-6-6-8+2z"/><path fill="#de6c62" stroke="#de6c62" d="M1017 166l9-8-6-3-9+9zM1011 164l9-9-6-3-9+10zM1005 162l9-10-6-2-9+10zM999 160l9-10-6-2-9+10zM993 158l9-10-6-2-9+10zM1056 175l9-6-6-4-9+6zM1050 171l9-6-6-4-9+6zM1044 167l9-6-6-4-9+7zM1071 173l8-4-5-5-9+5zM1065 169l9-5-6-4-9+5zM1085 173l9-3-6-5-9+4zM1100 175l9-4-6-5-9+4zM1094 170l9-4-6-5-9+4zM1109 171l9-3-6-5-9+3zM1124 174l9-3-6-5-9+2zM1118 168l9-2-6-6-9+3zM1133 171l9-2-6-6-9+3zM1142 169l9-2-6-6-9+2zM1151 167l9-3-6-5-9+2zM1160 164l8-2-6-6-8+3zM1168 162l9-2-6-6-9+2zM1177 160l9-2-6-6-9+2zM1186 158l9-2-6-6-9+2zM1195 156l9-2-6-6-9+2zM1204 154l9-2-6-6-9+2zM1213 152l9-2-6-6-9+2zM1222 150l8-2-5-6-9+2zM1230 148l9-2-6-6-8+2zM1239 146l9-2-6-5-9+1zM1254 150l9-1-6-7-9+2zM1248 144l9-2-6-5-9+2zM1263 149l9-2-6-6-9+1zM1257 142l9-1-6-6-9+2zM1272 147l9-2-6-6-9+2zM1266 141l9-2-6-6-9+2zM1281 145l9-2-6-6-9+2zM1275 139l9-2-6-6-9+2zM1290 143l9-2-6-6-9+2zM1284 137l9-2-6-6-9+2zM1299 141l8-2-6-6-8+2zM1293 135l8-2-6-6-8+2zM1307 139l9-2-6-6-9+2zM1301 133l9-2-6-6-9+2zM1316 137l9-2-6-6-9+2zM1310 131l9-2-6-6-9+2zM1325 135l9-2-6-6-9+2zM1319 129l9-2-6-5-9+1zM1334 133l9-1-6-7-9+2zM1328 127l9-2-6-5-9+2zM1343 132l9-2-6-6-9+1zM1337 125l9-1-6-6-9+2zM1352 130l9-2-6-6-9+2zM1346 124l9-2-6-6-9+2zM1361 128l9-2-6-6-9+2zM1355 122l9-2-6-6-9+2zM1370 126l8-2-6-6-8+2zM1364 120l8-2-6-6-8+2z"/><path fill="#d25d63" stroke="#d25d63" d="M1038 164l9-7-6-3-9+7zM1032 161l9-7-6-3-9+7zM1026 158l9-7-6-4-9+8zM1020 155l9-8-6-2-9+7zM1014 152l9-7-6-3-9+8zM1008 150l9-8-6-2-9+8zM1002 148l9-8-6-3-9+9zM996 146l9-9-6-2-9+9zM990 144l9-9-6-2-9+9zM984 142l9-9-6-1-9+9zM978 141l9-9-6-2-9+9zM1059 165l9-5-6-4-9+5zM1053 161l9-5-6-4-9+5zM1079 169l9-4-6-5-8+4zM1074 164l8-4-6-5-8+5zM1088 165l9-4-6-5-9+4zM1103 166l9-3-6-5-9+3zM1097 161l9-3-6-5-9+3zM1112 163l9-3-6-5-9+3zM1127 166l9-3-6-5-9+2zM1121 160l9-2-6-5-9+2zM1136 163l9-2-6-6-9+3zM1130 158l9-3-6-5-9+3zM1145 161l9-2-6-6-9+2zM1154 159l8-3-6-5-8+2zM1162 156l9-2-6-5-9+2zM1171 154l9-2-6-5-9+2zM1180 152l9-2-6-5-9+2zM1189 150l9-2-6-5-9+2zM1198 148l9-2-6-5-9+2zM1207 146l9-2-6-5-9+2zM1216 144l9-2-6-5-9+2zM1225 142l8-2-6-5-8+2zM1233 140l9-1-6-6-9+2zM1242 139l9-2-6-6-9+2zM1251 137l9-2-6-6-9+2zM1260 135l9-2-6-6-9+2zM1269 133l9-2-6-6-9+2zM1278 131l9-2-6-6-9+2zM1287 129l8-2-6-5-8+1zM1295 127l9-2-6-5-9+2zM1304 125l9-2-6-5-9+2zM1313 123l9-1-6-6-9+2zM1322 122l9-2-6-6-9+2zM1331 120l9-2-6-6-9+2zM1340 118l9-2-6-6-9+2zM1349 116l9-2-6-6-9+2zM1358 114l8-2-6-6-8+2z"/><path fill="#c74e64" stroke="#c74e64" d="M1047 157l9-5-6-4-9+6zM1041 154l9-6-6-3-9+6zM1035 151l9-6-6-4-9+6zM1029 147l9-6-6-3-9+7zM987 132l9-8-6-1-9+7zM1068 160l8-5-6-4-8+5zM1062 156l8-5-6-4-8+5zM1056 152l8-5-6-4-8+5zM1082 160l9-4-6-4-9+3zM1076 155l9-3-6-5-9+4zM1091 156l9-3-6-5-9+4zM1106 158l9-3-6-5-9+3zM1100 153l9-3-6-5-9+3zM1115 155l9-2-6-6-9+3zM1124 153l9-3-6-5-9+2zM1139 155l9-2-6-5-9+2zM1133 150l9-2-6-5-9+2zM1148 153l8-2-6-6-8+3zM1142 148l8-3-6-5-8+3zM1156 151l9-2-6-6-9+2zM1150 145l9-2-6-5-9+2zM1165 149l9-2-6-6-9+2zM1159 143l9-2-6-5-9+2zM1174 147l9-2-6-6-9+2zM1168 141l9-2-6-5-9+2zM1183 145l9-2-6-6-9+2zM1192 143l9-2-6-6-9+2zM1201 141l9-2-6-6-9+2zM1210 139l9-2-6-6-9+2zM1219 137l8-2-6-6-8+2zM1227 135l9-2-6-6-9+2zM1236 133l9-2-6-5-9+1zM1245 131l9-2-6-5-9+2zM1254 129l9-2-6-5-9+2zM1263 127l9-2-6-5-9+2zM1272 125l9-2-6-5-9+2zM1281 123l8-1-5-6-9+2zM1289 122l9-2-6-6-8+2zM1298 120l9-2-6-6-9+2zM1307 118l9-2-6-6-9+2zM1316 116l9-2-6-5-9+1zM1325 114l9-2-6-5-9+2zM1334 112l9-2-6-5-9+2zM1343 110l9-2-6-5-9+2zM1352 108l8-2-6-5-8+2z"/><path fill="#bb3f66" stroke="#bb3f66" d="M1023 145l9-7-6-3-9+7zM1017 142l9-7-6-2-9+7zM1011 140l9-7-6-3-9+7zM1005 137l9-7-6-2-9+7zM999 135l9-7-6-2-9+7zM993 133l9-7-6-2-9+8zM1050 148l8-5-6-3-8+5zM1044 145l8-5-5-4-9+5zM1038 141l9-5-6-3-9+5zM1032 138l9-5-6-3-9+5zM1070 151l9-4-6-4-9+4zM1064 147l9-4-6-4-9+4zM1058 143l9-4-6-4-9+5zM1085 152l9-4-6-4-9+3zM1079 147l9-3-6-4-9+3zM1073 143l9-3-6-5-9+4zM1094 148l9-3-6-4-9+3zM1088 144l9-3-6-5-9+4zM1109 150l9-3-6-4-9+2zM1103 145l9-2-6-5-9+3zM1118 147l9-2-6-5-9+3zM1112 143l9-3-6-5-9+3zM1127 145l9-2-6-5-9+2zM1121 140l9-2-6-5-9+2zM1136 143l8-3-5-5-9+3zM1144 140l9-2-6-5-8+2zM1153 138l9-2-6-5-9+2zM1162 136l9-2-6-5-9+2zM1177 139l9-2-6-5-9+2zM1171 134l9-2-6-5-9+2zM1186 137l9-2-6-5-9+2zM1180 132l9-2-6-5-9+2zM1195 135l9-2-6-5-9+2zM1189 130l9-2-6-5-9+2zM1204 133l9-2-6-5-9+2zM1198 128l9-2-6-5-9+2zM1213 131l8-2-6-5-8+2zM1207 126l8-2-6-5-8+2zM1221 129l9-2-6-5-9+2zM1215 124l9-2-6-5-9+2zM1230 127l9-1-6-6-9+2zM1224 122l9-2-6-5-9+2zM1239 126l9-2-6-6-9+2zM1233 120l9-2-6-5-9+2zM1248 124l9-2-6-6-9+2zM1242 118l9-2-6-5-9+2zM1257 122l9-2-6-5-9+1zM1251 116l9-1-6-5-9+1zM1266 120l9-2-6-5-9+2zM1260 115l9-2-6-5-9+2zM1275 118l9-2-6-5-9+2zM1269 113l9-2-6-5-9+2zM1284 116l8-2-6-5-8+2zM1278 111l8-2-6-5-8+2zM1292 114l9-2-6-5-9+2zM1286 109l9-2-6-5-9+2zM1301 112l9-2-6-5-9+2zM1295 107l9-2-6-5-9+2zM1310 110l9-1-6-6-9+2zM1304 105l9-2-6-5-9+2zM1319 109l9-2-6-6-9+2zM1313 103l9-2-6-5-9+2zM1328 107l9-2-6-6-9+2zM1322 101l9-2-6-5-9+2zM1337 105l9-2-6-5-9+1zM1331 99l9-1-6-5-9+1zM1346 103l8-2-6-5-8+2zM1340 98l8-2-5-5-9+2z"/><path fill="#af3862" stroke="#af3862" d="M1026 135l9-5-6-3-9+6zM1020 133l9-6-6-2-9+5zM1014 130l9-5-6-3-9+6zM1008 128l9-6-6-2-9+6zM1002 126l9-6-6-2-9+6zM996 124l9-6-6-2-9+7zM1052 140l9-5-6-3-8+4zM1047 136l8-4-6-4-8+5zM1041 133l8-5-6-3-8+5zM1035 130l8-5-6-3-8+5zM1067 139l9-4-6-3-9+3zM1061 135l9-3-6-4-9+4zM1082 140l9-4-6-4-9+3zM1076 135l9-3-6-4-9+4zM1097 141l9-3-6-4-9+2zM1091 136l9-2-6-5-9+3zM1106 138l9-3-6-4-9+3zM1100 134l9-3-6-4-9+2zM1115 135l9-2-6-5-9+3zM1109 131l9-3-6-4-9+3zM1130 138l9-3-6-4-9+2zM1124 133l9-2-6-5-9+2zM1139 135l8-2-6-5-8+3zM1133 131l8-3-6-4-8+2zM1147 133l9-2-6-5-9+2zM1141 128l9-2-6-4-9+2zM1156 131l9-2-6-5-9+2zM1150 126l9-2-6-4-9+2zM1165 129l9-2-6-5-9+2zM1159 124l9-2-6-5-9+3zM1174 127l9-2-6-5-9+2zM1168 122l9-2-6-5-9+2zM1183 125l9-2-6-5-9+2zM1177 120l9-2-6-5-9+2zM1192 123l9-2-6-5-9+2zM1186 118l9-2-6-5-9+2zM1201 121l8-2-6-5-8+2zM1195 116l8-2-5-4-9+1zM1209 119l9-2-6-5-9+2zM1203 114l9-2-6-4-8+2zM1218 117l9-2-6-5-9+2zM1227 115l9-2-6-5-9+2zM1236 113l9-2-6-4-9+1zM1245 111l9-1-6-5-9+2zM1254 110l9-2-6-5-9+2zM1263 108l9-2-6-5-9+2zM1272 106l8-2-6-5-8+2zM1280 104l9-2-6-5-9+2zM1289 102l9-2-6-5-9+2zM1298 100l9-2-6-5-9+2zM1307 98l9-2-6-5-9+2zM1316 96l9-2-6-4-9+1zM1325 94l9-1-6-5-9+2zM1334 93l9-2-6-5-9+2z"/><path fill="#a2335d" stroke="#a2335d" d="M1029 127l8-5-6-2-8+5zM1023 125l8-5-5-3-9+5zM1017 122l9-5-6-2-9+5zM1011 120l9-5-6-2-9+5zM1005 118l9-5-6-2-9+5zM1055 132l9-4-6-3-9+3zM1049 128l9-3-6-4-9+4zM1043 125l9-4-6-3-9+4zM1037 122l9-4-6-3-9+5zM1031 120l9-5-6-2-8+4zM1026 117l8-4-6-2-8+4zM1020 115l8-4-6-3-8+5zM1014 113l8-5-6-1-8+4zM1070 132l9-4-6-3-9+3zM1064 128l9-3-6-4-9+4zM1058 125l9-4-6-3-9+3zM1052 121l9-3-6-3-9+3zM1085 132l9-3-6-4-9+3zM1079 128l9-3-6-4-9+4zM1073 125l9-4-6-3-9+3zM1094 129l9-2-6-4-9+2zM1088 125l9-2-6-4-9+2zM1103 127l9-3-6-4-9+3zM1097 123l9-3-6-4-9+3zM1118 128l9-2-6-4-9+2zM1112 124l9-2-6-4-9+2zM1127 126l8-2-6-5-8+3zM1121 122l8-3-6-4-8+3zM1135 124l9-2-6-5-9+2zM1129 119l9-2-6-4-9+2zM1144 122l9-2-6-5-9+2zM1138 117l9-2-6-4-9+2zM1153 120l9-3-6-4-9+2zM1147 115l9-2-6-4-9+2zM1162 117l9-2-6-4-9+2zM1156 113l9-2-6-4-9+2zM1171 115l9-2-6-4-9+2zM1165 111l9-2-6-4-9+2zM1180 113l9-2-6-4-9+2zM1189 111l9-1-6-5-9+2zM1198 110l8-2-6-5-8+2zM1212 112l9-2-6-4-9+2zM1206 108l9-2-6-5-9+2zM1221 110l9-2-6-4-9+2zM1215 106l9-2-6-5-9+2zM1230 108l9-1-6-5-9+2zM1224 104l9-2-6-5-9+2zM1239 107l9-2-6-5-9+2zM1233 102l9-2-6-4-9+1zM1248 105l9-2-6-5-9+2zM1242 100l9-2-6-4-9+2zM1257 103l9-2-6-5-9+2zM1251 98l9-2-6-4-9+2zM1266 101l8-2-6-5-8+2zM1260 96l8-2-6-4-8+2zM1274 99l9-2-6-5-9+2zM1268 94l9-2-6-4-9+2zM1283 97l9-2-6-4-9+1zM1277 92l9-1-6-5-9+2zM1292 95l9-2-6-4-9+2zM1286 91l9-2-6-5-9+2zM1301 93l9-2-6-4-9+2zM1295 89l9-2-6-5-9+2zM1310 91l9-1-6-5-9+2zM1304 87l9-2-6-5-9+2zM1319 90l9-2-6-5-9+2zM1313 85l9-2-6-4-9+1zM1328 88l9-2-6-5-9+2zM1322 83l9-2-6-4-9+2z"/><path fill="#962e58" stroke="#962e58" d="M1046 118l9-3-6-3-9+3zM1040 115l9-3-6-3-9+4zM1034 113l9-4-6-2-9+4zM1028 111l9-4-6-3-9+4zM1022 108l9-4-6-2-9+5zM1067 121l9-3-6-3-9+3zM1061 118l9-3-6-4-9+4zM1055 115l9-4-6-3-9+4zM1049 112l9-4-6-2-9+3zM1043 109l9-3-6-3-9+4zM1037 107l9-4-6-2-9+3zM1031 104l9-3-6-2-9+3zM1082 121l9-2-6-4-9+3zM1076 118l9-3-6-3-9+3zM1070 115l9-3-6-4-9+3zM1064 111l9-3-6-3-9+3zM1058 108l9-3-6-2-9+3zM1091 119l9-3-6-4-9+3zM1085 115l9-3-6-3-9+3zM1079 112l9-3-6-3-9+2zM1106 120l9-2-6-4-9+2zM1100 116l9-2-6-4-9+2zM1094 112l9-2-6-4-9+3zM1115 118l8-3-6-4-8+3zM1109 114l8-3-5-3-9+2zM1103 110l9-2-6-4-9+2zM1123 115l9-2-6-4-9+2zM1117 111l9-2-6-4-8+3zM1112 108l8-3-6-3-8+2zM1132 113l9-2-6-4-9+2zM1126 109l9-2-6-4-9+2zM1141 111l9-2-6-4-9+2zM1135 107l9-2-6-4-9+2zM1150 109l9-2-6-4-9+2zM1144 105l9-2-6-4-9+2zM1159 107l9-2-6-4-9+2zM1153 103l9-2-6-4-9+2zM1174 109l9-2-6-4-9+2zM1168 105l9-2-6-4-9+2zM1162 101l9-2-6-4-9+2zM1183 107l9-2-6-4-9+2zM1177 103l9-2-6-4-9+2zM1171 99l9-2-6-4-9+2zM1192 105l8-2-6-4-8+2zM1186 101l8-2-6-4-8+2zM1180 97l8-2-6-4-8+2zM1200 103l9-2-6-4-9+2zM1194 99l9-2-6-4-9+2zM1188 95l9-2-6-4-9+2zM1209 101l9-2-6-4-9+2zM1203 97l9-2-6-4-9+2zM1197 93l9-2-6-4-9+2zM1218 99l9-2-6-4-9+2zM1212 95l9-2-6-4-9+2zM1206 91l9-2-6-4-9+2zM1227 97l9-1-6-5-9+2zM1221 93l9-2-6-4-9+2zM1215 89l9-2-6-4-9+2zM1236 96l9-2-6-5-9+2zM1230 91l9-2-6-4-9+2zM1224 87l9-2-6-3-9+1zM1245 94l9-2-6-5-9+2zM1239 89l9-2-6-4-9+2zM1233 85l9-2-6-3-9+2zM1254 92l8-2-5-4-9+1zM1248 87l9-1-6-4-9+1zM1242 83l9-1-6-4-9+2zM1262 90l9-2-6-4-8+2zM1257 86l8-2-6-4-8+2zM1251 82l8-2-6-4-8+2zM1271 88l9-2-6-4-9+2zM1265 84l9-2-6-4-9+2zM1259 80l9-2-6-4-9+2zM1280 86l9-2-6-4-9+2zM1274 82l9-2-6-4-9+2zM1268 78l9-2-6-4-9+2zM1289 84l9-2-6-4-9+2zM1283 80l9-2-6-4-9+2zM1277 76l9-2-6-4-9+2zM1298 82l9-2-6-4-9+2zM1292 78l9-2-6-4-9+2zM1286 74l9-2-6-4-9+2zM1307 80l9-1-6-5-9+2zM1301 76l9-2-6-4-9+2zM1295 72l9-2-6-4-9+2zM1316 79l9-2-6-5-9+2zM1310 74l9-2-6-4-9+2zM1304 70l9-2-6-3-9+1z"/><path fill="#8a2953" stroke="#8a2953" d="M1052 106l9-3-6-3-9+3zM1046 103l9-3-6-2-9+3zM1040 101l9-3-6-2-9+3zM1073 108l9-2-6-3-9+2zM1067 105l9-2-6-3-9+3zM1061 103l9-3-6-3-9+3zM1055 100l9-3-6-2-9+3zM1049 98l9-3-6-2-9+3zM1088 109l9-3-6-3-9+3zM1082 106l9-3-6-3-9+3zM1076 103l9-3-6-3-9+3zM1070 100l9-3-6-2-9+2zM1064 97l9-2-6-3-9+3zM1058 95l9-3-6-2-9+3zM1097 106l9-2-6-3-9+2zM1091 103l9-2-6-3-9+2zM1085 100l9-2-6-3-9+2zM1079 97l9-2-6-3-9+3zM1073 95l9-3-6-2-9+2zM1067 92l9-2-6-2-9+2zM1106 104l8-2-6-3-8+2zM1100 101l8-2-6-4-8+3zM1094 98l8-3-6-2-8+2zM1088 95l8-2-6-3-8+2zM1082 92l8-2-5-3-9+3zM1120 105l9-2-6-3-9+2zM1114 102l9-2-6-4-9+3zM1108 99l9-3-6-3-9+2zM1102 95l9-2-6-3-9+3zM1096 93l9-3-6-2-9+2zM1129 103l9-2-6-3-9+2zM1123 100l9-2-6-4-9+2zM1117 96l9-2-6-3-9+2zM1111 93l9-2-6-3-9+2zM1138 101l9-2-6-4-9+3zM1132 98l9-3-6-3-9+2zM1126 94l9-2-6-3-9+2zM1120 91l9-2-6-3-9+2zM1147 99l9-2-6-4-9+2zM1141 95l9-2-6-3-9+2zM1135 92l9-2-6-3-9+2zM1129 89l9-2-6-3-9+2zM1156 97l9-2-6-4-9+2zM1150 93l9-2-6-3-9+2zM1144 90l9-2-6-3-9+2zM1138 87l9-2-6-3-9+2zM1165 95l9-2-6-4-9+2zM1159 91l9-2-6-3-9+2zM1153 88l9-2-6-3-9+2zM1174 93l8-2-6-3-8+1zM1168 89l8-1-5-4-9+2zM1162 86l9-2-6-3-9+2zM1182 91l9-2-6-3-9+2zM1176 88l9-2-6-4-8+2zM1171 84l8-2-6-3-8+2zM1191 89l9-2-6-3-9+2zM1185 86l9-2-6-4-9+2zM1179 82l9-2-6-3-9+2zM1200 87l9-2-6-3-9+2zM1194 84l9-2-6-4-9+2zM1188 80l9-2-6-3-9+2zM1209 85l9-2-6-3-9+2zM1203 82l9-2-6-4-9+2zM1197 78l9-2-6-3-9+2zM1218 83l9-1-6-4-9+2zM1212 80l9-2-6-3-9+1zM1206 76l9-1-6-4-9+2zM1227 82l9-2-6-4-9+2zM1221 78l9-2-6-3-9+2zM1215 75l9-2-6-3-9+1zM1236 80l9-2-6-4-9+2zM1230 76l9-2-6-3-9+2zM1224 73l9-2-6-3-9+2zM1245 78l8-2-6-4-8+2zM1239 74l8-2-6-3-8+2zM1233 71l8-2-6-3-8+2zM1253 76l9-2-6-4-9+2zM1247 72l9-2-6-3-9+2zM1241 69l9-2-6-3-9+2zM1262 74l9-2-6-4-9+2zM1256 70l9-2-6-3-9+2zM1250 67l9-2-6-3-9+2zM1271 72l9-2-6-3-9+1zM1265 68l9-1-6-4-9+2zM1259 65l9-2-6-3-9+2zM1280 70l9-2-6-3-9+2zM1274 67l9-2-6-4-9+2zM1268 63l9-2-6-3-9+2zM1289 68l9-2-6-3-9+2zM1283 65l9-2-6-4-9+2zM1277 61l9-2-6-3-9+2zM1298 66l9-1-6-4-9+2zM1292 63l9-2-6-3-9+1zM1286 59l9-1-6-4-9+2z"/><path fill="#7d244e" stroke="#7d244e" d="M1076 90l9-3-6-2-9+3zM1090 90l9-2-6-3-8+2zM1085 87l8-2-6-2-8+2zM1105 90l9-2-6-2-9+2zM1099 88l9-2-6-3-9+2zM1093 85l9-2-6-2-9+2zM1114 88l9-2-6-3-9+3zM1108 86l9-3-6-2-9+2zM1102 83l9-2-6-2-9+2zM1123 86l9-2-6-3-9+2zM1117 83l9-2-6-2-9+2zM1111 81l9-2-6-2-9+2zM1132 84l9-2-6-3-9+2zM1126 81l9-2-6-2-9+2zM1120 79l9-2-6-2-9+2zM1147 85l9-2-6-3-9+2zM1141 82l9-2-6-3-9+2zM1135 79l9-2-6-2-9+2zM1129 77l9-2-6-2-9+2zM1156 83l9-2-6-3-9+2zM1150 80l9-2-6-3-9+2zM1144 77l9-2-6-2-9+2zM1138 75l9-2-6-2-9+2zM1165 81l8-2-6-3-8+2zM1159 78l8-2-6-3-8+2zM1153 75l8-2-6-2-8+2zM1147 73l8-2-6-2-8+2zM1173 79l9-2-6-3-9+2zM1167 76l9-2-6-2-9+1zM1161 73l9-1-6-3-9+2zM1155 71l9-2-6-2-9+2zM1182 77l9-2-6-3-9+2zM1176 74l9-2-6-2-9+2zM1170 72l9-2-6-3-9+2zM1164 69l9-2-6-2-9+2zM1191 75l9-2-6-3-9+2zM1185 72l9-2-6-2-9+2zM1179 70l9-2-6-3-9+2zM1173 67l9-2-6-2-9+2zM1200 73l9-2-6-3-9+2zM1194 70l9-2-6-2-9+2zM1188 68l9-2-6-3-9+2zM1182 65l9-2-6-2-9+2zM1209 71l9-1-6-3-9+1zM1203 68l9-1-6-3-9+2zM1197 66l9-2-6-3-9+2zM1191 63l9-2-6-2-9+2zM1218 70l9-2-6-3-9+2zM1212 67l9-2-6-3-9+2zM1206 64l9-2-6-2-9+1zM1200 61l9-1-6-3-9+2zM1227 68l8-2-5-3-9+2zM1221 65l9-2-6-3-9+2zM1215 62l9-2-6-2-9+2zM1209 60l9-2-6-3-9+2zM1235 66l9-2-6-3-8+2zM1230 63l8-2-6-3-8+2zM1224 60l8-2-6-2-8+2zM1218 58l8-2-6-3-8+2zM1244 64l9-2-6-3-9+2zM1238 61l9-2-6-3-9+2zM1232 58l9-2-6-2-9+2zM1226 56l9-2-6-2-9+1zM1253 62l9-2-6-3-9+2zM1247 59l9-2-6-3-9+2zM1241 56l9-2-6-2-9+2zM1235 54l9-2-6-2-9+2zM1262 60l9-2-6-3-9+2zM1256 57l9-2-6-2-9+1zM1250 54l9-1-6-3-9+2zM1244 52l9-2-6-2-9+2zM1271 58l9-2-6-3-9+2zM1265 55l9-2-6-2-9+2zM1259 53l9-2-6-3-9+2zM1253 50l9-2-6-2-9+2zM1280 56l9-2-6-3-9+2zM1274 53l9-2-6-2-9+2zM1268 51l9-2-6-3-9+2zM1262 48l9-2-6-2-9+2z"/></g><path transform="scale(.5)" fill="none" stroke="#000" stroke-opacity="1" stroke-width="1.4" d="M1173 398l-6-2-6-2-6-2-6-2-6-2-6-2-6-3-6-2-6-2-6-2-6-2-6-2-6-2-6-3-6-2-6-2-6-2-6-2-6-2-6-2-6-3-5-2-6-2-6-2-6-2-6-2-6-3-6-2-6-2-6-2-6-2-6-2-6-2-6-3-6-2-6-2-6-2-6-2-6-2-6-2-6-3-6-2-6-2-6-2M1182 390l-6-8-6-9-6-8-6-7-6-8-6-7-6-6-6-6-6-6-6-5-6-4-6-5-6-3-6-4-6-3-6-3-6-2-6-3-6-2-6-2-6-1-6-2-6-1-6-2-6-1-6-1-6-1-5-2-6-1-6-1-6-1-6-1-6-1-6-1-6-1-6-1-6-1-6-1-6-1-6-1-6-1-6-1-6-1-6-1M1191 388l-6-8-6-9-6-8-6-8-6-8-6-8-6-7-6-7-6-7-6-7-6-6-6-6-6-5-6-6-6-4-6-5-6-4-6-4-6-4-6-3-6-3-6-3-6-3-6-2-6-2-6-3-6-1-6-2-6-2-6-1-6-2-6-1-6-1-5-1-6-1-6-1-6-1-6-1-6-1-6-1-6+0-6-1-6-1-6+0M1200 386l-6-8-6-9-6-8-6-8-6-9-6-8-6-7-6-8-6-7-6-8-6-6-6-7-6-6-6-6-6-6-6-6-6-5-6-5-6-5-6-4-6-4-6-4-6-4-6-3-6-3-6-3-6-3-6-3-6-2-6-2-6-2-6-2-6-2-6-1-6-2-6-1-6-1-6-1-6-1-5-1-6-1-6+0-6-1-6-1M1209 384l-6-8-6-9-6-8-6-8-6-9-6-8-6-8-6-8-6-7-6-8-6-7-6-7-6-7-6-7-6-6-6-6-6-6-6-6-6-5-6-5-6-5-6-5-6-4-6-4-6-4-6-4-6-3-6-3-6-3-6-3-6-3-6-2-6-2-6-2-6-2-6-2-6-2-6-1-6-1-6-1-6-1-6-1-6-1-6-1M1217 383l-6-9-6-9-6-8-6-8-6-9-5-8-6-8-6-8-6-8-6-8-6-7-6-7-6-8-6-6-6-7-6-7-6-6-6-6-6-6-6-6-6-5-6-5-6-5-6-5-6-4-6-4-6-4-6-4-6-4-6-3-6-3-6-3-6-3-6-2-6-2-6-3-6-2-6-1-6-2-6-1-6-2-6-1-6-1-6-1M1226 381l-6-9-6-8-6-9-6-8-6-9-6-8-6-8-6-8-6-8-6-8-6-8-5-7-6-8-6-7-6-7-6-6-6-7-6-6-6-7-6-6-6-5-6-6-6-5-6-5-6-5-6-5-6-4-6-4-6-4-6-4-6-4-6-3-6-3-6-3-6-3-6-2-6-2-6-2-6-2-6-2-6-2-6-1-6-1-6-1M1235 379l-6-9-6-8-6-9-6-8-6-9-6-8-6-8-6-8-6-8-6-8-6-8-6-8-6-7-6-7-6-8-6-7-6-6-5-7-6-6-6-7-6-6-6-5-6-6-6-5-6-6-6-5-6-4-6-5-6-4-6-4-6-4-6-4-6-3-6-3-6-3-6-3-6-3-6-2-6-2-6-2-6-2-6-2-6-1-6-2M1244 377l-6-9-6-8-6-9-6-8-6-9-6-8-6-8-6-8-6-8-6-8-6-8-6-8-6-8-6-7-6-7-6-7-6-7-6-7-6-7-6-6-6-6-6-6-6-6-5-6-6-5-6-5-6-5-6-5-6-5-6-4-6-4-6-4-6-4-6-3-6-3-6-4-6-2-6-3-6-2-6-3-6-2-6-2-6-1-6-2M1253 375l-6-8-6-9-6-9-6-8-6-9-6-8-6-8-6-8-6-9-6-8-6-7-6-8-6-8-6-7-6-8-6-7-6-7-6-7-6-7-6-6-6-7-6-6-6-6-6-5-6-6-6-5-6-6-6-5-6-4-5-5-6-4-6-4-6-4-6-4-6-3-6-4-6-3-6-3-6-2-6-3-6-2-6-2-6-2-6-1M1262 373l-6-8-6-9-6-8-6-9-6-8-6-9-6-8-6-8-6-8-6-9-6-7-6-8-6-8-6-8-6-7-6-7-6-8-6-6-6-7-6-7-6-6-6-7-6-6-6-6-6-5-6-6-6-5-6-5-6-5-6-5-6-5-6-4-6-4-6-4-6-3-5-4-6-3-6-3-6-3-6-2-6-3-6-2-6-2-6-2M1271 371l-6-8-6-9-6-8-6-9-6-8-6-9-6-8-6-8-6-8-6-9-6-8-6-7-6-8-6-8-6-7-6-8-6-7-6-7-6-7-6-7-6-6-6-6-6-7-6-6-6-6-6-5-6-6-6-5-6-5-6-5-6-4-6-5-6-4-6-4-6-4-6-3-6-4-6-3-6-3-6-2-5-3-6-2-6-2-6-2M1279 369l-6-8-5-9-6-8-6-9-6-8-6-9-6-8-6-8-6-8-6-9-6-8-6-7-6-8-6-8-6-7-6-8-6-7-6-7-6-7-6-7-6-7-6-6-6-6-6-6-6-6-6-6-6-6-6-5-6-5-6-5-6-5-6-4-6-4-6-5-6-3-6-4-6-3-6-4-6-3-6-3-6-2-6-2-6-3-6-1M1288 368l-6-9-6-9-6-8-6-9-6-8-6-9-6-8-5-8-6-8-6-8-6-8-6-8-6-8-6-8-6-7-6-8-6-7-6-7-6-7-6-7-6-7-6-6-6-7-6-6-6-6-6-6-6-5-6-6-6-5-6-5-6-5-6-4-6-5-6-4-6-4-6-3-6-4-6-3-6-3-6-3-6-3-6-2-6-3-6-2M1297 366l-6-9-6-8-6-9-6-9-6-8-6-8-6-9-6-8-6-8-6-8-6-8-6-8-6-8-5-8-6-7-6-8-6-7-6-7-6-7-6-7-6-7-6-7-6-6-6-6-6-6-6-6-6-6-6-5-6-5-6-6-6-4-6-5-6-4-6-5-6-4-6-4-6-3-6-3-6-4-6-3-6-2-6-3-6-2-6-2M1306 364l-6-9-6-8-6-9-6-8-6-9-6-8-6-9-6-8-6-8-6-8-6-8-6-8-6-8-6-8-6-7-6-8-6-7-6-8-6-7-5-6-6-7-6-7-6-6-6-6-6-7-6-5-6-6-6-6-6-5-6-5-6-5-6-5-6-4-6-4-6-4-6-4-6-4-6-3-6-4-6-3-6-2-6-3-6-2-6-2M1315 362l-6-9-6-8-6-9-6-8-6-9-6-8-6-9-6-8-6-8-6-8-6-8-6-8-6-8-6-8-6-7-6-8-6-7-6-8-6-7-6-7-6-6-6-7-6-6-6-7-6-6-5-6-6-5-6-6-6-5-6-5-6-5-6-5-6-5-6-4-6-4-6-4-6-4-6-3-6-3-6-3-6-3-6-3-6-2-6-2M1324 360l-6-9-6-8-6-9-6-8-6-9-6-8-6-8-6-9-6-8-6-8-6-8-6-8-6-8-6-8-6-7-6-8-6-7-6-8-6-7-6-7-6-6-6-7-6-6-6-7-6-6-6-6-6-6-6-5-6-6-6-5-5-5-6-4-6-5-6-4-6-4-6-4-6-4-6-4-6-3-6-3-6-3-6-2-6-3-6-2M1333 358l-6-8-6-9-6-9-6-8-6-9-6-8-6-8-6-9-6-8-6-8-6-8-6-8-6-8-6-8-6-7-6-8-6-7-6-7-6-8-6-7-6-6-6-7-6-7-6-6-6-6-6-6-6-6-6-5-6-6-6-5-6-5-6-5-6-4-6-5-6-4-6-4-5-3-6-4-6-3-6-3-6-3-6-3-6-2-6-2M1342 356l-6-8-6-9-6-8-6-9-6-8-6-9-6-8-6-9-6-8-6-8-6-8-6-8-6-8-6-8-6-7-6-8-6-7-6-7-6-8-6-7-6-6-6-7-6-7-6-6-6-6-6-6-6-6-6-5-6-6-6-5-6-5-6-5-6-4-6-5-6-4-6-4-6-4-6-3-6-3-6-4-6-2-6-3-5-3-6-2M1350 354l-6-8-6-9-6-8-5-9-6-8-6-9-6-8-6-8-6-9-6-8-6-8-6-8-6-8-6-7-6-8-6-8-6-7-6-7-6-7-6-7-6-7-6-7-6-6-6-7-6-6-6-6-6-6-6-5-6-6-6-5-6-5-6-5-6-4-6-5-6-4-6-4-6-4-6-3-6-4-6-3-6-3-6-2-6-3-6-2M1359 353l-6-9-6-9-6-8-6-9-6-8-6-9-6-8-6-8-6-9-5-8-6-8-6-8-6-8-6-7-6-8-6-8-6-7-6-7-6-7-6-7-6-7-6-7-6-6-6-7-6-6-6-6-6-6-6-5-6-6-6-5-6-5-6-5-6-5-6-4-6-4-6-4-6-4-6-3-6-4-6-3-6-3-6-2-6-3-6-2M1368 351l-6-9-6-9-6-8-6-9-6-8-6-8-6-9-6-8-6-8-6-9-6-8-6-8-6-8-6-7-6-8-5-7-6-8-6-7-6-7-6-7-6-7-6-7-6-6-6-7-6-6-6-6-6-6-6-5-6-6-6-5-6-5-6-5-6-5-6-4-6-4-6-4-6-4-6-4-6-3-6-3-6-3-6-3-6-2-6-2M1377 349l-6-9-6-8-6-9-6-8-6-9-6-8-6-9-6-8-6-8-6-8-6-9-6-8-6-7-6-8-6-8-6-7-6-8-6-7-6-7-6-7-6-7-5-7-6-6-6-7-6-6-6-6-6-6-6-5-6-6-6-5-6-5-6-5-6-5-6-4-6-4-6-4-6-4-6-4-6-3-6-3-6-3-6-3-6-2-6-2M1386 347l-6-9-6-8-6-9-6-8-6-9-6-8-6-9-6-8-6-8-6-8-6-8-6-8-6-8-6-8-6-8-6-7-6-8-6-7-6-7-6-7-6-7-6-7-6-6-6-7-6-6-6-6-5-6-6-5-6-6-6-5-6-5-6-5-6-5-6-4-6-4-6-4-6-4-6-4-6-3-6-3-6-3-6-3-6-2-6-2M1395 345l-6-9-6-8-6-9-6-8-6-9-6-8-6-8-6-9-6-8-6-8-6-8-6-8-6-8-6-8-6-8-6-7-6-8-6-7-6-7-6-7-6-7-6-7-6-6-6-6-6-7-6-6-6-6-6-5-6-6-6-5-6-5-6-5-5-4-6-5-6-4-6-4-6-4-6-4-6-3-6-3-6-3-6-3-6-2-6-2M1404 343l-6-8-6-9-6-9-6-8-6-9-6-8-6-8-6-9-6-8-6-8-6-8-6-8-6-8-6-8-6-8-6-7-6-7-6-8-6-7-6-7-6-7-6-6-6-7-6-6-6-7-6-6-6-5-6-6-6-6-6-5-6-5-6-5-6-4-6-5-6-4-6-4-6-4-6-3-5-4-6-3-6-3-6-3-6-2-6-2M1413 341l-6-8-6-9-6-8-6-9-6-8-6-9-6-8-6-9-6-8-6-8-6-8-6-8-6-8-6-8-6-7-6-8-6-7-6-8-6-7-6-7-6-7-6-6-6-7-6-6-6-6-6-7-6-5-6-6-6-5-6-6-6-5-6-5-6-4-6-5-6-4-6-4-6-4-6-3-6-4-6-3-6-3-6-3-6-2-6-2M1421 339l-6-8-6-9-6-8-6-9-6-8-5-9-6-8-6-8-6-9-6-8-6-8-6-8-6-8-6-8-6-7-6-8-6-7-6-8-6-7-6-7-6-7-6-6-6-7-6-6-6-6-6-6-6-6-6-6-6-5-6-6-6-5-6-5-6-4-6-5-6-4-6-4-6-4-6-3-6-4-6-3-6-3-6-2-6-3-6-2M1430 337l-6-8-6-9-6-8-6-9-6-8-6-9-6-8-6-8-6-9-6-8-6-8-5-8-6-8-6-7-6-8-6-8-6-7-6-7-6-8-6-7-6-6-6-7-6-7-6-6-6-6-6-6-6-6-6-6-6-5-6-6-6-5-6-4-6-5-6-5-6-4-6-4-6-4-6-3-6-4-6-3-6-3-6-2-6-3-6-2M1439 336l-6-9-6-9-6-8-6-9-6-8-6-9-6-8-6-8-6-8-6-9-6-8-6-8-6-8-6-7-6-8-6-8-5-7-6-7-6-7-6-7-6-7-6-7-6-7-6-6-6-6-6-6-6-6-6-6-6-5-6-5-6-5-6-5-6-5-6-4-6-5-6-4-6-4-6-3-6-4-6-3-6-3-6-2-6-3-6-2M1448 334l-6-9-6-8-6-9-6-8-6-9-6-8-6-9-6-8-6-8-6-9-6-8-6-8-6-7-6-8-6-8-6-7-6-8-6-7-6-7-6-7-6-7-6-7-5-6-6-7-6-6-6-6-6-6-6-6-6-5-6-5-6-5-6-5-6-5-6-4-6-5-6-4-6-3-6-4-6-3-6-4-6-3-6-2-6-3-6-2M1457 332l-6-9-6-8-6-9-6-8-6-9-6-8-6-9-6-8-6-8-6-8-6-8-6-8-6-8-6-8-6-8-6-7-6-8-6-7-6-7-6-7-6-7-6-7-6-6-6-7-6-6-6-6-6-6-6-5-5-6-6-5-6-5-6-5-6-5-6-4-6-5-6-4-6-3-6-4-6-3-6-3-6-3-6-3-6-3-6-2M1466 330l-6-9-6-8-6-9-6-8-6-9-6-8-6-9-6-8-6-8-6-8-6-8-6-8-6-8-6-8-6-8-6-7-6-8-6-7-6-7-6-7-6-7-6-7-6-6-6-7-6-6-6-6-6-6-6-5-6-6-6-5-6-5-6-5-6-5-6-4-5-4-6-4-6-4-6-4-6-3-6-3-6-3-6-3-6-2-6-3M1475 328l-6-9-6-8-6-9-6-8-6-9-6-8-6-8-6-9-6-8-6-8-6-8-6-8-6-8-6-8-6-8-6-7-6-8-6-7-6-7-6-7-6-7-6-7-6-6-6-7-6-6-6-6-6-6-6-5-6-6-6-5-6-5-6-5-6-5-6-4-6-4-6-4-6-4-6-4-6-3-6-3-5-3-6-3-6-2-6-3M1483 326l-6-8-5-9-6-9-6-8-6-8-6-9-6-8-6-9-6-8-6-8-6-8-6-8-6-8-6-8-6-7-6-8-6-7-6-8-6-7-6-7-6-7-6-6-6-7-6-6-6-7-6-6-6-5-6-6-6-6-6-5-6-5-6-5-6-4-6-5-6-4-6-4-6-4-6-4-6-3-6-3-6-3-6-3-6-2-6-3M1492 324l-6-8-6-9-6-8-6-9-6-8-6-9-6-8-5-8-6-9-6-8-6-8-6-8-6-8-6-8-6-7-6-8-6-7-6-8-6-7-6-7-6-7-6-6-6-7-6-6-6-6-6-7-6-5-6-6-6-5-6-6-6-5-6-5-6-4-6-5-6-4-6-4-6-4-6-4-6-3-6-3-6-3-6-3-6-2-6-2M1501 322l-6-8-6-9-6-8-6-9-6-8-6-9-6-8-6-8-6-9-6-8-6-8-6-8-5-8-6-8-6-7-6-8-6-7-6-7-6-8-6-7-6-7-6-6-6-7-6-6-6-6-6-6-6-6-6-6-6-5-6-6-6-5-6-5-6-4-6-5-6-4-6-4-6-4-6-3-6-4-6-3-6-3-6-3-6-2-6-2M1510 321l-6-9-6-9-6-8-6-9-6-8-6-9-6-8-6-8-6-8-6-9-6-8-6-8-6-8-6-7-6-8-6-8-6-7-6-7-5-8-6-7-6-6-6-7-6-7-6-6-6-6-6-6-6-6-6-6-6-5-6-6-6-5-6-4-6-5-6-5-6-4-6-4-6-4-6-3-6-4-6-3-6-3-6-2-6-3-6-2M1519 319l-6-9-6-8-6-9-6-9-6-8-6-8-6-9-6-8-6-8-6-9-6-8-6-8-6-8-6-7-6-8-6-8-6-7-6-7-6-7-6-7-6-7-6-7-6-7-6-6-5-6-6-6-6-6-6-6-6-5-6-5-6-5-6-5-6-5-6-4-6-5-6-4-6-4-6-3-6-4-6-3-6-3-6-2-6-3-6-2M1528 317l-6-9-6-8-6-9-6-8-6-9-6-8-6-9-6-8-6-8-6-8-6-9-6-8-6-7-6-8-6-8-6-7-6-8-6-7-6-7-6-7-6-7-6-7-6-6-6-7-6-6-6-6-6-6-6-6-6-5-6-5-5-5-6-5-6-5-6-4-6-5-6-4-6-3-6-4-6-3-6-4-6-3-6-2-6-3-6-2M1173 398l9-8 9-2 9-2 9-2 8-1 9-2 9-2 9-2 9-2 9-2 9-2 8-2 9-1 9-2 9-2 9-2 9-2 9-2 9-2 8-2 9-1 9-2 9-2 9-2 9-2 9-2 9-2 8-2 9-2 9-1 9-2 9-2 9-2 9-2 8-2 9-2 9-2 9-1 9-2 9-2M1167 396l9-14 9-2 9-2 9-2 8-2 9-2 9-2 9-2 9-1 9-2 9-2 8-2 9-2 9-2 9-2 9-2 9-2 9-1 9-2 8-2 9-2 9-2 9-2 9-2 9-2 9-1 9-2 8-2 9-2 9-2 9-2 9-2 9-2 9-2 8-1 9-2 9-2 9-2 9-2 9-2M1161 394l9-21 9-2 9-2 9-2 8-2 9-1 9-2 9-2 9-2 9-2 9-2 9-2 8-2 9-1 9-2 9-2 9-2 9-2 9-2 8-2 9-2 9-2 9-1 9-2 9-2 9-2 9-2 8-2 9-2 9-2 9-1 9-2 9-2 9-2 9-2 8-2 9-2 9-2 9-1 9-2M1155 392l9-27 9-2 9-2 9-2 8-2 9-2 9-2 9-2 9-2 9-1 9-2 9-2 8-2 9-2 9-2 9-2 9-2 9-2 9-1 8-2 9-2 9-2 9-2 9-2 9-2 9-2 9-1 8-2 9-2 9-2 9-2 9-2 9-2 9-2 9-2 8-1 9-2 9-2 9-2 9-2M1149 390l9-32 9-3 9-2 9-2 8-2 9-2 9-2 9-2 9-2 9-2 9-2 9-2 8-2 9-2 9-1 9-2 9-2 9-2 9-2 9-2 8-2 9-2 9-1 9-2 9-2 9-2 9-2 8-2 9-2 9-2 9-1 9-2 9-2 9-2 9-2 8-2 9-2 9-2 9-2 9-1M1143 388l9-38 9-3 9-3 9-2 8-2 9-2 9-2 9-2 9-2 9-1 9-2 9-2 8-2 9-2 9-2 9-2 9-2 9-2 9-1 9-2 8-2 9-2 9-2 9-2 9-2 9-2 9-1 8-2 9-2 9-2 9-2 9-2 9-2 9-2 9-1 8-2 9-2 9-2 9-2 9-2M1137 386l9-43 9-4 9-3 9-2 9-2 8-2 9-2 9-2 9-2 9-2 9-2 9-2 8-2 9-1 9-2 9-2 9-2 9-2 9-2 9-2 8-2 9-1 9-2 9-2 9-2 9-2 9-2 9-2 8-2 9-2 9-1 9-2 9-2 9-2 9-2 8-2 9-2 9-2 9-1 9-2M1131 383l9-46 9-5 9-3 9-3 9-2 8-2 9-2 9-2 9-2 9-2 9-2 9-2 8-2 9-2 9-2 9-2 9-1 9-2 9-2 9-2 8-2 9-2 9-2 9-2 9-1 9-2 9-2 9-2 8-2 9-2 9-2 9-2 9-2 9-1 9-2 8-2 9-2 9-2 9-2 9-2M1125 381l9-50 9-6 9-4 9-3 9-2 8-2 9-2 9-2 9-2 9-2 9-2 9-2 9-2 8-2 9-2 9-2 9-2 9-2 9-2 9-1 8-2 9-2 9-2 9-2 9-2 9-2 9-2 9-1 8-2 9-2 9-2 9-2 9-2 9-2 9-2 9-1 8-2 9-2 9-2 9-2M1119 379l9-54 9-7 9-4 9-3 9-3 8-2 9-2 9-2 9-3 9-1 9-2 9-2 9-2 8-2 9-2 9-2 9-2 9-2 9-2 9-2 8-2 9-1 9-2 9-2 9-2 9-2 9-2 9-2 8-2 9-1 9-2 9-2 9-2 9-2 9-2 9-2 8-2 9-1 9-2 9-2M1113 377l9-57 9-9 9-5 9-3 9-3 8-2 9-2 9-2 9-3 9-2 9-2 9-2 9-1 8-2 9-2 9-2 9-2 9-2 9-2 9-2 9-2 8-2 9-1 9-2 9-2 9-2 9-2 9-2 8-2 9-2 9-2 9-1 9-2 9-2 9-2 9-2 8-2 9-2 9-2 9-1M1107 375l9-59 9-11 9-5 9-4 9-3 8-3 9-2 9-2 9-2 9-2 9-3 9-2 9-1 8-2 9-2 9-2 9-2 9-2 9-2 9-2 9-2 8-2 9-2 9-1 9-2 9-2 9-2 9-2 8-2 9-2 9-2 9-1 9-2 9-2 9-2 9-2 8-2 9-2 9-2 9-2M1101 373l9-62 9-12 9-6 9-4 9-3 9-3 8-3 9-2 9-2 9-2 9-2 9-2 9-2 8-2 9-2 9-2 9-2 9-2 9-2 9-2 9-2 8-2 9-2 9-1 9-2 9-2 9-2 9-2 9-2 8-2 9-2 9-1 9-2 9-2 9-2 9-2 8-2 9-2 9-2 9-2M1095 371l9-63 9-14 9-7 9-5 9-4 9-3 8-2 9-3 9-2 9-2 9-2 9-2 9-2 8-2 9-2 9-2 9-2 9-2 9-2 9-2 9-2 8-2 9-1 9-2 9-2 9-2 9-2 9-2 9-2 8-2 9-1 9-2 9-2 9-2 9-2 9-2 9-2 8-2 9-2 9-1M1089 368l9-64 9-16 9-7 9-6 9-3 9-4 8-2 9-3 9-2 9-3 9-2 9-2 9-2 9-2 8-2 9-2 9-2 9-2 9-2 9-1 9-2 8-2 9-2 9-2 9-2 9-2 9-2 9-2 9-1 8-2 9-2 9-2 9-2 9-2 9-2 9-2 9-2 8-1 9-2 9-2M1083 366l9-65 9-17 9-9 9-6 9-4 9-4 8-3 9-2 9-3 9-2 9-2 9-2 9-2 9-2 8-2 9-2 9-2 9-2 9-2 9-2 9-2 8-2 9-2 9-2 9-2 9-2 9-1 9-2 9-2 8-2 9-2 9-2 9-2 9-2 9-1 9-2 9-2 8-2 9-2 9-2M1077 364l9-66 9-19 9-10 9-6 9-5 9-3 8-4 9-2 9-3 9-2 9-3 9-2 9-2 9-2 8-2 9-2 9-2 9-2 9-2 9-2 9-2 9-1 8-2 9-2 9-2 9-2 9-2 9-2 9-2 8-2 9-1 9-2 9-2 9-2 9-2 9-2 9-2 8-2 9-2 9-1M1071 362l9-66 9-21 9-11 9-7 9-5 9-4 8-3 9-3 9-3 9-3 9-2 9-2 9-2 9-2 8-2 9-2 9-2 9-2 9-2 9-2 9-2 9-2 8-2 9-2 9-2 9-1 9-2 9-2 9-2 9-2 8-2 9-2 9-2 9-2 9-1 9-2 9-2 8-2 9-2 9-2M1065 360l9-67 9-22 9-12 9-8 9-5 9-4 9-4 8-3 9-3 9-2 9-3 9-2 9-2 9-2 8-3 9-2 9-2 9-1 9-2 9-2 9-2 9-2 8-2 9-2 9-2 9-2 9-2 9-2 9-1 9-2 8-2 9-2 9-2 9-2 9-2 9-2 9-1 8-2 9-2 9-2M1059 358l9-67 9-24 9-13 9-8 9-6 9-5 9-3 8-4 9-3 9-2 9-3 9-2 9-2 9-2 8-3 9-2 9-2 9-2 9-2 9-1 9-2 9-2 8-2 9-2 9-2 9-2 9-2 9-2 9-2 9-1 8-2 9-2 9-2 9-2 9-2 9-2 9-2 9-2 8-1 9-2M1053 356l9-67 9-25 9-14 9-9 9-7 9-5 9-4 8-3 9-3 9-3 9-3 9-2 9-2 9-2 9-2 8-3 9-2 9-2 9-2 9-1 9-2 9-2 8-2 9-2 9-2 9-2 9-2 9-2 9-2 9-1 8-2 9-2 9-2 9-2 9-2 9-2 9-2 9-2 8-1 9-2M1047 353l9-65 9-27 9-15 9-10 9-7 9-5 9-5 8-3 9-4 9-2 9-3 9-3 9-2 9-2 9-2 8-2 9-2 9-2 9-2 9-2 9-2 9-2 8-2 9-2 9-2 9-2 9-2 9-2 9-1 9-2 8-2 9-2 9-2 9-2 9-2 9-2 9-2 9-1 8-2 9-2M1042 351l8-65 9-28 9-16 9-11 9-7 9-6 9-4 8-4 9-4 9-3 9-2 9-3 9-2 9-3 9-2 8-2 9-2 9-2 9-2 9-2 9-2 9-2 9-2 8-2 9-2 9-1 9-2 9-2 9-2 9-2 8-2 9-2 9-2 9-2 9-1 9-2 9-2 9-2 8-2 9-2M1036 349l8-64 9-30 9-17 9-11 9-8 9-6 9-5 8-4 9-4 9-3 9-3 9-2 9-3 9-2 9-2 8-2 9-2 9-3 9-2 9-1 9-2 9-2 9-2 8-2 9-2 9-2 9-2 9-2 9-2 9-2 9-1 8-2 9-2 9-2 9-2 9-2 9-2 9-2 8-2 9-1M1030 347l8-64 9-30 9-18 9-12 9-9 9-6 9-5 9-5 8-3 9-4 9-3 9-2 9-3 9-2 9-2 8-3 9-2 9-2 9-2 9-2 9-2 9-2 9-2 8-2 9-1 9-2 9-2 9-2 9-2 9-2 9-2 8-2 9-2 9-2 9-1 9-2 9-2 9-2 8-2 9-2M1024 345l8-63 9-31 9-19 9-13 9-9 9-7 9-6 9-4 8-4 9-3 9-4 9-2 9-3 9-2 9-3 8-2 9-2 9-2 9-2 9-2 9-2 9-2 9-2 8-2 9-2 9-2 9-1 9-2 9-2 9-2 9-2 8-2 9-2 9-2 9-2 9-1 9-2 9-2 9-2 8-2M1018 343l8-62 9-33 9-19 9-14 9-9 9-8 9-6 9-4 8-4 9-4 9-3 9-3 9-3 9-2 9-2 9-3 8-2 9-2 9-2 9-2 9-2 9-2 9-2 8-2 9-2 9-2 9-2 9-1 9-2 9-2 9-2 8-2 9-2 9-2 9-2 9-2 9-1 9-2 9-2 8-2M1012 340l8-60 9-33 9-21 9-14 9-10 9-8 9-6 9-5 8-5 9-3 9-4 9-3 9-2 9-3 9-2 9-2 8-3 9-2 9-2 9-2 9-2 9-2 9-2 9-2 8-2 9-1 9-2 9-2 9-2 9-2 9-2 8-2 9-2 9-2 9-1 9-2 9-2 9-2 9-2 8-2M1006 338l9-60 8-33 9-22 9-14 9-11 9-8 9-7 9-5 8-5 9-3 9-4 9-3 9-3 9-2 9-3 9-2 8-2 9-2 9-2 9-2 9-2 9-2 9-2 9-2 8-2 9-2 9-2 9-2 9-2 9-2 9-2 8-1 9-2 9-2 9-2 9-2 9-2 9-2 9-2 8-2M1000 336l9-59 8-34 9-22 9-15 9-12 9-8 9-7 9-6 8-4 9-4 9-4 9-3 9-3 9-2 9-3 9-2 8-3 9-2 9-2 9-2 9-2 9-2 9-2 9-2 8-2 9-2 9-1 9-2 9-2 9-2 9-2 9-2 8-2 9-2 9-2 9-1 9-2 9-2 9-2 8-2M994 334l9-58 8-34 9-23 9-16 9-12 9-9 9-7 9-6 9-5 8-4 9-4 9-3 9-3 9-3 9-2 9-2 8-3 9-2 9-2 9-2 9-2 9-2 9-2 9-2 8-2 9-2 9-2 9-2 9-2 9-1 9-2 9-2 8-2 9-2 9-2 9-2 9-2 9-2 9-1 8-2M988 332l9-57 8-35 9-23 9-17 9-12 9-10 9-7 9-6 9-5 8-5 9-3 9-4 9-3 9-2 9-3 9-2 9-3 8-2 9-2 9-2 9-2 9-2 9-2 9-2 8-2 9-2 9-2 9-2 9-2 9-1 9-2 9-2 8-2 9-2 9-2 9-2 9-2 9-2 9-1 9-2M982 330l9-56 8-35 9-24 9-17 9-13 9-10 9-8 9-6 9-5 8-5 9-4 9-3 9-3 9-3 9-3 9-2 9-2 8-3 9-2 9-2 9-2 9-2 9-2 9-2 8-2 9-2 9-2 9-2 9-1 9-2 9-2 9-2 8-2 9-2 9-2 9-2 9-2 9-1 9-2 9-2M976 328l9-55 8-35 9-25 9-17 9-14 9-10 9-8 9-7 9-5 8-5 9-4 9-3 9-4 9-2 9-3 9-3 9-2 8-2 9-2 9-2 9-3 9-2 9-2 9-2 9-1 8-2 9-2 9-2 9-2 9-2 9-2 9-2 8-2 9-2 9-1 9-2 9-2 9-2 9-2 9-2M970 325l9-53 9-35 8-25 9-18 9-14 9-11 9-8 9-7 9-6 8-5 9-4 9-4 9-3 9-3 9-2 9-3 9-2 8-3 9-2 9-2 9-2 9-2 9-2 9-2 9-2 8-2 9-2 9-2 9-2 9-1 9-2 9-2 8-2 9-2 9-2 9-2 9-2 9-2 9-1 9-2M964 323l9-52 9-35 8-26 9-18 9-14 9-12 9-8 9-7 9-6 8-5 9-5 9-3 9-4 9-3 9-2 9-3 9-2 8-3 9-2 9-2 9-2 9-2 9-2 9-2 9-2 8-2 9-2 9-2 9-2 9-2 9-2 9-2 9-1 8-2 9-2 9-2 9-2 9-2 9-2 9-2M958 321l9-51 9-35 8-26 9-19 9-15 9-11 9-9 9-8 9-6 9-5 8-4 9-4 9-3 9-4 9-2 9-3 9-2 8-3 9-2 9-2 9-2 9-2 9-2 9-2 9-2 8-2 9-2 9-2 9-2 9-2 9-2 9-2 9-1 8-2 9-2 9-2 9-2 9-2 9-2 9-2M952 319l9-50 9-35 8-26 9-20 9-15 9-11 9-10 9-7 9-7 9-5 8-5 9-3 9-4 9-3 9-3 9-3 9-2 9-2 8-3 9-2 9-2 9-2 9-2 9-2 9-2 8-2 9-2 9-2 9-2 9-2 9-1 9-2 9-2 8-2 9-2 9-2 9-2 9-2 9-2 9-1M946 317l9-49 9-35 8-26 9-20 9-15 9-12 9-10 9-8 9-7 9-5 8-5 9-4 9-3 9-3 9-3 9-3 9-3 9-2 8-2 9-2 9-2 9-3 9-2 9-2 9-2 8-1 9-2 9-2 9-2 9-2 9-2 9-2 9-2 8-2 9-2 9-2 9-1 9-2 9-2 9-2M940 315l9-48 9-35 8-26 9-20 9-16 9-12 9-10 9-8 9-7 9-6 8-5 9-4 9-3 9-4 9-3 9-2 9-3 9-2 8-2 9-3 9-2 9-2 9-2 9-2 9-2 9-2 8-2 9-2 9-2 9-2 9-1 9-2 9-2 8-2 9-2 9-2 9-2 9-2 9-2 9-1M934 313l9-47 9-35 9-26 8-20 9-16 9-13 9-10 9-9 9-7 9-5 8-5 9-5 9-3 9-4 9-3 9-2 9-3 9-2 8-3 9-2 9-2 9-2 9-2 9-2 9-2 9-2 8-2 9-2 9-2 9-2 9-2 9-1 9-2 8-2 9-2 9-2 9-2 9-2 9-2 9-2M928 310l9-45 9-34 9-27 8-20 9-17 9-13 9-10 9-9 9-7 9-6 9-5 8-4 9-4 9-3 9-3 9-3 9-3 9-2 8-2 9-3 9-2 9-2 9-2 9-2 9-2 9-2 8-2 9-2 9-2 9-2 9-2 9-1 9-2 9-2 8-2 9-2 9-2 9-2 9-2 9-2M922 308l9-44 9-34 9-26 8-21 9-17 9-13 9-11 9-9 9-7 9-6 9-5 8-4 9-4 9-4 9-3 9-3 9-2 9-3 8-2 9-2 9-2 9-3 9-2 9-2 9-2 9-2 8-2 9-1 9-2 9-2 9-2 9-2 9-2 9-2 8-2 9-2 9-2 9-1 9-2 9-2M916 306l9-43 9-34 9-26 8-21 9-17 9-13 9-11 9-9 9-8 9-6 9-5 8-5 9-4 9-3 9-3 9-3 9-3 9-2 9-3 8-2 9-2 9-2 9-2 9-2 9-2 9-2 8-2 9-2 9-2 9-2 9-2 9-2 9-1 9-2 8-2 9-2 9-2 9-2 9-2 9-2M910 304l9-42 9-33 9-27 8-21 9-17 9-13 9-12 9-9 9-7 9-7 9-5 8-4 9-5 9-3 9-3 9-3 9-3 9-2 9-3 8-2 9-2 9-2 9-2 9-2 9-2 9-2 8-2 9-2 9-2 9-2 9-2 9-2 9-2 9-2 8-2 9-1 9-2 9-2 9-2 9-2"/><path transform="scale(.5)" stroke="#000" stroke-width="6.0" stroke-linecap="round" d="M1009 333h0M1009 332h0M1010 330h0M1010 329h0M1010 328h0M1010 327h0M1010 326h0M1010 325h0M1010 324h0M1011 323h0M1011 322h0M1011 320h0M1011 319h0M1011 318h0M1011 317h0M1011 316h0M1011 315h0M1012 314h0M1012 313h0M1012 312h0M1012 311h0M1012 310h0M1012 310h0M1012 309h0M1013 308h0M1013 307h0M1013 306h0M1013 305h0M1057 347h0M1057 346h0M1057 344h0M1058 343h0M1058 341h0M1058 340h0M1058 338h0M1058 337h0M1058 336h0M1058 334h0M1058 333h0M1059 332h0M1059 331h0M1059 329h0M1059 328h0M1059 327h0M1059 326h0M1059 325h0M1060 324h0M1060 322h0M1060 321h0M1060 320h0M1060 319h0M1060 318h0M1060 317h0M1060 316h0M1061 315h0M1061 315h0M1105 360h0M1105 358h0M1105 356h0M1105 354h0M1106 352h0M1106 351h0M1106 349h0M1106 348h0M1106 346h0M1106 345h0M1106 344h0M1106 342h0M1107 341h0M1107 340h0M1107 339h0M1107 338h0M1107 337h0M1107 336h0M1107 335h0M1108 334h0M1108 333h0M1108 332h0M1108 332h0M1108 331h0M1108 330h0M1108 329h0M1108 329h0M1109 328h0M911 297h0M914 285h0M916 273h0M919 262h0M921 252h0M924 243h0M926 234h0M929 226h0M931 218h0M934 210h0M936 204h0M941 185h0M947 170h0M954 156h0M972 132h0M999 109h0M1043 88h0M1087 75h0M1132 65h0M1176 55h0M1220 46h0M1265 36h0M1150 375h0M1150 373h0M1150 371h0M1150 369h0M1150 368h0M1150 367h0M1151 366h0M1151 365h0M1151 365h0M1151 364h0M1151 364h0M1152 363h0M1152 363h0M1152 362h0M1152 362h0M1152 362h0M1152 362h0M1153 361h0M1153 361h0M1153 361h0M1153 361h0M1153 360h0M1153 360h0M1154 360h0M1154 360h0M1154 360h0M1154 360h0M1154 360h0M1171 383h0M1173 382h0M1175 382h0M1177 381h0M1179 381h0M1182 380h0M1184 380h0M1186 379h0M1188 379h0M1191 378h0M1193 378h0M1195 378h0M1197 377h0M1199 377h0M1202 376h0M1204 376h0M1206 375h0M1208 375h0M1211 374h0M1213 374h0M1215 373h0M1217 373h0M1219 372h0M1222 372h0M1224 371h0M1226 371h0M1228 370h0M1230 370h0M1233 370h0M1235 369h0M1237 369h0M1239 368h0M1242 368h0M1244 367h0M1246 367h0M1248 366h0M1250 366h0M1253 365h0M1255 365h0M1257 364h0M1259 364h0M1262 363h0M1264 363h0M1266 362h0M1268 362h0M1270 362h0M1273 361h0M1275 361h0M1277 360h0M1279 360h0M1281 359h0M1284 359h0M1286 358h0M1288 358h0M1290 357h0M1293 357h0M1295 356h0M1297 356h0M1299 355h0M1300 355h0M1322 351h0M1344 346h0M1367 341h0M1389 336h0M1411 332h0M1433 327h0M1455 322h0M1477 318h0M1500 313h0M1522 308h0M1190 274h0M1234 264h0M1279 254h0M1323 245h0M1367 235h0M1412 226h0M1456 216h0M1142 216h0M1187 205h0M1231 195h0M1275 185h0M1320 176h0M1364 166h0M1408 157h0M1094 170h0M1139 155h0M1183 145h0M1227 135h0M1272 125h0M1316 116h0M1360 106h0M1047 136h0M1091 119h0M1135 107h0M1180 97h0M1224 87h0M1268 78h0M1313 68h0M1119 299h0M1071 264h0M1023 245h0M1137 289h0M1089 241h0M1041 209h0M1163 280h0M1116 225h0M1068 183h0"/><path transform="scale(.5)" stroke="#1c1c8c" stroke-width="5.2" stroke-linecap="round" d="M1151 356h0M1154 354h0M1157 353h0M1159 352h0M1162 351h0M1165 351h0M1167 350h0M1170 349h0M1173 348h0M1175 348h0M1178 347h0M1181 347h0M1183 346h0M1186 345h0M1189 345h0M1191 344h0M1194 344h0M1197 343h0M1199 342h0M1202 342h0M1205 341h0M1207 341h0M1210 340h0M1213 340h0M1215 339h0M1218 338h0M1221 338h0M1223 337h0M1226 337h0M1229 336h0M1231 336h0M1234 335h0M1237 334h0M1239 334h0M1242 333h0"/><path fill="none" stroke="#404040" stroke-width=".8" d="M52.5 152h-3.5M52.5 126h-3.5M52.5 100.1h-3.5M52.5 74.2h-3.5M52.5 48.2h-3.5M157.1 189.6l-3.5 .75M127.2 178.8l-3.5 .75M97.3 168.1l-3.5 .75M67.4 157.4l-3.5 .75M231.3 190.9l3.3 1.2M275.7 181.5l3.3 1.2M320 172.1l3.3 1.2M364.4 162.7l3.3 1.2"/><path fill="none" stroke="#404040" stroke-width=".8" d="M455 152h-3.5M455 126h-3.5M455 100.1h-3.5M455 74.2h-3.5M455 48.2h-3.5M559.6 189.6l-3.5 .75M529.7 178.8l-3.5 .75M499.8 168.1l-3.5 .75M469.9 157.4l-3.5 .75M633.9 190.9l3.3 1.2M678.2 181.5l3.3 1.2M722.5 172.1l3.3 1.2M766.9 162.7l3.3 1.2"/><text x="45.1" y="154" font-size="9.3" text-anchor="end" fill="#111">0</text><text x="45.1" y="128.2" font-size="9.3" text-anchor="end" fill="#111">500</text><text x="45.1" y="102.4" font-size="9.3" text-anchor="end" fill="#111">1000</text><text x="45.1" y="76.7" font-size="9.3" text-anchor="end" fill="#111">1500</text><text x="45.1" y="50.9" font-size="9.3" text-anchor="end" fill="#111">2000</text><text x="151" y="202.3" font-size="9.3" text-anchor="middle" fill="#111">20</text><text x="119.4" y="191.2" font-size="9.3" text-anchor="middle" fill="#111">40</text><text x="87.8" y="180.1" font-size="9.3" text-anchor="middle" fill="#111">60</text><text x="56.2" y="169" font-size="9.3" text-anchor="middle" fill="#111">80</text><text x="246.9" y="202.5" font-size="9.3" text-anchor="middle" fill="#111">1000</text><text x="290.6" y="193.6" font-size="9.3" text-anchor="middle" fill="#111">2000</text><text x="334.3" y="184.6" font-size="9.3" text-anchor="middle" fill="#111">3000</text><text x="378" y="175.7" font-size="9.3" text-anchor="middle" fill="#111">4000</text><text x="68.5" y="195" font-size="13.5" fill="#111" transform="rotate(19.5 68.5 195)">Flip angle</text><text x="322.4" y="215" font-size="13.5" text-anchor="middle" fill="#111">TR (ms)</text><text x="13.2" y="119.8" font-size="14" font-weight="bold" fill="#1a1a1a" transform="rotate(-90 13.2 119.8)">SNR<tspan font-size="9.5" dy="3" dx="4">9.4 T</tspan></text><text x="447.6" y="154" font-size="9.3" text-anchor="end" fill="#111">0</text><text x="447.6" y="128.2" font-size="9.3" text-anchor="end" fill="#111">500</text><text x="447.6" y="102.4" font-size="9.3" text-anchor="end" fill="#111">1000</text><text x="447.6" y="76.7" font-size="9.3" text-anchor="end" fill="#111">1500</text><text x="447.6" y="50.9" font-size="9.3" text-anchor="end" fill="#111">2000</text><text x="553.5" y="202.3" font-size="9.3" text-anchor="middle" fill="#111">20</text><text x="521.9" y="191.2" font-size="9.3" text-anchor="middle" fill="#111">40</text><text x="490.3" y="180.1" font-size="9.3" text-anchor="middle" fill="#111">60</text><text x="458.7" y="169" font-size="9.3" text-anchor="middle" fill="#111">80</text><text x="649.4" y="202.5" font-size="9.3" text-anchor="middle" fill="#111">1000</text><text x="693.1" y="193.6" font-size="9.3" text-anchor="middle" fill="#111">2000</text><text x="736.8" y="184.6" font-size="9.3" text-anchor="middle" fill="#111">3000</text><text x="780.5" y="175.7" font-size="9.3" text-anchor="middle" fill="#111">4000</text><text x="471" y="195" font-size="13.5" fill="#111" transform="rotate(19.5 471 195)">Flip angle</text><text x="724.9" y="215" font-size="13.5" text-anchor="middle" fill="#111">TR (ms)</text><text x="418.3" y="125.5" font-size="14" font-weight="bold" fill="#4a8fd6" transform="rotate(-90 418.3 125.5)">SNR<tspan font-size="8.5" font-weight="normal" dy="3" dx="5">21.1 T</tspan></text><text x="7.8" y="28.2" font-size="16" font-weight="bold" fill="#111">A</text><text x="410.3" y="28.2" font-size="16" font-weight="bold" fill="#111">B</text><text x="51" y="41.8" font-size="16" font-weight="bold" fill="#111" transform="rotate(-10.5 51 41.8)">9.4 T <tspan font-weight="normal" dx="2.5">(T<tspan font-size="9" dy="4">1</tspan><tspan dy="-4"> = 788 ms)</tspan></tspan></text><text x="454" y="42" font-size="16" font-weight="bold" fill="#4a8fd6" transform="rotate(-10.5 454 42)">21.1 T <tspan font-weight="normal" dx="5">(T<tspan font-size="9" dy="4">1</tspan><tspan dy="-4"> = 409 ms)</tspan></tspan></text><text x="68.7" y="457.6" font-size="9.3" text-anchor="end" fill="#111">0</text><text x="68.7" y="436.8" font-size="9.3" text-anchor="end" fill="#111">10</text><text x="68.7" y="416" font-size="9.3" text-anchor="end" fill="#111">20</text><text x="68.7" y="395.2" font-size="9.3" text-anchor="end" fill="#111">30</text><text x="68.7" y="374.4" font-size="9.3" text-anchor="end" fill="#111">40</text><text x="68.7" y="353.5" font-size="9.3" text-anchor="end" fill="#111">50</text><text x="68.7" y="332.7" font-size="9.3" text-anchor="end" fill="#111">60</text><text x="68.7" y="311.9" font-size="9.3" text-anchor="end" fill="#111">70</text><text x="68.7" y="291.1" font-size="9.3" text-anchor="end" fill="#111">80</text><text x="68.7" y="270.3" font-size="9.3" text-anchor="end" fill="#111">90</text><text x="72" y="466.1" font-size="9.3" text-anchor="middle" fill="#111">0</text><text x="104.4" y="466.1" font-size="9.3" text-anchor="middle" fill="#111">500</text><text x="136.8" y="466.1" font-size="9.3" text-anchor="middle" fill="#111">1000</text><text x="169.1" y="466.1" font-size="9.3" text-anchor="middle" fill="#111">1500</text><text x="201.5" y="466.1" font-size="9.3" text-anchor="middle" fill="#111">2000</text><text x="233.9" y="466.1" font-size="9.3" text-anchor="middle" fill="#111">2500</text><text x="266.2" y="466.1" font-size="9.3" text-anchor="middle" fill="#111">3000</text><text x="298.6" y="466.1" font-size="9.3" text-anchor="middle" fill="#111">3500</text><text x="331" y="466.1" font-size="9.3" text-anchor="middle" fill="#111">4000</text><text x="355.2" y="439.8" font-size="9.3" fill="#111">10</text><text x="355.2" y="420.2" font-size="9.3" fill="#111">20</text><text x="355.2" y="400.6" font-size="9.3" fill="#111">30</text><text x="355.2" y="381" font-size="9.3" fill="#111">40</text><text x="355.2" y="361.3" font-size="9.3" fill="#111">50</text><text x="355.2" y="341.7" font-size="9.3" fill="#111">60</text><text x="355.2" y="322.1" font-size="9.3" fill="#111">70</text><text x="355.2" y="302.5" font-size="9.3" fill="#111">80</text><text x="355.2" y="282.9" font-size="9.3" fill="#111">90</text><text x="45.1" y="355.5" font-size="13.8" text-anchor="middle" fill="#111" transform="rotate(-90 45.1 355.5)">Flip angle</text><text x="197.3" y="487.5" font-size="13.5" text-anchor="middle" fill="#111">TR (ms)</text><text x="35.5" y="264.2" font-size="16" font-weight="bold" fill="#111">C</text><text x="73.5" y="262.4" font-size="16" font-weight="bold" fill="#1a1a1a">9.4 T</text><text x="268.9" y="259.9" font-size="12.5" fill="#1a1a1a">SNR<tspan font-size="7.5" dy="3">eff</tspan><tspan dy="-3"> (1/sqrt(min))</tspan></text><text x="472.2" y="457.6" font-size="9.3" text-anchor="end" fill="#111">0</text><text x="472.2" y="437" font-size="9.3" text-anchor="end" fill="#111">10</text><text x="472.2" y="416.3" font-size="9.3" text-anchor="end" fill="#111">20</text><text x="472.2" y="395.7" font-size="9.3" text-anchor="end" fill="#111">30</text><text x="472.2" y="375" font-size="9.3" text-anchor="end" fill="#111">40</text><text x="472.2" y="354.4" font-size="9.3" text-anchor="end" fill="#111">50</text><text x="472.2" y="333.7" font-size="9.3" text-anchor="end" fill="#111">60</text><text x="472.2" y="313.1" font-size="9.3" text-anchor="end" fill="#111">70</text><text x="472.2" y="292.4" font-size="9.3" text-anchor="end" fill="#111">80</text><text x="472.2" y="271.8" font-size="9.3" text-anchor="end" fill="#111">90</text><text x="475.5" y="466.1" font-size="9.3" text-anchor="middle" fill="#111">0</text><text x="507.8" y="466.1" font-size="9.3" text-anchor="middle" fill="#111">500</text><text x="540.1" y="466.1" font-size="9.3" text-anchor="middle" fill="#111">1000</text><text x="572.4" y="466.1" font-size="9.3" text-anchor="middle" fill="#111">1500</text><text x="604.8" y="466.1" font-size="9.3" text-anchor="middle" fill="#111">2000</text><text x="637.1" y="466.1" font-size="9.3" text-anchor="middle" fill="#111">2500</text><text x="669.4" y="466.1" font-size="9.3" text-anchor="middle" fill="#111">3000</text><text x="701.7" y="466.1" font-size="9.3" text-anchor="middle" fill="#111">3500</text><text x="734" y="466.1" font-size="9.3" text-anchor="middle" fill="#111">4000</text><text x="758.2" y="433.9" font-size="9.3" fill="#111">100</text><text x="758.2" y="406.8" font-size="9.3" fill="#111">200</text><text x="758.2" y="379.7" font-size="9.3" fill="#111">300</text><text x="758.2" y="352.6" font-size="9.3" fill="#111">400</text><text x="758.2" y="325.5" font-size="9.3" fill="#111">500</text><text x="758.2" y="298.4" font-size="9.3" fill="#111">600</text><text x="758.2" y="271.3" font-size="9.3" fill="#111">700</text><text x="448.6" y="355.5" font-size="13.8" text-anchor="middle" fill="#111" transform="rotate(-90 448.6 355.5)">Flip angle</text><text x="600.8" y="487.5" font-size="13.5" text-anchor="middle" fill="#111">TR (ms)</text><text x="437" y="264.2" font-size="16" font-weight="bold" fill="#111">D</text><text x="474" y="262.4" font-size="16" font-weight="bold" fill="#4a8fd6">21.1 T</text><text x="676.1" y="259.9" font-size="12.5" fill="#4a8fd6">SNR<tspan font-size="7.5" dy="3">eff</tspan><tspan dy="-3"> (1/sqrt(min))</tspan></text><path fill="none" stroke="#c8c8c8" stroke-width="1.2" d="M72 454.8H331M71.5 267V454.8M475.5 454.8H734M475 268.5V454.8"/><path fill="none" stroke="#aaa" stroke-width=".8" d="M104.4 454.3v-2.5M136.8 454.3v-2.5M169.1 454.3v-2.5M201.5 454.3v-2.5M233.9 454.3v-2.5M266.2 454.3v-2.5M298.6 454.3v-2.5M331 454.3v-2.5M507.8 454.3v-2.5M540.1 454.3v-2.5M572.4 454.3v-2.5M604.8 454.3v-2.5M637.1 454.3v-2.5M669.4 454.3v-2.5M701.7 454.3v-2.5M734 454.3v-2.5"/><path fill="none" stroke="#333" stroke-width=".7" d="M346 436.5h1.8M352.7 436.5h-1.8M346 416.9h1.8M352.7 416.9h-1.8M346 397.3h1.8M352.7 397.3h-1.8M346 377.7h1.8M352.7 377.7h-1.8M346 358h1.8M352.7 358h-1.8M346 338.4h1.8M352.7 338.4h-1.8M346 318.8h1.8M352.7 318.8h-1.8M346 299.2h1.8M352.7 299.2h-1.8M346 279.6h1.8M352.7 279.6h-1.8M346 266.5h6.7v188h-6.7zM749 430.6h1.8M755.8 430.6h-1.8M749 403.5h1.8M755.8 403.5h-1.8M749 376.4h1.8M755.8 376.4h-1.8M749 349.3h1.8M755.8 349.3h-1.8M749 322.2h1.8M755.8 322.2h-1.8M749 295.1h1.8M755.8 295.1h-1.8M749 268h1.8M755.8 268h-1.8M749 268h6.8v188.3h-6.8z"/></svg></body></html>
